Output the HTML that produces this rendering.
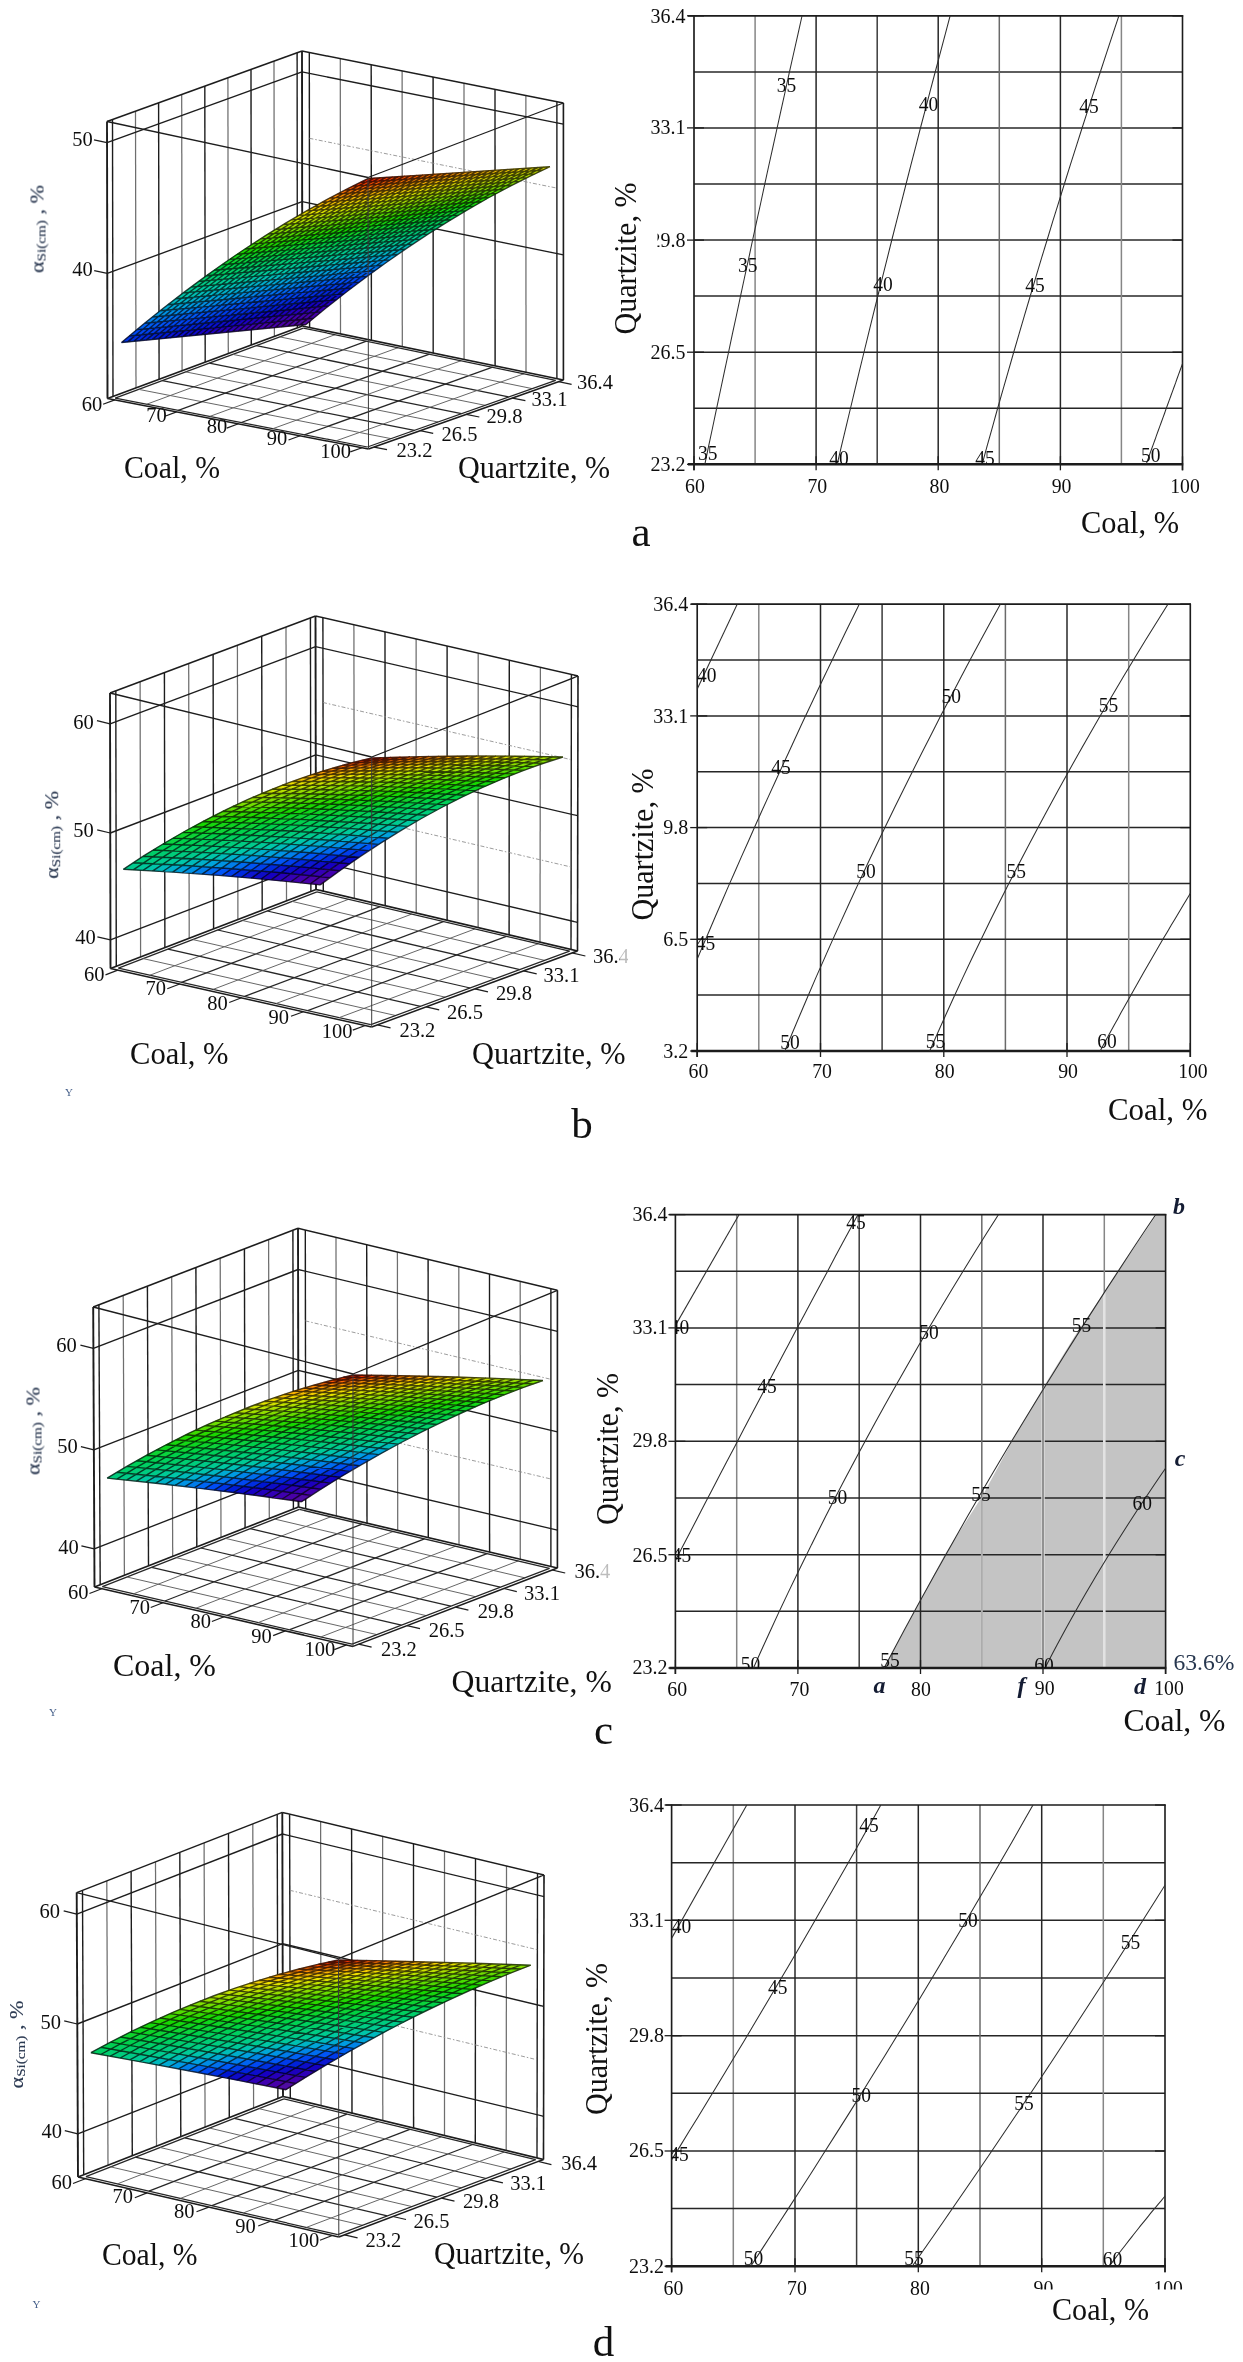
<!DOCTYPE html>
<html lang="en"><head><meta charset="utf-8"><title>Figure</title>
<style>html,body{margin:0;padding:0;background:#fff}svg{display:block}text{font-family:"Liberation Serif", "DejaVu Serif", serif}</style></head><body>
<svg width="1243" height="2362" viewBox="0 0 1243 2362">
<rect width="1243" height="2362" fill="#fff"/>
<defs><filter id="bl" filterUnits="userSpaceOnUse" x="0" y="0" width="1243" height="2362"><feGaussianBlur stdDeviation="0.6"/></filter></defs>
<g filter="url(#bl)">
<g stroke-linecap="butt">
<line x1="113" y1="396.5" x2="112.5" y2="119.5" stroke="#1c1c1c" stroke-width="1.4"/>
<line x1="309.6" y1="327.5" x2="309.3" y2="52.5" stroke="#1c1c1c" stroke-width="1.4"/>
<line x1="136" y1="387.9" x2="135.5" y2="111.2" stroke="#6e6e6e" stroke-width="1.25"/>
<line x1="340.5" y1="333.9" x2="340.3" y2="58.6" stroke="#6e6e6e" stroke-width="1.25"/>
<line x1="159.1" y1="379.3" x2="158.6" y2="102.8" stroke="#1c1c1c" stroke-width="1.4"/>
<line x1="371.4" y1="340.3" x2="371.2" y2="64.8" stroke="#1c1c1c" stroke-width="1.4"/>
<line x1="182.1" y1="370.7" x2="181.7" y2="94.5" stroke="#6e6e6e" stroke-width="1.25"/>
<line x1="402.3" y1="346.7" x2="402.1" y2="70.9" stroke="#6e6e6e" stroke-width="1.25"/>
<line x1="205.2" y1="362.1" x2="204.8" y2="86.1" stroke="#1c1c1c" stroke-width="1.4"/>
<line x1="433.2" y1="353.1" x2="433.1" y2="77.1" stroke="#1c1c1c" stroke-width="1.4"/>
<line x1="228.3" y1="353.6" x2="227.9" y2="77.8" stroke="#6e6e6e" stroke-width="1.25"/>
<line x1="464.1" y1="359.5" x2="464" y2="83.2" stroke="#6e6e6e" stroke-width="1.25"/>
<line x1="251.3" y1="345" x2="251" y2="69.5" stroke="#1c1c1c" stroke-width="1.4"/>
<line x1="495.1" y1="365.9" x2="495" y2="89.4" stroke="#1c1c1c" stroke-width="1.4"/>
<line x1="274.4" y1="336.4" x2="274" y2="61.1" stroke="#6e6e6e" stroke-width="1.25"/>
<line x1="526" y1="372.3" x2="525.9" y2="95.5" stroke="#6e6e6e" stroke-width="1.25"/>
<line x1="297.4" y1="327.8" x2="297.1" y2="52.8" stroke="#1c1c1c" stroke-width="1.4"/>
<line x1="556.9" y1="378.6" x2="556.9" y2="101.7" stroke="#1c1c1c" stroke-width="1.4"/>
<line x1="107" y1="142.6" x2="302" y2="71.9" stroke="#1c1c1c" stroke-width="1.35"/>
<line x1="302" y1="71.9" x2="563.4" y2="124.1" stroke="#1c1c1c" stroke-width="1.35"/>
<line x1="107.3" y1="273.3" x2="302.2" y2="201.7" stroke="#1c1c1c" stroke-width="1.35"/>
<line x1="302.2" y1="201.7" x2="563.4" y2="254.8" stroke="#1c1c1c" stroke-width="1.35"/>
<line x1="309.4" y1="138.3" x2="556.9" y2="188.1" stroke="#8a8a8a" stroke-width="0.85" stroke-dasharray="4 2 1.5 2"/>
<line x1="115.2" y1="398.1" x2="303.4" y2="328.1" stroke="#262626" stroke-width="1.25"/>
<line x1="115.2" y1="398.1" x2="367.4" y2="447" stroke="#262626" stroke-width="1.25"/>
<line x1="146.8" y1="404.2" x2="335" y2="334.7" stroke="#5e5e5e" stroke-width="0.95"/>
<line x1="138.8" y1="389.4" x2="390.9" y2="438.6" stroke="#5e5e5e" stroke-width="0.95"/>
<line x1="178.3" y1="410.3" x2="366.5" y2="341.2" stroke="#262626" stroke-width="1.25"/>
<line x1="162.3" y1="380.6" x2="414.4" y2="430.3" stroke="#262626" stroke-width="1.25"/>
<line x1="209.8" y1="416.4" x2="398" y2="347.7" stroke="#5e5e5e" stroke-width="0.95"/>
<line x1="185.8" y1="371.9" x2="438" y2="422" stroke="#5e5e5e" stroke-width="0.95"/>
<line x1="241.3" y1="422.5" x2="429.5" y2="354.2" stroke="#262626" stroke-width="1.25"/>
<line x1="209.3" y1="363.1" x2="461.5" y2="413.6" stroke="#262626" stroke-width="1.25"/>
<line x1="272.8" y1="428.7" x2="461.1" y2="360.7" stroke="#5e5e5e" stroke-width="0.95"/>
<line x1="232.9" y1="354.4" x2="485" y2="405.3" stroke="#5e5e5e" stroke-width="0.95"/>
<line x1="304.3" y1="434.8" x2="492.6" y2="367.2" stroke="#262626" stroke-width="1.25"/>
<line x1="256.4" y1="345.6" x2="508.6" y2="396.9" stroke="#262626" stroke-width="1.25"/>
<line x1="335.9" y1="440.9" x2="524.1" y2="373.7" stroke="#5e5e5e" stroke-width="0.95"/>
<line x1="279.9" y1="336.9" x2="532.1" y2="388.6" stroke="#5e5e5e" stroke-width="0.95"/>
<line x1="367.4" y1="447" x2="555.6" y2="380.3" stroke="#262626" stroke-width="1.25"/>
<line x1="303.4" y1="328.1" x2="555.6" y2="380.3" stroke="#262626" stroke-width="1.25"/>
<line x1="107.5" y1="398.5" x2="107" y2="121.5" stroke="#1c1c1c" stroke-width="1.9"/>
<line x1="302.3" y1="326" x2="302" y2="51" stroke="#1c1c1c" stroke-width="1.9"/>
<line x1="563.4" y1="380" x2="563.4" y2="103" stroke="#1c1c1c" stroke-width="1.6"/>
<line x1="107" y1="121.5" x2="302" y2="51" stroke="#1c1c1c" stroke-width="1.5"/>
<line x1="302" y1="51" x2="563.4" y2="103" stroke="#1c1c1c" stroke-width="1.5"/>
<line x1="107.5" y1="398.5" x2="302.3" y2="326" stroke="#1c1c1c" stroke-width="1.7"/>
<line x1="302.3" y1="326" x2="563.4" y2="380" stroke="#1c1c1c" stroke-width="1.7"/>
<line x1="107.5" y1="398.5" x2="368.5" y2="449" stroke="#1c1c1c" stroke-width="1.5"/>
<line x1="368.5" y1="449" x2="563.4" y2="380" stroke="#1c1c1c" stroke-width="1.5"/>
<line x1="107" y1="142.6" x2="94" y2="139.8" stroke="#1c1c1c" stroke-width="1.2"/>
<line x1="107.3" y1="273.3" x2="94.2" y2="270.6" stroke="#1c1c1c" stroke-width="1.2"/>
<line x1="114.8" y1="399.9" x2="103.1" y2="404.3" stroke="#1c1c1c" stroke-width="1.2"/>
<line x1="374" y1="447.1" x2="387" y2="449.6" stroke="#1c1c1c" stroke-width="1.2"/>
<line x1="176.6" y1="411.9" x2="164.9" y2="416.2" stroke="#1c1c1c" stroke-width="1.2"/>
<line x1="420.1" y1="430.7" x2="433.2" y2="433.3" stroke="#1c1c1c" stroke-width="1.2"/>
<line x1="238.4" y1="423.8" x2="226.7" y2="428.1" stroke="#1c1c1c" stroke-width="1.2"/>
<line x1="466.2" y1="414.4" x2="479.3" y2="417" stroke="#1c1c1c" stroke-width="1.2"/>
<line x1="300.2" y1="435.8" x2="288.5" y2="440" stroke="#1c1c1c" stroke-width="1.2"/>
<line x1="512.4" y1="398.1" x2="525.4" y2="400.7" stroke="#1c1c1c" stroke-width="1.2"/>
<line x1="362" y1="447.7" x2="350.3" y2="451.9" stroke="#1c1c1c" stroke-width="1.2"/>
<line x1="558.5" y1="381.7" x2="571.6" y2="384.4" stroke="#1c1c1c" stroke-width="1.2"/>
</g>
<g stroke-width="0.6" stroke-linejoin="round" fill="currentColor" stroke="currentColor">
<path d="M299.9 325.1l7.6 -6.3l6.1 -0.6l-7.6 6.3z" color="#52099e"/>
<path d="M307.5 318.8l7.6 -6.2l6.1 -0.6l-7.6 6.2z" color="#4704a9"/>
<path d="M315.1 312.5l7.6 -6.2l6.1 -0.6l-7.6 6.1z" color="#3901b3"/>
<path d="M322.7 306.4l7.6 -6.1l6.1 -0.6l-7.6 6.1z" color="#2204bd"/>
<path d="M330.4 300.3l7.6 -6l6.1 -0.6l-7.6 6z" color="#0a08c7"/>
<path d="M338 294.3l7.6 -5.9l6.1 -0.6l-7.6 5.9z" color="#061bd4"/>
<path d="M345.6 288.5l7.6 -5.8l6.1 -0.6l-7.6 5.8z" color="#042fe2"/>
<path d="M353.2 282.7l7.6 -5.7l6.1 -0.5l-7.6 5.7z" color="#0143f0"/>
<path d="M360.9 277l7.6 -5.6l6.1 -0.5l-7.6 5.6z" color="#0059f5"/>
<path d="M368.5 271.4l7.6 -5.5l6.1 -0.5l-7.6 5.5z" color="#0072ee"/>
<path d="M376.1 265.8l7.6 -5.4l6.1 -0.5l-7.6 5.4z" color="#008ae7"/>
<path d="M383.8 260.4l7.6 -5.3l6.1 -0.5l-7.6 5.3z" color="#00a1df"/>
<path d="M391.4 255.1l7.6 -5.3l6.1 -0.5l-7.6 5.2z" color="#00aecc"/>
<path d="M399 249.8l7.6 -5.2l6.1 -0.5l-7.6 5.2z" color="#00bbba"/>
<path d="M406.6 244.7l7.6 -5.1l6.1 -0.5l-7.6 5.1z" color="#00c8a8"/>
<path d="M414.3 239.6l7.6 -5l6.1 -0.5l-7.6 5z" color="#00ca96"/>
<path d="M421.9 234.6l7.6 -4.9l6.1 -0.5l-7.6 4.9z" color="#00cc84"/>
<path d="M429.5 229.7l7.6 -4.8l6.1 -0.5l-7.6 4.8z" color="#00cd72"/>
<path d="M437.2 224.9l7.6 -4.7l6.1 -0.5l-7.6 4.7z" color="#00cf60"/>
<path d="M444.8 220.2l7.6 -4.6l6.1 -0.5l-7.6 4.6z" color="#03d14d"/>
<path d="M452.4 215.6l7.6 -4.5l6.1 -0.5l-7.6 4.5z" color="#09d338"/>
<path d="M460 211l7.6 -4.4l6.1 -0.5l-7.6 4.4z" color="#0ed523"/>
<path d="M467.7 206.6l7.6 -4.4l6.1 -0.5l-7.6 4.3z" color="#14d70f"/>
<path d="M475.3 202.2l7.6 -4.3l6.1 -0.4l-7.6 4.3z" color="#1ed800"/>
<path d="M482.9 198l7.6 -4.2l6.1 -0.4l-7.6 4.2z" color="#39da00"/>
<path d="M490.5 193.8l7.6 -4.1l6.1 -0.4l-7.6 4.1z" color="#53db00"/>
<path d="M498.2 189.7l7.6 -4l6.1 -0.4l-7.6 4z" color="#6cdd00"/>
<path d="M505.8 185.7l7.6 -3.9l6.1 -0.4l-7.6 3.9z" color="#85de00"/>
<path d="M513.4 181.8l7.6 -3.8l6.1 -0.4l-7.6 3.8z" color="#9ee000"/>
<path d="M521.1 178l7.6 -3.7l6.1 -0.4l-7.6 3.7z" color="#b3e100"/>
<path d="M528.7 174.3l7.6 -3.6l6.1 -0.4l-7.6 3.6z" color="#c7e200"/>
<path d="M536.3 170.6l7.6 -3.5l6.1 -0.4l-7.6 3.5z" color="#dbe300"/>
<path d="M293.7 325.7l7.6 -6.3l6.1 -0.6l-7.6 6.3z" color="#5008a0"/>
<path d="M301.3 319.4l7.6 -6.2l6.1 -0.6l-7.6 6.2z" color="#4503ab"/>
<path d="M309 313.1l7.6 -6.2l6.1 -0.6l-7.6 6.2z" color="#3402b5"/>
<path d="M316.6 307l7.6 -6.1l6.1 -0.6l-7.6 6.1z" color="#1d05bf"/>
<path d="M324.2 300.9l7.6 -6l6.1 -0.6l-7.6 6z" color="#080aca"/>
<path d="M331.9 294.9l7.6 -5.9l6.1 -0.6l-7.6 5.9z" color="#051fd7"/>
<path d="M339.5 289l7.6 -5.8l6.1 -0.6l-7.6 5.8z" color="#0334e5"/>
<path d="M347.1 283.2l7.6 -5.7l6.1 -0.5l-7.6 5.7z" color="#0148f3"/>
<path d="M354.7 277.5l7.6 -5.6l6.1 -0.5l-7.6 5.6z" color="#005ff4"/>
<path d="M362.4 271.9l7.6 -5.5l6.1 -0.5l-7.6 5.5z" color="#0077ec"/>
<path d="M370 266.4l7.6 -5.4l6.1 -0.5l-7.6 5.4z" color="#008fe5"/>
<path d="M377.6 260.9l7.6 -5.3l6.1 -0.5l-7.6 5.3z" color="#00a4da"/>
<path d="M385.3 255.6l7.6 -5.3l6.1 -0.5l-7.6 5.3z" color="#00b1c8"/>
<path d="M392.9 250.3l7.6 -5.2l6.1 -0.5l-7.6 5.2z" color="#00beb6"/>
<path d="M400.5 245.2l7.6 -5.1l6.1 -0.5l-7.6 5.1z" color="#00c8a4"/>
<path d="M408.2 240.1l7.6 -5l6.1 -0.5l-7.6 5z" color="#00ca91"/>
<path d="M415.8 235.1l7.6 -4.9l6.1 -0.5l-7.6 4.9z" color="#00cc7f"/>
<path d="M423.4 230.2l7.6 -4.8l6.1 -0.5l-7.6 4.8z" color="#00ce6d"/>
<path d="M431.1 225.4l7.6 -4.7l6.1 -0.5l-7.6 4.7z" color="#00d05b"/>
<path d="M438.7 220.7l7.6 -4.6l6.1 -0.5l-7.6 4.6z" color="#05d247"/>
<path d="M446.3 216l7.6 -4.5l6.1 -0.5l-7.6 4.5z" color="#0ad332"/>
<path d="M453.9 211.5l7.6 -4.5l6.1 -0.5l-7.6 4.4z" color="#10d51d"/>
<path d="M461.6 207l7.6 -4.4l6.1 -0.5l-7.6 4.4z" color="#15d709"/>
<path d="M469.2 202.7l7.6 -4.3l6.1 -0.4l-7.6 4.3z" color="#26d900"/>
<path d="M476.8 198.4l7.6 -4.2l6.1 -0.4l-7.6 4.2z" color="#41da00"/>
<path d="M484.5 194.2l7.6 -4.1l6.1 -0.4l-7.6 4.1z" color="#5adc00"/>
<path d="M492.1 190.1l7.6 -4l6.1 -0.4l-7.6 4z" color="#74dd00"/>
<path d="M499.7 186.1l7.6 -3.9l6.1 -0.4l-7.6 3.9z" color="#8ddf00"/>
<path d="M507.4 182.2l7.6 -3.8l6.1 -0.4l-7.6 3.8z" color="#a5e000"/>
<path d="M515 178.4l7.6 -3.7l6.1 -0.4l-7.6 3.7z" color="#b9e100"/>
<path d="M522.6 174.7l7.6 -3.6l6.1 -0.4l-7.6 3.6z" color="#cde200"/>
<path d="M530.3 171l7.6 -3.6l6.1 -0.4l-7.6 3.5z" color="#e1e300"/>
<path d="M287.6 326.3l7.6 -6.3l6.1 -0.6l-7.6 6.3z" color="#4d07a3"/>
<path d="M295.2 320l7.6 -6.3l6.1 -0.6l-7.6 6.2z" color="#4302ad"/>
<path d="M302.8 313.7l7.6 -6.2l6.1 -0.6l-7.6 6.2z" color="#2f02b7"/>
<path d="M310.5 307.5l7.6 -6.1l6.1 -0.6l-7.6 6.1z" color="#1806c1"/>
<path d="M318.1 301.5l7.6 -6l6.1 -0.6l-7.6 6z" color="#070fcd"/>
<path d="M325.7 295.5l7.6 -5.9l6.1 -0.6l-7.6 5.9z" color="#0524db"/>
<path d="M333.4 289.6l7.6 -5.8l6.1 -0.6l-7.6 5.8z" color="#0338e8"/>
<path d="M341 283.8l7.6 -5.7l6.1 -0.5l-7.6 5.7z" color="#004df6"/>
<path d="M348.6 278.1l7.6 -5.6l6.1 -0.5l-7.6 5.6z" color="#0064f2"/>
<path d="M356.3 272.4l7.6 -5.5l6.1 -0.5l-7.6 5.5z" color="#007deb"/>
<path d="M363.9 266.9l7.6 -5.4l6.1 -0.5l-7.6 5.4z" color="#0095e3"/>
<path d="M371.5 261.5l7.6 -5.4l6.1 -0.5l-7.6 5.3z" color="#00a7d6"/>
<path d="M379.2 256.1l7.6 -5.3l6.1 -0.5l-7.6 5.3z" color="#00b4c3"/>
<path d="M386.8 250.8l7.6 -5.2l6.1 -0.5l-7.6 5.2z" color="#00c1b1"/>
<path d="M394.4 245.7l7.6 -5.1l6.1 -0.5l-7.6 5.1z" color="#00c99f"/>
<path d="M402.1 240.6l7.6 -5l6.1 -0.5l-7.6 5z" color="#00cb8c"/>
<path d="M409.7 235.6l7.6 -4.9l6.1 -0.5l-7.6 4.9z" color="#00cd7a"/>
<path d="M417.3 230.7l7.6 -4.8l6.1 -0.5l-7.6 4.8z" color="#00ce68"/>
<path d="M425 225.9l7.6 -4.7l6.1 -0.5l-7.6 4.7z" color="#00d056"/>
<path d="M432.6 221.1l7.6 -4.6l6.1 -0.5l-7.6 4.6z" color="#06d241"/>
<path d="M440.2 216.5l7.6 -4.5l6.1 -0.5l-7.6 4.5z" color="#0cd42c"/>
<path d="M447.9 212l7.6 -4.5l6.1 -0.5l-7.6 4.5z" color="#12d618"/>
<path d="M455.5 207.5l7.6 -4.4l6.1 -0.5l-7.6 4.4z" color="#17d804"/>
<path d="M463.1 203.1l7.6 -4.3l6.1 -0.4l-7.6 4.3z" color="#2ed900"/>
<path d="M470.8 198.9l7.6 -4.2l6.1 -0.4l-7.6 4.2z" color="#48db00"/>
<path d="M478.4 194.7l7.6 -4.1l6.1 -0.4l-7.6 4.1z" color="#62dc00"/>
<path d="M486 190.6l7.6 -4l6.1 -0.4l-7.6 4z" color="#7cde00"/>
<path d="M493.7 186.6l7.6 -3.9l6.1 -0.4l-7.6 3.9z" color="#95df00"/>
<path d="M501.3 182.7l7.6 -3.8l6.1 -0.4l-7.6 3.8z" color="#abe100"/>
<path d="M508.9 178.8l7.6 -3.7l6.1 -0.4l-7.6 3.7z" color="#c0e200"/>
<path d="M516.6 175.1l7.6 -3.6l6.1 -0.4l-7.6 3.6z" color="#d4e300"/>
<path d="M524.2 171.4l7.6 -3.6l6.1 -0.4l-7.6 3.6z" color="#e8e400"/>
<path d="M281.4 326.9l7.6 -6.3l6.1 -0.6l-7.6 6.3z" color="#4b06a5"/>
<path d="M289 320.6l7.6 -6.3l6.1 -0.6l-7.6 6.3z" color="#4100af"/>
<path d="M296.7 314.3l7.6 -6.2l6.1 -0.6l-7.6 6.2z" color="#2a03b9"/>
<path d="M304.3 308.1l7.6 -6.1l6.1 -0.6l-7.6 6.1z" color="#1306c3"/>
<path d="M311.9 302l7.6 -6l6.1 -0.6l-7.6 6z" color="#0714d0"/>
<path d="M319.6 296.1l7.6 -5.9l6.1 -0.6l-7.6 5.9z" color="#0428de"/>
<path d="M327.2 290.1l7.6 -5.8l6.1 -0.6l-7.6 5.8z" color="#023deb"/>
<path d="M334.9 284.3l7.6 -5.7l6.1 -0.5l-7.6 5.7z" color="#0051f8"/>
<path d="M342.5 278.6l7.6 -5.6l6.1 -0.5l-7.6 5.6z" color="#006af0"/>
<path d="M350.1 273l7.6 -5.5l6.1 -0.5l-7.6 5.5z" color="#0083e9"/>
<path d="M357.8 267.4l7.6 -5.5l6.1 -0.5l-7.6 5.4z" color="#009be2"/>
<path d="M365.4 262l7.6 -5.4l6.1 -0.5l-7.6 5.4z" color="#00aad1"/>
<path d="M373 256.6l7.6 -5.3l6.1 -0.5l-7.6 5.3z" color="#00b8bf"/>
<path d="M380.7 251.4l7.6 -5.2l6.1 -0.5l-7.6 5.2z" color="#00c5ad"/>
<path d="M388.3 246.2l7.6 -5.1l6.1 -0.5l-7.6 5.1z" color="#00c99a"/>
<path d="M396 241.1l7.6 -5l6.1 -0.5l-7.6 5z" color="#00cb88"/>
<path d="M403.6 236.1l7.6 -4.9l6.1 -0.5l-7.6 4.9z" color="#00cd75"/>
<path d="M411.2 231.2l7.6 -4.8l6.1 -0.5l-7.6 4.8z" color="#00cf63"/>
<path d="M418.9 226.4l7.6 -4.7l6.1 -0.5l-7.6 4.7z" color="#02d150"/>
<path d="M426.5 221.6l7.6 -4.6l6.1 -0.5l-7.6 4.6z" color="#08d33b"/>
<path d="M434.1 217l7.6 -4.6l6.1 -0.5l-7.6 4.5z" color="#0dd427"/>
<path d="M441.8 212.4l7.6 -4.5l6.1 -0.5l-7.6 4.5z" color="#13d612"/>
<path d="M449.4 208l7.6 -4.4l6.1 -0.5l-7.6 4.4z" color="#1bd800"/>
<path d="M457 203.6l7.6 -4.3l6.1 -0.4l-7.6 4.3z" color="#36da00"/>
<path d="M464.7 199.3l7.6 -4.2l6.1 -0.4l-7.6 4.2z" color="#50db00"/>
<path d="M472.3 195.1l7.6 -4.1l6.1 -0.4l-7.6 4.1z" color="#6add00"/>
<path d="M480 191l7.6 -4l6.1 -0.4l-7.6 4z" color="#84de00"/>
<path d="M487.6 187l7.6 -3.9l6.1 -0.4l-7.6 3.9z" color="#9de000"/>
<path d="M495.2 183.1l7.6 -3.8l6.1 -0.4l-7.6 3.8z" color="#b2e100"/>
<path d="M502.9 179.2l7.6 -3.7l6.1 -0.4l-7.6 3.7z" color="#c7e200"/>
<path d="M510.5 175.5l7.6 -3.7l6.1 -0.4l-7.6 3.6z" color="#dbe300"/>
<path d="M518.1 171.8l7.6 -3.6l6.1 -0.4l-7.6 3.6z" color="#efe400"/>
<path d="M275.2 327.5l7.6 -6.4l6.1 -0.6l-7.6 6.3z" color="#4905a7"/>
<path d="M282.9 321.1l7.6 -6.3l6.1 -0.6l-7.6 6.3z" color="#3d00b1"/>
<path d="M290.5 314.9l7.6 -6.2l6.1 -0.6l-7.6 6.2z" color="#2504bc"/>
<path d="M298.2 308.7l7.6 -6.1l6.1 -0.6l-7.6 6.1z" color="#0e07c6"/>
<path d="M305.8 302.6l7.6 -6l6.1 -0.6l-7.6 6z" color="#0618d3"/>
<path d="M313.4 296.6l7.6 -5.9l6.1 -0.6l-7.6 5.9z" color="#042de1"/>
<path d="M321.1 290.7l7.6 -5.8l6.1 -0.6l-7.6 5.8z" color="#0241ee"/>
<path d="M328.7 284.9l7.6 -5.7l6.1 -0.5l-7.6 5.7z" color="#0057f6"/>
<path d="M336.4 279.2l7.6 -5.6l6.1 -0.5l-7.6 5.6z" color="#0070ee"/>
<path d="M344 273.5l7.6 -5.5l6.1 -0.5l-7.6 5.5z" color="#0088e7"/>
<path d="M351.6 268l7.6 -5.5l6.1 -0.5l-7.6 5.5z" color="#00a0e0"/>
<path d="M359.3 262.5l7.6 -5.4l6.1 -0.5l-7.6 5.4z" color="#00aecd"/>
<path d="M366.9 257.2l7.6 -5.3l6.1 -0.5l-7.6 5.3z" color="#00bbba"/>
<path d="M374.6 251.9l7.6 -5.2l6.1 -0.5l-7.6 5.2z" color="#00c8a8"/>
<path d="M382.2 246.7l7.6 -5.1l6.1 -0.5l-7.6 5.1z" color="#00ca95"/>
<path d="M389.8 241.6l7.6 -5l6.1 -0.5l-7.6 5z" color="#00cc83"/>
<path d="M397.5 236.6l7.6 -4.9l6.1 -0.5l-7.6 4.9z" color="#00ce71"/>
<path d="M405.1 231.7l7.6 -4.8l6.1 -0.5l-7.6 4.8z" color="#00cf5f"/>
<path d="M412.8 226.8l7.6 -4.7l6.1 -0.5l-7.6 4.7z" color="#04d14b"/>
<path d="M420.4 222.1l7.6 -4.6l6.1 -0.5l-7.6 4.6z" color="#09d336"/>
<path d="M428 217.4l7.6 -4.6l6.1 -0.5l-7.6 4.6z" color="#0fd521"/>
<path d="M435.7 212.9l7.6 -4.5l6.1 -0.5l-7.6 4.5z" color="#15d70c"/>
<path d="M443.3 208.4l7.6 -4.4l6.1 -0.5l-7.6 4.4z" color="#23d900"/>
<path d="M451 204l7.6 -4.3l6.1 -0.4l-7.6 4.3z" color="#3dda00"/>
<path d="M458.6 199.7l7.6 -4.2l6.1 -0.4l-7.6 4.2z" color="#58dc00"/>
<path d="M466.2 195.6l7.6 -4.1l6.1 -0.4l-7.6 4.1z" color="#72dd00"/>
<path d="M473.9 191.4l7.6 -4l6.1 -0.4l-7.6 4z" color="#8bdf00"/>
<path d="M481.5 187.4l7.6 -3.9l6.1 -0.4l-7.6 3.9z" color="#a4e000"/>
<path d="M489.2 183.5l7.6 -3.8l6.1 -0.4l-7.6 3.8z" color="#b9e100"/>
<path d="M496.8 179.6l7.6 -3.8l6.1 -0.4l-7.6 3.7z" color="#cde200"/>
<path d="M504.4 175.9l7.6 -3.7l6.1 -0.4l-7.6 3.7z" color="#e1e300"/>
<path d="M512.1 172.2l7.6 -3.6l6.1 -0.4l-7.6 3.6z" color="#f1df00"/>
<path d="M269.1 328.1l7.6 -6.4l6.1 -0.6l-7.6 6.4z" color="#4703a9"/>
<path d="M276.7 321.7l7.6 -6.3l6.1 -0.6l-7.6 6.3z" color="#3801b3"/>
<path d="M284.4 315.5l7.6 -6.2l6.1 -0.6l-7.6 6.2z" color="#2005be"/>
<path d="M292 309.3l7.6 -6.1l6.1 -0.6l-7.6 6.1z" color="#0808c8"/>
<path d="M299.7 303.2l7.6 -6l6.1 -0.6l-7.6 6z" color="#061dd6"/>
<path d="M307.3 297.2l7.6 -5.9l6.1 -0.6l-7.6 5.9z" color="#0331e4"/>
<path d="M315 291.3l7.6 -5.8l6.1 -0.6l-7.6 5.8z" color="#0146f1"/>
<path d="M322.6 285.4l7.6 -5.7l6.1 -0.5l-7.6 5.7z" color="#005df4"/>
<path d="M330.2 279.7l7.6 -5.6l6.1 -0.5l-7.6 5.6z" color="#0075ed"/>
<path d="M337.9 274.1l7.6 -5.6l6.1 -0.5l-7.6 5.5z" color="#008ee5"/>
<path d="M345.5 268.5l7.6 -5.5l6.1 -0.5l-7.6 5.5z" color="#00a3db"/>
<path d="M353.2 263.1l7.6 -5.4l6.1 -0.5l-7.6 5.4z" color="#00b1c8"/>
<path d="M360.8 257.7l7.6 -5.3l6.1 -0.5l-7.6 5.3z" color="#00beb6"/>
<path d="M368.5 252.4l7.6 -5.2l6.1 -0.5l-7.6 5.2z" color="#00c8a4"/>
<path d="M376.1 247.2l7.6 -5.1l6.1 -0.5l-7.6 5.1z" color="#00ca91"/>
<path d="M383.7 242.1l7.6 -5l6.1 -0.5l-7.6 5z" color="#00cc7e"/>
<path d="M391.4 237.1l7.6 -4.9l6.1 -0.5l-7.6 4.9z" color="#00ce6c"/>
<path d="M399 232.2l7.6 -4.8l6.1 -0.5l-7.6 4.8z" color="#00d05a"/>
<path d="M406.7 227.3l7.6 -4.7l6.1 -0.5l-7.6 4.7z" color="#05d245"/>
<path d="M414.3 222.6l7.6 -4.7l6.1 -0.5l-7.6 4.6z" color="#0bd430"/>
<path d="M422 217.9l7.6 -4.6l6.1 -0.5l-7.6 4.6z" color="#11d61b"/>
<path d="M429.6 213.4l7.6 -4.5l6.1 -0.5l-7.6 4.5z" color="#16d707"/>
<path d="M437.2 208.9l7.6 -4.4l6.1 -0.5l-7.6 4.4z" color="#2ad900"/>
<path d="M444.9 204.5l7.6 -4.3l6.1 -0.4l-7.6 4.3z" color="#45db00"/>
<path d="M452.5 200.2l7.6 -4.2l6.1 -0.4l-7.6 4.2z" color="#60dc00"/>
<path d="M460.2 196l7.6 -4.1l6.1 -0.4l-7.6 4.1z" color="#7ade00"/>
<path d="M467.8 191.9l7.6 -4l6.1 -0.4l-7.6 4z" color="#93df00"/>
<path d="M475.4 187.8l7.6 -3.9l6.1 -0.4l-7.6 3.9z" color="#aae100"/>
<path d="M483.1 183.9l7.6 -3.8l6.1 -0.4l-7.6 3.8z" color="#bfe200"/>
<path d="M490.7 180.1l7.6 -3.8l6.1 -0.4l-7.6 3.8z" color="#d4e300"/>
<path d="M498.4 176.3l7.6 -3.7l6.1 -0.4l-7.6 3.7z" color="#e8e400"/>
<path d="M506 172.6l7.6 -3.6l6.1 -0.4l-7.6 3.6z" color="#f2d800"/>
<path d="M263 328.7l7.6 -6.4l6.1 -0.6l-7.6 6.4z" color="#4502ab"/>
<path d="M270.6 322.3l7.6 -6.3l6.1 -0.6l-7.6 6.3z" color="#3302b6"/>
<path d="M278.2 316.1l7.6 -6.2l6.1 -0.6l-7.6 6.2z" color="#1b05c0"/>
<path d="M285.9 309.9l7.6 -6.1l6.1 -0.6l-7.6 6.1z" color="#080ccb"/>
<path d="M293.5 303.8l7.6 -6l6.1 -0.6l-7.6 6z" color="#0521d9"/>
<path d="M301.2 297.8l7.6 -5.9l6.1 -0.6l-7.6 5.9z" color="#0336e7"/>
<path d="M308.8 291.8l7.6 -5.8l6.1 -0.6l-7.6 5.8z" color="#014bf4"/>
<path d="M316.5 286l7.6 -5.7l6.1 -0.5l-7.6 5.7z" color="#0062f3"/>
<path d="M324.1 280.3l7.6 -5.7l6.1 -0.5l-7.6 5.6z" color="#007beb"/>
<path d="M331.8 274.6l7.6 -5.6l6.1 -0.5l-7.6 5.6z" color="#0094e4"/>
<path d="M339.4 269.1l7.6 -5.5l6.1 -0.5l-7.6 5.5z" color="#00a7d7"/>
<path d="M347 263.6l7.6 -5.4l6.1 -0.5l-7.6 5.4z" color="#00b4c4"/>
<path d="M354.7 258.2l7.6 -5.3l6.1 -0.5l-7.6 5.3z" color="#00c1b1"/>
<path d="M362.3 252.9l7.6 -5.2l6.1 -0.5l-7.6 5.2z" color="#00c99f"/>
<path d="M370 247.7l7.6 -5.1l6.1 -0.5l-7.6 5.1z" color="#00cb8c"/>
<path d="M377.6 242.6l7.6 -5l6.1 -0.5l-7.6 5z" color="#00cd7a"/>
<path d="M385.3 237.6l7.6 -4.9l6.1 -0.5l-7.6 4.9z" color="#00ce67"/>
<path d="M392.9 232.6l7.6 -4.8l6.1 -0.5l-7.6 4.8z" color="#01d055"/>
<path d="M400.6 227.8l7.6 -4.8l6.1 -0.5l-7.6 4.7z" color="#07d23f"/>
<path d="M408.2 223.1l7.6 -4.7l6.1 -0.5l-7.6 4.7z" color="#0cd42a"/>
<path d="M415.9 218.4l7.6 -4.6l6.1 -0.5l-7.6 4.6z" color="#12d615"/>
<path d="M423.5 213.8l7.6 -4.5l6.1 -0.5l-7.6 4.5z" color="#18d801"/>
<path d="M431.1 209.3l7.6 -4.4l6.1 -0.5l-7.6 4.4z" color="#32da00"/>
<path d="M438.8 204.9l7.6 -4.3l6.1 -0.4l-7.6 4.3z" color="#4ddb00"/>
<path d="M446.4 200.6l7.6 -4.2l6.1 -0.4l-7.6 4.2z" color="#67dd00"/>
<path d="M454.1 196.4l7.6 -4.1l6.1 -0.4l-7.6 4.1z" color="#81de00"/>
<path d="M461.7 192.3l7.6 -4l6.1 -0.4l-7.6 4z" color="#9be000"/>
<path d="M469.4 188.3l7.6 -3.9l6.1 -0.4l-7.6 3.9z" color="#b1e100"/>
<path d="M477 184.3l7.6 -3.9l6.1 -0.4l-7.6 3.8z" color="#c6e200"/>
<path d="M484.7 180.5l7.6 -3.8l6.1 -0.4l-7.6 3.8z" color="#dae300"/>
<path d="M492.3 176.7l7.6 -3.7l6.1 -0.4l-7.6 3.7z" color="#efe400"/>
<path d="M500 173l7.6 -3.6l6.1 -0.4l-7.6 3.6z" color="#f3d200"/>
<path d="M256.8 329.3l7.6 -6.4l6.1 -0.6l-7.6 6.4z" color="#4301ad"/>
<path d="M264.4 322.9l7.6 -6.3l6.1 -0.6l-7.6 6.3z" color="#2e03b8"/>
<path d="M272.1 316.6l7.6 -6.2l6.1 -0.6l-7.6 6.2z" color="#1606c2"/>
<path d="M279.7 310.4l7.6 -6.1l6.1 -0.6l-7.6 6.1z" color="#0711ce"/>
<path d="M287.4 304.3l7.6 -6l6.1 -0.6l-7.6 6z" color="#0526dc"/>
<path d="M295 298.3l7.6 -5.9l6.1 -0.6l-7.6 5.9z" color="#023bea"/>
<path d="M302.7 292.4l7.6 -5.8l6.1 -0.6l-7.6 5.8z" color="#004ff7"/>
<path d="M310.3 286.6l7.6 -5.7l6.1 -0.5l-7.6 5.7z" color="#0068f1"/>
<path d="M318 280.8l7.6 -5.7l6.1 -0.5l-7.6 5.7z" color="#0081e9"/>
<path d="M325.6 275.2l7.6 -5.6l6.1 -0.5l-7.6 5.6z" color="#0099e2"/>
<path d="M333.3 269.6l7.6 -5.5l6.1 -0.5l-7.6 5.5z" color="#00aad2"/>
<path d="M340.9 264.1l7.6 -5.4l6.1 -0.5l-7.6 5.4z" color="#00b7c0"/>
<path d="M348.6 258.7l7.6 -5.3l6.1 -0.5l-7.6 5.3z" color="#00c4ad"/>
<path d="M356.2 253.4l7.6 -5.2l6.1 -0.5l-7.6 5.2z" color="#00c99a"/>
<path d="M363.9 248.2l7.6 -5.1l6.1 -0.5l-7.6 5.1z" color="#00cb87"/>
<path d="M371.5 243.1l7.6 -5l6.1 -0.5l-7.6 5z" color="#00cd75"/>
<path d="M379.2 238.1l7.6 -4.9l6.1 -0.5l-7.6 4.9z" color="#00cf63"/>
<path d="M386.8 233.1l7.6 -4.8l6.1 -0.5l-7.6 4.8z" color="#02d14f"/>
<path d="M394.5 228.3l7.6 -4.8l6.1 -0.5l-7.6 4.8z" color="#08d33a"/>
<path d="M402.1 223.5l7.6 -4.7l6.1 -0.5l-7.6 4.7z" color="#0ed524"/>
<path d="M409.8 218.9l7.6 -4.6l6.1 -0.5l-7.6 4.6z" color="#14d710"/>
<path d="M417.4 214.3l7.6 -4.5l6.1 -0.5l-7.6 4.5z" color="#1fd800"/>
<path d="M425.1 209.8l7.6 -4.4l6.1 -0.5l-7.6 4.4z" color="#3ada00"/>
<path d="M432.7 205.4l7.6 -4.3l6.1 -0.4l-7.6 4.3z" color="#55dc00"/>
<path d="M440.4 201.1l7.6 -4.2l6.1 -0.4l-7.6 4.2z" color="#6fdd00"/>
<path d="M448 196.9l7.6 -4.1l6.1 -0.4l-7.6 4.1z" color="#89df00"/>
<path d="M455.7 192.7l7.6 -4l6.1 -0.4l-7.6 4z" color="#a2e000"/>
<path d="M463.3 188.7l7.6 -3.9l6.1 -0.4l-7.6 3.9z" color="#b8e100"/>
<path d="M471 184.7l7.6 -3.9l6.1 -0.4l-7.6 3.9z" color="#cde200"/>
<path d="M478.6 180.9l7.6 -3.8l6.1 -0.4l-7.6 3.8z" color="#e1e300"/>
<path d="M486.2 177.1l7.6 -3.7l6.1 -0.4l-7.6 3.7z" color="#f1df00"/>
<path d="M493.9 173.4l7.6 -3.6l6.1 -0.4l-7.6 3.6z" color="#f4cb00"/>
<path d="M250.7 329.9l7.7 -6.4l6.1 -0.6l-7.6 6.4z" color="#4100af"/>
<path d="M258.3 323.5l7.7 -6.3l6.1 -0.6l-7.6 6.3z" color="#2903ba"/>
<path d="M266 317.2l7.7 -6.2l6.1 -0.6l-7.6 6.2z" color="#1107c4"/>
<path d="M273.6 311l7.7 -6.1l6.1 -0.6l-7.6 6.1z" color="#0715d1"/>
<path d="M281.3 304.9l7.7 -6l6.1 -0.6l-7.6 6z" color="#042adf"/>
<path d="M288.9 298.9l7.7 -5.9l6.1 -0.6l-7.6 5.9z" color="#023fed"/>
<path d="M296.6 293l7.7 -5.8l6.1 -0.6l-7.6 5.8z" color="#0055f7"/>
<path d="M304.2 287.1l7.7 -5.8l6.1 -0.5l-7.6 5.7z" color="#006eef"/>
<path d="M311.9 281.4l7.7 -5.7l6.1 -0.5l-7.6 5.7z" color="#0086e8"/>
<path d="M319.5 275.7l7.7 -5.6l6.1 -0.5l-7.6 5.6z" color="#009fe0"/>
<path d="M327.2 270.1l7.7 -5.5l6.1 -0.5l-7.6 5.5z" color="#00adce"/>
<path d="M334.8 264.6l7.7 -5.4l6.1 -0.5l-7.6 5.4z" color="#00babb"/>
<path d="M342.5 259.2l7.7 -5.3l6.1 -0.5l-7.6 5.3z" color="#00c8a9"/>
<path d="M350.1 253.9l7.7 -5.2l6.1 -0.5l-7.6 5.2z" color="#00ca96"/>
<path d="M357.8 248.7l7.7 -5.1l6.1 -0.5l-7.6 5.1z" color="#00cc83"/>
<path d="M365.4 243.6l7.7 -5l6.1 -0.5l-7.6 5z" color="#00ce70"/>
<path d="M373.1 238.6l7.7 -4.9l6.1 -0.5l-7.6 4.9z" color="#00cf5e"/>
<path d="M380.7 233.6l7.7 -4.9l6.1 -0.5l-7.6 4.8z" color="#04d149"/>
<path d="M388.4 228.8l7.7 -4.8l6.1 -0.5l-7.6 4.8z" color="#0ad334"/>
<path d="M396 224l7.7 -4.7l6.1 -0.5l-7.6 4.7z" color="#10d51f"/>
<path d="M403.7 219.3l7.7 -4.6l6.1 -0.5l-7.6 4.6z" color="#15d70a"/>
<path d="M411.3 214.7l7.7 -4.5l6.1 -0.5l-7.6 4.5z" color="#26d900"/>
<path d="M419 210.3l7.7 -4.4l6.1 -0.5l-7.6 4.4z" color="#42da00"/>
<path d="M426.6 205.8l7.7 -4.3l6.1 -0.4l-7.6 4.3z" color="#5cdc00"/>
<path d="M434.3 201.5l7.7 -4.2l6.1 -0.4l-7.6 4.2z" color="#77de00"/>
<path d="M441.9 197.3l7.7 -4.1l6.1 -0.4l-7.6 4.1z" color="#91df00"/>
<path d="M449.6 193.2l7.7 -4l6.1 -0.4l-7.6 4z" color="#a9e000"/>
<path d="M457.2 189.1l7.7 -4l6.1 -0.4l-7.6 3.9z" color="#bee200"/>
<path d="M464.9 185.2l7.7 -3.9l6.1 -0.4l-7.6 3.9z" color="#d3e300"/>
<path d="M472.5 181.3l7.7 -3.8l6.1 -0.4l-7.6 3.8z" color="#e8e400"/>
<path d="M480.2 177.5l7.7 -3.7l6.1 -0.4l-7.6 3.7z" color="#f2d800"/>
<path d="M487.8 173.8l7.7 -3.6l6.1 -0.4l-7.6 3.6z" color="#f6c400"/>
<path d="M244.5 330.5l7.7 -6.4l6.1 -0.6l-7.7 6.4z" color="#3c01b2"/>
<path d="M252.2 324.1l7.7 -6.3l6.1 -0.6l-7.7 6.3z" color="#2404bc"/>
<path d="M259.8 317.8l7.7 -6.2l6.1 -0.6l-7.7 6.2z" color="#0c07c6"/>
<path d="M267.5 311.6l7.7 -6.1l6.1 -0.6l-7.7 6.1z" color="#061ad4"/>
<path d="M275.1 305.5l7.7 -6l6.1 -0.6l-7.7 6z" color="#042fe2"/>
<path d="M282.8 299.5l7.7 -5.9l6.1 -0.6l-7.7 5.9z" color="#0144f0"/>
<path d="M290.4 293.5l7.7 -5.8l6.1 -0.6l-7.7 5.8z" color="#005af5"/>
<path d="M298.1 287.7l7.7 -5.8l6.1 -0.5l-7.7 5.8z" color="#0073ed"/>
<path d="M305.7 281.9l7.7 -5.7l6.1 -0.5l-7.7 5.7z" color="#008ce6"/>
<path d="M313.4 276.2l7.7 -5.6l6.1 -0.5l-7.7 5.6z" color="#00a3dc"/>
<path d="M321 270.7l7.7 -5.5l6.1 -0.5l-7.7 5.5z" color="#00b0c9"/>
<path d="M328.7 265.2l7.7 -5.4l6.1 -0.5l-7.7 5.4z" color="#00beb7"/>
<path d="M336.4 259.8l7.7 -5.3l6.1 -0.5l-7.7 5.3z" color="#00c8a4"/>
<path d="M344 254.5l7.7 -5.2l6.1 -0.5l-7.7 5.2z" color="#00ca91"/>
<path d="M351.7 249.2l7.7 -5.1l6.1 -0.5l-7.7 5.1z" color="#00cc7e"/>
<path d="M359.3 244.1l7.7 -5l6.1 -0.5l-7.7 5z" color="#00ce6c"/>
<path d="M367 239.1l7.7 -5l6.1 -0.5l-7.7 4.9z" color="#00d059"/>
<path d="M374.6 234.1l7.7 -4.9l6.1 -0.5l-7.7 4.9z" color="#06d244"/>
<path d="M382.3 229.3l7.7 -4.8l6.1 -0.5l-7.7 4.8z" color="#0bd42e"/>
<path d="M389.9 224.5l7.7 -4.7l6.1 -0.5l-7.7 4.7z" color="#11d619"/>
<path d="M397.6 219.8l7.7 -4.6l6.1 -0.5l-7.7 4.6z" color="#17d804"/>
<path d="M405.2 215.2l7.7 -4.5l6.1 -0.5l-7.7 4.5z" color="#2ed900"/>
<path d="M412.9 210.7l7.7 -4.4l6.1 -0.5l-7.7 4.4z" color="#49db00"/>
<path d="M420.5 206.3l7.7 -4.3l6.1 -0.4l-7.7 4.3z" color="#64dc00"/>
<path d="M428.2 202l7.7 -4.2l6.1 -0.4l-7.7 4.2z" color="#7fde00"/>
<path d="M435.9 197.7l7.7 -4.1l6.1 -0.4l-7.7 4.1z" color="#99e000"/>
<path d="M443.5 193.6l7.7 -4.1l6.1 -0.4l-7.7 4z" color="#afe100"/>
<path d="M451.2 189.5l7.7 -4l6.1 -0.4l-7.7 4z" color="#c5e200"/>
<path d="M458.8 185.6l7.7 -3.9l6.1 -0.4l-7.7 3.9z" color="#dae300"/>
<path d="M466.5 181.7l7.7 -3.8l6.1 -0.4l-7.7 3.8z" color="#eee400"/>
<path d="M474.1 177.9l7.7 -3.7l6.1 -0.4l-7.7 3.7z" color="#f3d200"/>
<path d="M481.8 174.2l7.7 -3.6l6.1 -0.4l-7.7 3.6z" color="#f7be00"/>
<path d="M238.3 331.1l7.7 -6.4l6.1 -0.6l-7.7 6.4z" color="#3701b4"/>
<path d="M246 324.7l7.7 -6.3l6.1 -0.6l-7.7 6.3z" color="#1f05be"/>
<path d="M253.7 318.4l7.7 -6.2l6.1 -0.6l-7.7 6.2z" color="#0809c9"/>
<path d="M261.3 312.2l7.7 -6.1l6.1 -0.6l-7.7 6.1z" color="#061ed7"/>
<path d="M269 306.1l7.7 -6l6.1 -0.6l-7.7 6z" color="#0333e5"/>
<path d="M276.6 300l7.7 -5.9l6.1 -0.6l-7.7 5.9z" color="#0148f3"/>
<path d="M284.3 294.1l7.7 -5.9l6.1 -0.6l-7.7 5.8z" color="#0060f3"/>
<path d="M291.9 288.2l7.7 -5.8l6.1 -0.5l-7.7 5.8z" color="#0079ec"/>
<path d="M299.6 282.5l7.7 -5.7l6.1 -0.5l-7.7 5.7z" color="#0092e4"/>
<path d="M307.3 276.8l7.7 -5.6l6.1 -0.5l-7.7 5.6z" color="#00a6d8"/>
<path d="M314.9 271.2l7.7 -5.5l6.1 -0.5l-7.7 5.5z" color="#00b3c5"/>
<path d="M322.6 265.7l7.7 -5.4l6.1 -0.5l-7.7 5.4z" color="#00c1b2"/>
<path d="M330.2 260.3l7.7 -5.3l6.1 -0.5l-7.7 5.3z" color="#00c99f"/>
<path d="M337.9 255l7.7 -5.2l6.1 -0.5l-7.7 5.2z" color="#00cb8c"/>
<path d="M345.5 249.7l7.7 -5.1l6.1 -0.5l-7.7 5.1z" color="#00cd79"/>
<path d="M353.2 244.6l7.7 -5l6.1 -0.5l-7.7 5z" color="#00cf67"/>
<path d="M360.9 239.6l7.7 -5l6.1 -0.5l-7.7 5z" color="#01d054"/>
<path d="M368.5 234.6l7.7 -4.9l6.1 -0.5l-7.7 4.9z" color="#07d23e"/>
<path d="M376.2 229.7l7.7 -4.8l6.1 -0.5l-7.7 4.8z" color="#0dd429"/>
<path d="M383.8 225l7.7 -4.7l6.1 -0.5l-7.7 4.7z" color="#13d613"/>
<path d="M391.5 220.3l7.7 -4.6l6.1 -0.5l-7.7 4.6z" color="#1ad800"/>
<path d="M399.1 215.7l7.7 -4.5l6.1 -0.5l-7.7 4.5z" color="#36da00"/>
<path d="M406.8 211.2l7.7 -4.4l6.1 -0.5l-7.7 4.4z" color="#51db00"/>
<path d="M414.5 206.7l7.7 -4.3l6.1 -0.4l-7.7 4.3z" color="#6cdd00"/>
<path d="M422.1 202.4l7.7 -4.2l6.1 -0.4l-7.7 4.2z" color="#86de00"/>
<path d="M429.8 198.2l7.7 -4.1l6.1 -0.4l-7.7 4.1z" color="#a0e000"/>
<path d="M437.4 194l7.7 -4.1l6.1 -0.4l-7.7 4.1z" color="#b6e100"/>
<path d="M445.1 190l7.7 -4l6.1 -0.4l-7.7 4z" color="#cbe200"/>
<path d="M452.7 186l7.7 -3.9l6.1 -0.4l-7.7 3.9z" color="#e0e300"/>
<path d="M460.4 182.1l7.7 -3.8l6.1 -0.4l-7.7 3.8z" color="#f1df00"/>
<path d="M468.1 178.3l7.7 -3.7l6.1 -0.4l-7.7 3.7z" color="#f4cb00"/>
<path d="M475.7 174.6l7.7 -3.6l6.1 -0.4l-7.7 3.6z" color="#f8b700"/>
<path d="M232.2 331.7l7.7 -6.4l6.1 -0.6l-7.7 6.4z" color="#3202b6"/>
<path d="M239.9 325.3l7.7 -6.3l6.1 -0.6l-7.7 6.3z" color="#1a05c0"/>
<path d="M247.5 319l7.7 -6.2l6.1 -0.6l-7.7 6.2z" color="#070dcc"/>
<path d="M255.2 312.8l7.7 -6.1l6.1 -0.6l-7.7 6.1z" color="#0523da"/>
<path d="M262.8 306.6l7.7 -6l6.1 -0.6l-7.7 6z" color="#0338e8"/>
<path d="M270.5 300.6l7.7 -6l6.1 -0.6l-7.7 5.9z" color="#004df6"/>
<path d="M278.2 294.6l7.7 -5.9l6.1 -0.6l-7.7 5.9z" color="#0065f2"/>
<path d="M285.8 288.8l7.7 -5.8l6.1 -0.5l-7.7 5.8z" color="#007fea"/>
<path d="M293.5 283l7.7 -5.7l6.1 -0.5l-7.7 5.7z" color="#0097e3"/>
<path d="M301.1 277.3l7.7 -5.6l6.1 -0.5l-7.7 5.6z" color="#00a9d4"/>
<path d="M308.8 271.7l7.7 -5.5l6.1 -0.5l-7.7 5.5z" color="#00b7c0"/>
<path d="M316.5 266.2l7.7 -5.4l6.1 -0.5l-7.7 5.4z" color="#00c4ae"/>
<path d="M324.1 260.8l7.7 -5.3l6.1 -0.5l-7.7 5.3z" color="#00c99b"/>
<path d="M331.8 255.5l7.7 -5.2l6.1 -0.5l-7.7 5.2z" color="#00cb87"/>
<path d="M339.4 250.3l7.7 -5.1l6.1 -0.5l-7.7 5.1z" color="#00cd75"/>
<path d="M347.1 245.1l7.7 -5.1l6.1 -0.5l-7.7 5z" color="#00cf62"/>
<path d="M354.8 240.1l7.7 -5l6.1 -0.5l-7.7 5z" color="#03d14e"/>
<path d="M362.4 235.1l7.7 -4.9l6.1 -0.5l-7.7 4.9z" color="#09d338"/>
<path d="M370.1 230.2l7.7 -4.8l6.1 -0.5l-7.7 4.8z" color="#0fd523"/>
<path d="M377.7 225.4l7.7 -4.7l6.1 -0.5l-7.7 4.7z" color="#14d70e"/>
<path d="M385.4 220.7l7.7 -4.6l6.1 -0.5l-7.7 4.6z" color="#22d900"/>
<path d="M393.1 216.1l7.7 -4.5l6.1 -0.5l-7.7 4.5z" color="#3eda00"/>
<path d="M400.7 211.6l7.7 -4.4l6.1 -0.5l-7.7 4.4z" color="#59dc00"/>
<path d="M408.4 207.2l7.7 -4.3l6.1 -0.4l-7.7 4.3z" color="#74dd00"/>
<path d="M416 202.9l7.7 -4.2l6.1 -0.4l-7.7 4.2z" color="#8edf00"/>
<path d="M423.7 198.6l7.7 -4.2l6.1 -0.4l-7.7 4.1z" color="#a7e000"/>
<path d="M431.4 194.5l7.7 -4.1l6.1 -0.4l-7.7 4.1z" color="#bde100"/>
<path d="M439 190.4l7.7 -4l6.1 -0.4l-7.7 4z" color="#d2e200"/>
<path d="M446.7 186.4l7.7 -3.9l6.1 -0.4l-7.7 3.9z" color="#e7e400"/>
<path d="M454.3 182.5l7.7 -3.8l6.1 -0.4l-7.7 3.8z" color="#f2d900"/>
<path d="M462 178.7l7.7 -3.7l6.1 -0.4l-7.7 3.7z" color="#f6c400"/>
<path d="M469.7 175l7.7 -3.6l6.1 -0.4l-7.7 3.6z" color="#f9b100"/>
<path d="M226.1 332.3l7.7 -6.4l6.1 -0.6l-7.7 6.4z" color="#2d03b8"/>
<path d="M233.7 325.9l7.7 -6.3l6.1 -0.6l-7.7 6.3z" color="#1506c2"/>
<path d="M241.4 319.6l7.7 -6.2l6.1 -0.6l-7.7 6.2z" color="#0712cf"/>
<path d="M249 313.3l7.7 -6.1l6.1 -0.6l-7.7 6.1z" color="#0527dd"/>
<path d="M256.7 307.2l7.7 -6l6.1 -0.6l-7.7 6z" color="#023ceb"/>
<path d="M264.4 301.2l7.7 -6l6.1 -0.6l-7.7 6z" color="#0052f8"/>
<path d="M272 295.2l7.7 -5.9l6.1 -0.6l-7.7 5.9z" color="#006bf0"/>
<path d="M279.7 289.3l7.7 -5.8l6.1 -0.5l-7.7 5.8z" color="#0084e8"/>
<path d="M287.4 283.6l7.7 -5.7l6.1 -0.5l-7.7 5.7z" color="#009de1"/>
<path d="M295 277.9l7.7 -5.6l6.1 -0.5l-7.7 5.6z" color="#00accf"/>
<path d="M302.7 272.3l7.7 -5.5l6.1 -0.5l-7.7 5.5z" color="#00babc"/>
<path d="M310.3 266.8l7.7 -5.4l6.1 -0.5l-7.7 5.4z" color="#00c7a9"/>
<path d="M318 261.3l7.7 -5.3l6.1 -0.5l-7.7 5.3z" color="#00ca96"/>
<path d="M325.7 256l7.7 -5.2l6.1 -0.5l-7.7 5.2z" color="#00cc83"/>
<path d="M333.3 250.8l7.7 -5.1l6.1 -0.5l-7.7 5.1z" color="#00ce70"/>
<path d="M341 245.6l7.7 -5.1l6.1 -0.5l-7.7 5.1z" color="#00cf5d"/>
<path d="M348.7 240.6l7.7 -5l6.1 -0.5l-7.7 5z" color="#04d148"/>
<path d="M356.3 235.6l7.7 -4.9l6.1 -0.5l-7.7 4.9z" color="#0ad333"/>
<path d="M364 230.7l7.7 -4.8l6.1 -0.5l-7.7 4.8z" color="#10d51d"/>
<path d="M371.6 225.9l7.7 -4.7l6.1 -0.5l-7.7 4.7z" color="#16d708"/>
<path d="M379.3 221.2l7.7 -4.6l6.1 -0.5l-7.7 4.6z" color="#2ad900"/>
<path d="M387 216.6l7.7 -4.5l6.1 -0.5l-7.7 4.5z" color="#45db00"/>
<path d="M394.6 212.1l7.7 -4.4l6.1 -0.5l-7.7 4.4z" color="#61dc00"/>
<path d="M402.3 207.7l7.7 -4.3l6.1 -0.4l-7.7 4.3z" color="#7bde00"/>
<path d="M410 203.3l7.7 -4.3l6.1 -0.4l-7.7 4.2z" color="#96df00"/>
<path d="M417.6 199.1l7.7 -4.2l6.1 -0.4l-7.7 4.2z" color="#aee100"/>
<path d="M425.3 194.9l7.7 -4.1l6.1 -0.4l-7.7 4.1z" color="#c3e200"/>
<path d="M432.9 190.8l7.7 -4l6.1 -0.4l-7.7 4z" color="#d9e300"/>
<path d="M440.6 186.8l7.7 -3.9l6.1 -0.4l-7.7 3.9z" color="#eee400"/>
<path d="M448.3 183l7.7 -3.8l6.1 -0.4l-7.7 3.8z" color="#f3d200"/>
<path d="M455.9 179.1l7.7 -3.7l6.1 -0.4l-7.7 3.7z" color="#f7be00"/>
<path d="M463.6 175.4l7.7 -3.6l6.1 -0.4l-7.7 3.6z" color="#faaa00"/>
<path d="M219.9 332.9l7.7 -6.4l6.1 -0.6l-7.7 6.4z" color="#2803ba"/>
<path d="M227.6 326.5l7.7 -6.3l6.1 -0.6l-7.7 6.3z" color="#1007c5"/>
<path d="M235.2 320.2l7.7 -6.2l6.1 -0.6l-7.7 6.2z" color="#0616d2"/>
<path d="M242.9 313.9l7.7 -6.1l6.1 -0.6l-7.7 6.1z" color="#042ce0"/>
<path d="M250.6 307.8l7.7 -6.1l6.1 -0.6l-7.7 6z" color="#0241ee"/>
<path d="M258.2 301.7l7.7 -6l6.1 -0.6l-7.7 6z" color="#0057f6"/>
<path d="M265.9 295.8l7.7 -5.9l6.1 -0.6l-7.7 5.9z" color="#0071ee"/>
<path d="M273.6 289.9l7.7 -5.8l6.1 -0.5l-7.7 5.8z" color="#008ae7"/>
<path d="M281.2 284.1l7.7 -5.7l6.1 -0.5l-7.7 5.7z" color="#00a1de"/>
<path d="M288.9 278.4l7.7 -5.6l6.1 -0.5l-7.7 5.6z" color="#00afcb"/>
<path d="M296.6 272.8l7.7 -5.5l6.1 -0.5l-7.7 5.5z" color="#00bdb8"/>
<path d="M304.2 267.3l7.7 -5.4l6.1 -0.5l-7.7 5.4z" color="#00c8a5"/>
<path d="M311.9 261.9l7.7 -5.3l6.1 -0.5l-7.7 5.3z" color="#00ca91"/>
<path d="M319.6 256.5l7.7 -5.2l6.1 -0.5l-7.7 5.2z" color="#00cc7e"/>
<path d="M327.2 251.3l7.7 -5.2l6.1 -0.5l-7.7 5.1z" color="#00ce6b"/>
<path d="M334.9 246.1l7.7 -5.1l6.1 -0.5l-7.7 5.1z" color="#00d059"/>
<path d="M342.6 241.1l7.7 -5l6.1 -0.5l-7.7 5z" color="#06d243"/>
<path d="M350.2 236.1l7.7 -4.9l6.1 -0.5l-7.7 4.9z" color="#0cd42d"/>
<path d="M357.9 231.2l7.7 -4.8l6.1 -0.5l-7.7 4.8z" color="#12d617"/>
<path d="M365.6 226.4l7.7 -4.7l6.1 -0.5l-7.7 4.7z" color="#17d802"/>
<path d="M373.2 221.7l7.7 -4.6l6.1 -0.5l-7.7 4.6z" color="#31d900"/>
<path d="M380.9 217.1l7.7 -4.5l6.1 -0.5l-7.7 4.5z" color="#4ddb00"/>
<path d="M388.5 212.5l7.7 -4.4l6.1 -0.5l-7.7 4.4z" color="#68dd00"/>
<path d="M396.2 208.1l7.7 -4.3l6.1 -0.4l-7.7 4.3z" color="#83de00"/>
<path d="M403.9 203.8l7.7 -4.3l6.1 -0.4l-7.7 4.3z" color="#9ee000"/>
<path d="M411.5 199.5l7.7 -4.2l6.1 -0.4l-7.7 4.2z" color="#b4e100"/>
<path d="M419.2 195.3l7.7 -4.1l6.1 -0.4l-7.7 4.1z" color="#cae200"/>
<path d="M426.9 191.3l7.7 -4l6.1 -0.4l-7.7 4z" color="#dfe300"/>
<path d="M434.5 187.3l7.7 -3.9l6.1 -0.4l-7.7 3.9z" color="#f1e000"/>
<path d="M442.2 183.4l7.7 -3.8l6.1 -0.4l-7.7 3.8z" color="#f4cb00"/>
<path d="M449.9 179.6l7.7 -3.7l6.1 -0.4l-7.7 3.7z" color="#f8b700"/>
<path d="M457.5 175.8l7.7 -3.6l6.1 -0.4l-7.7 3.6z" color="#fca400"/>
<path d="M213.8 333.5l7.7 -6.4l6.1 -0.6l-7.7 6.4z" color="#2304bc"/>
<path d="M221.4 327.1l7.7 -6.3l6.1 -0.6l-7.7 6.3z" color="#0b08c7"/>
<path d="M229.1 320.7l7.7 -6.2l6.1 -0.6l-7.7 6.2z" color="#061bd5"/>
<path d="M236.8 314.5l7.7 -6.2l6.1 -0.6l-7.7 6.1z" color="#0430e3"/>
<path d="M244.4 308.4l7.7 -6.1l6.1 -0.6l-7.7 6.1z" color="#0145f1"/>
<path d="M252.1 302.3l7.7 -6l6.1 -0.6l-7.7 6z" color="#005df4"/>
<path d="M259.8 296.3l7.7 -5.9l6.1 -0.6l-7.7 5.9z" color="#0076ed"/>
<path d="M267.4 290.4l7.7 -5.8l6.1 -0.5l-7.7 5.8z" color="#008fe5"/>
<path d="M275.1 284.6l7.7 -5.7l6.1 -0.5l-7.7 5.7z" color="#00a5d9"/>
<path d="M282.8 278.9l7.7 -5.6l6.1 -0.5l-7.7 5.6z" color="#00b2c6"/>
<path d="M290.4 273.3l7.7 -5.5l6.1 -0.5l-7.7 5.5z" color="#00c0b3"/>
<path d="M298.1 267.8l7.7 -5.4l6.1 -0.5l-7.7 5.4z" color="#00c9a0"/>
<path d="M305.8 262.4l7.7 -5.3l6.1 -0.5l-7.7 5.3z" color="#00cb8d"/>
<path d="M313.4 257l7.7 -5.3l6.1 -0.5l-7.7 5.2z" color="#00cd79"/>
<path d="M321.1 251.8l7.7 -5.2l6.1 -0.5l-7.7 5.2z" color="#00cf67"/>
<path d="M328.8 246.6l7.7 -5.1l6.1 -0.5l-7.7 5.1z" color="#01d053"/>
<path d="M336.4 241.6l7.7 -5l6.1 -0.5l-7.7 5z" color="#07d23d"/>
<path d="M344.1 236.6l7.7 -4.9l6.1 -0.5l-7.7 4.9z" color="#0dd427"/>
<path d="M351.8 231.7l7.7 -4.8l6.1 -0.5l-7.7 4.8z" color="#13d612"/>
<path d="M359.5 226.9l7.7 -4.7l6.1 -0.5l-7.7 4.7z" color="#1dd800"/>
<path d="M367.1 222.2l7.7 -4.6l6.1 -0.5l-7.7 4.6z" color="#39da00"/>
<path d="M374.8 217.5l7.7 -4.5l6.1 -0.5l-7.7 4.5z" color="#55dc00"/>
<path d="M382.5 213l7.7 -4.4l6.1 -0.5l-7.7 4.4z" color="#70dd00"/>
<path d="M390.1 208.6l7.7 -4.4l6.1 -0.4l-7.7 4.3z" color="#8bdf00"/>
<path d="M397.8 204.2l7.7 -4.3l6.1 -0.4l-7.7 4.3z" color="#a5e000"/>
<path d="M405.5 199.9l7.7 -4.2l6.1 -0.4l-7.7 4.2z" color="#bbe100"/>
<path d="M413.1 195.8l7.7 -4.1l6.1 -0.4l-7.7 4.1z" color="#d0e200"/>
<path d="M420.8 191.7l7.7 -4l6.1 -0.4l-7.7 4z" color="#e6e300"/>
<path d="M428.5 187.7l7.7 -3.9l6.1 -0.4l-7.7 3.9z" color="#f2d900"/>
<path d="M436.1 183.8l7.7 -3.8l6.1 -0.4l-7.7 3.8z" color="#f6c500"/>
<path d="M443.8 180l7.7 -3.7l6.1 -0.4l-7.7 3.7z" color="#f9b100"/>
<path d="M451.5 176.2l7.7 -3.6l6.1 -0.4l-7.7 3.6z" color="#fd9d00"/>
<path d="M207.6 334.1l7.7 -6.4l6.1 -0.6l-7.7 6.4z" color="#1e05be"/>
<path d="M215.3 327.7l7.7 -6.3l6.1 -0.6l-7.7 6.3z" color="#080ac9"/>
<path d="M222.9 321.3l7.7 -6.2l6.1 -0.6l-7.7 6.2z" color="#051fd8"/>
<path d="M230.6 315.1l7.7 -6.2l6.1 -0.6l-7.7 6.2z" color="#0335e6"/>
<path d="M238.3 308.9l7.7 -6.1l6.1 -0.6l-7.7 6.1z" color="#014af4"/>
<path d="M246 302.9l7.7 -6l6.1 -0.6l-7.7 6z" color="#0062f2"/>
<path d="M253.6 296.9l7.7 -5.9l6.1 -0.6l-7.7 5.9z" color="#007ceb"/>
<path d="M261.3 291l7.7 -5.8l6.1 -0.5l-7.7 5.8z" color="#0095e3"/>
<path d="M269 285.2l7.7 -5.7l6.1 -0.5l-7.7 5.7z" color="#00a8d5"/>
<path d="M276.6 279.5l7.7 -5.6l6.1 -0.5l-7.7 5.6z" color="#00b6c2"/>
<path d="M284.3 273.9l7.7 -5.5l6.1 -0.5l-7.7 5.5z" color="#00c3af"/>
<path d="M292 268.3l7.7 -5.4l6.1 -0.5l-7.7 5.4z" color="#00c99b"/>
<path d="M299.7 262.9l7.7 -5.3l6.1 -0.5l-7.7 5.3z" color="#00cb88"/>
<path d="M307.3 257.6l7.7 -5.3l6.1 -0.5l-7.7 5.3z" color="#00cd75"/>
<path d="M315 252.3l7.7 -5.2l6.1 -0.5l-7.7 5.2z" color="#00cf62"/>
<path d="M322.7 247.1l7.7 -5.1l6.1 -0.5l-7.7 5.1z" color="#03d14e"/>
<path d="M330.3 242l7.7 -5l6.1 -0.5l-7.7 5z" color="#09d337"/>
<path d="M338 237.1l7.7 -4.9l6.1 -0.5l-7.7 4.9z" color="#0fd522"/>
<path d="M345.7 232.2l7.7 -4.8l6.1 -0.5l-7.7 4.8z" color="#15d70c"/>
<path d="M353.4 227.3l7.7 -4.7l6.1 -0.5l-7.7 4.7z" color="#25d900"/>
<path d="M361 222.6l7.7 -4.6l6.1 -0.5l-7.7 4.6z" color="#41da00"/>
<path d="M368.7 218l7.7 -4.5l6.1 -0.5l-7.7 4.5z" color="#5cdc00"/>
<path d="M376.4 213.5l7.7 -4.5l6.1 -0.5l-7.7 4.4z" color="#78de00"/>
<path d="M384 209l7.7 -4.4l6.1 -0.4l-7.7 4.4z" color="#93df00"/>
<path d="M391.7 204.6l7.7 -4.3l6.1 -0.4l-7.7 4.3z" color="#abe100"/>
<path d="M399.4 200.4l7.7 -4.2l6.1 -0.4l-7.7 4.2z" color="#c1e200"/>
<path d="M407.1 196.2l7.7 -4.1l6.1 -0.4l-7.7 4.1z" color="#d7e300"/>
<path d="M414.7 192.1l7.7 -4l6.1 -0.4l-7.7 4z" color="#ece400"/>
<path d="M422.4 188.1l7.7 -3.9l6.1 -0.4l-7.7 3.9z" color="#f3d300"/>
<path d="M430.1 184.2l7.7 -3.8l6.1 -0.4l-7.7 3.8z" color="#f7be00"/>
<path d="M437.8 180.4l7.7 -3.7l6.1 -0.4l-7.7 3.7z" color="#faaa00"/>
<path d="M445.4 176.6l7.7 -3.6l6.1 -0.4l-7.7 3.6z" color="#fe9600"/>
<path d="M201.4 334.7l7.7 -6.4l6.1 -0.6l-7.7 6.4z" color="#1906c1"/>
<path d="M209.1 328.3l7.7 -6.3l6.1 -0.6l-7.7 6.3z" color="#070ecc"/>
<path d="M216.8 321.9l7.7 -6.3l6.1 -0.6l-7.7 6.2z" color="#0524db"/>
<path d="M224.5 315.7l7.7 -6.2l6.1 -0.6l-7.7 6.2z" color="#0339e9"/>
<path d="M232.1 309.5l7.7 -6.1l6.1 -0.6l-7.7 6.1z" color="#004ff7"/>
<path d="M239.8 303.4l7.7 -6l6.1 -0.6l-7.7 6z" color="#0068f1"/>
<path d="M247.5 297.4l7.7 -5.9l6.1 -0.6l-7.7 5.9z" color="#0082e9"/>
<path d="M255.2 291.6l7.7 -5.8l6.1 -0.5l-7.7 5.8z" color="#009be2"/>
<path d="M262.8 285.7l7.7 -5.7l6.1 -0.5l-7.7 5.7z" color="#00abd1"/>
<path d="M270.5 280l7.7 -5.6l6.1 -0.5l-7.7 5.6z" color="#00b9bd"/>
<path d="M278.2 274.4l7.7 -5.5l6.1 -0.5l-7.7 5.5z" color="#00c6aa"/>
<path d="M285.9 268.9l7.7 -5.4l6.1 -0.5l-7.7 5.4z" color="#00ca97"/>
<path d="M293.5 263.4l7.7 -5.4l6.1 -0.5l-7.7 5.3z" color="#00cc83"/>
<path d="M301.2 258.1l7.7 -5.3l6.1 -0.5l-7.7 5.3z" color="#00ce70"/>
<path d="M308.9 252.8l7.7 -5.2l6.1 -0.5l-7.7 5.2z" color="#00cf5d"/>
<path d="M316.6 247.6l7.7 -5.1l6.1 -0.5l-7.7 5.1z" color="#04d148"/>
<path d="M324.2 242.5l7.7 -5l6.1 -0.5l-7.7 5z" color="#0ad332"/>
<path d="M331.9 237.5l7.7 -4.9l6.1 -0.5l-7.7 4.9z" color="#10d51c"/>
<path d="M339.6 232.6l7.7 -4.8l6.1 -0.5l-7.7 4.8z" color="#16d706"/>
<path d="M347.3 227.8l7.7 -4.7l6.1 -0.5l-7.7 4.7z" color="#2cd900"/>
<path d="M354.9 223.1l7.7 -4.6l6.1 -0.5l-7.7 4.6z" color="#48db00"/>
<path d="M362.6 218.5l7.7 -4.5l6.1 -0.5l-7.7 4.5z" color="#64dc00"/>
<path d="M370.3 213.9l7.7 -4.5l6.1 -0.5l-7.7 4.5z" color="#80de00"/>
<path d="M378 209.5l7.7 -4.4l6.1 -0.4l-7.7 4.4z" color="#9ae000"/>
<path d="M385.6 205.1l7.7 -4.3l6.1 -0.4l-7.7 4.3z" color="#b2e100"/>
<path d="M393.3 200.8l7.7 -4.2l6.1 -0.4l-7.7 4.2z" color="#c8e200"/>
<path d="M401 196.6l7.7 -4.1l6.1 -0.4l-7.7 4.1z" color="#dee300"/>
<path d="M408.7 192.5l7.7 -4l6.1 -0.4l-7.7 4z" color="#f1e100"/>
<path d="M416.3 188.5l7.7 -3.9l6.1 -0.4l-7.7 3.9z" color="#f4cc00"/>
<path d="M424 184.6l7.7 -3.8l6.1 -0.4l-7.7 3.8z" color="#f8b800"/>
<path d="M431.7 180.8l7.7 -3.7l6.1 -0.4l-7.7 3.7z" color="#fba400"/>
<path d="M439.4 177l7.7 -3.6l6.1 -0.4l-7.7 3.6z" color="#ff9000"/>
<path d="M195.3 335.3l7.7 -6.4l6.1 -0.6l-7.7 6.4z" color="#1406c3"/>
<path d="M203 328.9l7.7 -6.4l6.1 -0.6l-7.7 6.3z" color="#0713cf"/>
<path d="M210.7 322.5l7.7 -6.3l6.1 -0.6l-7.7 6.3z" color="#0429de"/>
<path d="M218.3 316.2l7.7 -6.2l6.1 -0.6l-7.7 6.2z" color="#023eec"/>
<path d="M226 310.1l7.7 -6.1l6.1 -0.6l-7.7 6.1z" color="#0054f7"/>
<path d="M233.7 304l7.7 -6l6.1 -0.6l-7.7 6z" color="#006eef"/>
<path d="M241.4 298l7.7 -5.9l6.1 -0.6l-7.7 5.9z" color="#0087e7"/>
<path d="M249 292.1l7.7 -5.8l6.1 -0.5l-7.7 5.8z" color="#00a0e0"/>
<path d="M256.7 286.3l7.7 -5.7l6.1 -0.5l-7.7 5.7z" color="#00aecc"/>
<path d="M264.4 280.6l7.7 -5.6l6.1 -0.5l-7.7 5.6z" color="#00bcb9"/>
<path d="M272.1 274.9l7.7 -5.5l6.1 -0.5l-7.7 5.5z" color="#00c8a6"/>
<path d="M279.8 269.4l7.7 -5.5l6.1 -0.5l-7.7 5.4z" color="#00ca92"/>
<path d="M287.4 263.9l7.7 -5.4l6.1 -0.5l-7.7 5.4z" color="#00cc7f"/>
<path d="M295.1 258.6l7.7 -5.3l6.1 -0.5l-7.7 5.3z" color="#00ce6b"/>
<path d="M302.8 253.3l7.7 -5.2l6.1 -0.5l-7.7 5.2z" color="#00d059"/>
<path d="M310.5 248.1l7.7 -5.1l6.1 -0.5l-7.7 5.1z" color="#06d242"/>
<path d="M318.1 243l7.7 -5l6.1 -0.5l-7.7 5z" color="#0cd42c"/>
<path d="M325.8 238l7.7 -4.9l6.1 -0.5l-7.7 4.9z" color="#12d616"/>
<path d="M333.5 233.1l7.7 -4.8l6.1 -0.5l-7.7 4.8z" color="#18d801"/>
<path d="M341.2 228.3l7.7 -4.7l6.1 -0.5l-7.7 4.7z" color="#34da00"/>
<path d="M348.9 223.6l7.7 -4.6l6.1 -0.5l-7.7 4.6z" color="#50db00"/>
<path d="M356.5 218.9l7.7 -4.6l6.1 -0.5l-7.7 4.5z" color="#6cdd00"/>
<path d="M364.2 214.4l7.7 -4.5l6.1 -0.5l-7.7 4.5z" color="#87df00"/>
<path d="M371.9 209.9l7.7 -4.4l6.1 -0.4l-7.7 4.4z" color="#a2e000"/>
<path d="M379.6 205.5l7.7 -4.3l6.1 -0.4l-7.7 4.3z" color="#b8e100"/>
<path d="M387.2 201.3l7.7 -4.2l6.1 -0.4l-7.7 4.2z" color="#cee200"/>
<path d="M394.9 197.1l7.7 -4.1l6.1 -0.4l-7.7 4.1z" color="#e4e300"/>
<path d="M402.6 193l7.7 -4l6.1 -0.4l-7.7 4z" color="#f2da00"/>
<path d="M410.3 188.9l7.7 -3.9l6.1 -0.4l-7.7 3.9z" color="#f5c600"/>
<path d="M417.9 185l7.7 -3.8l6.1 -0.4l-7.7 3.8z" color="#f9b100"/>
<path d="M425.6 181.2l7.7 -3.7l6.1 -0.4l-7.7 3.7z" color="#fd9d00"/>
<path d="M433.3 177.4l7.7 -3.7l6.1 -0.4l-7.7 3.6z" color="#ff8700"/>
<path d="M189.1 335.9l7.7 -6.4l6.1 -0.6l-7.7 6.4z" color="#0f07c5"/>
<path d="M196.8 329.5l7.7 -6.4l6.1 -0.6l-7.7 6.4z" color="#0617d2"/>
<path d="M204.5 323.1l7.7 -6.3l6.1 -0.6l-7.7 6.3z" color="#042de1"/>
<path d="M212.2 316.8l7.7 -6.2l6.1 -0.6l-7.7 6.2z" color="#0242ef"/>
<path d="M219.9 310.7l7.7 -6.1l6.1 -0.6l-7.7 6.1z" color="#0059f5"/>
<path d="M227.6 304.6l7.7 -6l6.1 -0.6l-7.7 6z" color="#0073ed"/>
<path d="M235.2 298.6l7.7 -5.9l6.1 -0.6l-7.7 5.9z" color="#008de6"/>
<path d="M242.9 292.7l7.7 -5.8l6.1 -0.5l-7.7 5.8z" color="#00a3db"/>
<path d="M250.6 286.8l7.7 -5.7l6.1 -0.5l-7.7 5.7z" color="#00b1c8"/>
<path d="M258.3 281.1l7.7 -5.6l6.1 -0.5l-7.7 5.6z" color="#00bfb4"/>
<path d="M266 275.5l7.7 -5.5l6.1 -0.5l-7.7 5.5z" color="#00c9a1"/>
<path d="M273.6 269.9l7.7 -5.5l6.1 -0.5l-7.7 5.5z" color="#00cb8d"/>
<path d="M281.3 264.5l7.7 -5.4l6.1 -0.5l-7.7 5.4z" color="#00cd7a"/>
<path d="M289 259.1l7.7 -5.3l6.1 -0.5l-7.7 5.3z" color="#00cf67"/>
<path d="M296.7 253.8l7.7 -5.2l6.1 -0.5l-7.7 5.2z" color="#01d053"/>
<path d="M304.4 248.6l7.7 -5.1l6.1 -0.5l-7.7 5.1z" color="#07d23d"/>
<path d="M312 243.5l7.7 -5l6.1 -0.5l-7.7 5z" color="#0ed526"/>
<path d="M319.7 238.5l7.7 -4.9l6.1 -0.5l-7.7 4.9z" color="#14d710"/>
<path d="M327.4 233.6l7.7 -4.8l6.1 -0.5l-7.7 4.8z" color="#1fd800"/>
<path d="M335.1 228.8l7.7 -4.7l6.1 -0.5l-7.7 4.7z" color="#3cda00"/>
<path d="M342.8 224l7.7 -4.6l6.1 -0.5l-7.7 4.6z" color="#58dc00"/>
<path d="M350.4 219.4l7.7 -4.6l6.1 -0.5l-7.7 4.6z" color="#74dd00"/>
<path d="M358.1 214.8l7.7 -4.5l6.1 -0.5l-7.7 4.5z" color="#8fdf00"/>
<path d="M365.8 210.4l7.7 -4.4l6.1 -0.4l-7.7 4.4z" color="#a8e000"/>
<path d="M373.5 206l7.7 -4.3l6.1 -0.4l-7.7 4.3z" color="#bfe200"/>
<path d="M381.2 201.7l7.7 -4.2l6.1 -0.4l-7.7 4.2z" color="#d5e300"/>
<path d="M388.8 197.5l7.7 -4.1l6.1 -0.4l-7.7 4.1z" color="#ebe400"/>
<path d="M396.5 193.4l7.7 -4l6.1 -0.4l-7.7 4z" color="#f3d400"/>
<path d="M404.2 189.4l7.7 -3.9l6.1 -0.4l-7.7 3.9z" color="#f7bf00"/>
<path d="M411.9 185.4l7.7 -3.8l6.1 -0.4l-7.7 3.8z" color="#faab00"/>
<path d="M419.6 181.6l7.7 -3.8l6.1 -0.4l-7.7 3.7z" color="#fe9600"/>
<path d="M427.2 177.8l7.7 -3.7l6.1 -0.4l-7.7 3.7z" color="#ff7f00"/>
<path d="M183 336.5l7.7 -6.5l6.1 -0.6l-7.7 6.4z" color="#0a08c7"/>
<path d="M190.7 330l7.7 -6.4l6.1 -0.6l-7.7 6.4z" color="#061cd5"/>
<path d="M198.4 323.7l7.7 -6.3l6.1 -0.6l-7.7 6.3z" color="#0332e4"/>
<path d="M206 317.4l7.7 -6.2l6.1 -0.6l-7.7 6.2z" color="#0147f2"/>
<path d="M213.7 311.2l7.7 -6.1l6.1 -0.6l-7.7 6.1z" color="#005ff3"/>
<path d="M221.4 305.1l7.7 -6l6.1 -0.6l-7.7 6z" color="#0079ec"/>
<path d="M229.1 299.1l7.7 -5.9l6.1 -0.6l-7.7 5.9z" color="#0092e4"/>
<path d="M236.8 293.2l7.7 -5.8l6.1 -0.5l-7.7 5.8z" color="#00a7d7"/>
<path d="M244.5 287.4l7.7 -5.7l6.1 -0.5l-7.7 5.7z" color="#00b5c3"/>
<path d="M252.2 281.7l7.7 -5.6l6.1 -0.5l-7.7 5.6z" color="#00c2b0"/>
<path d="M259.8 276l7.7 -5.6l6.1 -0.5l-7.7 5.5z" color="#00c99c"/>
<path d="M267.5 270.5l7.7 -5.5l6.1 -0.5l-7.7 5.5z" color="#00cb89"/>
<path d="M275.2 265l7.7 -5.4l6.1 -0.5l-7.7 5.4z" color="#00cd75"/>
<path d="M282.9 259.6l7.7 -5.3l6.1 -0.5l-7.7 5.3z" color="#00cf62"/>
<path d="M290.6 254.3l7.7 -5.2l6.1 -0.5l-7.7 5.2z" color="#03d14d"/>
<path d="M298.2 249.1l7.7 -5.1l6.1 -0.5l-7.7 5.1z" color="#09d337"/>
<path d="M305.9 244l7.7 -5l6.1 -0.5l-7.7 5z" color="#0fd521"/>
<path d="M313.6 239l7.7 -4.9l6.1 -0.5l-7.7 4.9z" color="#15d70b"/>
<path d="M321.3 234.1l7.7 -4.8l6.1 -0.5l-7.7 4.8z" color="#27d900"/>
<path d="M329 229.3l7.7 -4.7l6.1 -0.5l-7.7 4.7z" color="#43db00"/>
<path d="M336.7 224.5l7.7 -4.7l6.1 -0.5l-7.7 4.6z" color="#5fdc00"/>
<path d="M344.3 219.9l7.7 -4.6l6.1 -0.5l-7.7 4.6z" color="#7bde00"/>
<path d="M352 215.3l7.7 -4.5l6.1 -0.5l-7.7 4.5z" color="#97df00"/>
<path d="M359.7 210.8l7.7 -4.4l6.1 -0.4l-7.7 4.4z" color="#afe100"/>
<path d="M367.4 206.4l7.7 -4.3l6.1 -0.4l-7.7 4.3z" color="#c5e200"/>
<path d="M375.1 202.1l7.7 -4.2l6.1 -0.4l-7.7 4.2z" color="#dce300"/>
<path d="M382.8 197.9l7.7 -4.1l6.1 -0.4l-7.7 4.1z" color="#f0e300"/>
<path d="M390.4 193.8l7.7 -4l6.1 -0.4l-7.7 4z" color="#f4cd00"/>
<path d="M398.1 189.8l7.7 -3.9l6.1 -0.4l-7.7 3.9z" color="#f8b900"/>
<path d="M405.8 185.8l7.7 -3.8l6.1 -0.4l-7.7 3.8z" color="#fba400"/>
<path d="M413.5 182l7.7 -3.8l6.1 -0.4l-7.7 3.8z" color="#ff9000"/>
<path d="M421.2 178.2l7.7 -3.7l6.1 -0.4l-7.7 3.7z" color="#ff7600"/>
<path d="M176.8 337.1l7.7 -6.5l6.1 -0.6l-7.7 6.5z" color="#080aca"/>
<path d="M184.5 330.6l7.7 -6.4l6.1 -0.6l-7.7 6.4z" color="#0520d8"/>
<path d="M192.2 324.3l7.7 -6.3l6.1 -0.6l-7.7 6.3z" color="#0336e7"/>
<path d="M199.9 318l7.7 -6.2l6.1 -0.6l-7.7 6.2z" color="#004cf5"/>
<path d="M207.6 311.8l7.7 -6.1l6.1 -0.6l-7.7 6.1z" color="#0065f2"/>
<path d="M215.3 305.7l7.7 -6l6.1 -0.6l-7.7 6z" color="#007fea"/>
<path d="M223 299.7l7.7 -5.9l6.1 -0.6l-7.7 5.9z" color="#0098e2"/>
<path d="M230.7 293.8l7.7 -5.8l6.1 -0.5l-7.7 5.8z" color="#00aad2"/>
<path d="M238.3 287.9l7.7 -5.7l6.1 -0.5l-7.7 5.7z" color="#00b8bf"/>
<path d="M246 282.2l7.7 -5.7l6.1 -0.5l-7.7 5.6z" color="#00c6ab"/>
<path d="M253.7 276.5l7.7 -5.6l6.1 -0.5l-7.7 5.6z" color="#00ca98"/>
<path d="M261.4 271l7.7 -5.5l6.1 -0.5l-7.7 5.5z" color="#00cc84"/>
<path d="M269.1 265.5l7.7 -5.4l6.1 -0.5l-7.7 5.4z" color="#00ce71"/>
<path d="M276.8 260.1l7.7 -5.3l6.1 -0.5l-7.7 5.3z" color="#00cf5d"/>
<path d="M284.5 254.8l7.7 -5.2l6.1 -0.5l-7.7 5.2z" color="#04d148"/>
<path d="M292.1 249.6l7.7 -5.1l6.1 -0.5l-7.7 5.1z" color="#0bd431"/>
<path d="M299.8 244.5l7.7 -5l6.1 -0.5l-7.7 5z" color="#11d61b"/>
<path d="M307.5 239.5l7.7 -4.9l6.1 -0.5l-7.7 4.9z" color="#17d805"/>
<path d="M315.2 234.6l7.7 -4.8l6.1 -0.5l-7.7 4.8z" color="#2ed900"/>
<path d="M322.9 229.7l7.7 -4.8l6.1 -0.5l-7.7 4.7z" color="#4bdb00"/>
<path d="M330.6 225l7.7 -4.7l6.1 -0.5l-7.7 4.7z" color="#67dd00"/>
<path d="M338.3 220.3l7.7 -4.6l6.1 -0.5l-7.7 4.6z" color="#83de00"/>
<path d="M345.9 215.7l7.7 -4.5l6.1 -0.5l-7.7 4.5z" color="#9ee000"/>
<path d="M353.6 211.3l7.7 -4.4l6.1 -0.4l-7.7 4.4z" color="#b6e100"/>
<path d="M361.3 206.9l7.7 -4.3l6.1 -0.4l-7.7 4.3z" color="#cce200"/>
<path d="M369 202.6l7.7 -4.2l6.1 -0.4l-7.7 4.2z" color="#e2e300"/>
<path d="M376.7 198.4l7.7 -4.1l6.1 -0.4l-7.7 4.1z" color="#f1dc00"/>
<path d="M384.4 194.2l7.7 -4l6.1 -0.4l-7.7 4z" color="#f5c700"/>
<path d="M392.1 190.2l7.7 -3.9l6.1 -0.4l-7.7 3.9z" color="#f9b200"/>
<path d="M399.8 186.3l7.7 -3.9l6.1 -0.4l-7.7 3.8z" color="#fd9e00"/>
<path d="M407.4 182.4l7.7 -3.8l6.1 -0.4l-7.7 3.8z" color="#ff8700"/>
<path d="M415.1 178.6l7.7 -3.7l6.1 -0.4l-7.7 3.7z" color="#ff6e00"/>
<path d="M170.7 337.7l7.7 -6.5l6.1 -0.6l-7.7 6.5z" color="#070fcd"/>
<path d="M178.4 331.2l7.7 -6.4l6.1 -0.6l-7.7 6.4z" color="#0525db"/>
<path d="M186.1 324.9l7.7 -6.3l6.1 -0.6l-7.7 6.3z" color="#023bea"/>
<path d="M193.8 318.6l7.7 -6.2l6.1 -0.6l-7.7 6.2z" color="#0050f8"/>
<path d="M201.5 312.4l7.7 -6.1l6.1 -0.6l-7.7 6.1z" color="#006af0"/>
<path d="M209.1 306.3l7.7 -6l6.1 -0.6l-7.7 6z" color="#0084e8"/>
<path d="M216.8 300.3l7.7 -5.9l6.1 -0.6l-7.7 5.9z" color="#009ee1"/>
<path d="M224.5 294.3l7.7 -5.8l6.1 -0.5l-7.7 5.8z" color="#00adce"/>
<path d="M232.2 288.5l7.7 -5.7l6.1 -0.5l-7.7 5.7z" color="#00bbba"/>
<path d="M239.9 282.7l7.7 -5.7l6.1 -0.5l-7.7 5.7z" color="#00c8a7"/>
<path d="M247.6 277.1l7.7 -5.6l6.1 -0.5l-7.7 5.6z" color="#00ca93"/>
<path d="M255.3 271.5l7.7 -5.5l6.1 -0.5l-7.7 5.5z" color="#00cc7f"/>
<path d="M263 266l7.7 -5.4l6.1 -0.5l-7.7 5.4z" color="#00ce6c"/>
<path d="M270.7 260.7l7.7 -5.3l6.1 -0.5l-7.7 5.3z" color="#00d059"/>
<path d="M278.3 255.4l7.7 -5.2l6.1 -0.5l-7.7 5.2z" color="#06d242"/>
<path d="M286 250.1l7.7 -5.1l6.1 -0.5l-7.7 5.1z" color="#0cd42c"/>
<path d="M293.7 245l7.7 -5l6.1 -0.5l-7.7 5z" color="#12d615"/>
<path d="M301.4 240l7.7 -4.9l6.1 -0.5l-7.7 4.9z" color="#19d800"/>
<path d="M309.1 235.1l7.7 -4.8l6.1 -0.5l-7.7 4.8z" color="#36da00"/>
<path d="M316.8 230.2l7.7 -4.8l6.1 -0.5l-7.7 4.8z" color="#53db00"/>
<path d="M324.5 225.5l7.7 -4.7l6.1 -0.5l-7.7 4.7z" color="#6fdd00"/>
<path d="M332.2 220.8l7.7 -4.6l6.1 -0.5l-7.7 4.6z" color="#8bdf00"/>
<path d="M339.9 216.2l7.7 -4.5l6.1 -0.5l-7.7 4.5z" color="#a5e000"/>
<path d="M347.6 211.7l7.7 -4.4l6.1 -0.4l-7.7 4.4z" color="#bce100"/>
<path d="M355.2 207.3l7.7 -4.3l6.1 -0.4l-7.7 4.3z" color="#d3e300"/>
<path d="M362.9 203l7.7 -4.2l6.1 -0.4l-7.7 4.2z" color="#e9e400"/>
<path d="M370.6 198.8l7.7 -4.1l6.1 -0.4l-7.7 4.1z" color="#f3d600"/>
<path d="M378.3 194.7l7.7 -4l6.1 -0.4l-7.7 4z" color="#f6c000"/>
<path d="M386 190.6l7.7 -4l6.1 -0.4l-7.7 3.9z" color="#faac00"/>
<path d="M393.7 186.7l7.7 -3.9l6.1 -0.4l-7.7 3.9z" color="#fe9700"/>
<path d="M401.4 182.8l7.7 -3.8l6.1 -0.4l-7.7 3.8z" color="#ff7f00"/>
<path d="M409.1 179l7.7 -3.7l6.1 -0.4l-7.7 3.7z" color="#ff6500"/>
<path d="M164.6 338.3l7.7 -6.5l6.1 -0.6l-7.7 6.5z" color="#0713d0"/>
<path d="M172.2 331.8l7.7 -6.4l6.1 -0.6l-7.7 6.4z" color="#0429de"/>
<path d="M179.9 325.4l7.7 -6.3l6.1 -0.6l-7.7 6.3z" color="#023fed"/>
<path d="M187.6 319.2l7.7 -6.2l6.1 -0.6l-7.7 6.2z" color="#0056f6"/>
<path d="M195.3 312.9l7.7 -6.1l6.1 -0.6l-7.7 6.1z" color="#0070ee"/>
<path d="M203 306.8l7.7 -6l6.1 -0.6l-7.7 6z" color="#008ae7"/>
<path d="M210.7 300.8l7.7 -5.9l6.1 -0.6l-7.7 5.9z" color="#00a2dd"/>
<path d="M218.4 294.9l7.7 -5.8l6.1 -0.5l-7.7 5.8z" color="#00b0ca"/>
<path d="M226.1 289l7.7 -5.8l6.1 -0.5l-7.7 5.7z" color="#00beb6"/>
<path d="M233.8 283.3l7.7 -5.7l6.1 -0.5l-7.7 5.7z" color="#00c9a2"/>
<path d="M241.5 277.6l7.7 -5.6l6.1 -0.5l-7.7 5.6z" color="#00cb8e"/>
<path d="M249.2 272l7.7 -5.5l6.1 -0.5l-7.7 5.5z" color="#00cd7b"/>
<path d="M256.9 266.6l7.7 -5.4l6.1 -0.5l-7.7 5.4z" color="#00ce67"/>
<path d="M264.5 261.2l7.7 -5.3l6.1 -0.5l-7.7 5.3z" color="#01d053"/>
<path d="M272.2 255.9l7.7 -5.2l6.1 -0.5l-7.7 5.2z" color="#08d33c"/>
<path d="M279.9 250.6l7.7 -5.1l6.1 -0.5l-7.7 5.1z" color="#0ed526"/>
<path d="M287.6 245.5l7.7 -5l6.1 -0.5l-7.7 5z" color="#14d710"/>
<path d="M295.3 240.5l7.7 -4.9l6.1 -0.5l-7.7 4.9z" color="#21d900"/>
<path d="M303 235.5l7.7 -4.9l6.1 -0.5l-7.7 4.8z" color="#3eda00"/>
<path d="M310.7 230.7l7.7 -4.8l6.1 -0.5l-7.7 4.8z" color="#5adc00"/>
<path d="M318.4 225.9l7.7 -4.7l6.1 -0.5l-7.7 4.7z" color="#77de00"/>
<path d="M326.1 221.2l7.7 -4.6l6.1 -0.5l-7.7 4.6z" color="#92df00"/>
<path d="M333.8 216.7l7.7 -4.5l6.1 -0.5l-7.7 4.5z" color="#ace100"/>
<path d="M341.5 212.2l7.7 -4.4l6.1 -0.4l-7.7 4.4z" color="#c3e200"/>
<path d="M349.2 207.8l7.7 -4.3l6.1 -0.4l-7.7 4.3z" color="#d9e300"/>
<path d="M356.9 203.4l7.7 -4.2l6.1 -0.4l-7.7 4.2z" color="#efe400"/>
<path d="M364.5 199.2l7.7 -4.1l6.1 -0.4l-7.7 4.1z" color="#f4cf00"/>
<path d="M372.2 195.1l7.7 -4l6.1 -0.4l-7.7 4z" color="#f8ba00"/>
<path d="M379.9 191l7.7 -4l6.1 -0.4l-7.7 4z" color="#fba500"/>
<path d="M387.6 187.1l7.7 -3.9l6.1 -0.4l-7.7 3.9z" color="#ff9000"/>
<path d="M395.3 183.2l7.7 -3.8l6.1 -0.4l-7.7 3.8z" color="#ff7600"/>
<path d="M403 179.4l7.7 -3.7l6.1 -0.4l-7.7 3.7z" color="#ff5d00"/>
<path d="M158.4 338.9l7.7 -6.5l6.1 -0.6l-7.7 6.5z" color="#0618d3"/>
<path d="M166.1 332.4l7.7 -6.4l6.1 -0.6l-7.7 6.4z" color="#042ee1"/>
<path d="M173.8 326l7.7 -6.3l6.1 -0.6l-7.7 6.3z" color="#0144f0"/>
<path d="M181.5 319.7l7.7 -6.2l6.1 -0.6l-7.7 6.2z" color="#005bf5"/>
<path d="M189.2 313.5l7.7 -6.1l6.1 -0.6l-7.7 6.1z" color="#0075ed"/>
<path d="M196.9 307.4l7.7 -6l6.1 -0.6l-7.7 6z" color="#008fe5"/>
<path d="M204.6 301.4l7.7 -5.9l6.1 -0.6l-7.7 5.9z" color="#00a5d9"/>
<path d="M212.3 295.4l7.7 -5.8l6.1 -0.5l-7.7 5.8z" color="#00b3c5"/>
<path d="M220 289.6l7.7 -5.8l6.1 -0.5l-7.7 5.8z" color="#00c1b1"/>
<path d="M227.7 283.8l7.7 -5.7l6.1 -0.5l-7.7 5.7z" color="#00c99e"/>
<path d="M235.3 278.2l7.7 -5.6l6.1 -0.5l-7.7 5.6z" color="#00cb8a"/>
<path d="M243 272.6l7.7 -5.5l6.1 -0.5l-7.7 5.5z" color="#00cd76"/>
<path d="M250.7 267.1l7.7 -5.4l6.1 -0.5l-7.7 5.4z" color="#00cf63"/>
<path d="M258.4 261.7l7.7 -5.3l6.1 -0.5l-7.7 5.3z" color="#03d14e"/>
<path d="M266.1 256.4l7.7 -5.2l6.1 -0.5l-7.7 5.2z" color="#09d337"/>
<path d="M273.8 251.2l7.7 -5.1l6.1 -0.5l-7.7 5.1z" color="#0fd520"/>
<path d="M281.5 246l7.7 -5l6.1 -0.5l-7.7 5z" color="#15d70a"/>
<path d="M289.2 241l7.7 -5l6.1 -0.5l-7.7 4.9z" color="#28d900"/>
<path d="M296.9 236l7.7 -4.9l6.1 -0.5l-7.7 4.9z" color="#45db00"/>
<path d="M304.6 231.2l7.7 -4.8l6.1 -0.5l-7.7 4.8z" color="#62dc00"/>
<path d="M312.3 226.4l7.7 -4.7l6.1 -0.5l-7.7 4.7z" color="#7ede00"/>
<path d="M320 221.7l7.7 -4.6l6.1 -0.5l-7.7 4.6z" color="#9ae000"/>
<path d="M327.7 217.1l7.7 -4.5l6.1 -0.5l-7.7 4.5z" color="#b2e100"/>
<path d="M335.4 212.6l7.7 -4.4l6.1 -0.4l-7.7 4.4z" color="#c9e200"/>
<path d="M343.1 208.2l7.7 -4.3l6.1 -0.4l-7.7 4.3z" color="#e0e300"/>
<path d="M350.8 203.9l7.7 -4.2l6.1 -0.4l-7.7 4.2z" color="#f1de00"/>
<path d="M358.5 199.6l7.7 -4.1l6.1 -0.4l-7.7 4.1z" color="#f5c900"/>
<path d="M366.2 195.5l7.7 -4.1l6.1 -0.4l-7.7 4z" color="#f9b300"/>
<path d="M373.9 191.5l7.7 -4l6.1 -0.4l-7.7 4z" color="#fc9e00"/>
<path d="M381.6 187.5l7.7 -3.9l6.1 -0.4l-7.7 3.9z" color="#ff8800"/>
<path d="M389.2 183.6l7.7 -3.8l6.1 -0.4l-7.7 3.8z" color="#ff6e00"/>
<path d="M396.9 179.8l7.7 -3.7l6.1 -0.4l-7.7 3.7z" color="#ff5400"/>
<path d="M152.2 339.5l7.7 -6.5l6.1 -0.6l-7.7 6.5z" color="#061cd6"/>
<path d="M159.9 333l7.7 -6.4l6.1 -0.6l-7.7 6.4z" color="#0332e4"/>
<path d="M167.6 326.6l7.7 -6.3l6.1 -0.6l-7.7 6.3z" color="#0148f3"/>
<path d="M175.3 320.3l7.7 -6.2l6.1 -0.6l-7.7 6.2z" color="#0061f3"/>
<path d="M183 314.1l7.7 -6.1l6.1 -0.6l-7.7 6.1z" color="#007beb"/>
<path d="M190.7 308l7.7 -6l6.1 -0.6l-7.7 6z" color="#0095e3"/>
<path d="M198.4 301.9l7.7 -5.9l6.1 -0.6l-7.7 5.9z" color="#00a8d5"/>
<path d="M206.1 296l7.7 -5.9l6.1 -0.5l-7.7 5.8z" color="#00b6c1"/>
<path d="M213.8 290.1l7.7 -5.8l6.1 -0.5l-7.7 5.8z" color="#00c4ad"/>
<path d="M221.5 284.4l7.7 -5.7l6.1 -0.5l-7.7 5.7z" color="#00ca99"/>
<path d="M229.2 278.7l7.7 -5.6l6.1 -0.5l-7.7 5.6z" color="#00cb85"/>
<path d="M236.9 273.1l7.7 -5.5l6.1 -0.5l-7.7 5.5z" color="#00cd71"/>
<path d="M244.6 267.6l7.7 -5.4l6.1 -0.5l-7.7 5.4z" color="#00cf5e"/>
<path d="M252.3 262.2l7.7 -5.3l6.1 -0.5l-7.7 5.3z" color="#04d148"/>
<path d="M260 256.9l7.7 -5.2l6.1 -0.5l-7.7 5.2z" color="#0bd431"/>
<path d="M267.7 251.7l7.7 -5.1l6.1 -0.5l-7.7 5.1z" color="#11d61b"/>
<path d="M275.4 246.5l7.7 -5l6.1 -0.5l-7.7 5z" color="#17d804"/>
<path d="M283.1 241.5l7.7 -5l6.1 -0.5l-7.7 5z" color="#30d900"/>
<path d="M290.8 236.5l7.7 -4.9l6.1 -0.5l-7.7 4.9z" color="#4ddb00"/>
<path d="M298.5 231.6l7.7 -4.8l6.1 -0.5l-7.7 4.8z" color="#6add00"/>
<path d="M306.2 226.9l7.7 -4.7l6.1 -0.5l-7.7 4.7z" color="#86de00"/>
<path d="M313.9 222.2l7.7 -4.6l6.1 -0.5l-7.7 4.6z" color="#a2e000"/>
<path d="M321.6 217.6l7.7 -4.5l6.1 -0.5l-7.7 4.5z" color="#b9e100"/>
<path d="M329.3 213.1l7.7 -4.4l6.1 -0.4l-7.7 4.4z" color="#d0e200"/>
<path d="M337 208.7l7.7 -4.3l6.1 -0.4l-7.7 4.3z" color="#e6e400"/>
<path d="M344.7 204.3l7.7 -4.2l6.1 -0.4l-7.7 4.2z" color="#f2d800"/>
<path d="M352.4 200.1l7.7 -4.1l6.1 -0.4l-7.7 4.1z" color="#f6c200"/>
<path d="M360.1 195.9l7.7 -4.1l6.1 -0.4l-7.7 4.1z" color="#faad00"/>
<path d="M367.8 191.9l7.7 -4l6.1 -0.4l-7.7 4z" color="#fe9800"/>
<path d="M375.5 187.9l7.7 -3.9l6.1 -0.4l-7.7 3.9z" color="#ff8000"/>
<path d="M383.2 184l7.7 -3.8l6.1 -0.4l-7.7 3.8z" color="#ff6500"/>
<path d="M390.9 180.2l7.7 -3.7l6.1 -0.4l-7.7 3.7z" color="#ff4c00"/>
<path d="M146.1 340.1l7.7 -6.5l6.1 -0.6l-7.7 6.5z" color="#0521d9"/>
<path d="M153.8 333.6l7.7 -6.4l6.1 -0.6l-7.7 6.4z" color="#0337e7"/>
<path d="M161.5 327.2l7.7 -6.3l6.1 -0.6l-7.7 6.3z" color="#004df6"/>
<path d="M169.2 320.9l7.7 -6.2l6.1 -0.6l-7.7 6.2z" color="#0066f1"/>
<path d="M176.9 314.7l7.7 -6.1l6.1 -0.6l-7.7 6.1z" color="#0081e9"/>
<path d="M184.6 308.5l7.7 -6l6.1 -0.6l-7.7 6z" color="#009be2"/>
<path d="M192.3 302.5l7.7 -6l6.1 -0.6l-7.7 5.9z" color="#00abd0"/>
<path d="M200 296.5l7.7 -5.9l6.1 -0.5l-7.7 5.9z" color="#00babc"/>
<path d="M207.7 290.7l7.7 -5.8l6.1 -0.5l-7.7 5.8z" color="#00c8a9"/>
<path d="M215.4 284.9l7.7 -5.7l6.1 -0.5l-7.7 5.7z" color="#00ca94"/>
<path d="M223.1 279.2l7.7 -5.6l6.1 -0.5l-7.7 5.6z" color="#00cc80"/>
<path d="M230.8 273.6l7.7 -5.5l6.1 -0.5l-7.7 5.5z" color="#00ce6d"/>
<path d="M238.5 268.1l7.7 -5.4l6.1 -0.5l-7.7 5.4z" color="#00d059"/>
<path d="M246.2 262.7l7.7 -5.3l6.1 -0.5l-7.7 5.3z" color="#06d242"/>
<path d="M253.9 257.4l7.7 -5.2l6.1 -0.5l-7.7 5.2z" color="#0cd42b"/>
<path d="M261.6 252.2l7.7 -5.1l6.1 -0.5l-7.7 5.1z" color="#12d615"/>
<path d="M269.3 247l7.7 -5.1l6.1 -0.5l-7.7 5z" color="#1ad800"/>
<path d="M277 242l7.7 -5l6.1 -0.5l-7.7 5z" color="#38da00"/>
<path d="M284.7 237l7.7 -4.9l6.1 -0.5l-7.7 4.9z" color="#55dc00"/>
<path d="M292.4 232.1l7.7 -4.8l6.1 -0.5l-7.7 4.8z" color="#71dd00"/>
<path d="M300.1 227.3l7.7 -4.7l6.1 -0.5l-7.7 4.7z" color="#8edf00"/>
<path d="M307.8 222.6l7.7 -4.6l6.1 -0.5l-7.7 4.6z" color="#a8e000"/>
<path d="M315.5 218l7.7 -4.5l6.1 -0.5l-7.7 4.5z" color="#bfe200"/>
<path d="M323.2 213.5l7.7 -4.4l6.1 -0.4l-7.7 4.4z" color="#d6e300"/>
<path d="M330.9 209.1l7.7 -4.3l6.1 -0.4l-7.7 4.3z" color="#ede400"/>
<path d="M338.6 204.8l7.7 -4.2l6.1 -0.4l-7.7 4.2z" color="#f3d100"/>
<path d="M346.3 200.5l7.7 -4.2l6.1 -0.4l-7.7 4.1z" color="#f7bc00"/>
<path d="M354 196.4l7.7 -4.1l6.1 -0.4l-7.7 4.1z" color="#fba600"/>
<path d="M361.7 192.3l7.7 -4l6.1 -0.4l-7.7 4z" color="#ff9100"/>
<path d="M369.4 188.3l7.7 -3.9l6.1 -0.4l-7.7 3.9z" color="#ff7700"/>
<path d="M377.1 184.4l7.7 -3.8l6.1 -0.4l-7.7 3.8z" color="#ff5d00"/>
<path d="M384.8 180.6l7.7 -3.7l6.1 -0.4l-7.7 3.7z" color="#ff4300"/>
<path d="M139.9 340.7l7.7 -6.5l6.1 -0.6l-7.7 6.5z" color="#0525dc"/>
<path d="M147.7 334.2l7.7 -6.4l6.1 -0.6l-7.7 6.4z" color="#023bea"/>
<path d="M155.4 327.8l7.7 -6.3l6.1 -0.6l-7.7 6.3z" color="#0052f8"/>
<path d="M163.1 321.5l7.7 -6.2l6.1 -0.6l-7.7 6.2z" color="#006cf0"/>
<path d="M170.8 315.2l7.7 -6.1l6.1 -0.6l-7.7 6.1z" color="#0086e8"/>
<path d="M178.5 309.1l7.7 -6l6.1 -0.6l-7.7 6z" color="#00a0e0"/>
<path d="M186.2 303.1l7.7 -6l6.1 -0.6l-7.7 6z" color="#00afcc"/>
<path d="M193.9 297.1l7.7 -5.9l6.1 -0.5l-7.7 5.9z" color="#00bdb8"/>
<path d="M201.6 291.2l7.7 -5.8l6.1 -0.5l-7.7 5.8z" color="#00c8a4"/>
<path d="M209.3 285.5l7.7 -5.7l6.1 -0.5l-7.7 5.7z" color="#00ca90"/>
<path d="M217 279.8l7.7 -5.6l6.1 -0.5l-7.7 5.6z" color="#00cc7c"/>
<path d="M224.7 274.2l7.7 -5.5l6.1 -0.5l-7.7 5.5z" color="#00ce68"/>
<path d="M232.4 268.7l7.7 -5.4l6.1 -0.5l-7.7 5.4z" color="#01d054"/>
<path d="M240.1 263.2l7.7 -5.3l6.1 -0.5l-7.7 5.3z" color="#07d23d"/>
<path d="M247.8 257.9l7.7 -5.2l6.1 -0.5l-7.7 5.2z" color="#0ed526"/>
<path d="M255.5 252.7l7.7 -5.2l6.1 -0.5l-7.7 5.1z" color="#14d70f"/>
<path d="M263.2 247.5l7.7 -5.1l6.1 -0.5l-7.7 5.1z" color="#22d900"/>
<path d="M270.9 242.4l7.7 -5l6.1 -0.5l-7.7 5z" color="#3fda00"/>
<path d="M278.6 237.5l7.7 -4.9l6.1 -0.5l-7.7 4.9z" color="#5cdc00"/>
<path d="M286.3 232.6l7.7 -4.8l6.1 -0.5l-7.7 4.8z" color="#79de00"/>
<path d="M294 227.8l7.7 -4.7l6.1 -0.5l-7.7 4.7z" color="#95df00"/>
<path d="M301.7 223.1l7.7 -4.6l6.1 -0.5l-7.7 4.6z" color="#afe100"/>
<path d="M309.4 218.5l7.7 -4.5l6.1 -0.5l-7.7 4.5z" color="#c6e200"/>
<path d="M317.1 214l7.7 -4.4l6.1 -0.4l-7.7 4.4z" color="#dde300"/>
<path d="M324.8 209.5l7.7 -4.3l6.1 -0.4l-7.7 4.3z" color="#f1e100"/>
<path d="M332.5 205.2l7.7 -4.3l6.1 -0.4l-7.7 4.2z" color="#f5cb00"/>
<path d="M340.2 200.9l7.7 -4.2l6.1 -0.4l-7.7 4.2z" color="#f8b500"/>
<path d="M348 196.8l7.7 -4.1l6.1 -0.4l-7.7 4.1z" color="#fca000"/>
<path d="M355.7 192.7l7.7 -4l6.1 -0.4l-7.7 4z" color="#ff8900"/>
<path d="M363.4 188.7l7.7 -3.9l6.1 -0.4l-7.7 3.9z" color="#ff6f00"/>
<path d="M371.1 184.8l7.7 -3.8l6.1 -0.4l-7.7 3.8z" color="#ff5400"/>
<path d="M378.8 181l7.7 -3.7l6.1 -0.4l-7.7 3.7z" color="#ff3b00"/>
<path d="M133.8 341.3l7.7 -6.5l6.1 -0.6l-7.7 6.5z" color="#042adf"/>
<path d="M141.5 334.8l7.7 -6.4l6.1 -0.6l-7.7 6.4z" color="#0240ed"/>
<path d="M149.2 328.4l7.7 -6.3l6.1 -0.6l-7.7 6.3z" color="#0057f6"/>
<path d="M156.9 322.1l7.7 -6.2l6.1 -0.6l-7.7 6.2z" color="#0072ee"/>
<path d="M164.6 315.8l7.7 -6.1l6.1 -0.6l-7.7 6.1z" color="#008ce6"/>
<path d="M172.3 309.7l7.7 -6.1l6.1 -0.6l-7.7 6z" color="#00a3db"/>
<path d="M180 303.6l7.7 -6l6.1 -0.6l-7.7 6z" color="#00b2c7"/>
<path d="M187.7 297.7l7.7 -5.9l6.1 -0.5l-7.7 5.9z" color="#00c0b3"/>
<path d="M195.5 291.8l7.7 -5.8l6.1 -0.5l-7.7 5.8z" color="#00c99f"/>
<path d="M203.2 286l7.7 -5.7l6.1 -0.5l-7.7 5.7z" color="#00cb8b"/>
<path d="M210.9 280.3l7.7 -5.6l6.1 -0.5l-7.7 5.6z" color="#00cd77"/>
<path d="M218.6 274.7l7.7 -5.5l6.1 -0.5l-7.7 5.5z" color="#00cf63"/>
<path d="M226.3 269.2l7.7 -5.4l6.1 -0.5l-7.7 5.4z" color="#03d14e"/>
<path d="M234 263.7l7.7 -5.3l6.1 -0.5l-7.7 5.3z" color="#09d337"/>
<path d="M241.7 258.4l7.7 -5.2l6.1 -0.5l-7.7 5.2z" color="#0fd520"/>
<path d="M249.4 253.2l7.7 -5.2l6.1 -0.5l-7.7 5.2z" color="#15d709"/>
<path d="M257.1 248l7.7 -5.1l6.1 -0.5l-7.7 5.1z" color="#29d900"/>
<path d="M264.8 242.9l7.7 -5l6.1 -0.5l-7.7 5z" color="#47db00"/>
<path d="M272.5 238l7.7 -4.9l6.1 -0.5l-7.7 4.9z" color="#64dc00"/>
<path d="M280.2 233.1l7.7 -4.8l6.1 -0.5l-7.7 4.8z" color="#81de00"/>
<path d="M287.9 228.3l7.7 -4.7l6.1 -0.5l-7.7 4.7z" color="#9de000"/>
<path d="M295.6 223.6l7.7 -4.6l6.1 -0.5l-7.7 4.6z" color="#b5e100"/>
<path d="M303.3 219l7.7 -4.5l6.1 -0.5l-7.7 4.5z" color="#cce200"/>
<path d="M311.1 214.4l7.7 -4.4l6.1 -0.4l-7.7 4.4z" color="#e3e300"/>
<path d="M318.8 210l7.7 -4.3l6.1 -0.4l-7.7 4.3z" color="#f2da00"/>
<path d="M326.5 205.6l7.7 -4.3l6.1 -0.4l-7.7 4.3z" color="#f6c400"/>
<path d="M334.2 201.4l7.7 -4.2l6.1 -0.4l-7.7 4.2z" color="#faaf00"/>
<path d="M341.9 197.2l7.7 -4.1l6.1 -0.4l-7.7 4.1z" color="#fd9900"/>
<path d="M349.6 193.1l7.7 -4l6.1 -0.4l-7.7 4z" color="#ff8100"/>
<path d="M357.3 189.1l7.7 -3.9l6.1 -0.4l-7.7 3.9z" color="#ff6600"/>
<path d="M365 185.2l7.7 -3.8l6.1 -0.4l-7.7 3.8z" color="#ff4c00"/>
<path d="M372.7 181.4l7.7 -3.7l6.1 -0.4l-7.7 3.7z" color="#ff3200"/>
<path d="M127.7 341.9l7.7 -6.5l6.1 -0.6l-7.7 6.5z" color="#042ee2"/>
<path d="M135.4 335.4l7.7 -6.4l6.1 -0.6l-7.7 6.4z" color="#0145f0"/>
<path d="M143.1 329l7.7 -6.3l6.1 -0.6l-7.7 6.3z" color="#005df4"/>
<path d="M150.8 322.6l7.7 -6.2l6.1 -0.6l-7.7 6.2z" color="#0077ec"/>
<path d="M158.5 316.4l7.7 -6.2l6.1 -0.6l-7.7 6.1z" color="#0091e4"/>
<path d="M166.2 310.2l7.7 -6.1l6.1 -0.6l-7.7 6.1z" color="#00a6d7"/>
<path d="M173.9 304.2l7.7 -6l6.1 -0.6l-7.7 6z" color="#00b5c3"/>
<path d="M181.6 298.2l7.7 -5.9l6.1 -0.5l-7.7 5.9z" color="#00c3af"/>
<path d="M189.3 292.3l7.7 -5.8l6.1 -0.5l-7.7 5.8z" color="#00c99b"/>
<path d="M197 286.5l7.7 -5.7l6.1 -0.5l-7.7 5.7z" color="#00cb86"/>
<path d="M204.7 280.8l7.7 -5.6l6.1 -0.5l-7.7 5.6z" color="#00cd72"/>
<path d="M212.5 275.2l7.7 -5.5l6.1 -0.5l-7.7 5.5z" color="#00cf5f"/>
<path d="M220.2 269.7l7.7 -5.4l6.1 -0.5l-7.7 5.4z" color="#04d149"/>
<path d="M227.9 264.3l7.7 -5.3l6.1 -0.5l-7.7 5.3z" color="#0bd431"/>
<path d="M235.6 258.9l7.7 -5.3l6.1 -0.5l-7.7 5.2z" color="#11d61a"/>
<path d="M243.3 253.7l7.7 -5.2l6.1 -0.5l-7.7 5.2z" color="#17d804"/>
<path d="M251 248.5l7.7 -5.1l6.1 -0.5l-7.7 5.1z" color="#31d900"/>
<path d="M258.7 243.4l7.7 -5l6.1 -0.5l-7.7 5z" color="#4edb00"/>
<path d="M266.4 238.4l7.7 -4.9l6.1 -0.5l-7.7 4.9z" color="#6cdd00"/>
<path d="M274.1 233.6l7.7 -4.8l6.1 -0.5l-7.7 4.8z" color="#88df00"/>
<path d="M281.8 228.7l7.7 -4.7l6.1 -0.5l-7.7 4.7z" color="#a4e000"/>
<path d="M289.6 224l7.7 -4.6l6.1 -0.5l-7.7 4.6z" color="#bce100"/>
<path d="M297.3 219.4l7.7 -4.5l6.1 -0.5l-7.7 4.5z" color="#d3e300"/>
<path d="M305 214.9l7.7 -4.4l6.1 -0.4l-7.7 4.4z" color="#eae400"/>
<path d="M312.7 210.4l7.7 -4.4l6.1 -0.4l-7.7 4.3z" color="#f3d400"/>
<path d="M320.4 206.1l7.7 -4.3l6.1 -0.4l-7.7 4.3z" color="#f7be00"/>
<path d="M328.1 201.8l7.7 -4.2l6.1 -0.4l-7.7 4.2z" color="#fba800"/>
<path d="M335.8 197.6l7.7 -4.1l6.1 -0.4l-7.7 4.1z" color="#ff9300"/>
<path d="M343.5 193.5l7.7 -4l6.1 -0.4l-7.7 4z" color="#ff7800"/>
<path d="M351.2 189.6l7.7 -3.9l6.1 -0.4l-7.7 3.9z" color="#ff5e00"/>
<path d="M358.9 185.6l7.7 -3.8l6.1 -0.4l-7.7 3.8z" color="#ff4300"/>
<path d="M366.6 181.8l7.7 -3.7l6.1 -0.4l-7.7 3.7z" color="#ff2a00"/>
<path d="M121.5 342.5l7.7 -6.5l6.1 -0.6l-7.7 6.5z" color="#0333e5"/>
<path d="M129.2 336l7.7 -6.4l6.1 -0.6l-7.7 6.4z" color="#0149f3"/>
<path d="M136.9 329.6l7.7 -6.3l6.1 -0.6l-7.7 6.3z" color="#0062f3"/>
<path d="M144.6 323.2l7.7 -6.2l6.1 -0.6l-7.7 6.2z" color="#007deb"/>
<path d="M152.3 317l7.7 -6.2l6.1 -0.6l-7.7 6.2z" color="#0097e3"/>
<path d="M160.1 310.8l7.7 -6.1l6.1 -0.6l-7.7 6.1z" color="#00aad3"/>
<path d="M167.8 304.7l7.7 -6l6.1 -0.6l-7.7 6z" color="#00b8be"/>
<path d="M175.5 298.8l7.7 -5.9l6.1 -0.5l-7.7 5.9z" color="#00c6aa"/>
<path d="M183.2 292.9l7.7 -5.8l6.1 -0.5l-7.7 5.8z" color="#00ca96"/>
<path d="M190.9 287.1l7.7 -5.7l6.1 -0.5l-7.7 5.7z" color="#00cc82"/>
<path d="M198.6 281.4l7.7 -5.6l6.1 -0.5l-7.7 5.6z" color="#00ce6e"/>
<path d="M206.3 275.7l7.7 -5.5l6.1 -0.5l-7.7 5.5z" color="#00d05a"/>
<path d="M214.1 270.2l7.7 -5.4l6.1 -0.5l-7.7 5.4z" color="#06d243"/>
<path d="M221.8 264.8l7.7 -5.3l6.1 -0.5l-7.7 5.3z" color="#0cd42c"/>
<path d="M229.5 259.4l7.7 -5.3l6.1 -0.5l-7.7 5.3z" color="#12d615"/>
<path d="M237.2 254.2l7.7 -5.2l6.1 -0.5l-7.7 5.2z" color="#1bd800"/>
<path d="M244.9 249l7.7 -5.1l6.1 -0.5l-7.7 5.1z" color="#39da00"/>
<path d="M252.6 243.9l7.7 -5l6.1 -0.5l-7.7 5z" color="#56dc00"/>
<path d="M260.3 238.9l7.7 -4.9l6.1 -0.5l-7.7 4.9z" color="#73dd00"/>
<path d="M268 234l7.7 -4.8l6.1 -0.5l-7.7 4.8z" color="#90df00"/>
<path d="M275.8 229.2l7.7 -4.7l6.1 -0.5l-7.7 4.7z" color="#abe100"/>
<path d="M283.5 224.5l7.7 -4.6l6.1 -0.5l-7.7 4.6z" color="#c2e200"/>
<path d="M291.2 219.9l7.7 -4.5l6.1 -0.5l-7.7 4.5z" color="#dae300"/>
<path d="M298.9 215.3l7.7 -4.5l6.1 -0.4l-7.7 4.4z" color="#f0e400"/>
<path d="M306.6 210.9l7.7 -4.4l6.1 -0.4l-7.7 4.4z" color="#f4cd00"/>
<path d="M314.3 206.5l7.7 -4.3l6.1 -0.4l-7.7 4.3z" color="#f8b700"/>
<path d="M322 202.2l7.7 -4.2l6.1 -0.4l-7.7 4.2z" color="#fca100"/>
<path d="M329.7 198.1l7.7 -4.1l6.1 -0.4l-7.7 4.1z" color="#ff8b00"/>
<path d="M337.5 194l7.7 -4l6.1 -0.4l-7.7 4z" color="#ff7000"/>
<path d="M345.2 190l7.7 -3.9l6.1 -0.4l-7.7 3.9z" color="#ff5500"/>
<path d="M352.9 186.1l7.7 -3.8l6.1 -0.4l-7.7 3.8z" color="#ff3b00"/>
<path d="M360.6 182.2l7.7 -3.7l6.1 -0.4l-7.7 3.7z" color="#ff2100"/>
</g>
<path d="M121.5 342.5L167.6 338L213.8 333.5L259.9 329L306 324.5M129.2 336L175.3 331.5L221.4 327.1L267.5 322.6L313.6 318.2M136.9 329.6L183 325.2L229.1 320.7L275.2 316.3L321.2 311.9M144.6 323.2L190.7 318.9L236.8 314.5L282.8 310.2L328.9 305.8M152.3 317L198.4 312.7L244.4 308.4L290.5 304L336.5 299.7M160.1 310.8L206.1 306.6L252.1 302.3L298.1 298L344.1 293.8M167.8 304.7L213.8 300.5L259.8 296.3L305.8 292.1L351.8 287.9M175.5 298.8L221.5 294.6L267.4 290.4L313.4 286.3L359.4 282.1M183.2 292.9L229.1 288.8L275.1 284.6L321.1 280.5L367 276.4M190.9 287.1L236.8 283L282.8 278.9L328.7 274.9L374.6 270.8M198.6 281.4L244.5 277.4L290.4 273.3L336.3 269.3L382.2 265.3M206.3 275.7L252.2 271.8L298.1 267.8L344 263.8L389.9 259.9M214.1 270.2L259.9 266.3L305.8 262.4L351.6 258.5L397.5 254.5M221.8 264.8L267.6 260.9L313.4 257L359.3 253.2L405.1 249.3M229.5 259.4L275.3 255.6L321.1 251.8L366.9 248L412.8 244.1M237.2 254.2L283 250.4L328.8 246.6L374.6 242.8L420.4 239.1M244.9 249L290.7 245.3L336.4 241.6L382.2 237.8L428 234.1M252.6 243.9L298.4 240.2L344.1 236.6L389.9 232.9L435.6 229.2M260.3 238.9L306.1 235.3L351.8 231.7L397.5 228L443.2 224.4M268 234L313.7 230.4L359.5 226.9L405.2 223.3L450.9 219.7M275.8 229.2L321.4 225.7L367.1 222.2L412.8 218.6L458.5 215.1M283.5 224.5L329.1 221L374.8 217.5L420.5 214L466.1 210.6M291.2 219.9L336.8 216.4L382.5 213L428.1 209.6L473.8 206.1M298.9 215.3L344.5 211.9L390.1 208.6L435.8 205.2L481.4 201.8M306.6 210.9L352.2 207.5L397.8 204.2L443.4 200.9L489 197.5M314.3 206.5L359.9 203.2L405.5 199.9L451 196.6L496.6 193.4M322 202.2L367.6 199L413.1 195.8L458.7 192.5L504.2 189.3M329.7 198.1L375.3 194.9L420.8 191.7L466.3 188.5L511.9 185.3M337.5 194L383 190.8L428.5 187.7L474 184.5L519.5 181.4M345.2 190L390.7 186.9L436.1 183.8L481.6 180.7L527.1 177.6M352.9 186.1L398.3 183L443.8 180L489.3 176.9L534.8 173.9M360.6 182.2L406 179.2L451.5 176.2L496.9 173.2L542.4 170.2M368.3 178.5L413.7 175.6L459.1 172.6L504.6 169.6L550 166.7M121.5 342.5L142.1 325.3L162.6 308.8L183.2 292.9L203.8 277.6L224.3 263L244.9 249L265.5 235.7L286 222.9L306.6 210.9L327.2 199.4L347.7 188.7L368.3 178.5M127.7 341.9L148.2 324.7L168.8 308.2L189.3 292.3L209.9 277.1L230.4 262.5L251 248.5L271.6 235.2L292.1 222.5L312.7 210.4L333.2 199L353.8 188.2L374.4 178.1M133.8 341.3L154.4 324.2L174.9 307.6L195.5 291.8L216 276.5L236.6 262L257.1 248L277.7 234.7L298.2 222L318.8 210L339.3 198.6L359.9 187.8L380.4 177.7M139.9 340.7L160.5 323.6L181 307.1L201.6 291.2L222.1 276L242.7 261.4L263.2 247.5L283.8 234.2L304.3 221.6L324.8 209.5L345.4 198.2L365.9 187.4L386.5 177.3M146.1 340.1L166.6 323L187.2 306.5L207.7 290.7L228.2 275.5L248.8 260.9L269.3 247L289.8 233.7L310.4 221.1L330.9 209.1L351.5 197.7L372 187L392.5 176.9M152.2 339.5L172.8 322.4L193.3 305.9L213.8 290.1L234.4 275L254.9 260.4L275.4 246.5L295.9 233.3L316.5 220.6L337 208.7L357.5 197.3L378.1 186.6L398.6 176.5M158.4 338.9L178.9 321.8L199.4 305.4L220 289.6L240.5 274.4L261 259.9L281.5 246L302 232.8L322.6 220.2L343.1 208.2L363.6 196.9L384.1 186.2L404.6 176.1M164.6 338.3L185.1 321.2L205.6 304.8L226.1 289L246.6 273.9L267.1 259.4L287.6 245.5L308.1 232.3L328.6 219.7L349.2 207.8L369.7 196.4L390.2 185.8L410.7 175.7M170.7 337.7L191.2 320.7L211.7 304.3L232.2 288.5L252.7 273.4L273.2 258.9L293.7 245L314.2 231.8L334.7 219.2L355.2 207.3L375.7 196L396.2 185.4L416.8 175.4M176.8 337.1L197.3 320.1L217.8 303.7L238.3 287.9L258.8 272.8L279.3 258.4L299.8 244.5L320.3 231.3L340.8 218.8L361.3 206.9L381.8 195.6L402.3 185L422.8 175M183 336.5L203.5 319.5L224 303.1L244.5 287.4L265 272.3L285.4 257.8L305.9 244L326.4 230.9L346.9 218.3L367.4 206.4L387.9 195.2L408.4 184.5L428.9 174.6M189.1 335.9L209.6 318.9L230.1 302.6L250.6 286.8L271.1 271.8L291.6 257.3L312 243.5L332.5 230.4L353 217.9L373.5 206L394 194.7L414.4 184.1L434.9 174.2M195.3 335.3L215.8 318.3L236.2 302L256.7 286.3L277.2 271.2L297.7 256.8L318.1 243L338.6 229.9L359.1 217.4L379.6 205.5L400 194.3L420.5 183.7L441 173.8M201.4 334.7L221.9 317.7L242.4 301.4L262.8 285.7L283.3 270.7L303.8 256.3L324.2 242.5L344.7 229.4L365.2 216.9L385.6 205.1L406.1 193.9L426.6 183.3L447 173.4M207.6 334.1L228.1 317.2L248.5 300.9L269 285.2L289.4 270.2L309.9 255.8L330.3 242L350.8 228.9L371.3 216.5L391.7 204.6L412.2 193.5L432.6 182.9L453.1 173M213.8 333.5L234.2 316.6L254.7 300.3L275.1 284.6L295.5 269.6L316 255.3L336.4 241.6L356.9 228.5L377.3 216L397.8 204.2L418.2 193L438.7 182.5L459.1 172.6M219.9 332.9L240.3 316L260.8 299.7L281.2 284.1L301.7 269.1L322.1 254.8L342.6 241.1L363 228L383.4 215.5L403.9 203.8L424.3 192.6L444.8 182.1L465.2 172.2M226.1 332.3L246.5 315.4L266.9 299.2L287.4 283.6L307.8 268.6L328.2 254.2L348.7 240.6L369.1 227.5L389.5 215.1L410 203.3L430.4 192.2L450.8 181.7L471.3 171.8M232.2 331.7L252.6 314.8L273.1 298.6L293.5 283L313.9 268.1L334.3 253.7L354.8 240.1L375.2 227L395.6 214.6L416 202.9L436.5 191.7L456.9 181.3L477.3 171.4M238.3 331.1L258.8 314.2L279.2 298L299.6 282.5L320 267.5L340.4 253.2L360.9 239.6L381.3 226.5L401.7 214.2L422.1 202.4L442.5 191.3L463 180.9L483.4 171M244.5 330.5L264.9 313.7L285.3 297.5L305.7 281.9L326.1 267L346.6 252.7L367 239.1L387.4 226.1L407.8 213.7L428.2 202L448.6 190.9L469 180.4L489.4 170.6M250.7 329.9L271.1 313.1L291.5 296.9L311.9 281.4L332.3 266.5L352.7 252.2L373.1 238.6L393.5 225.6L413.9 213.2L434.3 201.5L454.7 190.5L475.1 180L495.5 170.2M256.8 329.3L277.2 312.5L297.6 296.3L318 280.8L338.4 265.9L358.8 251.7L379.2 238.1L399.6 225.1L420 212.8L440.4 201.1L460.8 190L481.2 179.6L501.5 169.8M263 328.7L283.3 311.9L303.7 295.8L324.1 280.3L344.5 265.4L364.9 251.2L385.3 237.6L405.7 224.6L426.1 212.3L446.4 200.6L466.8 189.6L487.2 179.2L507.6 169.5M269.1 328.1L289.5 311.3L309.9 295.2L330.2 279.7L350.6 264.9L371 250.7L391.4 237.1L411.8 224.1L432.1 211.9L452.5 200.2L472.9 189.2L493.3 178.8L513.7 169.1M275.2 327.5L295.6 310.8L316 294.6L336.4 279.2L356.7 264.3L377.1 250.1L397.5 236.6L417.9 223.7L438.2 211.4L458.6 199.7L479 188.7L499.3 178.4L519.7 168.7M281.4 326.9L301.8 310.2L322.1 294.1L342.5 278.6L362.9 263.8L383.2 249.6L403.6 236.1L424 223.2L444.3 210.9L464.7 199.3L485 188.3L505.4 178L525.8 168.3M287.6 326.3L307.9 309.6L328.3 293.5L348.6 278.1L369 263.3L389.3 249.1L409.7 235.6L430 222.7L450.4 210.5L470.8 198.9L491.1 187.9L511.5 177.6L531.8 167.9M293.7 325.7L314 309L334.4 292.9L354.7 277.5L375.1 262.7L395.4 248.6L415.8 235.1L436.1 222.2L456.5 210L476.8 198.4L497.2 187.5L517.5 177.2L537.9 167.5M299.9 325.1L320.2 308.4L340.5 292.4L360.9 277L381.2 262.2L401.6 248.1L421.9 234.6L442.2 221.7L462.6 209.5L482.9 198L503.3 187L523.6 176.7L543.9 167.1M306 324.5L326.3 307.8L346.7 291.8L367 276.4L387.3 261.7L407.7 247.6L428 234.1L448.3 221.3L468.7 209.1L489 197.5L509.3 186.6L529.7 176.3L550 166.7" fill="none" stroke="#000" stroke-opacity="0.7" stroke-width="1.4"/>
<line x1="368.5" y1="449" x2="368" y2="177.5" stroke="#3a3a3a" stroke-width="1.0"/>
<line x1="107" y1="121.5" x2="368" y2="177.5" stroke="#1c1c1c" stroke-width="1.3"/>
<line x1="368" y1="177.5" x2="563.4" y2="103" stroke="#1c1c1c" stroke-width="1.3"/>
<text x="82.5" y="145.6" font-size="20.5" text-anchor="middle" fill="#111">50</text>
<text x="82.5" y="275.6" font-size="20.5" text-anchor="middle" fill="#111">40</text>
<text x="92" y="410.9" font-size="20.5" text-anchor="middle" fill="#111">60</text>
<text x="156.5" y="421.9" font-size="20.5" text-anchor="middle" fill="#111">70</text>
<text x="217" y="432.9" font-size="20.5" text-anchor="middle" fill="#111">80</text>
<text x="277" y="444.9" font-size="20.5" text-anchor="middle" fill="#111">90</text>
<text x="335.5" y="457.9" font-size="20.5" text-anchor="middle" fill="#111">100</text>
<text x="414.5" y="456.9" font-size="20.5" text-anchor="middle" fill="#111">23.2</text>
<text x="459.5" y="440.9" font-size="20.5" text-anchor="middle" fill="#111">26.5</text>
<text x="504.5" y="422.9" font-size="20.5" text-anchor="middle" fill="#111">29.8</text>
<text x="549.5" y="405.9" font-size="20.5" text-anchor="middle" fill="#111">33.1</text>
<text x="595" y="388.9" font-size="20.5" text-anchor="middle" fill="#111">36.4</text>
<text x="43.5" y="229" font-size="19" fill="#2c3a52" stroke="#2c3a52" stroke-width="0.15" text-anchor="middle" transform="rotate(-90 43.5 229)" textLength="88" lengthAdjust="spacingAndGlyphs">&#945;<tspan font-size="13" dy="2">Si(cm)</tspan><tspan dy="-2"> , %</tspan></text>
<line x1="755.1" y1="15.8" x2="755.1" y2="464.3" stroke="#868686" stroke-width="1.5"/>
<line x1="694" y1="71.9" x2="1182.5" y2="71.9" stroke="#262626" stroke-width="1.5"/>
<line x1="816.1" y1="15.8" x2="816.1" y2="464.3" stroke="#262626" stroke-width="1.5"/>
<line x1="694" y1="127.9" x2="1182.5" y2="127.9" stroke="#262626" stroke-width="1.5"/>
<line x1="877.2" y1="15.8" x2="877.2" y2="464.3" stroke="#3c3c3c" stroke-width="1.5"/>
<line x1="694" y1="184" x2="1182.5" y2="184" stroke="#262626" stroke-width="1.5"/>
<line x1="938.2" y1="15.8" x2="938.2" y2="464.3" stroke="#262626" stroke-width="1.5"/>
<line x1="694" y1="240.1" x2="1182.5" y2="240.1" stroke="#262626" stroke-width="1.5"/>
<line x1="999.3" y1="15.8" x2="999.3" y2="464.3" stroke="#6a6a6a" stroke-width="1.5"/>
<line x1="694" y1="296.1" x2="1182.5" y2="296.1" stroke="#262626" stroke-width="1.5"/>
<line x1="1060.4" y1="15.8" x2="1060.4" y2="464.3" stroke="#262626" stroke-width="1.5"/>
<line x1="694" y1="352.2" x2="1182.5" y2="352.2" stroke="#262626" stroke-width="1.5"/>
<line x1="1121.4" y1="15.8" x2="1121.4" y2="464.3" stroke="#868686" stroke-width="1.5"/>
<line x1="694" y1="408.2" x2="1182.5" y2="408.2" stroke="#262626" stroke-width="1.5"/>
<line x1="694" y1="15.3" x2="694" y2="470.3" stroke="#1c1c1c" stroke-width="1.65"/>
<line x1="1182.5" y1="15.3" x2="1182.5" y2="470.3" stroke="#1c1c1c" stroke-width="1.6"/>
<line x1="688" y1="15.8" x2="1183.2" y2="15.8" stroke="#1c1c1c" stroke-width="1.7"/>
<line x1="688" y1="464.3" x2="1183.2" y2="464.3" stroke="#1c1c1c" stroke-width="2.4"/>
<line x1="694" y1="456.3" x2="694" y2="470.3" stroke="#1c1c1c" stroke-width="1.3"/>
<line x1="687" y1="15.8" x2="704" y2="15.8" stroke="#1c1c1c" stroke-width="1.3"/>
<line x1="1172.5" y1="15.8" x2="1182.5" y2="15.8" stroke="#1c1c1c" stroke-width="1.3"/>
<line x1="816.1" y1="456.3" x2="816.1" y2="470.3" stroke="#1c1c1c" stroke-width="1.3"/>
<line x1="687" y1="127.9" x2="704" y2="127.9" stroke="#1c1c1c" stroke-width="1.3"/>
<line x1="1172.5" y1="127.9" x2="1182.5" y2="127.9" stroke="#1c1c1c" stroke-width="1.3"/>
<line x1="938.2" y1="456.3" x2="938.2" y2="470.3" stroke="#1c1c1c" stroke-width="1.3"/>
<line x1="687" y1="240.1" x2="704" y2="240.1" stroke="#1c1c1c" stroke-width="1.3"/>
<line x1="1172.5" y1="240.1" x2="1182.5" y2="240.1" stroke="#1c1c1c" stroke-width="1.3"/>
<line x1="1060.4" y1="456.3" x2="1060.4" y2="470.3" stroke="#1c1c1c" stroke-width="1.3"/>
<line x1="687" y1="352.2" x2="704" y2="352.2" stroke="#1c1c1c" stroke-width="1.3"/>
<line x1="1172.5" y1="352.2" x2="1182.5" y2="352.2" stroke="#1c1c1c" stroke-width="1.3"/>
<line x1="1182.5" y1="456.3" x2="1182.5" y2="470.3" stroke="#1c1c1c" stroke-width="1.3"/>
<line x1="687" y1="464.3" x2="704" y2="464.3" stroke="#1c1c1c" stroke-width="1.3"/>
<line x1="1172.5" y1="464.3" x2="1182.5" y2="464.3" stroke="#1c1c1c" stroke-width="1.3"/>
<clipPath id="cl15"><rect x="694" y="15.8" width="488.5" height="448.5"/></clipPath>
<g clip-path="url(#cl15)">
<path d="M802 16L797.8 34.8L793.6 53.5L789.4 72.2L785.3 91L781.1 109.8L777 128.5L772.9 147.2L768.7 166L764.6 184.8L760.6 203.5L756.5 222.2L752.4 241L748.4 259.8L744.3 278.5L740.3 297.2L736.3 316L732.2 334.8L728.3 353.5L724.3 372.2L720.3 391L716.3 409.8L712.4 428.5L708.4 447.2L704.5 466" fill="none" stroke="#2e2e2e" stroke-width="1.05" stroke-linejoin="round"/>
<path d="M950.6 14L945.6 32.8L940.6 51.7L935.6 70.5L930.6 89.3L925.7 108.2L920.7 127L915.9 145.8L911 164.7L906.2 183.5L901.4 202.3L896.6 221.2L891.8 240L887.1 258.8L882.4 277.7L877.7 296.5L873 315.3L868.4 334.2L863.8 353L859.2 371.8L854.7 390.7L850.2 409.5L845.7 428.3L841.2 447.2L836.8 466" fill="none" stroke="#2e2e2e" stroke-width="1.05" stroke-linejoin="round"/>
<path d="M1119.5 14L1113.2 32.8L1107 51.7L1100.8 70.5L1094.6 89.3L1088.5 108.2L1082.4 127L1076.4 145.8L1070.4 164.7L1064.5 183.5L1058.7 202.3L1052.8 221.2L1047.1 240L1041.3 258.8L1035.7 277.7L1030.1 296.5L1024.5 315.3L1019 334.2L1013.5 353L1008.1 371.8L1002.7 390.7L997.3 409.5L992.1 428.3L986.8 447.2L981.7 466" fill="none" stroke="#2e2e2e" stroke-width="1.05" stroke-linejoin="round"/>
<path d="M1183.5 361L1181.9 365.4L1180.3 369.8L1178.7 374.1L1177.1 378.5L1175.6 382.9L1174 387.2L1172.4 391.6L1170.8 396L1169.2 400.4L1167.6 404.8L1166 409.1L1164.5 413.5L1162.9 417.9L1161.3 422.2L1159.7 426.6L1158.1 431L1156.5 435.4L1155 439.8L1153.4 444.1L1151.8 448.5L1150.2 452.9L1148.7 457.2L1147.1 461.6L1145.5 466" fill="none" stroke="#2e2e2e" stroke-width="1.05" stroke-linejoin="round"/>
<text x="786.4" y="92.1" font-size="20" text-anchor="middle" textLength="19.5" lengthAdjust="spacingAndGlyphs" fill="#111">35</text>
<text x="747.7" y="271.8" font-size="20" text-anchor="middle" textLength="19.5" lengthAdjust="spacingAndGlyphs" fill="#111">35</text>
<text x="707.8" y="459.6" font-size="20" text-anchor="middle" textLength="19.5" lengthAdjust="spacingAndGlyphs" fill="#111">35</text>
<text x="928.5" y="110.6" font-size="20" text-anchor="middle" textLength="19.5" lengthAdjust="spacingAndGlyphs" fill="#111">40</text>
<text x="882.9" y="290.6" font-size="20" text-anchor="middle" textLength="19.5" lengthAdjust="spacingAndGlyphs" fill="#111">40</text>
<text x="839.1" y="465.1" font-size="20" text-anchor="middle" textLength="19.5" lengthAdjust="spacingAndGlyphs" fill="#111">40</text>
<text x="1088.9" y="113.1" font-size="20" text-anchor="middle" textLength="19.5" lengthAdjust="spacingAndGlyphs" fill="#111">45</text>
<text x="1035" y="292.1" font-size="20" text-anchor="middle" textLength="19.5" lengthAdjust="spacingAndGlyphs" fill="#111">45</text>
<text x="985" y="465.4" font-size="20" text-anchor="middle" textLength="19.5" lengthAdjust="spacingAndGlyphs" fill="#111">45</text>
<text x="1150.8" y="462.1" font-size="20" text-anchor="middle" textLength="19.5" lengthAdjust="spacingAndGlyphs" fill="#111">50</text>
</g>
<text x="695" y="492.7" font-size="20" text-anchor="middle" textLength="19.8" lengthAdjust="spacingAndGlyphs" fill="#111">60</text>
<text x="817.3" y="492.7" font-size="20" text-anchor="middle" textLength="19.8" lengthAdjust="spacingAndGlyphs" fill="#111">70</text>
<text x="939.5" y="492.7" font-size="20" text-anchor="middle" textLength="19.8" lengthAdjust="spacingAndGlyphs" fill="#111">80</text>
<text x="1061.6" y="492.7" font-size="20" text-anchor="middle" textLength="19.8" lengthAdjust="spacingAndGlyphs" fill="#111">90</text>
<text x="1185" y="492.7" font-size="20" text-anchor="middle" textLength="29.5" lengthAdjust="spacingAndGlyphs" fill="#111">100</text>
<text x="685.5" y="22.7" font-size="20" text-anchor="end" textLength="35" lengthAdjust="spacingAndGlyphs" fill="#111">36.4</text>
<text x="685.5" y="134.1" font-size="20" text-anchor="end" textLength="35" lengthAdjust="spacingAndGlyphs" fill="#111">33.1</text>
<text x="685.5" y="246.7" font-size="20" text-anchor="end" textLength="35" lengthAdjust="spacingAndGlyphs" fill="#111">29.8</text>
<text x="685.5" y="358.7" font-size="20" text-anchor="end" textLength="35" lengthAdjust="spacingAndGlyphs" fill="#111">26.5</text>
<text x="685.5" y="471" font-size="20" text-anchor="end" textLength="35" lengthAdjust="spacingAndGlyphs" fill="#111">23.2</text>
<g stroke-linecap="butt">
<line x1="116.3" y1="966.3" x2="115.8" y2="690.8" stroke="#1c1c1c" stroke-width="1.4"/>
<line x1="323.3" y1="891.2" x2="322.9" y2="617.7" stroke="#1c1c1c" stroke-width="1.4"/>
<line x1="140.6" y1="956.9" x2="140.1" y2="681.7" stroke="#6e6e6e" stroke-width="1.25"/>
<line x1="354.3" y1="898.5" x2="353.9" y2="624.8" stroke="#6e6e6e" stroke-width="1.25"/>
<line x1="164.9" y1="947.6" x2="164.4" y2="672.6" stroke="#1c1c1c" stroke-width="1.4"/>
<line x1="385.2" y1="905.8" x2="385" y2="631.9" stroke="#1c1c1c" stroke-width="1.4"/>
<line x1="189.2" y1="938.2" x2="188.7" y2="663.5" stroke="#6e6e6e" stroke-width="1.25"/>
<line x1="416.2" y1="913.1" x2="416.1" y2="639" stroke="#6e6e6e" stroke-width="1.25"/>
<line x1="213.6" y1="928.9" x2="213.1" y2="654.4" stroke="#1c1c1c" stroke-width="1.4"/>
<line x1="447.1" y1="920.3" x2="447.1" y2="646.1" stroke="#1c1c1c" stroke-width="1.4"/>
<line x1="237.9" y1="919.5" x2="237.4" y2="645.3" stroke="#6e6e6e" stroke-width="1.25"/>
<line x1="478.1" y1="927.6" x2="478.2" y2="653.2" stroke="#6e6e6e" stroke-width="1.25"/>
<line x1="262.2" y1="910.2" x2="261.7" y2="636.2" stroke="#1c1c1c" stroke-width="1.4"/>
<line x1="509.1" y1="934.9" x2="509.3" y2="660.3" stroke="#1c1c1c" stroke-width="1.4"/>
<line x1="286.5" y1="900.8" x2="286" y2="627" stroke="#6e6e6e" stroke-width="1.25"/>
<line x1="540" y1="942.2" x2="540.4" y2="667.4" stroke="#6e6e6e" stroke-width="1.25"/>
<line x1="310.9" y1="891.5" x2="310.4" y2="617.9" stroke="#1c1c1c" stroke-width="1.4"/>
<line x1="571" y1="949.5" x2="571.4" y2="674.5" stroke="#1c1c1c" stroke-width="1.4"/>
<line x1="110.1" y1="723.9" x2="315.6" y2="646.6" stroke="#1c1c1c" stroke-width="1.35"/>
<line x1="315.6" y1="646.6" x2="577.9" y2="706.8" stroke="#1c1c1c" stroke-width="1.35"/>
<line x1="110.3" y1="833" x2="315.8" y2="754.9" stroke="#1c1c1c" stroke-width="1.35"/>
<line x1="315.8" y1="754.9" x2="577.7" y2="815.7" stroke="#1c1c1c" stroke-width="1.35"/>
<line x1="110.4" y1="939.8" x2="315.9" y2="861.1" stroke="#1c1c1c" stroke-width="1.35"/>
<line x1="315.9" y1="861.1" x2="577.6" y2="922.4" stroke="#1c1c1c" stroke-width="1.35"/>
<line x1="323" y1="702.5" x2="571.3" y2="759.7" stroke="#8a8a8a" stroke-width="0.85" stroke-dasharray="4 2 1.5 2"/>
<line x1="323.2" y1="809.2" x2="571.1" y2="867" stroke="#8a8a8a" stroke-width="0.85" stroke-dasharray="4 2 1.5 2"/>
<line x1="118.4" y1="968.2" x2="317" y2="891.9" stroke="#262626" stroke-width="1.25"/>
<line x1="118.4" y1="968.2" x2="370.8" y2="1024.7" stroke="#262626" stroke-width="1.25"/>
<line x1="150" y1="975.2" x2="348.5" y2="899.3" stroke="#5e5e5e" stroke-width="0.95"/>
<line x1="143.2" y1="958.6" x2="395.6" y2="1015.5" stroke="#5e5e5e" stroke-width="0.95"/>
<line x1="181.5" y1="982.3" x2="380.1" y2="906.7" stroke="#262626" stroke-width="1.25"/>
<line x1="168.1" y1="949.1" x2="420.5" y2="1006.3" stroke="#262626" stroke-width="1.25"/>
<line x1="213.1" y1="989.4" x2="411.7" y2="914.1" stroke="#5e5e5e" stroke-width="0.95"/>
<line x1="192.9" y1="939.6" x2="445.3" y2="997.2" stroke="#5e5e5e" stroke-width="0.95"/>
<line x1="244.6" y1="996.4" x2="443.3" y2="921.6" stroke="#262626" stroke-width="1.25"/>
<line x1="217.7" y1="930" x2="470.2" y2="988" stroke="#262626" stroke-width="1.25"/>
<line x1="276.1" y1="1003.5" x2="474.8" y2="929" stroke="#5e5e5e" stroke-width="0.95"/>
<line x1="242.5" y1="920.5" x2="495" y2="978.8" stroke="#5e5e5e" stroke-width="0.95"/>
<line x1="307.7" y1="1010.6" x2="506.4" y2="936.4" stroke="#262626" stroke-width="1.25"/>
<line x1="267.3" y1="911" x2="519.9" y2="969.6" stroke="#262626" stroke-width="1.25"/>
<line x1="339.2" y1="1017.6" x2="538" y2="943.8" stroke="#5e5e5e" stroke-width="0.95"/>
<line x1="292.1" y1="901.4" x2="544.7" y2="960.4" stroke="#5e5e5e" stroke-width="0.95"/>
<line x1="370.8" y1="1024.7" x2="569.6" y2="951.2" stroke="#262626" stroke-width="1.25"/>
<line x1="317" y1="891.9" x2="569.6" y2="951.2" stroke="#262626" stroke-width="1.25"/>
<line x1="110.5" y1="968.5" x2="110" y2="693" stroke="#1c1c1c" stroke-width="1.9"/>
<line x1="316" y1="889.5" x2="315.5" y2="616" stroke="#1c1c1c" stroke-width="1.9"/>
<line x1="577.5" y1="951" x2="578" y2="676" stroke="#1c1c1c" stroke-width="1.6"/>
<line x1="110" y1="693" x2="315.5" y2="616" stroke="#1c1c1c" stroke-width="1.5"/>
<line x1="315.5" y1="616" x2="578" y2="676" stroke="#1c1c1c" stroke-width="1.5"/>
<line x1="110.5" y1="968.5" x2="316" y2="889.5" stroke="#1c1c1c" stroke-width="1.7"/>
<line x1="316" y1="889.5" x2="577.5" y2="951" stroke="#1c1c1c" stroke-width="1.7"/>
<line x1="110.5" y1="968.5" x2="371.7" y2="1027" stroke="#1c1c1c" stroke-width="1.5"/>
<line x1="371.7" y1="1027" x2="577.5" y2="951" stroke="#1c1c1c" stroke-width="1.5"/>
<line x1="110.1" y1="723.9" x2="97" y2="720.7" stroke="#1c1c1c" stroke-width="1.2"/>
<line x1="110.3" y1="833" x2="97.2" y2="829.9" stroke="#1c1c1c" stroke-width="1.2"/>
<line x1="110.4" y1="939.8" x2="97.4" y2="936.9" stroke="#1c1c1c" stroke-width="1.2"/>
<line x1="117.8" y1="970.1" x2="105.5" y2="974.9" stroke="#1c1c1c" stroke-width="1.2"/>
<line x1="377.5" y1="1024.9" x2="390.5" y2="1027.8" stroke="#1c1c1c" stroke-width="1.2"/>
<line x1="179.7" y1="984" x2="167.3" y2="988.7" stroke="#1c1c1c" stroke-width="1.2"/>
<line x1="426.2" y1="1006.9" x2="439.2" y2="1009.8" stroke="#1c1c1c" stroke-width="1.2"/>
<line x1="241.5" y1="997.8" x2="229.2" y2="1002.5" stroke="#1c1c1c" stroke-width="1.2"/>
<line x1="474.9" y1="988.9" x2="488" y2="991.9" stroke="#1c1c1c" stroke-width="1.2"/>
<line x1="303.3" y1="1011.7" x2="291" y2="1016.3" stroke="#1c1c1c" stroke-width="1.2"/>
<line x1="523.6" y1="970.9" x2="536.7" y2="973.9" stroke="#1c1c1c" stroke-width="1.2"/>
<line x1="365.2" y1="1025.5" x2="352.8" y2="1030.1" stroke="#1c1c1c" stroke-width="1.2"/>
<line x1="572.4" y1="952.9" x2="585.4" y2="956" stroke="#1c1c1c" stroke-width="1.2"/>
</g>
<g stroke-width="0.6" stroke-linejoin="round" fill="currentColor" stroke="currentColor">
<path d="M310.4 883.8l9.7 -7.2l9.8 1l-9.7 7.2z" color="#4e07a2"/>
<path d="M320.2 876.7l9.7 -7l9.8 1l-9.7 7z" color="#4201ae"/>
<path d="M329.9 869.7l9.7 -6.8l9.8 1l-9.7 6.8z" color="#2704bb"/>
<path d="M339.6 862.9l9.7 -6.6l9.8 0.9l-9.7 6.7z" color="#0b08c7"/>
<path d="M349.3 856.2l9.7 -6.5l9.8 0.9l-9.7 6.5z" color="#0429de"/>
<path d="M359 849.8l9.7 -6.3l9.8 0.9l-9.7 6.3z" color="#0052f7"/>
<path d="M368.8 843.5l9.7 -6.1l9.8 0.9l-9.7 6.2z" color="#007beb"/>
<path d="M378.5 837.3l9.7 -5.9l9.8 0.8l-9.7 6z" color="#00a1de"/>
<path d="M388.2 831.4l9.7 -5.8l9.7 0.8l-9.7 5.8z" color="#00b7bf"/>
<path d="M397.9 825.6l9.7 -5.6l9.7 0.8l-9.7 5.6z" color="#00c9a1"/>
<path d="M407.6 820l9.7 -5.4l9.7 0.7l-9.7 5.5z" color="#00cb89"/>
<path d="M417.4 814.6l9.7 -5.3l9.7 0.7l-9.7 5.3z" color="#00cd79"/>
<path d="M427.1 809.3l9.7 -5.1l9.7 0.7l-9.7 5.1z" color="#00ce68"/>
<path d="M436.8 804.3l9.7 -4.9l9.7 0.6l-9.7 4.9z" color="#00d058"/>
<path d="M446.5 799.3l9.7 -4.7l9.7 0.6l-9.7 4.8z" color="#05d245"/>
<path d="M456.2 794.6l9.7 -4.6l9.7 0.6l-9.7 4.6z" color="#0ad333"/>
<path d="M466 790l9.7 -4.4l9.7 0.5l-9.7 4.4z" color="#0fd521"/>
<path d="M475.7 785.7l9.7 -4.2l9.6 0.5l-9.7 4.3z" color="#14d70f"/>
<path d="M485.4 781.4l9.7 -4l9.6 0.5l-9.7 4.1z" color="#1ad800"/>
<path d="M495.1 777.4l9.7 -3.9l9.6 0.4l-9.7 3.9z" color="#30d900"/>
<path d="M504.8 773.5l9.7 -3.7l9.6 0.4l-9.7 3.7z" color="#46db00"/>
<path d="M514.6 769.8l9.7 -3.5l9.6 0.3l-9.7 3.6z" color="#5bdc00"/>
<path d="M524.3 766.3l9.7 -3.4l9.6 0.3l-9.7 3.4z" color="#70dd00"/>
<path d="M534 762.9l9.7 -3.2l9.6 0.3l-9.7 3.2z" color="#83de00"/>
<path d="M543.7 759.8l9.7 -3l9.6 0.2l-9.7 3z" color="#97df00"/>
<path d="M300.6 882.8l9.7 -7.1l9.8 1l-9.7 7.2z" color="#4804a8"/>
<path d="M310.3 875.7l9.7 -7l9.8 1l-9.7 7z" color="#3601b4"/>
<path d="M320.1 868.7l9.7 -6.8l9.8 0.9l-9.7 6.8z" color="#1906c1"/>
<path d="M329.8 861.9l9.7 -6.6l9.8 0.9l-9.7 6.6z" color="#0715d0"/>
<path d="M339.5 855.3l9.7 -6.4l9.8 0.9l-9.7 6.5z" color="#023eec"/>
<path d="M349.3 848.9l9.7 -6.3l9.8 0.9l-9.7 6.3z" color="#0069f1"/>
<path d="M359 842.6l9.7 -6.1l9.8 0.8l-9.7 6.1z" color="#0090e5"/>
<path d="M368.7 836.5l9.7 -5.9l9.8 0.8l-9.7 5.9z" color="#00adce"/>
<path d="M378.4 830.6l9.7 -5.7l9.7 0.8l-9.7 5.8z" color="#00c3af"/>
<path d="M388.2 824.9l9.7 -5.6l9.7 0.7l-9.7 5.6z" color="#00ca91"/>
<path d="M397.9 819.3l9.7 -5.4l9.7 0.7l-9.7 5.4z" color="#00cc80"/>
<path d="M407.6 813.9l9.7 -5.2l9.7 0.7l-9.7 5.3z" color="#00ce6f"/>
<path d="M417.4 808.7l9.7 -5l9.7 0.6l-9.7 5.1z" color="#00cf5f"/>
<path d="M427.1 803.6l9.7 -4.9l9.7 0.6l-9.7 4.9z" color="#03d14d"/>
<path d="M436.8 798.8l9.7 -4.7l9.7 0.6l-9.7 4.7z" color="#08d33a"/>
<path d="M446.6 794l9.7 -4.5l9.7 0.5l-9.7 4.6z" color="#0dd428"/>
<path d="M456.3 789.5l9.7 -4.4l9.7 0.5l-9.7 4.4z" color="#12d616"/>
<path d="M466 785.2l9.7 -4.2l9.6 0.5l-9.7 4.2z" color="#17d805"/>
<path d="M475.8 781l9.7 -4l9.6 0.4l-9.7 4z" color="#28d900"/>
<path d="M485.5 777l9.7 -3.8l9.6 0.4l-9.7 3.9z" color="#3fda00"/>
<path d="M495.2 773.1l9.7 -3.7l9.6 0.4l-9.7 3.7z" color="#54dc00"/>
<path d="M504.9 769.5l9.7 -3.5l9.6 0.3l-9.7 3.5z" color="#69dd00"/>
<path d="M514.7 766l9.7 -3.3l9.6 0.3l-9.7 3.4z" color="#7dde00"/>
<path d="M524.4 762.7l9.7 -3.1l9.6 0.2l-9.7 3.2z" color="#91df00"/>
<path d="M534.1 759.5l9.7 -3l9.6 0.2l-9.7 3z" color="#a4e000"/>
<path d="M290.8 881.8l9.7 -7.1l9.8 1l-9.7 7.1z" color="#4201ae"/>
<path d="M300.5 874.7l9.7 -6.9l9.8 0.9l-9.7 7z" color="#2704bb"/>
<path d="M310.2 867.8l9.7 -6.8l9.8 0.9l-9.7 6.8z" color="#0a08c7"/>
<path d="M320 861l9.7 -6.6l9.8 0.9l-9.7 6.6z" color="#042adf"/>
<path d="M329.7 854.4l9.7 -6.4l9.8 0.9l-9.7 6.4z" color="#0054f7"/>
<path d="M339.5 848l9.7 -6.2l9.8 0.8l-9.7 6.3z" color="#007dea"/>
<path d="M349.2 841.8l9.7 -6.1l9.8 0.8l-9.7 6.1z" color="#00a3dc"/>
<path d="M358.9 835.7l9.7 -5.9l9.8 0.8l-9.7 5.9z" color="#00b9bd"/>
<path d="M368.7 829.8l9.7 -5.7l9.7 0.7l-9.7 5.7z" color="#00c99e"/>
<path d="M378.4 824.1l9.7 -5.5l9.7 0.7l-9.7 5.6z" color="#00cb87"/>
<path d="M388.2 818.6l9.7 -5.4l9.7 0.7l-9.7 5.4z" color="#00cd76"/>
<path d="M397.9 813.2l9.7 -5.2l9.7 0.6l-9.7 5.2z" color="#00cf66"/>
<path d="M407.7 808l9.7 -5l9.7 0.6l-9.7 5z" color="#01d055"/>
<path d="M417.4 803l9.7 -4.8l9.7 0.6l-9.7 4.9z" color="#06d242"/>
<path d="M427.1 798.2l9.7 -4.7l9.7 0.5l-9.7 4.7z" color="#0bd42f"/>
<path d="M436.9 793.5l9.7 -4.5l9.7 0.5l-9.7 4.5z" color="#10d51d"/>
<path d="M446.6 789l9.7 -4.3l9.7 0.5l-9.7 4.4z" color="#15d70b"/>
<path d="M456.4 784.7l9.7 -4.1l9.6 0.4l-9.7 4.2z" color="#20d800"/>
<path d="M466.1 780.6l9.7 -4l9.6 0.4l-9.7 4z" color="#37da00"/>
<path d="M475.9 776.6l9.7 -3.8l9.6 0.4l-9.7 3.8z" color="#4ddb00"/>
<path d="M485.6 772.8l9.7 -3.6l9.6 0.3l-9.7 3.7z" color="#62dc00"/>
<path d="M495.3 769.2l9.7 -3.5l9.6 0.3l-9.7 3.5z" color="#77de00"/>
<path d="M505.1 765.7l9.7 -3.3l9.6 0.2l-9.7 3.3z" color="#8bdf00"/>
<path d="M514.8 762.4l9.7 -3.1l9.6 0.2l-9.7 3.1z" color="#9ee000"/>
<path d="M524.6 759.3l9.7 -2.9l9.6 0.2l-9.7 3z" color="#b3e100"/>
<path d="M280.9 880.8l9.8 -7.1l9.8 0.9l-9.7 7.1z" color="#3601b4"/>
<path d="M290.7 873.7l9.8 -6.9l9.8 0.9l-9.7 6.9z" color="#1906c1"/>
<path d="M300.4 866.8l9.8 -6.7l9.8 0.9l-9.7 6.8z" color="#0715d1"/>
<path d="M310.2 860.1l9.8 -6.5l9.8 0.9l-9.7 6.6z" color="#023fed"/>
<path d="M319.9 853.6l9.8 -6.4l9.8 0.8l-9.7 6.4z" color="#006af0"/>
<path d="M329.7 847.2l9.8 -6.2l9.8 0.8l-9.7 6.2z" color="#0092e4"/>
<path d="M339.4 841l9.8 -6l9.8 0.8l-9.7 6.1z" color="#00afcb"/>
<path d="M349.2 835l9.8 -5.9l9.8 0.7l-9.7 5.9z" color="#00c5ac"/>
<path d="M358.9 829.1l9.8 -5.7l9.7 0.7l-9.7 5.7z" color="#00ca8f"/>
<path d="M368.7 823.4l9.8 -5.5l9.7 0.7l-9.7 5.5z" color="#00cc7e"/>
<path d="M378.4 817.9l9.8 -5.3l9.7 0.6l-9.7 5.4z" color="#00ce6d"/>
<path d="M388.2 812.6l9.8 -5.2l9.7 0.6l-9.7 5.2z" color="#00d05d"/>
<path d="M397.9 807.4l9.8 -5l9.7 0.6l-9.7 5z" color="#04d14a"/>
<path d="M407.7 802.5l9.8 -4.8l9.7 0.5l-9.7 4.8z" color="#09d337"/>
<path d="M417.5 797.7l9.8 -4.6l9.7 0.5l-9.7 4.7z" color="#0ed524"/>
<path d="M427.2 793l9.8 -4.5l9.7 0.5l-9.7 4.5z" color="#13d612"/>
<path d="M437 788.6l9.8 -4.3l9.7 0.4l-9.7 4.3z" color="#18d801"/>
<path d="M446.7 784.3l9.8 -4.1l9.6 0.4l-9.7 4.1z" color="#2ed900"/>
<path d="M456.5 780.2l9.8 -3.9l9.6 0.4l-9.7 4z" color="#45db00"/>
<path d="M466.2 776.2l9.8 -3.8l9.6 0.3l-9.7 3.8z" color="#5bdc00"/>
<path d="M476 772.5l9.8 -3.6l9.6 0.3l-9.7 3.6z" color="#70dd00"/>
<path d="M485.7 768.9l9.8 -3.4l9.6 0.3l-9.7 3.5z" color="#84de00"/>
<path d="M495.5 765.4l9.8 -3.2l9.6 0.2l-9.7 3.3z" color="#98e000"/>
<path d="M505.2 762.2l9.8 -3.1l9.6 0.2l-9.7 3.1z" color="#ade100"/>
<path d="M515 759.1l9.8 -2.9l9.6 0.1l-9.7 2.9z" color="#c2e200"/>
<path d="M271.1 879.9l9.8 -7l9.8 0.9l-9.8 7.1z" color="#2704bb"/>
<path d="M280.8 872.8l9.8 -6.9l9.8 0.9l-9.8 6.9z" color="#0a08c7"/>
<path d="M290.6 866l9.8 -6.7l9.8 0.9l-9.8 6.7z" color="#042bdf"/>
<path d="M300.3 859.3l9.8 -6.5l9.8 0.8l-9.8 6.5z" color="#0056f6"/>
<path d="M310.1 852.8l9.8 -6.3l9.8 0.8l-9.8 6.4z" color="#007fea"/>
<path d="M319.9 846.4l9.8 -6.2l9.8 0.8l-9.8 6.2z" color="#00a4db"/>
<path d="M329.6 840.2l9.8 -6l9.8 0.7l-9.8 6z" color="#00babb"/>
<path d="M339.4 834.2l9.8 -5.8l9.8 0.7l-9.8 5.9z" color="#00c99b"/>
<path d="M349.2 828.4l9.8 -5.6l9.7 0.7l-9.8 5.7z" color="#00cb86"/>
<path d="M358.9 822.8l9.8 -5.5l9.7 0.6l-9.8 5.5z" color="#00cd75"/>
<path d="M368.7 817.3l9.8 -5.3l9.7 0.6l-9.8 5.3z" color="#00cf64"/>
<path d="M378.5 812l9.8 -5.1l9.7 0.6l-9.8 5.2z" color="#02d152"/>
<path d="M388.2 806.9l9.8 -5l9.7 0.5l-9.8 5z" color="#07d23f"/>
<path d="M398 801.9l9.8 -4.8l9.7 0.5l-9.8 4.8z" color="#0cd42c"/>
<path d="M407.8 797.1l9.8 -4.6l9.7 0.5l-9.8 4.6z" color="#11d61a"/>
<path d="M417.5 792.5l9.8 -4.4l9.7 0.4l-9.8 4.5z" color="#16d708"/>
<path d="M427.3 788.1l9.8 -4.3l9.7 0.4l-9.8 4.3z" color="#25d900"/>
<path d="M437.1 783.9l9.8 -4.1l9.6 0.4l-9.8 4.1z" color="#3cda00"/>
<path d="M446.8 779.8l9.8 -3.9l9.6 0.3l-9.8 3.9z" color="#53db00"/>
<path d="M456.6 775.9l9.8 -3.7l9.6 0.3l-9.8 3.8z" color="#68dd00"/>
<path d="M466.4 772.2l9.8 -3.6l9.6 0.3l-9.8 3.6z" color="#7dde00"/>
<path d="M476.1 768.6l9.8 -3.4l9.6 0.2l-9.8 3.4z" color="#92df00"/>
<path d="M485.9 765.2l9.8 -3.2l9.6 0.2l-9.8 3.2z" color="#a6e000"/>
<path d="M495.6 762l9.8 -3l9.6 0.2l-9.8 3.1z" color="#bbe100"/>
<path d="M505.4 759l9.8 -2.9l9.6 0.1l-9.8 2.9z" color="#d0e200"/>
<path d="M261.2 879l9.8 -7l9.8 0.9l-9.8 7z" color="#1906c1"/>
<path d="M271 871.9l9.8 -6.8l9.8 0.9l-9.8 6.9z" color="#0715d1"/>
<path d="M280.8 865.1l9.8 -6.7l9.8 0.8l-9.8 6.7z" color="#0240ed"/>
<path d="M290.5 858.4l9.8 -6.5l9.8 0.8l-9.8 6.5z" color="#006bf0"/>
<path d="M300.3 852l9.8 -6.3l9.8 0.8l-9.8 6.3z" color="#0093e4"/>
<path d="M310.1 845.6l9.8 -6.1l9.8 0.7l-9.8 6.2z" color="#00b0ca"/>
<path d="M319.9 839.5l9.8 -6l9.8 0.7l-9.8 6z" color="#00c6aa"/>
<path d="M329.6 833.5l9.8 -5.8l9.8 0.7l-9.8 5.8z" color="#00cb8e"/>
<path d="M339.4 827.7l9.8 -5.6l9.7 0.6l-9.8 5.6z" color="#00cc7c"/>
<path d="M349.2 822.1l9.8 -5.4l9.7 0.6l-9.8 5.5z" color="#00ce6b"/>
<path d="M359 816.7l9.8 -5.3l9.7 0.6l-9.8 5.3z" color="#00d05b"/>
<path d="M368.7 811.4l9.8 -5.1l9.7 0.5l-9.8 5.1z" color="#05d247"/>
<path d="M378.5 806.3l9.8 -4.9l9.7 0.5l-9.8 5z" color="#0ad334"/>
<path d="M388.3 801.4l9.8 -4.7l9.7 0.5l-9.8 4.8z" color="#0fd521"/>
<path d="M398.1 796.7l9.8 -4.6l9.7 0.4l-9.8 4.6z" color="#14d70f"/>
<path d="M407.8 792.1l9.8 -4.4l9.7 0.4l-9.8 4.4z" color="#1cd800"/>
<path d="M417.6 787.7l9.8 -4.2l9.7 0.4l-9.8 4.3z" color="#33da00"/>
<path d="M427.4 783.5l9.8 -4l9.6 0.3l-9.8 4.1z" color="#4adb00"/>
<path d="M437.2 779.5l9.8 -3.9l9.6 0.3l-9.8 3.9z" color="#60dc00"/>
<path d="M447 775.6l9.8 -3.7l9.6 0.3l-9.8 3.7z" color="#76de00"/>
<path d="M456.7 771.9l9.8 -3.5l9.6 0.2l-9.8 3.6z" color="#8bdf00"/>
<path d="M466.5 768.4l9.8 -3.3l9.6 0.2l-9.8 3.4z" color="#9fe000"/>
<path d="M476.3 765l9.8 -3.2l9.6 0.2l-9.8 3.2z" color="#b5e100"/>
<path d="M486.1 761.9l9.8 -3l9.6 0.1l-9.8 3z" color="#cae200"/>
<path d="M495.8 758.9l9.8 -2.8l9.6 0.1l-9.8 2.9z" color="#dee300"/>
<path d="M251.4 878.1l9.8 -7l9.8 0.9l-9.8 7z" color="#0b08c7"/>
<path d="M261.1 871.1l9.8 -6.8l9.8 0.8l-9.8 6.8z" color="#042adf"/>
<path d="M270.9 864.3l9.8 -6.6l9.8 0.8l-9.8 6.7z" color="#0056f6"/>
<path d="M280.7 857.6l9.8 -6.5l9.8 0.8l-9.8 6.5z" color="#0080ea"/>
<path d="M290.5 851.2l9.8 -6.3l9.8 0.7l-9.8 6.3z" color="#00a5da"/>
<path d="M300.3 844.9l9.8 -6.1l9.8 0.7l-9.8 6.1z" color="#00bbba"/>
<path d="M310.1 838.8l9.8 -5.9l9.8 0.7l-9.8 6z" color="#00c99a"/>
<path d="M319.9 832.9l9.8 -5.8l9.8 0.6l-9.8 5.8z" color="#00cc85"/>
<path d="M329.7 827.1l9.8 -5.6l9.7 0.6l-9.8 5.6z" color="#00cd73"/>
<path d="M339.4 821.5l9.8 -5.4l9.7 0.6l-9.8 5.4z" color="#00cf62"/>
<path d="M349.2 816.1l9.8 -5.2l9.7 0.5l-9.8 5.3z" color="#02d150"/>
<path d="M359 810.9l9.8 -5.1l9.7 0.5l-9.8 5.1z" color="#08d33c"/>
<path d="M368.8 805.8l9.8 -4.9l9.7 0.5l-9.8 4.9z" color="#0dd429"/>
<path d="M378.6 800.9l9.8 -4.7l9.7 0.4l-9.8 4.7z" color="#12d617"/>
<path d="M388.4 796.2l9.8 -4.5l9.7 0.4l-9.8 4.6z" color="#17d804"/>
<path d="M398.2 791.7l9.8 -4.4l9.7 0.4l-9.8 4.4z" color="#2ad900"/>
<path d="M408 787.3l9.8 -4.2l9.7 0.3l-9.8 4.2z" color="#41da00"/>
<path d="M417.7 783.2l9.8 -4l9.6 0.3l-9.8 4z" color="#58dc00"/>
<path d="M427.5 779.1l9.8 -3.8l9.6 0.3l-9.8 3.9z" color="#6edd00"/>
<path d="M437.3 775.3l9.8 -3.7l9.6 0.2l-9.8 3.7z" color="#84de00"/>
<path d="M447.1 771.7l9.8 -3.5l9.6 0.2l-9.8 3.5z" color="#98e000"/>
<path d="M456.9 768.2l9.8 -3.3l9.6 0.2l-9.8 3.3z" color="#aee100"/>
<path d="M466.7 764.9l9.8 -3.1l9.6 0.1l-9.8 3.2z" color="#c3e200"/>
<path d="M476.5 761.7l9.8 -3l9.6 0.1l-9.8 3z" color="#d8e300"/>
<path d="M486.3 758.8l9.8 -2.8l9.6 0.1l-9.8 2.8z" color="#ece400"/>
<path d="M241.5 877.2l9.8 -7l9.8 0.8l-9.8 7z" color="#0714d0"/>
<path d="M251.3 870.3l9.8 -6.8l9.8 0.8l-9.8 6.8z" color="#023fed"/>
<path d="M261.1 863.5l9.8 -6.6l9.8 0.8l-9.8 6.6z" color="#006bf0"/>
<path d="M270.9 856.9l9.8 -6.4l9.8 0.7l-9.8 6.5z" color="#0094e4"/>
<path d="M280.7 850.5l9.8 -6.3l9.8 0.7l-9.8 6.3z" color="#00b0c9"/>
<path d="M290.5 844.2l9.8 -6.1l9.8 0.7l-9.8 6.1z" color="#00c7a9"/>
<path d="M300.3 838.1l9.8 -5.9l9.8 0.6l-9.8 5.9z" color="#00cb8d"/>
<path d="M310.1 832.2l9.8 -5.7l9.8 0.6l-9.8 5.8z" color="#00cc7b"/>
<path d="M319.9 826.5l9.8 -5.6l9.7 0.6l-9.8 5.6z" color="#00ce6a"/>
<path d="M329.7 820.9l9.8 -5.4l9.7 0.5l-9.8 5.4z" color="#00d059"/>
<path d="M339.5 815.6l9.8 -5.2l9.7 0.5l-9.8 5.2z" color="#05d245"/>
<path d="M349.3 810.4l9.8 -5l9.7 0.5l-9.8 5.1z" color="#0ad332"/>
<path d="M359.1 805.3l9.8 -4.9l9.7 0.4l-9.8 4.9z" color="#10d51f"/>
<path d="M368.9 800.5l9.8 -4.7l9.7 0.4l-9.8 4.7z" color="#15d70c"/>
<path d="M378.7 795.8l9.8 -4.5l9.7 0.4l-9.8 4.5z" color="#20d800"/>
<path d="M388.5 791.3l9.8 -4.3l9.7 0.3l-9.8 4.4z" color="#38da00"/>
<path d="M398.3 787l9.8 -4.1l9.7 0.3l-9.8 4.2z" color="#4fdb00"/>
<path d="M408.1 782.8l9.8 -4l9.6 0.3l-9.8 4z" color="#66dd00"/>
<path d="M417.9 778.9l9.8 -3.8l9.6 0.2l-9.8 3.8z" color="#7cde00"/>
<path d="M427.7 775.1l9.8 -3.6l9.6 0.2l-9.8 3.7z" color="#91df00"/>
<path d="M437.5 771.4l9.8 -3.4l9.6 0.2l-9.8 3.5z" color="#a6e000"/>
<path d="M447.3 768l9.8 -3.3l9.6 0.1l-9.8 3.3z" color="#bce100"/>
<path d="M457.1 764.7l9.8 -3.1l9.6 0.1l-9.8 3.1z" color="#d2e200"/>
<path d="M466.9 761.6l9.8 -2.9l9.6 0.1l-9.8 3z" color="#e6e400"/>
<path d="M476.7 758.7l9.8 -2.7l9.6 0l-9.8 2.8z" color="#f2da00"/>
<path d="M231.7 876.4l9.8 -6.9l9.8 0.8l-9.8 7z" color="#0429de"/>
<path d="M241.5 869.5l9.8 -6.7l9.8 0.8l-9.8 6.8z" color="#0055f6"/>
<path d="M251.3 862.7l9.8 -6.6l9.8 0.7l-9.8 6.6z" color="#0080ea"/>
<path d="M261.1 856.1l9.8 -6.4l9.8 0.7l-9.8 6.4z" color="#00a5d9"/>
<path d="M270.9 849.7l9.8 -6.2l9.8 0.7l-9.8 6.3z" color="#00bcb9"/>
<path d="M280.7 843.5l9.8 -6l9.8 0.6l-9.8 6.1z" color="#00ca98"/>
<path d="M290.5 837.5l9.8 -5.9l9.8 0.6l-9.8 5.9z" color="#00cc84"/>
<path d="M300.3 831.6l9.8 -5.7l9.8 0.6l-9.8 5.7z" color="#00cd72"/>
<path d="M310.1 825.9l9.8 -5.5l9.7 0.5l-9.8 5.6z" color="#00cf61"/>
<path d="M319.9 820.4l9.8 -5.3l9.7 0.5l-9.8 5.4z" color="#03d14e"/>
<path d="M329.8 815l9.8 -5.2l9.7 0.5l-9.8 5.2z" color="#08d33a"/>
<path d="M339.6 809.9l9.8 -5l9.7 0.5l-9.8 5z" color="#0dd427"/>
<path d="M349.4 804.9l9.8 -4.8l9.7 0.4l-9.8 4.9z" color="#13d614"/>
<path d="M359.2 800.1l9.8 -4.6l9.7 0.4l-9.8 4.7z" color="#18d801"/>
<path d="M369 795.4l9.8 -4.5l9.7 0.4l-9.8 4.5z" color="#2fd900"/>
<path d="M378.8 791l9.8 -4.3l9.7 0.3l-9.8 4.3z" color="#46db00"/>
<path d="M388.6 786.7l9.8 -4.1l9.7 0.3l-9.8 4.1z" color="#5ddc00"/>
<path d="M398.4 782.6l9.8 -3.9l9.6 0.2l-9.8 4z" color="#74dd00"/>
<path d="M408.2 778.6l9.8 -3.8l9.6 0.2l-9.8 3.8z" color="#89df00"/>
<path d="M418.1 774.9l9.8 -3.6l9.6 0.2l-9.8 3.6z" color="#9ee000"/>
<path d="M427.9 771.3l9.8 -3.4l9.6 0.1l-9.8 3.4z" color="#b5e100"/>
<path d="M437.7 767.9l9.8 -3.2l9.6 0.1l-9.8 3.3z" color="#cbe200"/>
<path d="M447.5 764.6l9.8 -3.1l9.6 0.1l-9.8 3.1z" color="#e0e300"/>
<path d="M457.3 761.6l9.8 -2.9l9.6 0l-9.8 2.9z" color="#f1df00"/>
<path d="M467.1 758.7l9.8 -2.7l9.6 0l-9.8 2.7z" color="#f4cc00"/>
<path d="M221.8 875.6l9.8 -6.9l9.8 0.8l-9.8 6.9z" color="#023eec"/>
<path d="M231.6 868.7l9.8 -6.7l9.8 0.7l-9.8 6.7z" color="#006bf0"/>
<path d="M241.4 862l9.8 -6.5l9.8 0.7l-9.8 6.6z" color="#0094e4"/>
<path d="M251.3 855.4l9.8 -6.4l9.8 0.7l-9.8 6.4z" color="#00b1c9"/>
<path d="M261.1 849.1l9.8 -6.2l9.8 0.6l-9.8 6.2z" color="#00c8a8"/>
<path d="M270.9 842.9l9.8 -6l9.8 0.6l-9.8 6z" color="#00cb8c"/>
<path d="M280.7 836.9l9.8 -5.8l9.8 0.6l-9.8 5.9z" color="#00cd7a"/>
<path d="M290.6 831l9.8 -5.7l9.8 0.6l-9.8 5.7z" color="#00ce69"/>
<path d="M300.4 825.4l9.8 -5.5l9.7 0.5l-9.8 5.5z" color="#00d058"/>
<path d="M310.2 819.9l9.8 -5.3l9.7 0.5l-9.8 5.3z" color="#06d243"/>
<path d="M320 814.6l9.8 -5.1l9.7 0.5l-9.8 5.2z" color="#0bd42f"/>
<path d="M329.8 809.4l9.8 -5l9.7 0.4l-9.8 5z" color="#10d51c"/>
<path d="M339.7 804.5l9.8 -4.8l9.7 0.4l-9.8 4.8z" color="#15d709"/>
<path d="M349.5 799.7l9.8 -4.6l9.7 0.4l-9.8 4.6z" color="#24d900"/>
<path d="M359.3 795.1l9.8 -4.4l9.7 0.3l-9.8 4.5z" color="#3cda00"/>
<path d="M369.1 790.6l9.8 -4.3l9.7 0.3l-9.8 4.3z" color="#54dc00"/>
<path d="M379 786.4l9.8 -4.1l9.7 0.3l-9.8 4.1z" color="#6bdd00"/>
<path d="M388.8 782.3l9.8 -3.9l9.6 0.2l-9.8 3.9z" color="#81de00"/>
<path d="M398.6 778.4l9.8 -3.7l9.6 0.2l-9.8 3.8z" color="#97df00"/>
<path d="M408.4 774.7l9.8 -3.6l9.6 0.1l-9.8 3.6z" color="#ade100"/>
<path d="M418.2 771.1l9.8 -3.4l9.6 0.1l-9.8 3.4z" color="#c3e200"/>
<path d="M428.1 767.7l9.8 -3.2l9.6 0.1l-9.8 3.2z" color="#d9e300"/>
<path d="M437.9 764.5l9.8 -3l9.6 0l-9.8 3.1z" color="#eee400"/>
<path d="M447.7 761.5l9.8 -2.8l9.6 0l-9.8 2.9z" color="#f3d200"/>
<path d="M457.5 758.7l9.8 -2.7l9.6 0l-9.8 2.7z" color="#f7be00"/>
<path d="M211.9 874.8l9.8 -6.9l9.8 0.7l-9.8 6.9z" color="#0054f7"/>
<path d="M221.8 868l9.8 -6.7l9.8 0.7l-9.8 6.7z" color="#007fea"/>
<path d="M231.6 861.3l9.8 -6.5l9.8 0.7l-9.8 6.5z" color="#00a5d9"/>
<path d="M241.5 854.8l9.8 -6.3l9.8 0.6l-9.8 6.4z" color="#00bcb8"/>
<path d="M251.3 848.4l9.8 -6.2l9.8 0.6l-9.8 6.2z" color="#00ca98"/>
<path d="M261.1 842.3l9.8 -6l9.8 0.6l-9.8 6z" color="#00cc83"/>
<path d="M271 836.3l9.8 -5.8l9.8 0.6l-9.8 5.8z" color="#00cd71"/>
<path d="M280.8 830.5l9.8 -5.6l9.8 0.5l-9.8 5.7z" color="#00cf60"/>
<path d="M290.6 824.8l9.8 -5.5l9.7 0.5l-9.8 5.5z" color="#03d14d"/>
<path d="M300.5 819.4l9.8 -5.3l9.7 0.5l-9.8 5.3z" color="#09d338"/>
<path d="M310.3 814.1l9.8 -5.1l9.7 0.4l-9.8 5.1z" color="#0ed525"/>
<path d="M320.1 809l9.8 -4.9l9.7 0.4l-9.8 5z" color="#13d611"/>
<path d="M330 804.1l9.8 -4.8l9.7 0.4l-9.8 4.8z" color="#1ad800"/>
<path d="M339.8 799.3l9.8 -4.6l9.7 0.3l-9.8 4.6z" color="#32da00"/>
<path d="M349.6 794.7l9.8 -4.4l9.7 0.3l-9.8 4.4z" color="#4adb00"/>
<path d="M359.5 790.3l9.8 -4.2l9.7 0.3l-9.8 4.3z" color="#62dc00"/>
<path d="M369.3 786.1l9.8 -4l9.7 0.2l-9.8 4.1z" color="#78de00"/>
<path d="M379.1 782.1l9.8 -3.9l9.6 0.2l-9.8 3.9z" color="#8fdf00"/>
<path d="M389 778.2l9.8 -3.7l9.6 0.2l-9.8 3.7z" color="#a4e000"/>
<path d="M398.8 774.5l9.8 -3.5l9.6 0.1l-9.8 3.6z" color="#bbe100"/>
<path d="M408.6 771l9.8 -3.3l9.6 0.1l-9.8 3.4z" color="#d2e200"/>
<path d="M418.5 767.7l9.8 -3.2l9.6 0l-9.8 3.2z" color="#e7e400"/>
<path d="M428.3 764.5l9.8 -3l9.6 0l-9.8 3z" color="#f2d800"/>
<path d="M438.1 761.5l9.8 -2.8l9.6 0l-9.8 2.8z" color="#f6c400"/>
<path d="M448 758.7l9.8 -2.6l9.6 -0.1l-9.8 2.7z" color="#f9b100"/>
<path d="M202.1 874.1l9.8 -6.8l9.8 0.7l-9.8 6.9z" color="#0069f0"/>
<path d="M211.9 867.3l9.8 -6.7l9.8 0.7l-9.8 6.7z" color="#0093e4"/>
<path d="M221.8 860.6l9.8 -6.5l9.8 0.6l-9.8 6.5z" color="#00b0c9"/>
<path d="M231.6 854.1l9.8 -6.3l9.8 0.6l-9.8 6.3z" color="#00c8a8"/>
<path d="M241.5 847.8l9.8 -6.1l9.8 0.6l-9.8 6.2z" color="#00cb8c"/>
<path d="M251.3 841.7l9.8 -6l9.8 0.6l-9.8 6z" color="#00cd7a"/>
<path d="M261.2 835.7l9.8 -5.8l9.8 0.5l-9.8 5.8z" color="#00ce68"/>
<path d="M271 829.9l9.8 -5.6l9.8 0.5l-9.8 5.6z" color="#00d056"/>
<path d="M280.9 824.3l9.8 -5.4l9.7 0.5l-9.8 5.5z" color="#06d242"/>
<path d="M290.7 818.9l9.8 -5.2l9.7 0.4l-9.8 5.3z" color="#0cd42e"/>
<path d="M300.5 813.7l9.8 -5.1l9.7 0.4l-9.8 5.1z" color="#11d61a"/>
<path d="M310.4 808.6l9.8 -4.9l9.7 0.4l-9.8 4.9z" color="#16d707"/>
<path d="M320.2 803.7l9.8 -4.7l9.7 0.3l-9.8 4.8z" color="#28d900"/>
<path d="M330.1 799l9.8 -4.5l9.7 0.3l-9.8 4.6z" color="#40da00"/>
<path d="M339.9 794.5l9.8 -4.4l9.7 0.3l-9.8 4.4z" color="#58dc00"/>
<path d="M349.8 790.1l9.8 -4.2l9.7 0.2l-9.8 4.2z" color="#6fdd00"/>
<path d="M359.6 785.9l9.8 -4l9.7 0.2l-9.8 4z" color="#86de00"/>
<path d="M369.5 781.9l9.8 -3.8l9.6 0.2l-9.8 3.9z" color="#9ce000"/>
<path d="M379.3 778.1l9.8 -3.7l9.6 0.1l-9.8 3.7z" color="#b3e100"/>
<path d="M389.2 774.4l9.8 -3.5l9.6 0.1l-9.8 3.5z" color="#cae200"/>
<path d="M399 770.9l9.8 -3.3l9.6 0.1l-9.8 3.3z" color="#e0e300"/>
<path d="M408.8 767.6l9.8 -3.1l9.6 0l-9.8 3.2z" color="#f1df00"/>
<path d="M418.7 764.5l9.8 -3l9.6 0l-9.8 3z" color="#f5ca00"/>
<path d="M428.5 761.5l9.8 -2.8l9.6 -0.1l-9.8 2.8z" color="#f8b600"/>
<path d="M438.4 758.8l9.8 -2.6l9.6 -0.1l-9.8 2.6z" color="#fca300"/>
<path d="M192.2 873.4l9.9 -6.8l9.8 0.7l-9.8 6.8z" color="#007eea"/>
<path d="M202.1 866.6l9.9 -6.6l9.8 0.6l-9.8 6.7z" color="#00a4da"/>
<path d="M212 860l9.9 -6.5l9.8 0.6l-9.8 6.5z" color="#00bcb9"/>
<path d="M221.8 853.5l9.9 -6.3l9.8 0.6l-9.8 6.3z" color="#00ca98"/>
<path d="M231.7 847.2l9.9 -6.1l9.8 0.6l-9.8 6.1z" color="#00cc83"/>
<path d="M241.5 841.1l9.9 -5.9l9.8 0.5l-9.8 6z" color="#00ce71"/>
<path d="M251.4 835.2l9.9 -5.7l9.8 0.5l-9.8 5.8z" color="#00cf5f"/>
<path d="M261.2 829.5l9.9 -5.6l9.8 0.5l-9.8 5.6z" color="#03d14c"/>
<path d="M271.1 823.9l9.9 -5.4l9.7 0.4l-9.8 5.4z" color="#09d337"/>
<path d="M281 818.5l9.9 -5.2l9.7 0.4l-9.8 5.2z" color="#0ed523"/>
<path d="M290.8 813.3l9.9 -5l9.7 0.4l-9.8 5.1z" color="#14d710"/>
<path d="M300.7 808.2l9.9 -4.9l9.7 0.3l-9.8 4.9z" color="#1dd800"/>
<path d="M310.5 803.4l9.9 -4.7l9.7 0.3l-9.8 4.7z" color="#36da00"/>
<path d="M320.4 798.7l9.9 -4.5l9.7 0.3l-9.8 4.5z" color="#4edb00"/>
<path d="M330.2 794.2l9.9 -4.3l9.7 0.2l-9.8 4.4z" color="#66dd00"/>
<path d="M340.1 789.9l9.9 -4.2l9.7 0.2l-9.8 4.2z" color="#7dde00"/>
<path d="M349.9 785.7l9.9 -4l9.7 0.2l-9.8 4z" color="#93df00"/>
<path d="M359.8 781.7l9.9 -3.8l9.6 0.1l-9.8 3.8z" color="#aae100"/>
<path d="M369.7 777.9l9.9 -3.6l9.6 0.1l-9.8 3.7z" color="#c1e200"/>
<path d="M379.5 774.3l9.9 -3.4l9.6 0.1l-9.8 3.5z" color="#d8e300"/>
<path d="M389.4 770.9l9.9 -3.3l9.6 0l-9.8 3.3z" color="#eee400"/>
<path d="M399.2 767.6l9.9 -3.1l9.6 0l-9.8 3.1z" color="#f3d100"/>
<path d="M409.1 764.5l9.9 -2.9l9.6 -0.1l-9.8 3z" color="#f7bd00"/>
<path d="M418.9 761.6l9.9 -2.7l9.6 -0.1l-9.8 2.8z" color="#fba900"/>
<path d="M428.8 758.8l9.9 -2.6l9.6 -0.1l-9.8 2.6z" color="#fe9600"/>
<path d="M182.4 872.7l9.9 -6.8l9.8 0.6l-9.9 6.8z" color="#0092e4"/>
<path d="M192.3 865.9l9.9 -6.6l9.8 0.6l-9.9 6.6z" color="#00b0ca"/>
<path d="M202.1 859.3l9.9 -6.4l9.8 0.6l-9.9 6.5z" color="#00c7a9"/>
<path d="M212 852.9l9.9 -6.2l9.8 0.6l-9.9 6.3z" color="#00cb8c"/>
<path d="M221.9 846.7l9.9 -6.1l9.8 0.5l-9.9 6.1z" color="#00cd7a"/>
<path d="M231.7 840.6l9.9 -5.9l9.8 0.5l-9.9 5.9z" color="#00ce68"/>
<path d="M241.6 834.7l9.9 -5.7l9.8 0.5l-9.9 5.7z" color="#01d056"/>
<path d="M251.5 829l9.9 -5.5l9.8 0.4l-9.9 5.6z" color="#06d241"/>
<path d="M261.3 823.5l9.9 -5.4l9.7 0.4l-9.9 5.4z" color="#0cd42c"/>
<path d="M271.2 818.1l9.9 -5.2l9.7 0.4l-9.9 5.2z" color="#11d618"/>
<path d="M281.1 812.9l9.9 -5l9.7 0.3l-9.9 5z" color="#17d805"/>
<path d="M290.9 807.9l9.9 -4.8l9.7 0.3l-9.9 4.9z" color="#2bd900"/>
<path d="M300.8 803.1l9.9 -4.7l9.7 0.3l-9.9 4.7z" color="#44db00"/>
<path d="M310.7 798.4l9.9 -4.5l9.7 0.2l-9.9 4.5z" color="#5cdc00"/>
<path d="M320.5 794l9.9 -4.3l9.7 0.2l-9.9 4.3z" color="#73dd00"/>
<path d="M330.4 789.7l9.9 -4.1l9.7 0.2l-9.9 4.2z" color="#8adf00"/>
<path d="M340.3 785.5l9.9 -3.9l9.7 0.1l-9.9 4z" color="#a1e000"/>
<path d="M350.1 781.6l9.9 -3.8l9.6 0.1l-9.9 3.8z" color="#b9e100"/>
<path d="M360 777.8l9.9 -3.6l9.6 0.1l-9.9 3.6z" color="#d0e200"/>
<path d="M369.9 774.2l9.9 -3.4l9.6 0l-9.9 3.4z" color="#e6e400"/>
<path d="M379.8 770.8l9.9 -3.2l9.6 0l-9.9 3.3z" color="#f2d800"/>
<path d="M389.6 767.6l9.9 -3.1l9.6 0l-9.9 3.1z" color="#f6c300"/>
<path d="M399.5 764.5l9.9 -2.9l9.6 -0.1l-9.9 2.9z" color="#f9af00"/>
<path d="M409.4 761.7l9.9 -2.7l9.6 -0.1l-9.9 2.7z" color="#fd9c00"/>
<path d="M419.2 759l9.9 -2.5l9.6 -0.2l-9.9 2.6z" color="#ff8700"/>
<path d="M172.6 872.1l9.9 -6.7l9.8 0.6l-9.9 6.8z" color="#00a3db"/>
<path d="M182.4 865.3l9.9 -6.6l9.8 0.6l-9.9 6.6z" color="#00bbba"/>
<path d="M192.3 858.8l9.9 -6.4l9.8 0.6l-9.9 6.4z" color="#00ca98"/>
<path d="M202.2 852.4l9.9 -6.2l9.8 0.5l-9.9 6.2z" color="#00cc83"/>
<path d="M212.1 846.1l9.9 -6l9.8 0.5l-9.9 6.1z" color="#00ce71"/>
<path d="M221.9 840.1l9.9 -5.9l9.8 0.5l-9.9 5.9z" color="#00cf5f"/>
<path d="M231.8 834.2l9.9 -5.7l9.8 0.4l-9.9 5.7z" color="#04d14b"/>
<path d="M241.7 828.6l9.9 -5.5l9.8 0.4l-9.9 5.5z" color="#09d336"/>
<path d="M251.6 823.1l9.9 -5.3l9.7 0.4l-9.9 5.4z" color="#0fd522"/>
<path d="M261.5 817.7l9.9 -5.2l9.7 0.3l-9.9 5.2z" color="#14d70e"/>
<path d="M271.3 812.6l9.9 -5l9.7 0.3l-9.9 5z" color="#1fd800"/>
<path d="M281.2 807.6l9.9 -4.8l9.7 0.3l-9.9 4.8z" color="#39da00"/>
<path d="M291.1 802.8l9.9 -4.6l9.7 0.2l-9.9 4.7z" color="#51db00"/>
<path d="M301 798.2l9.9 -4.4l9.7 0.2l-9.9 4.5z" color="#69dd00"/>
<path d="M310.9 793.7l9.9 -4.3l9.7 0.2l-9.9 4.3z" color="#81de00"/>
<path d="M320.7 789.5l9.9 -4.1l9.7 0.1l-9.9 4.1z" color="#98e000"/>
<path d="M330.6 785.4l9.9 -3.9l9.7 0.1l-9.9 3.9z" color="#afe100"/>
<path d="M340.5 781.5l9.9 -3.7l9.6 0.1l-9.9 3.8z" color="#c7e200"/>
<path d="M350.4 777.8l9.9 -3.6l9.6 0l-9.9 3.6z" color="#dee300"/>
<path d="M360.3 774.2l9.9 -3.4l9.6 0l-9.9 3.4z" color="#f1e000"/>
<path d="M370.1 770.8l9.9 -3.2l9.6 0l-9.9 3.2z" color="#f5ca00"/>
<path d="M380 767.6l9.9 -3l9.6 -0.1l-9.9 3.1z" color="#f8b600"/>
<path d="M389.9 764.6l9.9 -2.8l9.6 -0.1l-9.9 2.9z" color="#fca200"/>
<path d="M399.8 761.8l9.9 -2.7l9.6 -0.1l-9.9 2.7z" color="#ff8e00"/>
<path d="M409.6 759.1l9.9 -2.5l9.6 -0.2l-9.9 2.5z" color="#ff7600"/>
<path d="M162.7 871.5l9.9 -6.7l9.8 0.6l-9.9 6.7z" color="#00afcb"/>
<path d="M172.6 864.7l9.9 -6.5l9.8 0.6l-9.9 6.6z" color="#00c7aa"/>
<path d="M182.5 858.2l9.9 -6.4l9.8 0.5l-9.9 6.4z" color="#00cb8c"/>
<path d="M192.4 851.8l9.9 -6.2l9.8 0.5l-9.9 6.2z" color="#00cd7a"/>
<path d="M202.3 845.6l9.9 -6l9.8 0.5l-9.9 6z" color="#00ce68"/>
<path d="M212.2 839.6l9.9 -5.8l9.8 0.4l-9.9 5.9z" color="#01d055"/>
<path d="M222 833.8l9.9 -5.7l9.8 0.4l-9.9 5.7z" color="#07d240"/>
<path d="M231.9 828.2l9.9 -5.5l9.8 0.4l-9.9 5.5z" color="#0cd42b"/>
<path d="M241.8 822.7l9.9 -5.3l9.7 0.3l-9.9 5.3z" color="#12d617"/>
<path d="M251.7 817.4l9.9 -5.1l9.7 0.3l-9.9 5.2z" color="#17d804"/>
<path d="M261.6 812.3l9.9 -4.9l9.7 0.3l-9.9 5z" color="#2dd900"/>
<path d="M271.5 807.3l9.9 -4.8l9.7 0.2l-9.9 4.8z" color="#46db00"/>
<path d="M281.4 802.6l9.9 -4.6l9.7 0.2l-9.9 4.6z" color="#5fdc00"/>
<path d="M291.3 798l9.9 -4.4l9.7 0.2l-9.9 4.4z" color="#77de00"/>
<path d="M301.2 793.6l9.9 -4.2l9.7 0.1l-9.9 4.3z" color="#8edf00"/>
<path d="M311.1 789.3l9.9 -4.1l9.7 0.1l-9.9 4.1z" color="#a5e000"/>
<path d="M320.9 785.3l9.9 -3.9l9.7 0.1l-9.9 3.9z" color="#bee100"/>
<path d="M330.8 781.4l9.9 -3.7l9.6 0l-9.9 3.7z" color="#d5e300"/>
<path d="M340.7 777.7l9.9 -3.5l9.6 0l-9.9 3.6z" color="#ece400"/>
<path d="M350.6 774.2l9.9 -3.3l9.6 0l-9.9 3.4z" color="#f3d200"/>
<path d="M360.5 770.9l9.9 -3.2l9.6 -0.1l-9.9 3.2z" color="#f7bd00"/>
<path d="M370.4 767.7l9.9 -3l9.6 -0.1l-9.9 3z" color="#fba800"/>
<path d="M380.3 764.7l9.9 -2.8l9.6 -0.1l-9.9 2.8z" color="#fe9400"/>
<path d="M390.2 761.9l9.9 -2.6l9.6 -0.2l-9.9 2.7z" color="#ff7d00"/>
<path d="M400.1 759.3l9.9 -2.4l9.6 -0.2l-9.9 2.5z" color="#ff6500"/>
<path d="M152.8 870.9l9.9 -6.7l9.8 0.6l-9.9 6.7z" color="#00babb"/>
<path d="M162.8 864.2l9.9 -6.5l9.8 0.5l-9.9 6.5z" color="#00c999"/>
<path d="M172.7 857.7l9.9 -6.3l9.8 0.5l-9.9 6.4z" color="#00cc83"/>
<path d="M182.6 851.3l9.9 -6.2l9.8 0.5l-9.9 6.2z" color="#00ce71"/>
<path d="M192.5 845.2l9.9 -6l9.8 0.4l-9.9 6z" color="#00cf5f"/>
<path d="M202.4 839.2l9.9 -5.8l9.8 0.4l-9.9 5.8z" color="#04d14a"/>
<path d="M212.3 833.4l9.9 -5.6l9.8 0.4l-9.9 5.7z" color="#09d335"/>
<path d="M222.2 827.8l9.9 -5.4l9.8 0.3l-9.9 5.5z" color="#0fd521"/>
<path d="M232.1 822.3l9.9 -5.3l9.7 0.3l-9.9 5.3z" color="#15d70d"/>
<path d="M242 817.1l9.9 -5.1l9.7 0.3l-9.9 5.1z" color="#21d900"/>
<path d="M251.9 812l9.9 -4.9l9.7 0.2l-9.9 4.9z" color="#3bda00"/>
<path d="M261.8 807.1l9.9 -4.7l9.7 0.2l-9.9 4.8z" color="#54dc00"/>
<path d="M271.7 802.4l9.9 -4.6l9.7 0.2l-9.9 4.6z" color="#6cdd00"/>
<path d="M281.6 797.8l9.9 -4.4l9.7 0.1l-9.9 4.4z" color="#84de00"/>
<path d="M291.5 793.4l9.9 -4.2l9.7 0.1l-9.9 4.2z" color="#9be000"/>
<path d="M301.4 789.2l9.9 -4l9.7 0.1l-9.9 4.1z" color="#b4e100"/>
<path d="M311.3 785.2l9.9 -3.8l9.7 0l-9.9 3.9z" color="#cce200"/>
<path d="M321.2 781.4l9.9 -3.7l9.6 0l-9.9 3.7z" color="#e3e300"/>
<path d="M331.1 777.7l9.9 -3.5l9.6 0l-9.9 3.5z" color="#f2da00"/>
<path d="M341 774.2l9.9 -3.3l9.6 -0.1l-9.9 3.3z" color="#f6c400"/>
<path d="M350.9 770.9l9.9 -3.1l9.6 -0.1l-9.9 3.2z" color="#f9af00"/>
<path d="M360.8 767.8l9.9 -2.9l9.6 -0.1l-9.9 3z" color="#fd9b00"/>
<path d="M370.7 764.9l9.9 -2.8l9.6 -0.2l-9.9 2.8z" color="#ff8500"/>
<path d="M380.6 762.1l9.9 -2.6l9.6 -0.2l-9.9 2.6z" color="#ff6c00"/>
<path d="M390.5 759.5l9.9 -2.4l9.6 -0.2l-9.9 2.4z" color="#ff5400"/>
<path d="M143 870.3l9.9 -6.7l9.8 0.5l-9.9 6.7z" color="#00c6ab"/>
<path d="M152.9 863.7l9.9 -6.5l9.8 0.5l-9.9 6.5z" color="#00cb8d"/>
<path d="M162.8 857.2l9.9 -6.3l9.8 0.5l-9.9 6.3z" color="#00cd7a"/>
<path d="M172.7 850.9l9.9 -6.1l9.8 0.4l-9.9 6.2z" color="#00ce68"/>
<path d="M182.7 844.7l9.9 -5.9l9.8 0.4l-9.9 6z" color="#01d055"/>
<path d="M192.6 838.8l9.9 -5.8l9.8 0.4l-9.9 5.8z" color="#07d240"/>
<path d="M202.5 833l9.9 -5.6l9.8 0.3l-9.9 5.6z" color="#0cd42b"/>
<path d="M212.4 827.4l9.9 -5.4l9.8 0.3l-9.9 5.4z" color="#12d616"/>
<path d="M222.3 822l9.9 -5.2l9.7 0.3l-9.9 5.3z" color="#17d802"/>
<path d="M232.2 816.8l9.9 -5.1l9.7 0.2l-9.9 5.1z" color="#2fd900"/>
<path d="M242.1 811.7l9.9 -4.9l9.7 0.2l-9.9 4.9z" color="#49db00"/>
<path d="M252 806.9l9.9 -4.7l9.7 0.2l-9.9 4.7z" color="#61dc00"/>
<path d="M262 802.2l9.9 -4.5l9.7 0.1l-9.9 4.6z" color="#7ade00"/>
<path d="M271.9 797.7l9.9 -4.3l9.7 0.1l-9.9 4.4z" color="#91df00"/>
<path d="M281.8 793.3l9.9 -4.2l9.7 0.1l-9.9 4.2z" color="#a9e000"/>
<path d="M291.7 789.2l9.9 -4l9.7 0l-9.9 4z" color="#c2e200"/>
<path d="M301.6 785.2l9.9 -3.8l9.7 0l-9.9 3.8z" color="#dae300"/>
<path d="M311.5 781.4l9.9 -3.6l9.6 0l-9.9 3.7z" color="#f0e300"/>
<path d="M321.4 777.7l9.9 -3.4l9.6 -0.1l-9.9 3.5z" color="#f4cc00"/>
<path d="M331.4 774.3l9.9 -3.3l9.6 -0.1l-9.9 3.3z" color="#f8b700"/>
<path d="M341.3 771l9.9 -3.1l9.6 -0.1l-9.9 3.1z" color="#fca200"/>
<path d="M351.2 767.9l9.9 -2.9l9.6 -0.2l-9.9 2.9z" color="#ff8d00"/>
<path d="M361.1 765l9.9 -2.7l9.6 -0.2l-9.9 2.8z" color="#ff7400"/>
<path d="M371 762.3l9.9 -2.6l9.6 -0.2l-9.9 2.6z" color="#ff5b00"/>
<path d="M380.9 759.7l9.9 -2.4l9.6 -0.3l-9.9 2.4z" color="#ff4400"/>
<path d="M133.2 869.8l9.9 -6.6l9.8 0.5l-9.9 6.7z" color="#00c99b"/>
<path d="M143.1 863.2l9.9 -6.5l9.8 0.5l-9.9 6.5z" color="#00cc84"/>
<path d="M153 856.7l9.9 -6.3l9.8 0.4l-9.9 6.3z" color="#00cd71"/>
<path d="M162.9 850.4l9.9 -6.1l9.8 0.4l-9.9 6.1z" color="#00cf5f"/>
<path d="M172.8 844.3l9.9 -5.9l9.8 0.4l-9.9 5.9z" color="#04d14b"/>
<path d="M182.8 838.4l9.9 -5.7l9.8 0.3l-9.9 5.8z" color="#09d335"/>
<path d="M192.7 832.7l9.9 -5.6l9.8 0.3l-9.9 5.6z" color="#0fd520"/>
<path d="M202.6 827.1l9.9 -5.4l9.8 0.3l-9.9 5.4z" color="#15d70c"/>
<path d="M212.5 821.7l9.9 -5.2l9.7 0.2l-9.9 5.2z" color="#23d900"/>
<path d="M222.5 816.5l9.9 -5l9.7 0.2l-9.9 5.1z" color="#3dda00"/>
<path d="M232.4 811.5l9.9 -4.8l9.7 0.2l-9.9 4.9z" color="#56dc00"/>
<path d="M242.3 806.7l9.9 -4.7l9.7 0.2l-9.9 4.7z" color="#6fdd00"/>
<path d="M252.2 802l9.9 -4.5l9.7 0.1l-9.9 4.5z" color="#87df00"/>
<path d="M262.2 797.5l9.9 -4.3l9.7 0.1l-9.9 4.3z" color="#9fe000"/>
<path d="M272.1 793.2l9.9 -4.1l9.7 0.1l-9.9 4.2z" color="#b8e100"/>
<path d="M282 789.1l9.9 -3.9l9.7 0l-9.9 4z" color="#d0e200"/>
<path d="M291.9 785.2l9.9 -3.8l9.7 0l-9.9 3.8z" color="#e8e400"/>
<path d="M301.9 781.4l9.9 -3.6l9.6 -0.1l-9.9 3.6z" color="#f3d500"/>
<path d="M311.8 777.8l9.9 -3.4l9.6 -0.1l-9.9 3.4z" color="#f7bf00"/>
<path d="M321.7 774.4l9.9 -3.2l9.6 -0.1l-9.9 3.3z" color="#faa900"/>
<path d="M331.6 771.1l9.9 -3.1l9.6 -0.2l-9.9 3.1z" color="#fe9500"/>
<path d="M341.6 768.1l9.9 -2.9l9.6 -0.2l-9.9 2.9z" color="#ff7c00"/>
<path d="M351.5 765.2l9.9 -2.7l9.6 -0.2l-9.9 2.7z" color="#ff6300"/>
<path d="M361.4 762.5l9.9 -2.5l9.6 -0.3l-9.9 2.6z" color="#ff4b00"/>
<path d="M371.3 760l9.9 -2.3l9.6 -0.3l-9.9 2.4z" color="#ff3300"/>
<path d="M123.3 869.3l9.9 -6.6l9.8 0.5l-9.9 6.6z" color="#00cb8e"/>
<path d="M133.2 862.7l9.9 -6.4l9.8 0.4l-9.9 6.5z" color="#00cc7b"/>
<path d="M143.2 856.3l9.9 -6.2l9.8 0.4l-9.9 6.3z" color="#00ce68"/>
<path d="M153.1 850l9.9 -6.1l9.8 0.4l-9.9 6.1z" color="#01d056"/>
<path d="M163 844l9.9 -5.9l9.8 0.3l-9.9 5.9z" color="#07d240"/>
<path d="M173 838.1l9.9 -5.7l9.8 0.3l-9.9 5.7z" color="#0cd42b"/>
<path d="M182.9 832.4l9.9 -5.5l9.8 0.3l-9.9 5.6z" color="#12d616"/>
<path d="M192.9 826.8l9.9 -5.3l9.8 0.3l-9.9 5.4z" color="#18d802"/>
<path d="M202.8 821.5l9.9 -5.2l9.7 0.2l-9.9 5.2z" color="#30d900"/>
<path d="M212.7 816.3l9.9 -5l9.7 0.2l-9.9 5z" color="#4adb00"/>
<path d="M222.7 811.3l9.9 -4.8l9.7 0.2l-9.9 4.8z" color="#64dc00"/>
<path d="M232.6 806.5l9.9 -4.6l9.7 0.1l-9.9 4.7z" color="#7cde00"/>
<path d="M242.5 801.9l9.9 -4.5l9.7 0.1l-9.9 4.5z" color="#94df00"/>
<path d="M252.5 797.4l9.9 -4.3l9.7 0.1l-9.9 4.3z" color="#ade100"/>
<path d="M262.4 793.2l9.9 -4.1l9.7 0l-9.9 4.1z" color="#c6e200"/>
<path d="M272.3 789.1l9.9 -3.9l9.7 0l-9.9 3.9z" color="#dee300"/>
<path d="M282.3 785.2l9.9 -3.7l9.7 0l-9.9 3.8z" color="#f1de00"/>
<path d="M292.2 781.4l9.9 -3.6l9.6 -0.1l-9.9 3.6z" color="#f5c700"/>
<path d="M302.1 777.9l9.9 -3.4l9.6 -0.1l-9.9 3.4z" color="#f9b100"/>
<path d="M312.1 774.5l9.9 -3.2l9.6 -0.2l-9.9 3.2z" color="#fd9c00"/>
<path d="M322 771.3l9.9 -3l9.6 -0.2l-9.9 3.1z" color="#ff8500"/>
<path d="M332 768.3l9.9 -2.8l9.6 -0.2l-9.9 2.9z" color="#ff6b00"/>
<path d="M341.9 765.4l9.9 -2.7l9.6 -0.3l-9.9 2.7z" color="#ff5200"/>
<path d="M351.8 762.8l9.9 -2.5l9.6 -0.3l-9.9 2.5z" color="#ff3a00"/>
<path d="M361.8 760.3l9.9 -2.3l9.6 -0.3l-9.9 2.3z" color="#ff2300"/>
</g>
<path d="M123.3 869.3L172.6 872.1L221.8 875.6L271.1 879.9L320.3 884.9M133.2 862.7L182.4 865.3L231.6 868.7L280.8 872.8L330 877.7M143.2 856.3L192.3 858.8L241.4 862L290.6 866L339.7 870.7M153.1 850L202.2 852.4L251.3 855.4L300.3 859.3L349.4 863.8M163 844L212.1 846.1L261.1 849.1L310.1 852.8L359.1 857.2M173 838.1L221.9 840.1L270.9 842.9L319.9 846.4L368.8 850.7M182.9 832.4L231.8 834.2L280.7 836.9L329.6 840.2L378.5 844.4M192.9 826.8L241.7 828.6L290.6 831L339.4 834.2L388.3 838.2M202.8 821.5L251.6 823.1L300.4 825.4L349.2 828.4L398 832.2M212.7 816.3L261.5 817.7L310.2 819.9L358.9 822.8L407.7 826.4M222.7 811.3L271.3 812.6L320 814.6L368.7 817.3L417.4 820.8M232.6 806.5L281.2 807.6L329.8 809.4L378.5 812L427.1 815.3M242.5 801.9L291.1 802.8L339.7 804.5L388.2 806.9L436.8 810M252.5 797.4L301 798.2L349.5 799.7L398 801.9L446.5 804.9M262.4 793.2L310.9 793.7L359.3 795.1L407.8 797.1L456.2 800M272.3 789.1L320.7 789.5L369.1 790.6L417.5 792.5L465.9 795.2M282.3 785.2L330.6 785.4L379 786.4L427.3 788.1L475.6 790.6M292.2 781.4L340.5 781.5L388.8 782.3L437.1 783.9L485.3 786.2M302.1 777.9L350.4 777.8L398.6 778.4L446.8 779.8L495 781.9M312.1 774.5L360.3 774.2L408.4 774.7L456.6 775.9L504.8 777.8M322 771.3L370.1 770.8L418.2 771.1L466.4 772.2L514.5 773.9M332 768.3L380 767.6L428.1 767.7L476.1 768.6L524.2 770.2M341.9 765.4L389.9 764.6L437.9 764.5L485.9 765.2L533.9 766.6M351.8 762.8L399.8 761.8L447.7 761.5L495.6 762L543.6 763.3M361.8 760.3L409.6 759.1L457.5 758.7L505.4 759L553.3 760M371.7 758L419.5 756.6L467.4 756L515.2 756.1L563 757M123.3 869.3L144 855.7L164.7 843L185.4 831L206.1 819.8L226.8 809.3L247.5 799.6L268.2 790.8L288.9 782.7L309.6 775.3L330.3 768.8L351 763L371.7 758M133.2 869.8L153.8 856.2L174.5 843.3L195.2 831.3L215.9 820L236.5 809.5L257.2 799.8L277.9 790.8L298.6 782.6L319.2 775.2L339.9 768.6L360.6 762.7L381.3 757.7M143 870.3L163.7 856.6L184.3 843.7L205 831.6L225.6 820.3L246.3 809.7L266.9 799.9L287.6 790.9L308.2 782.6L328.9 775.1L349.5 768.4L370.2 762.5L390.8 757.4M152.8 870.9L173.5 857.1L194.1 844.2L214.7 832L235.4 820.6L256 809.9L276.6 800.1L297.3 791L317.9 782.6L338.5 775.1L359.1 768.3L379.8 762.3L400.4 757.1M162.7 871.5L183.3 857.7L203.9 844.6L224.5 832.4L245.1 820.9L265.7 810.2L286.3 800.2L306.9 791.1L327.5 782.7L348.1 775.1L368.8 768.2L389.4 762.1L410 756.8M172.6 872.1L193.1 858.2L213.7 845.1L234.3 832.8L254.9 821.3L275.5 810.5L296 800.5L316.6 791.2L337.2 782.8L357.8 775.1L378.4 768.2L398.9 762L419.5 756.6M182.4 872.7L203 858.8L223.5 845.6L244.1 833.3L264.6 821.6L285.2 810.8L305.7 800.7L326.3 791.4L346.9 782.9L367.4 775.1L388 768.1L408.5 761.9L429.1 756.4M192.2 873.4L212.8 859.4L233.3 846.2L253.9 833.7L274.4 822.1L294.9 811.2L315.5 801L336 791.6L356.5 783L377.1 775.2L397.6 768.1L418.1 761.8L438.7 756.3M202.1 874.1L222.6 860.1L243.1 846.8L263.6 834.3L284.1 822.5L304.7 811.5L325.2 801.3L345.7 791.9L366.2 783.2L386.7 775.3L407.2 768.1L427.7 761.8L448.2 756.2M211.9 874.8L232.4 860.7L252.9 847.4L273.4 834.8L293.9 823L314.4 812L334.9 801.7L355.4 792.2L375.8 783.4L396.3 775.4L416.8 768.2L437.3 761.8L457.8 756.1M221.8 875.6L242.3 861.4L262.7 848L283.2 835.4L303.6 823.5L324.1 812.4L344.6 802L365 792.5L385.5 783.6L406 775.6L426.4 768.3L446.9 761.8L467.4 756M231.7 876.4L252.1 862.2L272.5 848.7L293 836L313.4 824.1L333.8 812.9L354.3 802.5L374.7 792.8L395.2 783.9L415.6 775.8L436 768.4L456.5 761.8L476.9 756M241.5 877.2L261.9 862.9L282.3 849.4L302.7 836.6L323.2 824.6L343.6 813.4L364 802.9L384.4 793.2L404.8 784.2L425.2 776L445.6 768.6L466.1 761.9L486.5 756M251.4 878.1L271.7 863.7L292.1 850.1L312.5 837.3L332.9 825.2L353.3 813.9L373.7 803.4L394.1 793.6L414.5 784.5L434.9 776.3L455.3 768.7L475.7 762L496 756M261.2 879L281.6 864.5L301.9 850.9L322.3 838L342.7 825.9L363 814.5L383.4 803.9L403.8 794L424.1 784.9L444.5 776.5L464.9 768.9L485.2 762.1L505.6 756M271.1 879.9L291.4 865.4L311.7 851.7L332.1 838.7L352.4 826.5L372.8 815.1L393.1 804.4L413.5 794.4L433.8 785.3L454.1 776.8L474.5 769.2L494.8 762.3L515.2 756.1M280.9 880.8L301.2 866.3L321.5 852.5L341.9 839.5L362.2 827.2L382.5 815.7L402.8 804.9L423.1 794.9L443.5 785.7L463.8 777.2L484.1 769.4L504.4 762.5L524.7 756.2M290.8 881.8L311 867.2L331.3 853.4L351.6 840.3L371.9 827.9L392.2 816.3L412.5 805.5L432.8 795.4L453.1 786.1L473.4 777.6L493.7 769.7L514 762.7L534.3 756.4M300.6 882.8L320.9 868.1L341.1 854.2L361.4 841.1L381.7 828.7L402 817L422.2 806.1L442.5 796L462.8 786.6L483.1 778L503.3 770.1L523.6 762.9L543.9 756.6M310.4 883.8L330.7 869.1L350.9 855.1L371.2 841.9L391.4 829.5L411.7 817.7L431.9 806.8L452.2 796.6L472.4 787.1L492.7 778.4L512.9 770.4L533.2 763.2L553.4 756.8M320.3 884.9L340.5 870.1L360.8 856.1L381 842.8L401.2 830.3L421.4 818.5L441.6 807.5L461.9 797.2L482.1 787.6L502.3 778.9L522.5 770.8L542.8 763.5L563 757" fill="none" stroke="#000" stroke-opacity="0.7" stroke-width="1.4"/>
<line x1="371.7" y1="1027" x2="371.7" y2="757" stroke="#3a3a3a" stroke-width="1.0"/>
<line x1="110" y1="693" x2="371.7" y2="757" stroke="#1c1c1c" stroke-width="1.3"/>
<line x1="371.7" y1="757" x2="578" y2="676" stroke="#1c1c1c" stroke-width="1.3"/>
<text x="83.5" y="728.9" font-size="20.5" text-anchor="middle" fill="#111">60</text>
<text x="83.5" y="836.8" font-size="20.5" text-anchor="middle" fill="#111">50</text>
<text x="85.5" y="944.4" font-size="20.5" text-anchor="middle" fill="#111">40</text>
<text x="94.3" y="981.2" font-size="20.5" text-anchor="middle" fill="#111">60</text>
<text x="155.8" y="995.2" font-size="20.5" text-anchor="middle" fill="#111">70</text>
<text x="217.5" y="1009.7" font-size="20.5" text-anchor="middle" fill="#111">80</text>
<text x="278.8" y="1023.9" font-size="20.5" text-anchor="middle" fill="#111">90</text>
<text x="337.2" y="1037.9" font-size="20.5" text-anchor="middle" fill="#111">100</text>
<text x="417.4" y="1037.4" font-size="20.5" text-anchor="middle" fill="#111">23.2</text>
<text x="465" y="1018.9" font-size="20.5" text-anchor="middle" fill="#111">26.5</text>
<text x="514" y="999.9" font-size="20.5" text-anchor="middle" fill="#111">29.8</text>
<text x="561.5" y="981.7" font-size="20.5" text-anchor="middle" fill="#111">33.1</text>
<text x="611" y="962.9" font-size="20.5" text-anchor="middle" fill="#111">36.4</text>
<text x="58" y="834.8" font-size="19" fill="#2c3a52" stroke="#2c3a52" stroke-width="0.15" text-anchor="middle" transform="rotate(-90 58 834.8)" textLength="88" lengthAdjust="spacingAndGlyphs">&#945;<tspan font-size="13" dy="2">Si(cm)</tspan><tspan dy="-2"> , %</tspan></text>
<text x="69" y="1096" font-size="11" text-anchor="middle" fill="#46608a">Y</text>
<line x1="758.8" y1="604.2" x2="758.8" y2="1051" stroke="#868686" stroke-width="1.5"/>
<line x1="697.2" y1="660.1" x2="1190.3" y2="660.1" stroke="#262626" stroke-width="1.5"/>
<line x1="820.5" y1="604.2" x2="820.5" y2="1051" stroke="#262626" stroke-width="1.5"/>
<line x1="697.2" y1="715.9" x2="1190.3" y2="715.9" stroke="#262626" stroke-width="1.5"/>
<line x1="882.1" y1="604.2" x2="882.1" y2="1051" stroke="#3c3c3c" stroke-width="1.5"/>
<line x1="697.2" y1="771.8" x2="1190.3" y2="771.8" stroke="#262626" stroke-width="1.5"/>
<line x1="943.8" y1="604.2" x2="943.8" y2="1051" stroke="#262626" stroke-width="1.5"/>
<line x1="697.2" y1="827.6" x2="1190.3" y2="827.6" stroke="#262626" stroke-width="1.5"/>
<line x1="1005.4" y1="604.2" x2="1005.4" y2="1051" stroke="#6a6a6a" stroke-width="1.5"/>
<line x1="697.2" y1="883.5" x2="1190.3" y2="883.5" stroke="#262626" stroke-width="1.5"/>
<line x1="1067" y1="604.2" x2="1067" y2="1051" stroke="#262626" stroke-width="1.5"/>
<line x1="697.2" y1="939.3" x2="1190.3" y2="939.3" stroke="#262626" stroke-width="1.5"/>
<line x1="1128.7" y1="604.2" x2="1128.7" y2="1051" stroke="#868686" stroke-width="1.5"/>
<line x1="697.2" y1="995.1" x2="1190.3" y2="995.1" stroke="#262626" stroke-width="1.5"/>
<line x1="697.2" y1="603.7" x2="697.2" y2="1057" stroke="#1c1c1c" stroke-width="1.65"/>
<line x1="1190.3" y1="603.7" x2="1190.3" y2="1057" stroke="#1c1c1c" stroke-width="1.6"/>
<line x1="691.2" y1="604.2" x2="1191" y2="604.2" stroke="#1c1c1c" stroke-width="1.7"/>
<line x1="691.2" y1="1051" x2="1191" y2="1051" stroke="#1c1c1c" stroke-width="2.4"/>
<line x1="697.2" y1="1043" x2="697.2" y2="1057" stroke="#1c1c1c" stroke-width="1.3"/>
<line x1="690.2" y1="604.2" x2="707.2" y2="604.2" stroke="#1c1c1c" stroke-width="1.3"/>
<line x1="1180.3" y1="604.2" x2="1190.3" y2="604.2" stroke="#1c1c1c" stroke-width="1.3"/>
<line x1="820.5" y1="1043" x2="820.5" y2="1057" stroke="#1c1c1c" stroke-width="1.3"/>
<line x1="690.2" y1="715.9" x2="707.2" y2="715.9" stroke="#1c1c1c" stroke-width="1.3"/>
<line x1="1180.3" y1="715.9" x2="1190.3" y2="715.9" stroke="#1c1c1c" stroke-width="1.3"/>
<line x1="943.8" y1="1043" x2="943.8" y2="1057" stroke="#1c1c1c" stroke-width="1.3"/>
<line x1="690.2" y1="827.6" x2="707.2" y2="827.6" stroke="#1c1c1c" stroke-width="1.3"/>
<line x1="1180.3" y1="827.6" x2="1190.3" y2="827.6" stroke="#1c1c1c" stroke-width="1.3"/>
<line x1="1067" y1="1043" x2="1067" y2="1057" stroke="#1c1c1c" stroke-width="1.3"/>
<line x1="690.2" y1="939.3" x2="707.2" y2="939.3" stroke="#1c1c1c" stroke-width="1.3"/>
<line x1="1180.3" y1="939.3" x2="1190.3" y2="939.3" stroke="#1c1c1c" stroke-width="1.3"/>
<line x1="1190.3" y1="1043" x2="1190.3" y2="1057" stroke="#1c1c1c" stroke-width="1.3"/>
<line x1="690.2" y1="1051" x2="707.2" y2="1051" stroke="#1c1c1c" stroke-width="1.3"/>
<line x1="1180.3" y1="1051" x2="1190.3" y2="1051" stroke="#1c1c1c" stroke-width="1.3"/>
<clipPath id="cl604"><rect x="697.2" y="604.2" width="493.1" height="446.8"/></clipPath>
<g clip-path="url(#cl604)">
<path d="M696.5 690.5L737.8 603" fill="none" stroke="#2e2e2e" stroke-width="1.05" stroke-linejoin="round"/>
<path d="M860.1 602.5L852.8 617.4L845.5 632.3L838.3 647.2L831.1 662.2L824 677.1L816.9 692L809.8 706.9L802.8 721.8L795.9 736.8L789 751.7L782.1 766.6L775.3 781.5L768.5 796.4L761.7 811.3L755 826.2L748.4 841.2L741.7 856.1L735.2 871L728.6 885.9L722.2 900.8L715.7 915.8L709.3 930.7L702.9 945.6L696.6 960.5" fill="none" stroke="#2e2e2e" stroke-width="1.05" stroke-linejoin="round"/>
<path d="M1001.3 602.5L991 621.3L980.8 640L970.7 658.8L960.8 677.6L950.9 696.4L941.1 715.1L931.5 733.9L921.9 752.7L912.5 771.4L903.2 790.2L893.9 809L884.8 827.8L875.8 846.5L866.9 865.3L858.1 884.1L849.5 902.8L840.9 921.6L832.4 940.4L824.1 959.1L815.8 977.9L807.7 996.7L799.7 1015.5L791.8 1034.2L784 1053" fill="none" stroke="#2e2e2e" stroke-width="1.05" stroke-linejoin="round"/>
<path d="M1169 602.5L1157.3 621.3L1145.6 640L1134.2 658.8L1122.9 677.6L1111.7 696.4L1100.7 715.1L1089.8 733.9L1079.1 752.7L1068.6 771.4L1058.2 790.2L1048 809L1037.9 827.8L1028 846.5L1018.2 865.3L1008.6 884.1L999.1 902.8L989.8 921.6L980.6 940.4L971.6 959.1L962.7 977.9L954 996.7L945.5 1015.5L937.1 1034.2L928.8 1053" fill="none" stroke="#2e2e2e" stroke-width="1.05" stroke-linejoin="round"/>
<path d="M1191.4 891.5L1187.4 898.2L1183.3 905L1179.3 911.7L1175.3 918.4L1171.3 925.1L1167.3 931.9L1163.3 938.6L1159.4 945.3L1155.5 952.1L1151.6 958.8L1147.7 965.5L1143.8 972.2L1140 979L1136.2 985.7L1132.4 992.4L1128.6 999.2L1124.8 1005.9L1121.1 1012.6L1117.4 1019.4L1113.7 1026.1L1110 1032.8L1106.3 1039.5L1102.7 1046.3L1099.1 1053" fill="none" stroke="#2e2e2e" stroke-width="1.05" stroke-linejoin="round"/>
<text x="706.8" y="681.6" font-size="20" text-anchor="middle" textLength="19.5" lengthAdjust="spacingAndGlyphs" fill="#111">40</text>
<text x="780.9" y="774.3" font-size="20" text-anchor="middle" textLength="19.5" lengthAdjust="spacingAndGlyphs" fill="#111">45</text>
<text x="705.5" y="950" font-size="20" text-anchor="middle" textLength="19.5" lengthAdjust="spacingAndGlyphs" fill="#111">45</text>
<text x="951.2" y="703.1" font-size="20" text-anchor="middle" textLength="19.5" lengthAdjust="spacingAndGlyphs" fill="#111">50</text>
<text x="865.9" y="877.6" font-size="20" text-anchor="middle" textLength="19.5" lengthAdjust="spacingAndGlyphs" fill="#111">50</text>
<text x="789.9" y="1049.1" font-size="20" text-anchor="middle" textLength="19.5" lengthAdjust="spacingAndGlyphs" fill="#111">50</text>
<text x="1108.4" y="712.2" font-size="20" text-anchor="middle" textLength="19.5" lengthAdjust="spacingAndGlyphs" fill="#111">55</text>
<text x="1016.2" y="878.1" font-size="20" text-anchor="middle" textLength="19.5" lengthAdjust="spacingAndGlyphs" fill="#111">55</text>
<text x="935.6" y="1047.6" font-size="20" text-anchor="middle" textLength="19.5" lengthAdjust="spacingAndGlyphs" fill="#111">55</text>
<text x="1107.1" y="1048.1" font-size="20" text-anchor="middle" textLength="19.5" lengthAdjust="spacingAndGlyphs" fill="#111">60</text>
</g>
<text x="698.5" y="1077.7" font-size="20" text-anchor="middle" textLength="19.8" lengthAdjust="spacingAndGlyphs" fill="#111">60</text>
<text x="822.1" y="1077.7" font-size="20" text-anchor="middle" textLength="19.8" lengthAdjust="spacingAndGlyphs" fill="#111">70</text>
<text x="944.7" y="1077.7" font-size="20" text-anchor="middle" textLength="19.8" lengthAdjust="spacingAndGlyphs" fill="#111">80</text>
<text x="1068.1" y="1077.7" font-size="20" text-anchor="middle" textLength="19.8" lengthAdjust="spacingAndGlyphs" fill="#111">90</text>
<text x="1192.9" y="1077.7" font-size="20" text-anchor="middle" textLength="29.5" lengthAdjust="spacingAndGlyphs" fill="#111">100</text>
<text x="688.2" y="610.7" font-size="20" text-anchor="end" textLength="35" lengthAdjust="spacingAndGlyphs" fill="#111">36.4</text>
<text x="688.2" y="722.7" font-size="20" text-anchor="end" textLength="35" lengthAdjust="spacingAndGlyphs" fill="#111">33.1</text>
<text x="688.2" y="834.2" font-size="20" text-anchor="end" textLength="35" lengthAdjust="spacingAndGlyphs" fill="#111">29.8</text>
<text x="688.2" y="946.2" font-size="20" text-anchor="end" textLength="35" lengthAdjust="spacingAndGlyphs" fill="#111">26.5</text>
<text x="688.2" y="1057.7" font-size="20" text-anchor="end" textLength="35" lengthAdjust="spacingAndGlyphs" fill="#111">23.2</text>
<g stroke-linecap="butt">
<line x1="100.2" y1="1584.8" x2="98.9" y2="1304.8" stroke="#1c1c1c" stroke-width="1.4"/>
<line x1="305.7" y1="1508.7" x2="305.3" y2="1230" stroke="#1c1c1c" stroke-width="1.4"/>
<line x1="124.4" y1="1575.3" x2="123.2" y2="1295.5" stroke="#6e6e6e" stroke-width="1.25"/>
<line x1="336.4" y1="1515.9" x2="336" y2="1237.4" stroke="#6e6e6e" stroke-width="1.25"/>
<line x1="148.5" y1="1565.8" x2="147.4" y2="1286.2" stroke="#1c1c1c" stroke-width="1.4"/>
<line x1="367" y1="1523.1" x2="366.7" y2="1244.7" stroke="#1c1c1c" stroke-width="1.4"/>
<line x1="172.7" y1="1556.3" x2="171.7" y2="1276.8" stroke="#6e6e6e" stroke-width="1.25"/>
<line x1="397.7" y1="1530.4" x2="397.4" y2="1252.1" stroke="#6e6e6e" stroke-width="1.25"/>
<line x1="196.8" y1="1546.9" x2="195.9" y2="1267.5" stroke="#1c1c1c" stroke-width="1.4"/>
<line x1="428.3" y1="1537.6" x2="428.1" y2="1259.4" stroke="#1c1c1c" stroke-width="1.4"/>
<line x1="221" y1="1537.4" x2="220.2" y2="1258.2" stroke="#6e6e6e" stroke-width="1.25"/>
<line x1="459" y1="1544.8" x2="458.8" y2="1266.7" stroke="#6e6e6e" stroke-width="1.25"/>
<line x1="245.1" y1="1527.9" x2="244.4" y2="1248.9" stroke="#1c1c1c" stroke-width="1.4"/>
<line x1="489.6" y1="1552" x2="489.5" y2="1274.1" stroke="#1c1c1c" stroke-width="1.4"/>
<line x1="269.3" y1="1518.5" x2="268.6" y2="1239.6" stroke="#6e6e6e" stroke-width="1.25"/>
<line x1="520.3" y1="1559.3" x2="520.2" y2="1281.4" stroke="#6e6e6e" stroke-width="1.25"/>
<line x1="293.4" y1="1509" x2="292.9" y2="1230.3" stroke="#1c1c1c" stroke-width="1.4"/>
<line x1="550.9" y1="1566.5" x2="550.9" y2="1288.8" stroke="#1c1c1c" stroke-width="1.4"/>
<line x1="93.4" y1="1348.4" x2="298.1" y2="1269.5" stroke="#1c1c1c" stroke-width="1.35"/>
<line x1="298.1" y1="1269.5" x2="557.4" y2="1331.4" stroke="#1c1c1c" stroke-width="1.35"/>
<line x1="93.9" y1="1449.8" x2="298.3" y2="1370.4" stroke="#1c1c1c" stroke-width="1.35"/>
<line x1="298.3" y1="1370.4" x2="557.4" y2="1431.9" stroke="#1c1c1c" stroke-width="1.35"/>
<line x1="94.3" y1="1548.9" x2="298.4" y2="1469.1" stroke="#1c1c1c" stroke-width="1.35"/>
<line x1="298.4" y1="1469.1" x2="557.4" y2="1530.2" stroke="#1c1c1c" stroke-width="1.35"/>
<line x1="305.4" y1="1320.9" x2="550.9" y2="1379.3" stroke="#8a8a8a" stroke-width="0.85" stroke-dasharray="4 2 1.5 2"/>
<line x1="305.6" y1="1420.9" x2="550.9" y2="1479" stroke="#8a8a8a" stroke-width="0.85" stroke-dasharray="4 2 1.5 2"/>
<line x1="102.4" y1="1586.7" x2="299.4" y2="1509.4" stroke="#262626" stroke-width="1.25"/>
<line x1="102.4" y1="1586.7" x2="352.1" y2="1644.1" stroke="#262626" stroke-width="1.25"/>
<line x1="133.6" y1="1593.8" x2="330.7" y2="1516.8" stroke="#5e5e5e" stroke-width="0.95"/>
<line x1="127" y1="1577" x2="376.8" y2="1634.6" stroke="#5e5e5e" stroke-width="0.95"/>
<line x1="164.8" y1="1601" x2="362" y2="1524.1" stroke="#262626" stroke-width="1.25"/>
<line x1="151.6" y1="1567.3" x2="401.4" y2="1625.1" stroke="#262626" stroke-width="1.25"/>
<line x1="196" y1="1608.2" x2="393.2" y2="1531.5" stroke="#5e5e5e" stroke-width="0.95"/>
<line x1="176.3" y1="1557.7" x2="426.1" y2="1615.6" stroke="#5e5e5e" stroke-width="0.95"/>
<line x1="227.2" y1="1615.4" x2="424.5" y2="1538.8" stroke="#262626" stroke-width="1.25"/>
<line x1="200.9" y1="1548" x2="450.8" y2="1606.2" stroke="#262626" stroke-width="1.25"/>
<line x1="258.4" y1="1622.5" x2="455.7" y2="1546.2" stroke="#5e5e5e" stroke-width="0.95"/>
<line x1="225.5" y1="1538.4" x2="475.5" y2="1596.7" stroke="#5e5e5e" stroke-width="0.95"/>
<line x1="289.7" y1="1629.7" x2="487" y2="1553.6" stroke="#262626" stroke-width="1.25"/>
<line x1="250.2" y1="1528.7" x2="500.2" y2="1587.2" stroke="#262626" stroke-width="1.25"/>
<line x1="320.9" y1="1636.9" x2="518.3" y2="1560.9" stroke="#5e5e5e" stroke-width="0.95"/>
<line x1="274.8" y1="1519.1" x2="524.8" y2="1577.8" stroke="#5e5e5e" stroke-width="0.95"/>
<line x1="352.1" y1="1644.1" x2="549.5" y2="1568.3" stroke="#262626" stroke-width="1.25"/>
<line x1="299.4" y1="1509.4" x2="549.5" y2="1568.3" stroke="#262626" stroke-width="1.25"/>
<line x1="94.5" y1="1587" x2="93.2" y2="1307" stroke="#1c1c1c" stroke-width="1.9"/>
<line x1="298.5" y1="1507" x2="298" y2="1228.3" stroke="#1c1c1c" stroke-width="1.9"/>
<line x1="557.4" y1="1568" x2="557.4" y2="1290.3" stroke="#1c1c1c" stroke-width="1.6"/>
<line x1="93.2" y1="1307" x2="298" y2="1228.3" stroke="#1c1c1c" stroke-width="1.5"/>
<line x1="298" y1="1228.3" x2="557.4" y2="1290.3" stroke="#1c1c1c" stroke-width="1.5"/>
<line x1="94.5" y1="1587" x2="298.5" y2="1507" stroke="#1c1c1c" stroke-width="1.7"/>
<line x1="298.5" y1="1507" x2="557.4" y2="1568" stroke="#1c1c1c" stroke-width="1.7"/>
<line x1="94.5" y1="1587" x2="353" y2="1646.4" stroke="#1c1c1c" stroke-width="1.5"/>
<line x1="353" y1="1646.4" x2="557.4" y2="1568" stroke="#1c1c1c" stroke-width="1.5"/>
<line x1="93.4" y1="1348.4" x2="80.4" y2="1345.1" stroke="#1c1c1c" stroke-width="1.2"/>
<line x1="93.9" y1="1449.8" x2="80.9" y2="1446.6" stroke="#1c1c1c" stroke-width="1.2"/>
<line x1="94.3" y1="1548.9" x2="81.4" y2="1545.9" stroke="#1c1c1c" stroke-width="1.2"/>
<line x1="101.7" y1="1588.7" x2="89.5" y2="1593.5" stroke="#1c1c1c" stroke-width="1.2"/>
<line x1="358.7" y1="1644.2" x2="371.6" y2="1647.2" stroke="#1c1c1c" stroke-width="1.2"/>
<line x1="162.9" y1="1602.7" x2="150.7" y2="1607.5" stroke="#1c1c1c" stroke-width="1.2"/>
<line x1="407.1" y1="1625.6" x2="420" y2="1628.6" stroke="#1c1c1c" stroke-width="1.2"/>
<line x1="224.1" y1="1616.8" x2="211.9" y2="1621.5" stroke="#1c1c1c" stroke-width="1.2"/>
<line x1="455.5" y1="1607.1" x2="468.4" y2="1610.1" stroke="#1c1c1c" stroke-width="1.2"/>
<line x1="285.3" y1="1630.9" x2="273.1" y2="1635.6" stroke="#1c1c1c" stroke-width="1.2"/>
<line x1="503.9" y1="1588.5" x2="516.8" y2="1591.6" stroke="#1c1c1c" stroke-width="1.2"/>
<line x1="346.5" y1="1644.9" x2="334.3" y2="1649.6" stroke="#1c1c1c" stroke-width="1.2"/>
<line x1="552.3" y1="1570" x2="565.2" y2="1573" stroke="#1c1c1c" stroke-width="1.2"/>
</g>
<g stroke-width="0.6" stroke-linejoin="round" fill="currentColor" stroke="currentColor">
<path d="M291.9 1500.3l9.7 -6.3l9.7 1.4l-9.7 6.3z" color="#4f07a1"/>
<path d="M301.5 1494l9.7 -6.2l9.7 1.3l-9.7 6.2z" color="#4302ad"/>
<path d="M311.2 1487.9l9.7 -6l9.7 1.3l-9.7 6.1z" color="#2e03b8"/>
<path d="M320.9 1481.8l9.7 -5.9l9.7 1.3l-9.7 5.9z" color="#1406c3"/>
<path d="M330.5 1475.9l9.7 -5.8l9.7 1.3l-9.7 5.8z" color="#0617d2"/>
<path d="M340.2 1470.1l9.7 -5.7l9.7 1.2l-9.7 5.7z" color="#023deb"/>
<path d="M349.9 1464.4l9.7 -5.6l9.7 1.2l-9.7 5.6z" color="#0064f2"/>
<path d="M359.5 1458.9l9.7 -5.4l9.7 1.2l-9.7 5.5z" color="#0088e7"/>
<path d="M369.2 1453.5l9.7 -5.3l9.6 1.2l-9.7 5.3z" color="#00a6d7"/>
<path d="M378.9 1448.2l9.7 -5.2l9.6 1.1l-9.7 5.2z" color="#00bbbb"/>
<path d="M388.5 1443l9.7 -5.1l9.6 1.1l-9.7 5.1z" color="#00c99f"/>
<path d="M398.2 1437.9l9.7 -4.9l9.6 1.1l-9.7 5z" color="#00cb89"/>
<path d="M407.9 1433l9.7 -4.8l9.6 1l-9.7 4.8z" color="#00cd7a"/>
<path d="M417.5 1428.2l9.7 -4.7l9.6 1l-9.7 4.7z" color="#00ce6a"/>
<path d="M427.2 1423.5l9.7 -4.6l9.6 0.9l-9.7 4.6z" color="#00d05b"/>
<path d="M436.9 1418.9l9.7 -4.4l9.6 0.9l-9.7 4.5z" color="#04d14a"/>
<path d="M446.5 1414.5l9.7 -4.3l9.6 0.9l-9.7 4.4z" color="#09d338"/>
<path d="M456.2 1410.2l9.7 -4.2l9.6 0.8l-9.7 4.2z" color="#0dd427"/>
<path d="M465.8 1406l9.7 -4.1l9.6 0.8l-9.7 4.1z" color="#12d616"/>
<path d="M475.5 1401.9l9.7 -4l9.5 0.7l-9.7 4z" color="#16d706"/>
<path d="M485.2 1397.9l9.7 -3.8l9.5 0.7l-9.7 3.9z" color="#26d900"/>
<path d="M494.8 1394.1l9.7 -3.7l9.5 0.6l-9.7 3.8z" color="#3cda00"/>
<path d="M504.5 1390.4l9.7 -3.6l9.5 0.6l-9.7 3.6z" color="#51db00"/>
<path d="M514.2 1386.8l9.7 -3.5l9.5 0.5l-9.7 3.5z" color="#65dd00"/>
<path d="M523.8 1383.4l9.7 -3.3l9.5 0.5l-9.7 3.4z" color="#79de00"/>
<path d="M282.2 1499l9.7 -6.3l9.7 1.3l-9.7 6.3z" color="#4804a8"/>
<path d="M291.8 1492.7l9.7 -6.1l9.7 1.3l-9.7 6.2z" color="#3801b3"/>
<path d="M301.5 1486.6l9.7 -6l9.7 1.3l-9.7 6z" color="#1e05be"/>
<path d="M311.2 1480.5l9.7 -5.9l9.7 1.3l-9.7 5.9z" color="#080bca"/>
<path d="M320.8 1474.6l9.7 -5.8l9.7 1.2l-9.7 5.8z" color="#042fe2"/>
<path d="M330.5 1468.9l9.7 -5.6l9.7 1.2l-9.7 5.7z" color="#0055f6"/>
<path d="M340.2 1463.2l9.7 -5.5l9.7 1.2l-9.7 5.6z" color="#007aeb"/>
<path d="M349.9 1457.7l9.7 -5.4l9.7 1.2l-9.7 5.4z" color="#009ee1"/>
<path d="M359.5 1452.3l9.7 -5.3l9.6 1.1l-9.7 5.3z" color="#00b3c5"/>
<path d="M369.2 1447l9.7 -5.1l9.6 1.1l-9.7 5.2z" color="#00c7a9"/>
<path d="M378.9 1441.9l9.7 -5l9.6 1.1l-9.7 5.1z" color="#00cb8f"/>
<path d="M388.6 1436.9l9.7 -4.9l9.6 1l-9.7 4.9z" color="#00cc7f"/>
<path d="M398.2 1432l9.7 -4.8l9.6 1l-9.7 4.8z" color="#00ce6f"/>
<path d="M407.9 1427.2l9.7 -4.7l9.6 1l-9.7 4.7z" color="#00cf60"/>
<path d="M417.6 1422.5l9.7 -4.5l9.6 0.9l-9.7 4.6z" color="#02d150"/>
<path d="M427.3 1418l9.7 -4.4l9.6 0.9l-9.7 4.4z" color="#07d23e"/>
<path d="M436.9 1413.6l9.7 -4.3l9.6 0.8l-9.7 4.3z" color="#0cd42d"/>
<path d="M446.6 1409.3l9.7 -4.2l9.6 0.8l-9.7 4.2z" color="#11d61b"/>
<path d="M456.3 1405.2l9.7 -4l9.6 0.7l-9.7 4.1z" color="#15d70b"/>
<path d="M466 1401.1l9.7 -3.9l9.5 0.7l-9.7 4z" color="#20d800"/>
<path d="M475.6 1397.2l9.7 -3.8l9.5 0.7l-9.7 3.8z" color="#36da00"/>
<path d="M485.3 1393.5l9.7 -3.7l9.5 0.6l-9.7 3.7z" color="#4bdb00"/>
<path d="M495 1389.8l9.7 -3.5l9.5 0.6l-9.7 3.6z" color="#60dc00"/>
<path d="M504.7 1386.3l9.7 -3.4l9.5 0.5l-9.7 3.5z" color="#74dd00"/>
<path d="M514.3 1382.9l9.7 -3.3l9.5 0.4l-9.7 3.3z" color="#88df00"/>
<path d="M272.4 1497.7l9.7 -6.3l9.7 1.3l-9.7 6.3z" color="#4101af"/>
<path d="M282.1 1491.4l9.7 -6.1l9.7 1.3l-9.7 6.1z" color="#2903ba"/>
<path d="M291.8 1485.3l9.7 -6l9.7 1.3l-9.7 6z" color="#0f07c5"/>
<path d="M301.5 1479.3l9.7 -5.9l9.7 1.2l-9.7 5.9z" color="#0520d8"/>
<path d="M311.2 1473.4l9.7 -5.7l9.7 1.2l-9.7 5.8z" color="#0146f1"/>
<path d="M320.8 1467.7l9.7 -5.6l9.7 1.2l-9.7 5.6z" color="#006def"/>
<path d="M330.5 1462l9.7 -5.5l9.7 1.2l-9.7 5.5z" color="#0091e5"/>
<path d="M340.2 1456.5l9.7 -5.4l9.7 1.1l-9.7 5.4z" color="#00accf"/>
<path d="M349.9 1451.2l9.7 -5.2l9.6 1.1l-9.7 5.3z" color="#00c0b3"/>
<path d="M359.6 1445.9l9.7 -5.1l9.6 1.1l-9.7 5.1z" color="#00ca96"/>
<path d="M369.3 1440.8l9.7 -5l9.6 1l-9.7 5z" color="#00cc84"/>
<path d="M378.9 1435.8l9.7 -4.9l9.6 1l-9.7 4.9z" color="#00cd75"/>
<path d="M388.6 1430.9l9.7 -4.7l9.6 1l-9.7 4.8z" color="#00cf65"/>
<path d="M398.3 1426.2l9.7 -4.6l9.6 0.9l-9.7 4.7z" color="#01d056"/>
<path d="M408 1421.6l9.7 -4.5l9.6 0.9l-9.7 4.5z" color="#06d244"/>
<path d="M417.7 1417.1l9.7 -4.4l9.6 0.9l-9.7 4.4z" color="#0ad332"/>
<path d="M427.4 1412.7l9.7 -4.2l9.6 0.8l-9.7 4.3z" color="#0fd521"/>
<path d="M437 1408.5l9.7 -4.1l9.6 0.8l-9.7 4.2z" color="#14d710"/>
<path d="M446.7 1404.4l9.7 -4l9.6 0.7l-9.7 4z" color="#19d800"/>
<path d="M456.4 1400.4l9.7 -3.9l9.5 0.7l-9.7 3.9z" color="#2fd900"/>
<path d="M466.1 1396.6l9.7 -3.7l9.5 0.6l-9.7 3.8z" color="#45db00"/>
<path d="M475.8 1392.8l9.7 -3.6l9.5 0.6l-9.7 3.7z" color="#5adc00"/>
<path d="M485.5 1389.2l9.7 -3.5l9.5 0.5l-9.7 3.5z" color="#6edd00"/>
<path d="M495.1 1385.7l9.7 -3.4l9.5 0.5l-9.7 3.4z" color="#83de00"/>
<path d="M504.8 1382.4l9.7 -3.2l9.5 0.4l-9.7 3.3z" color="#96df00"/>
<path d="M262.7 1496.3l9.7 -6.2l9.7 1.3l-9.7 6.3z" color="#3302b5"/>
<path d="M272.4 1490.1l9.7 -6.1l9.7 1.3l-9.7 6.1z" color="#1906c1"/>
<path d="M282.1 1484l9.7 -6l9.7 1.2l-9.7 6z" color="#0711ce"/>
<path d="M291.8 1478l9.7 -5.9l9.7 1.2l-9.7 5.9z" color="#0337e7"/>
<path d="M301.5 1472.2l9.7 -5.7l9.7 1.2l-9.7 5.7z" color="#005ef4"/>
<path d="M311.2 1466.4l9.7 -5.6l9.7 1.2l-9.7 5.6z" color="#0083e9"/>
<path d="M320.9 1460.9l9.7 -5.5l9.7 1.1l-9.7 5.5z" color="#00a4da"/>
<path d="M330.5 1455.4l9.7 -5.3l9.7 1.1l-9.7 5.4z" color="#00b9bd"/>
<path d="M340.2 1450l9.7 -5.2l9.6 1.1l-9.7 5.2z" color="#00c9a1"/>
<path d="M349.9 1444.8l9.7 -5.1l9.6 1.1l-9.7 5.1z" color="#00cb8a"/>
<path d="M359.6 1439.7l9.7 -5l9.6 1l-9.7 5z" color="#00cd7a"/>
<path d="M369.3 1434.8l9.7 -4.8l9.6 1l-9.7 4.9z" color="#00ce6a"/>
<path d="M379 1430l9.7 -4.7l9.6 1l-9.7 4.7z" color="#00d05b"/>
<path d="M388.7 1425.3l9.7 -4.6l9.6 0.9l-9.7 4.6z" color="#04d14a"/>
<path d="M398.4 1420.7l9.7 -4.4l9.6 0.9l-9.7 4.5z" color="#09d338"/>
<path d="M408.1 1416.2l9.7 -4.3l9.6 0.8l-9.7 4.4z" color="#0ed526"/>
<path d="M417.8 1411.9l9.7 -4.2l9.6 0.8l-9.7 4.2z" color="#12d615"/>
<path d="M427.5 1407.7l9.7 -4.1l9.6 0.8l-9.7 4.1z" color="#17d804"/>
<path d="M437.2 1403.7l9.7 -3.9l9.6 0.7l-9.7 4z" color="#29d900"/>
<path d="M446.8 1399.7l9.7 -3.8l9.5 0.7l-9.7 3.9z" color="#3fda00"/>
<path d="M456.5 1395.9l9.7 -3.7l9.5 0.6l-9.7 3.7z" color="#54dc00"/>
<path d="M466.2 1392.2l9.7 -3.6l9.5 0.6l-9.7 3.6z" color="#69dd00"/>
<path d="M475.9 1388.7l9.7 -3.4l9.5 0.5l-9.7 3.5z" color="#7dde00"/>
<path d="M485.6 1385.2l9.7 -3.3l9.5 0.5l-9.7 3.4z" color="#91df00"/>
<path d="M495.3 1381.9l9.7 -3.2l9.5 0.4l-9.7 3.2z" color="#a5e000"/>
<path d="M253 1495l9.7 -6.2l9.7 1.3l-9.7 6.2z" color="#2404bc"/>
<path d="M262.7 1488.8l9.7 -6.1l9.7 1.3l-9.7 6.1z" color="#0a08c7"/>
<path d="M272.4 1482.7l9.7 -6l9.7 1.2l-9.7 6z" color="#0428dd"/>
<path d="M282.1 1476.8l9.7 -5.8l9.7 1.2l-9.7 5.9z" color="#004ef7"/>
<path d="M291.8 1471l9.7 -5.7l9.7 1.2l-9.7 5.7z" color="#0075ed"/>
<path d="M301.5 1465.3l9.7 -5.6l9.7 1.2l-9.7 5.6z" color="#009ae2"/>
<path d="M311.2 1459.7l9.7 -5.4l9.7 1.1l-9.7 5.5z" color="#00b1c8"/>
<path d="M320.9 1454.3l9.7 -5.3l9.7 1.1l-9.7 5.3z" color="#00c6ab"/>
<path d="M330.6 1448.9l9.7 -5.2l9.6 1.1l-9.7 5.2z" color="#00ca90"/>
<path d="M340.3 1443.8l9.7 -5.1l9.6 1l-9.7 5.1z" color="#00cc80"/>
<path d="M350 1438.7l9.7 -4.9l9.6 1l-9.7 5z" color="#00ce70"/>
<path d="M359.7 1433.8l9.7 -4.8l9.6 1l-9.7 4.8z" color="#00cf60"/>
<path d="M369.4 1429l9.7 -4.7l9.6 0.9l-9.7 4.7z" color="#02d150"/>
<path d="M379.1 1424.3l9.7 -4.5l9.6 0.9l-9.7 4.6z" color="#07d23e"/>
<path d="M388.8 1419.8l9.7 -4.4l9.6 0.9l-9.7 4.4z" color="#0cd42c"/>
<path d="M398.5 1415.4l9.7 -4.3l9.6 0.8l-9.7 4.3z" color="#11d61a"/>
<path d="M408.2 1411.1l9.7 -4.2l9.6 0.8l-9.7 4.2z" color="#15d709"/>
<path d="M417.9 1406.9l9.7 -4l9.6 0.7l-9.7 4.1z" color="#22d900"/>
<path d="M427.6 1402.9l9.7 -3.9l9.6 0.7l-9.7 3.9z" color="#38da00"/>
<path d="M437.3 1399l9.7 -3.8l9.5 0.6l-9.7 3.8z" color="#4edb00"/>
<path d="M447 1395.3l9.7 -3.6l9.5 0.6l-9.7 3.7z" color="#63dc00"/>
<path d="M456.7 1391.6l9.7 -3.5l9.5 0.5l-9.7 3.6z" color="#78de00"/>
<path d="M466.4 1388.1l9.7 -3.4l9.5 0.5l-9.7 3.4z" color="#8cdf00"/>
<path d="M476.1 1384.7l9.7 -3.2l9.5 0.4l-9.7 3.3z" color="#a0e000"/>
<path d="M485.8 1381.5l9.7 -3.1l9.5 0.4l-9.7 3.2z" color="#b5e100"/>
<path d="M243.2 1493.8l9.7 -6.2l9.7 1.3l-9.7 6.2z" color="#1406c3"/>
<path d="M253 1487.6l9.7 -6.1l9.7 1.2l-9.7 6.1z" color="#0618d3"/>
<path d="M262.7 1481.5l9.7 -5.9l9.7 1.2l-9.7 6z" color="#023fed"/>
<path d="M272.4 1475.6l9.7 -5.8l9.7 1.2l-9.7 5.8z" color="#0066f1"/>
<path d="M282.1 1469.8l9.7 -5.7l9.7 1.2l-9.7 5.7z" color="#008ce6"/>
<path d="M291.8 1464.1l9.7 -5.5l9.7 1.1l-9.7 5.6z" color="#00a9d3"/>
<path d="M301.5 1458.6l9.7 -5.4l9.7 1.1l-9.7 5.4z" color="#00beb6"/>
<path d="M311.2 1453.1l9.7 -5.3l9.7 1.1l-9.7 5.3z" color="#00ca99"/>
<path d="M320.9 1447.9l9.7 -5.2l9.6 1.1l-9.7 5.2z" color="#00cb85"/>
<path d="M330.6 1442.7l9.7 -5l9.6 1l-9.7 5.1z" color="#00cd75"/>
<path d="M340.4 1437.7l9.7 -4.9l9.6 1l-9.7 4.9z" color="#00cf66"/>
<path d="M350.1 1432.8l9.7 -4.8l9.6 1l-9.7 4.8z" color="#01d056"/>
<path d="M359.8 1428l9.7 -4.6l9.6 0.9l-9.7 4.7z" color="#06d244"/>
<path d="M369.5 1423.4l9.7 -4.5l9.6 0.9l-9.7 4.5z" color="#0bd431"/>
<path d="M379.2 1418.9l9.7 -4.4l9.6 0.8l-9.7 4.4z" color="#0fd520"/>
<path d="M388.9 1414.5l9.7 -4.2l9.6 0.8l-9.7 4.3z" color="#14d70e"/>
<path d="M398.6 1410.3l9.7 -4.1l9.6 0.8l-9.7 4.2z" color="#1bd800"/>
<path d="M408.3 1406.2l9.7 -4l9.6 0.7l-9.7 4z" color="#32da00"/>
<path d="M418 1402.2l9.7 -3.8l9.6 0.7l-9.7 3.9z" color="#48db00"/>
<path d="M427.7 1398.4l9.7 -3.7l9.5 0.6l-9.7 3.8z" color="#5ddc00"/>
<path d="M437.5 1394.6l9.7 -3.6l9.5 0.6l-9.7 3.6z" color="#72dd00"/>
<path d="M447.2 1391.1l9.7 -3.5l9.5 0.5l-9.7 3.5z" color="#87df00"/>
<path d="M456.9 1387.6l9.7 -3.3l9.5 0.5l-9.7 3.4z" color="#9be000"/>
<path d="M466.6 1384.3l9.7 -3.2l9.5 0.4l-9.7 3.2z" color="#b0e100"/>
<path d="M476.3 1381.1l9.7 -3.1l9.5 0.4l-9.7 3.1z" color="#c5e200"/>
<path d="M233.5 1492.5l9.7 -6.2l9.7 1.2l-9.7 6.2z" color="#080bca"/>
<path d="M243.2 1486.4l9.7 -6l9.7 1.2l-9.7 6.1z" color="#042fe2"/>
<path d="M253 1480.3l9.7 -5.9l9.7 1.2l-9.7 5.9z" color="#0057f6"/>
<path d="M262.7 1474.4l9.7 -5.8l9.7 1.2l-9.7 5.8z" color="#007dea"/>
<path d="M272.4 1468.6l9.7 -5.6l9.7 1.1l-9.7 5.7z" color="#00a1de"/>
<path d="M282.1 1463l9.7 -5.5l9.7 1.1l-9.7 5.5z" color="#00b6c1"/>
<path d="M291.8 1457.4l9.7 -5.4l9.7 1.1l-9.7 5.4z" color="#00c8a4"/>
<path d="M301.6 1452.1l9.7 -5.3l9.7 1.1l-9.7 5.3z" color="#00cb8b"/>
<path d="M311.3 1446.8l9.7 -5.1l9.6 1l-9.7 5.2z" color="#00cc7b"/>
<path d="M321 1441.7l9.7 -5l9.6 1l-9.7 5z" color="#00ce6b"/>
<path d="M330.7 1436.7l9.7 -4.9l9.6 1l-9.7 4.9z" color="#00d05c"/>
<path d="M340.4 1431.8l9.7 -4.7l9.6 0.9l-9.7 4.8z" color="#04d14a"/>
<path d="M350.2 1427.1l9.7 -4.6l9.6 0.9l-9.7 4.6z" color="#09d337"/>
<path d="M359.9 1422.5l9.7 -4.5l9.6 0.9l-9.7 4.5z" color="#0ed526"/>
<path d="M369.6 1418l9.7 -4.3l9.6 0.8l-9.7 4.4z" color="#13d614"/>
<path d="M379.3 1413.7l9.7 -4.2l9.6 0.8l-9.7 4.2z" color="#17d803"/>
<path d="M389 1409.5l9.7 -4.1l9.6 0.7l-9.7 4.1z" color="#2bd900"/>
<path d="M398.7 1405.5l9.7 -3.9l9.6 0.7l-9.7 4z" color="#41da00"/>
<path d="M408.5 1401.5l9.7 -3.8l9.6 0.6l-9.7 3.8z" color="#57dc00"/>
<path d="M418.2 1397.7l9.7 -3.7l9.5 0.6l-9.7 3.7z" color="#6cdd00"/>
<path d="M427.9 1394l9.7 -3.5l9.5 0.6l-9.7 3.6z" color="#81de00"/>
<path d="M437.6 1390.5l9.7 -3.4l9.5 0.5l-9.7 3.5z" color="#95df00"/>
<path d="M447.3 1387.1l9.7 -3.3l9.5 0.5l-9.7 3.3z" color="#aae100"/>
<path d="M457.1 1383.8l9.7 -3.1l9.5 0.4l-9.7 3.2z" color="#c0e200"/>
<path d="M466.8 1380.7l9.7 -3l9.5 0.3l-9.7 3.1z" color="#d4e300"/>
<path d="M223.8 1491.3l9.7 -6.2l9.7 1.2l-9.7 6.2z" color="#051fd7"/>
<path d="M233.5 1485.1l9.7 -6l9.7 1.2l-9.7 6z" color="#0146f1"/>
<path d="M243.3 1479.1l9.7 -5.9l9.7 1.2l-9.7 5.9z" color="#006eef"/>
<path d="M253 1473.2l9.7 -5.8l9.7 1.1l-9.7 5.8z" color="#0094e4"/>
<path d="M262.7 1467.5l9.7 -5.6l9.7 1.1l-9.7 5.6z" color="#00aecc"/>
<path d="M272.4 1461.8l9.7 -5.5l9.7 1.1l-9.7 5.5z" color="#00c3af"/>
<path d="M282.2 1456.3l9.7 -5.4l9.7 1.1l-9.7 5.4z" color="#00ca92"/>
<path d="M291.9 1451l9.7 -5.2l9.7 1l-9.7 5.3z" color="#00cc81"/>
<path d="M301.6 1445.8l9.7 -5.1l9.6 1l-9.7 5.1z" color="#00ce71"/>
<path d="M311.4 1440.7l9.7 -5l9.6 1l-9.7 5z" color="#00cf61"/>
<path d="M321.1 1435.7l9.7 -4.8l9.6 0.9l-9.7 4.9z" color="#02d150"/>
<path d="M330.8 1430.9l9.7 -4.7l9.6 0.9l-9.7 4.7z" color="#07d23e"/>
<path d="M340.5 1426.2l9.7 -4.6l9.6 0.9l-9.7 4.6z" color="#0cd42b"/>
<path d="M350.3 1421.6l9.7 -4.4l9.6 0.8l-9.7 4.5z" color="#11d61a"/>
<path d="M360 1417.2l9.7 -4.3l9.6 0.8l-9.7 4.3z" color="#16d708"/>
<path d="M369.7 1412.9l9.7 -4.2l9.6 0.8l-9.7 4.2z" color="#24d900"/>
<path d="M379.4 1408.8l9.7 -4l9.6 0.7l-9.7 4.1z" color="#3bda00"/>
<path d="M389.2 1404.7l9.7 -3.9l9.6 0.7l-9.7 3.9z" color="#51db00"/>
<path d="M398.9 1400.8l9.7 -3.8l9.6 0.6l-9.7 3.8z" color="#66dd00"/>
<path d="M408.6 1397.1l9.7 -3.6l9.5 0.6l-9.7 3.7z" color="#7bde00"/>
<path d="M418.4 1393.5l9.7 -3.5l9.5 0.5l-9.7 3.5z" color="#90df00"/>
<path d="M428.1 1390l9.7 -3.4l9.5 0.5l-9.7 3.4z" color="#a4e000"/>
<path d="M437.8 1386.6l9.7 -3.2l9.5 0.4l-9.7 3.3z" color="#bae100"/>
<path d="M447.5 1383.4l9.7 -3.1l9.5 0.4l-9.7 3.1z" color="#cfe200"/>
<path d="M457.3 1380.3l9.7 -3l9.5 0.3l-9.7 3z" color="#e4e300"/>
<path d="M214.1 1490.1l9.7 -6.1l9.7 1.2l-9.7 6.2z" color="#0336e7"/>
<path d="M223.8 1483.9l9.7 -6l9.7 1.2l-9.7 6z" color="#005ff4"/>
<path d="M233.5 1477.9l9.7 -5.9l9.7 1.1l-9.7 5.9z" color="#0085e8"/>
<path d="M243.3 1472.1l9.7 -5.7l9.7 1.1l-9.7 5.8z" color="#00a6d8"/>
<path d="M253 1466.3l9.7 -5.6l9.7 1.1l-9.7 5.6z" color="#00bbba"/>
<path d="M262.8 1460.7l9.7 -5.5l9.7 1.1l-9.7 5.5z" color="#00c99c"/>
<path d="M272.5 1455.3l9.7 -5.3l9.7 1l-9.7 5.4z" color="#00cb87"/>
<path d="M282.2 1449.9l9.7 -5.2l9.7 1l-9.7 5.2z" color="#00cd77"/>
<path d="M292 1444.7l9.7 -5.1l9.6 1l-9.7 5.1z" color="#00cf67"/>
<path d="M301.7 1439.7l9.7 -4.9l9.6 1l-9.7 5z" color="#00d057"/>
<path d="M311.4 1434.8l9.7 -4.8l9.6 0.9l-9.7 4.8z" color="#05d244"/>
<path d="M321.2 1430l9.7 -4.7l9.6 0.9l-9.7 4.7z" color="#0bd431"/>
<path d="M330.9 1425.3l9.7 -4.5l9.6 0.9l-9.7 4.6z" color="#0fd51f"/>
<path d="M340.7 1420.8l9.7 -4.4l9.6 0.8l-9.7 4.4z" color="#14d70e"/>
<path d="M350.4 1416.4l9.7 -4.3l9.6 0.8l-9.7 4.3z" color="#1dd800"/>
<path d="M360.1 1412.1l9.7 -4.1l9.6 0.7l-9.7 4.2z" color="#34da00"/>
<path d="M369.9 1408l9.7 -4l9.6 0.7l-9.7 4z" color="#4adb00"/>
<path d="M379.6 1404l9.7 -3.8l9.6 0.7l-9.7 3.9z" color="#60dc00"/>
<path d="M389.3 1400.2l9.7 -3.7l9.6 0.6l-9.7 3.8z" color="#75dd00"/>
<path d="M399.1 1396.5l9.7 -3.6l9.5 0.6l-9.7 3.6z" color="#8adf00"/>
<path d="M408.8 1392.9l9.7 -3.4l9.5 0.5l-9.7 3.5z" color="#9fe000"/>
<path d="M418.6 1389.5l9.7 -3.3l9.5 0.5l-9.7 3.4z" color="#b5e100"/>
<path d="M428.3 1386.2l9.7 -3.2l9.5 0.4l-9.7 3.2z" color="#cae200"/>
<path d="M438 1383l9.7 -3l9.5 0.4l-9.7 3.1z" color="#dfe300"/>
<path d="M447.8 1379.9l9.7 -2.9l9.5 0.3l-9.7 3z" color="#f1e000"/>
<path d="M204.4 1488.9l9.7 -6.1l9.7 1.2l-9.7 6.1z" color="#004df6"/>
<path d="M214.1 1482.8l9.7 -6l9.7 1.2l-9.7 6z" color="#0075ed"/>
<path d="M223.8 1476.8l9.7 -5.8l9.7 1.1l-9.7 5.9z" color="#009be2"/>
<path d="M233.6 1470.9l9.7 -5.7l9.7 1.1l-9.7 5.7z" color="#00b3c6"/>
<path d="M243.3 1465.2l9.7 -5.6l9.7 1.1l-9.7 5.6z" color="#00c8a8"/>
<path d="M253.1 1459.7l9.7 -5.4l9.7 1.1l-9.7 5.5z" color="#00cb8d"/>
<path d="M262.8 1454.2l9.7 -5.3l9.7 1l-9.7 5.3z" color="#00cc7d"/>
<path d="M272.6 1448.9l9.7 -5.2l9.7 1l-9.7 5.2z" color="#00ce6d"/>
<path d="M282.3 1443.7l9.7 -5l9.6 1l-9.7 5.1z" color="#00d05d"/>
<path d="M292.1 1438.7l9.7 -4.9l9.6 0.9l-9.7 4.9z" color="#04d14a"/>
<path d="M301.8 1433.8l9.7 -4.8l9.6 0.9l-9.7 4.8z" color="#09d338"/>
<path d="M311.6 1429.1l9.7 -4.6l9.6 0.9l-9.7 4.7z" color="#0ed525"/>
<path d="M321.3 1424.4l9.7 -4.5l9.6 0.8l-9.7 4.5z" color="#13d614"/>
<path d="M331 1419.9l9.7 -4.3l9.6 0.8l-9.7 4.4z" color="#17d802"/>
<path d="M340.8 1415.6l9.7 -4.2l9.6 0.8l-9.7 4.3z" color="#2dd900"/>
<path d="M350.5 1411.4l9.7 -4.1l9.6 0.7l-9.7 4.1z" color="#43db00"/>
<path d="M360.3 1407.3l9.7 -3.9l9.6 0.7l-9.7 4z" color="#59dc00"/>
<path d="M370 1403.4l9.7 -3.8l9.6 0.6l-9.7 3.8z" color="#6fdd00"/>
<path d="M379.8 1399.6l9.7 -3.7l9.6 0.6l-9.7 3.7z" color="#84de00"/>
<path d="M389.5 1395.9l9.7 -3.5l9.5 0.5l-9.7 3.6z" color="#99e000"/>
<path d="M399.3 1392.4l9.7 -3.4l9.5 0.5l-9.7 3.4z" color="#afe100"/>
<path d="M409 1389l9.7 -3.3l9.5 0.4l-9.7 3.3z" color="#c5e200"/>
<path d="M418.8 1385.7l9.7 -3.1l9.5 0.4l-9.7 3.2z" color="#dae300"/>
<path d="M428.5 1382.6l9.7 -3l9.5 0.3l-9.7 3z" color="#efe400"/>
<path d="M438.3 1379.6l9.7 -2.9l9.5 0.3l-9.7 2.9z" color="#f3d100"/>
<path d="M194.6 1487.7l9.8 -6.1l9.7 1.2l-9.7 6.1z" color="#0065f2"/>
<path d="M204.4 1481.6l9.8 -6l9.7 1.1l-9.7 6z" color="#008ce6"/>
<path d="M214.1 1475.7l9.8 -5.8l9.7 1.1l-9.7 5.8z" color="#00aad2"/>
<path d="M223.9 1469.8l9.8 -5.7l9.7 1.1l-9.7 5.7z" color="#00c0b4"/>
<path d="M233.6 1464.1l9.8 -5.6l9.7 1.1l-9.7 5.6z" color="#00ca95"/>
<path d="M243.4 1458.6l9.8 -5.4l9.7 1l-9.7 5.4z" color="#00cc83"/>
<path d="M253.2 1453.2l9.8 -5.3l9.7 1l-9.7 5.3z" color="#00cd73"/>
<path d="M262.9 1447.9l9.8 -5.1l9.7 1l-9.7 5.2z" color="#00cf62"/>
<path d="M272.7 1442.8l9.8 -5l9.6 1l-9.7 5z" color="#02d151"/>
<path d="M282.4 1437.8l9.8 -4.9l9.6 0.9l-9.7 4.9z" color="#07d23e"/>
<path d="M292.2 1432.9l9.8 -4.7l9.6 0.9l-9.7 4.8z" color="#0cd42c"/>
<path d="M301.9 1428.2l9.8 -4.6l9.6 0.9l-9.7 4.6z" color="#11d61a"/>
<path d="M311.7 1423.6l9.8 -4.4l9.6 0.8l-9.7 4.5z" color="#16d708"/>
<path d="M321.4 1419.1l9.8 -4.3l9.6 0.8l-9.7 4.3z" color="#25d900"/>
<path d="M331.2 1414.8l9.8 -4.2l9.6 0.7l-9.7 4.2z" color="#3cda00"/>
<path d="M340.9 1410.6l9.8 -4l9.6 0.7l-9.7 4.1z" color="#53db00"/>
<path d="M350.7 1406.6l9.8 -3.9l9.6 0.7l-9.7 3.9z" color="#69dd00"/>
<path d="M360.5 1402.7l9.8 -3.8l9.6 0.6l-9.7 3.8z" color="#7ede00"/>
<path d="M370.2 1399l9.8 -3.6l9.6 0.6l-9.7 3.7z" color="#93df00"/>
<path d="M380 1395.3l9.8 -3.5l9.5 0.5l-9.7 3.5z" color="#a9e000"/>
<path d="M389.7 1391.8l9.8 -3.3l9.5 0.5l-9.7 3.4z" color="#bfe200"/>
<path d="M399.5 1388.5l9.8 -3.2l9.5 0.4l-9.7 3.3z" color="#d5e300"/>
<path d="M409.2 1385.3l9.8 -3.1l9.5 0.4l-9.7 3.1z" color="#eae400"/>
<path d="M419 1382.2l9.8 -2.9l9.5 0.3l-9.7 3z" color="#f3d600"/>
<path d="M428.7 1379.3l9.8 -2.8l9.5 0.3l-9.7 2.9z" color="#f6c200"/>
<path d="M184.9 1486.6l9.8 -6.1l9.7 1.1l-9.8 6.1z" color="#007ceb"/>
<path d="M194.7 1480.5l9.8 -5.9l9.7 1.1l-9.8 6z" color="#00a1de"/>
<path d="M204.4 1474.5l9.8 -5.8l9.7 1.1l-9.8 5.8z" color="#00b7c0"/>
<path d="M214.2 1468.7l9.8 -5.7l9.7 1.1l-9.8 5.7z" color="#00c9a2"/>
<path d="M224 1463.1l9.8 -5.5l9.7 1l-9.8 5.6z" color="#00cb8a"/>
<path d="M233.7 1457.5l9.8 -5.4l9.7 1l-9.8 5.4z" color="#00cd79"/>
<path d="M243.5 1452.2l9.8 -5.2l9.7 1l-9.8 5.3z" color="#00ce68"/>
<path d="M253.2 1446.9l9.8 -5.1l9.7 1l-9.8 5.1z" color="#00d058"/>
<path d="M263 1441.8l9.8 -5l9.6 0.9l-9.8 5z" color="#05d245"/>
<path d="M272.8 1436.8l9.8 -4.8l9.6 0.9l-9.8 4.9z" color="#0ad332"/>
<path d="M282.5 1432l9.8 -4.7l9.6 0.9l-9.8 4.7z" color="#0fd520"/>
<path d="M292.3 1427.3l9.8 -4.6l9.6 0.8l-9.8 4.6z" color="#14d70e"/>
<path d="M302.1 1422.8l9.8 -4.4l9.6 0.8l-9.8 4.4z" color="#1ed800"/>
<path d="M311.8 1418.3l9.8 -4.3l9.6 0.8l-9.8 4.3z" color="#35da00"/>
<path d="M321.6 1414.1l9.8 -4.1l9.6 0.7l-9.8 4.2z" color="#4cdb00"/>
<path d="M331.4 1409.9l9.8 -4l9.6 0.7l-9.8 4z" color="#62dc00"/>
<path d="M341.1 1405.9l9.8 -3.9l9.6 0.6l-9.8 3.9z" color="#78de00"/>
<path d="M350.9 1402.1l9.8 -3.7l9.6 0.6l-9.8 3.8z" color="#8ddf00"/>
<path d="M360.7 1398.4l9.8 -3.6l9.6 0.5l-9.8 3.6z" color="#a3e000"/>
<path d="M370.4 1394.8l9.8 -3.4l9.5 0.5l-9.8 3.5z" color="#b9e100"/>
<path d="M380.2 1391.3l9.8 -3.3l9.5 0.5l-9.8 3.3z" color="#cfe200"/>
<path d="M389.9 1388l9.8 -3.2l9.5 0.4l-9.8 3.2z" color="#e5e300"/>
<path d="M399.7 1384.9l9.8 -3l9.5 0.4l-9.8 3.1z" color="#f2db00"/>
<path d="M409.5 1381.9l9.8 -2.9l9.5 0.3l-9.8 2.9z" color="#f5c700"/>
<path d="M419.2 1379l9.8 -2.7l9.5 0.2l-9.8 2.8z" color="#f9b300"/>
<path d="M175.2 1485.4l9.8 -6.1l9.7 1.1l-9.8 6.1z" color="#0092e4"/>
<path d="M184.9 1479.4l9.8 -5.9l9.7 1.1l-9.8 5.9z" color="#00aecc"/>
<path d="M194.7 1473.5l9.8 -5.8l9.7 1.1l-9.8 5.8z" color="#00c4ae"/>
<path d="M204.5 1467.7l9.8 -5.6l9.7 1l-9.8 5.7z" color="#00ca90"/>
<path d="M214.3 1462l9.8 -5.5l9.7 1l-9.8 5.5z" color="#00cc7f"/>
<path d="M224 1456.5l9.8 -5.4l9.7 1l-9.8 5.4z" color="#00ce6f"/>
<path d="M233.8 1451.2l9.8 -5.2l9.7 1l-9.8 5.2z" color="#00cf5e"/>
<path d="M243.6 1445.9l9.8 -5.1l9.7 0.9l-9.8 5.1z" color="#03d14c"/>
<path d="M253.4 1440.9l9.8 -4.9l9.6 0.9l-9.8 5z" color="#08d339"/>
<path d="M263.1 1435.9l9.8 -4.8l9.6 0.9l-9.8 4.8z" color="#0ed526"/>
<path d="M272.9 1431.1l9.8 -4.7l9.6 0.8l-9.8 4.7z" color="#13d614"/>
<path d="M282.7 1426.5l9.8 -4.5l9.6 0.8l-9.8 4.6z" color="#18d802"/>
<path d="M292.5 1421.9l9.8 -4.4l9.6 0.8l-9.8 4.4z" color="#2dd900"/>
<path d="M302.2 1417.6l9.8 -4.2l9.6 0.7l-9.8 4.3z" color="#45db00"/>
<path d="M312 1413.3l9.8 -4.1l9.6 0.7l-9.8 4.1z" color="#5bdc00"/>
<path d="M321.8 1409.2l9.8 -4l9.6 0.7l-9.8 4z" color="#72dd00"/>
<path d="M331.5 1405.3l9.8 -3.8l9.6 0.6l-9.8 3.9z" color="#87df00"/>
<path d="M341.3 1401.5l9.8 -3.7l9.6 0.6l-9.8 3.7z" color="#9de000"/>
<path d="M351.1 1397.8l9.8 -3.5l9.6 0.5l-9.8 3.6z" color="#b3e100"/>
<path d="M360.9 1394.3l9.8 -3.4l9.5 0.5l-9.8 3.4z" color="#c9e200"/>
<path d="M370.6 1390.9l9.8 -3.3l9.5 0.4l-9.8 3.3z" color="#dfe300"/>
<path d="M380.4 1387.6l9.8 -3.1l9.5 0.4l-9.8 3.2z" color="#f1e000"/>
<path d="M390.2 1384.5l9.8 -3l9.5 0.3l-9.8 3z" color="#f4cb00"/>
<path d="M400 1381.5l9.8 -2.8l9.5 0.3l-9.8 2.9z" color="#f8b700"/>
<path d="M409.7 1378.7l9.8 -2.7l9.5 0.2l-9.8 2.7z" color="#fba400"/>
<path d="M165.4 1484.3l9.8 -6l9.7 1.1l-9.8 6.1z" color="#00a5d9"/>
<path d="M175.2 1478.3l9.8 -5.9l9.7 1.1l-9.8 5.9z" color="#00bbba"/>
<path d="M185 1472.4l9.8 -5.8l9.7 1l-9.8 5.8z" color="#00c99c"/>
<path d="M194.8 1466.6l9.8 -5.6l9.7 1l-9.8 5.6z" color="#00cb86"/>
<path d="M204.6 1461l9.8 -5.5l9.7 1l-9.8 5.5z" color="#00cd75"/>
<path d="M214.4 1455.5l9.8 -5.3l9.7 1l-9.8 5.4z" color="#00cf64"/>
<path d="M224.1 1450.2l9.8 -5.2l9.7 0.9l-9.8 5.2z" color="#01d053"/>
<path d="M233.9 1445l9.8 -5.1l9.7 0.9l-9.8 5.1z" color="#07d240"/>
<path d="M243.7 1439.9l9.8 -4.9l9.6 0.9l-9.8 4.9z" color="#0cd42d"/>
<path d="M253.5 1435l9.8 -4.8l9.6 0.9l-9.8 4.8z" color="#11d61a"/>
<path d="M263.3 1430.3l9.8 -4.6l9.6 0.8l-9.8 4.7z" color="#16d708"/>
<path d="M273.1 1425.6l9.8 -4.5l9.6 0.8l-9.8 4.5z" color="#26d900"/>
<path d="M282.8 1421.2l9.8 -4.3l9.6 0.8l-9.8 4.4z" color="#3dda00"/>
<path d="M292.6 1416.8l9.8 -4.2l9.6 0.7l-9.8 4.2z" color="#54dc00"/>
<path d="M302.4 1412.6l9.8 -4.1l9.6 0.7l-9.8 4.1z" color="#6bdd00"/>
<path d="M312.2 1408.6l9.8 -3.9l9.6 0.6l-9.8 4z" color="#81de00"/>
<path d="M322 1404.6l9.8 -3.8l9.6 0.6l-9.8 3.8z" color="#96df00"/>
<path d="M331.7 1400.9l9.8 -3.6l9.6 0.6l-9.8 3.7z" color="#ade100"/>
<path d="M341.5 1397.2l9.8 -3.5l9.6 0.5l-9.8 3.5z" color="#c3e200"/>
<path d="M351.3 1393.8l9.8 -3.3l9.5 0.5l-9.8 3.4z" color="#dae300"/>
<path d="M361.1 1390.4l9.8 -3.2l9.5 0.4l-9.8 3.3z" color="#efe400"/>
<path d="M370.9 1387.2l9.8 -3.1l9.5 0.4l-9.8 3.1z" color="#f4d000"/>
<path d="M380.7 1384.1l9.8 -2.9l9.5 0.3l-9.8 3z" color="#f7bc00"/>
<path d="M390.4 1381.2l9.8 -2.8l9.5 0.3l-9.8 2.8z" color="#fba800"/>
<path d="M400.2 1378.4l9.8 -2.6l9.5 0.2l-9.8 2.7z" color="#fe9500"/>
<path d="M155.7 1483.2l9.8 -6l9.7 1.1l-9.8 6z" color="#00b2c7"/>
<path d="M165.5 1477.2l9.8 -5.9l9.7 1.1l-9.8 5.9z" color="#00c8a9"/>
<path d="M175.3 1471.3l9.8 -5.7l9.7 1l-9.8 5.8z" color="#00cb8d"/>
<path d="M185.1 1465.6l9.8 -5.6l9.7 1l-9.8 5.6z" color="#00cc7c"/>
<path d="M194.9 1460l9.8 -5.5l9.7 1l-9.8 5.5z" color="#00ce6b"/>
<path d="M204.7 1454.5l9.8 -5.3l9.7 1l-9.8 5.3z" color="#00d05a"/>
<path d="M214.5 1449.2l9.8 -5.2l9.7 0.9l-9.8 5.2z" color="#05d247"/>
<path d="M224.3 1444.1l9.8 -5l9.7 0.9l-9.8 5.1z" color="#0ad334"/>
<path d="M234.1 1439l9.8 -4.9l9.6 0.9l-9.8 4.9z" color="#0fd521"/>
<path d="M243.8 1434.2l9.8 -4.7l9.6 0.8l-9.8 4.8z" color="#14d70e"/>
<path d="M253.6 1429.4l9.8 -4.6l9.6 0.8l-9.8 4.6z" color="#1dd800"/>
<path d="M263.4 1424.8l9.8 -4.4l9.6 0.8l-9.8 4.5z" color="#35da00"/>
<path d="M273.2 1420.4l9.8 -4.3l9.6 0.7l-9.8 4.3z" color="#4ddb00"/>
<path d="M283 1416.1l9.8 -4.2l9.6 0.7l-9.8 4.2z" color="#64dc00"/>
<path d="M292.8 1411.9l9.8 -4l9.6 0.7l-9.8 4.1z" color="#7ade00"/>
<path d="M302.6 1407.9l9.8 -3.9l9.6 0.6l-9.8 3.9z" color="#90df00"/>
<path d="M312.4 1404l9.8 -3.7l9.6 0.6l-9.8 3.8z" color="#a6e000"/>
<path d="M322.2 1400.3l9.8 -3.6l9.6 0.5l-9.8 3.6z" color="#bde100"/>
<path d="M332 1396.7l9.8 -3.4l9.6 0.5l-9.8 3.5z" color="#d4e300"/>
<path d="M341.8 1393.3l9.8 -3.3l9.5 0.4l-9.8 3.3z" color="#eae400"/>
<path d="M351.5 1390l9.8 -3.2l9.5 0.4l-9.8 3.2z" color="#f3d500"/>
<path d="M361.3 1386.8l9.8 -3l9.5 0.3l-9.8 3.1z" color="#f6c100"/>
<path d="M371.1 1383.8l9.8 -2.9l9.5 0.3l-9.8 2.9z" color="#faad00"/>
<path d="M380.9 1380.9l9.8 -2.7l9.5 0.2l-9.8 2.8z" color="#fd9900"/>
<path d="M390.7 1378.2l9.8 -2.6l9.5 0.2l-9.8 2.6z" color="#ff8300"/>
<path d="M146 1482.2l9.8 -6l9.7 1.1l-9.8 6z" color="#00beb5"/>
<path d="M155.8 1476.2l9.8 -5.9l9.7 1l-9.8 5.9z" color="#00ca96"/>
<path d="M165.6 1470.3l9.8 -5.7l9.7 1l-9.8 5.7z" color="#00cc83"/>
<path d="M175.4 1464.6l9.8 -5.6l9.7 1l-9.8 5.6z" color="#00cd72"/>
<path d="M185.2 1459l9.8 -5.4l9.7 1l-9.8 5.5z" color="#00cf61"/>
<path d="M195 1453.6l9.8 -5.3l9.7 0.9l-9.8 5.3z" color="#03d14f"/>
<path d="M204.8 1448.3l9.8 -5.1l9.7 0.9l-9.8 5.2z" color="#08d33b"/>
<path d="M214.6 1443.2l9.8 -5l9.7 0.9l-9.8 5z" color="#0dd428"/>
<path d="M224.4 1438.2l9.8 -4.8l9.6 0.9l-9.8 4.9z" color="#12d615"/>
<path d="M234.2 1433.3l9.8 -4.7l9.6 0.8l-9.8 4.7z" color="#17d802"/>
<path d="M244 1428.6l9.8 -4.6l9.6 0.8l-9.8 4.6z" color="#2dd900"/>
<path d="M253.8 1424l9.8 -4.4l9.6 0.8l-9.8 4.4z" color="#45db00"/>
<path d="M263.6 1419.6l9.8 -4.3l9.6 0.7l-9.8 4.3z" color="#5cdc00"/>
<path d="M273.4 1415.4l9.8 -4.1l9.6 0.7l-9.8 4.2z" color="#73dd00"/>
<path d="M283.2 1411.2l9.8 -4l9.6 0.6l-9.8 4z" color="#89df00"/>
<path d="M293 1407.3l9.8 -3.8l9.6 0.6l-9.8 3.9z" color="#9fe000"/>
<path d="M302.8 1403.4l9.8 -3.7l9.6 0.6l-9.8 3.7z" color="#b7e100"/>
<path d="M312.6 1399.7l9.8 -3.5l9.6 0.5l-9.8 3.6z" color="#cde200"/>
<path d="M322.4 1396.2l9.8 -3.4l9.6 0.5l-9.8 3.4z" color="#e4e300"/>
<path d="M332.2 1392.8l9.8 -3.3l9.5 0.4l-9.8 3.3z" color="#f2db00"/>
<path d="M342 1389.5l9.8 -3.1l9.5 0.4l-9.8 3.2z" color="#f5c600"/>
<path d="M351.8 1386.4l9.8 -3l9.5 0.3l-9.8 3z" color="#f9b100"/>
<path d="M361.6 1383.5l9.8 -2.8l9.5 0.3l-9.8 2.9z" color="#fd9d00"/>
<path d="M371.4 1380.7l9.8 -2.7l9.5 0.2l-9.8 2.7z" color="#ff8800"/>
<path d="M381.2 1378l9.8 -2.5l9.5 0.2l-9.8 2.6z" color="#ff7000"/>
<path d="M136.3 1481.1l9.8 -6l9.7 1l-9.8 6z" color="#00c8a3"/>
<path d="M146.1 1475.1l9.8 -5.8l9.7 1l-9.8 5.9z" color="#00cb8a"/>
<path d="M155.9 1469.3l9.8 -5.7l9.7 1l-9.8 5.7z" color="#00cd79"/>
<path d="M165.7 1463.6l9.8 -5.6l9.7 1l-9.8 5.6z" color="#00ce67"/>
<path d="M175.5 1458l9.8 -5.4l9.7 0.9l-9.8 5.4z" color="#00d056"/>
<path d="M185.3 1452.6l9.8 -5.3l9.7 0.9l-9.8 5.3z" color="#06d242"/>
<path d="M195.1 1447.4l9.8 -5.1l9.7 0.9l-9.8 5.1z" color="#0bd42f"/>
<path d="M204.9 1442.3l9.8 -5l9.7 0.9l-9.8 5z" color="#10d51c"/>
<path d="M214.7 1437.3l9.8 -4.8l9.6 0.8l-9.8 4.8z" color="#16d709"/>
<path d="M224.6 1432.5l9.8 -4.7l9.6 0.8l-9.8 4.7z" color="#25d900"/>
<path d="M234.4 1427.8l9.8 -4.5l9.6 0.8l-9.8 4.6z" color="#3dda00"/>
<path d="M244.2 1423.3l9.8 -4.4l9.6 0.7l-9.8 4.4z" color="#55dc00"/>
<path d="M254 1418.9l9.8 -4.2l9.6 0.7l-9.8 4.3z" color="#6cdd00"/>
<path d="M263.8 1414.7l9.8 -4.1l9.6 0.7l-9.8 4.1z" color="#83de00"/>
<path d="M273.6 1410.6l9.8 -3.9l9.6 0.6l-9.8 4z" color="#99e000"/>
<path d="M283.4 1406.6l9.8 -3.8l9.6 0.6l-9.8 3.8z" color="#b0e100"/>
<path d="M293.2 1402.9l9.8 -3.6l9.6 0.5l-9.8 3.7z" color="#c7e200"/>
<path d="M303 1399.2l9.8 -3.5l9.6 0.5l-9.8 3.5z" color="#dee300"/>
<path d="M312.8 1395.7l9.8 -3.4l9.6 0.4l-9.8 3.4z" color="#f1e000"/>
<path d="M322.6 1392.4l9.8 -3.2l9.5 0.4l-9.8 3.3z" color="#f4cb00"/>
<path d="M332.5 1389.1l9.8 -3.1l9.5 0.4l-9.8 3.1z" color="#f8b600"/>
<path d="M342.3 1386.1l9.8 -2.9l9.5 0.3l-9.8 3z" color="#fca200"/>
<path d="M352.1 1383.2l9.8 -2.8l9.5 0.3l-9.8 2.8z" color="#ff8e00"/>
<path d="M361.9 1380.4l9.8 -2.6l9.5 0.2l-9.8 2.7z" color="#ff7500"/>
<path d="M371.7 1377.8l9.8 -2.5l9.5 0.1l-9.8 2.5z" color="#ff5d00"/>
<path d="M126.5 1480.1l9.8 -6l9.7 1l-9.8 6z" color="#00ca92"/>
<path d="M136.4 1474.1l9.8 -5.8l9.7 1l-9.8 5.8z" color="#00cc80"/>
<path d="M146.2 1468.3l9.8 -5.7l9.7 1l-9.8 5.7z" color="#00ce6e"/>
<path d="M156 1462.6l9.8 -5.5l9.7 0.9l-9.8 5.6z" color="#00cf5d"/>
<path d="M165.8 1457.1l9.8 -5.4l9.7 0.9l-9.8 5.4z" color="#04d14a"/>
<path d="M175.6 1451.7l9.8 -5.2l9.7 0.9l-9.8 5.3z" color="#09d336"/>
<path d="M185.5 1446.5l9.8 -5.1l9.7 0.9l-9.8 5.1z" color="#0fd523"/>
<path d="M195.3 1441.4l9.8 -4.9l9.7 0.8l-9.8 5z" color="#14d710"/>
<path d="M205.1 1436.5l9.8 -4.8l9.6 0.8l-9.8 4.8z" color="#1cd800"/>
<path d="M214.9 1431.7l9.8 -4.6l9.6 0.8l-9.8 4.7z" color="#35da00"/>
<path d="M224.7 1427l9.8 -4.5l9.6 0.7l-9.8 4.5z" color="#4ddb00"/>
<path d="M234.5 1422.5l9.8 -4.3l9.6 0.7l-9.8 4.4z" color="#64dc00"/>
<path d="M244.4 1418.2l9.8 -4.2l9.6 0.7l-9.8 4.2z" color="#7bde00"/>
<path d="M254.2 1414l9.8 -4l9.6 0.6l-9.8 4.1z" color="#92df00"/>
<path d="M264 1409.9l9.8 -3.9l9.6 0.6l-9.8 3.9z" color="#a9e000"/>
<path d="M273.8 1406l9.8 -3.8l9.6 0.6l-9.8 3.8z" color="#c0e200"/>
<path d="M283.6 1402.3l9.8 -3.6l9.6 0.5l-9.8 3.6z" color="#d7e300"/>
<path d="M293.5 1398.7l9.8 -3.5l9.6 0.5l-9.8 3.5z" color="#eee400"/>
<path d="M303.3 1395.2l9.8 -3.3l9.6 0.4l-9.8 3.4z" color="#f4d000"/>
<path d="M313.1 1391.9l9.8 -3.2l9.5 0.4l-9.8 3.2z" color="#f7bb00"/>
<path d="M322.9 1388.8l9.8 -3l9.5 0.3l-9.8 3.1z" color="#fba700"/>
<path d="M332.7 1385.8l9.8 -2.9l9.5 0.3l-9.8 2.9z" color="#ff9300"/>
<path d="M342.5 1382.9l9.8 -2.7l9.5 0.2l-9.8 2.8z" color="#ff7a00"/>
<path d="M352.4 1380.2l9.8 -2.6l9.5 0.2l-9.8 2.6z" color="#ff6200"/>
<path d="M362.2 1377.6l9.8 -2.4l9.5 0.1l-9.8 2.5z" color="#ff4a00"/>
<path d="M116.8 1479.1l9.8 -6l9.7 1l-9.8 6z" color="#00cb87"/>
<path d="M126.7 1473.1l9.8 -5.8l9.7 1l-9.8 5.8z" color="#00cd76"/>
<path d="M136.5 1467.3l9.8 -5.7l9.7 0.9l-9.8 5.7z" color="#00cf64"/>
<path d="M146.3 1461.7l9.8 -5.5l9.7 0.9l-9.8 5.5z" color="#02d152"/>
<path d="M156.1 1456.2l9.8 -5.4l9.7 0.9l-9.8 5.4z" color="#07d23e"/>
<path d="M166 1450.8l9.8 -5.2l9.7 0.9l-9.8 5.2z" color="#0cd42a"/>
<path d="M175.8 1445.6l9.8 -5.1l9.7 0.8l-9.8 5.1z" color="#12d617"/>
<path d="M185.6 1440.5l9.8 -4.9l9.7 0.8l-9.8 4.9z" color="#17d804"/>
<path d="M195.4 1435.6l9.8 -4.8l9.6 0.8l-9.8 4.8z" color="#2cd900"/>
<path d="M205.3 1430.9l9.8 -4.6l9.6 0.8l-9.8 4.6z" color="#44db00"/>
<path d="M215.1 1426.3l9.8 -4.5l9.6 0.7l-9.8 4.5z" color="#5cdc00"/>
<path d="M224.9 1421.8l9.8 -4.3l9.6 0.7l-9.8 4.3z" color="#74dd00"/>
<path d="M234.7 1417.5l9.8 -4.2l9.6 0.7l-9.8 4.2z" color="#8bdf00"/>
<path d="M244.6 1413.3l9.8 -4l9.6 0.6l-9.8 4z" color="#a1e000"/>
<path d="M254.4 1409.3l9.8 -3.9l9.6 0.6l-9.8 3.9z" color="#b9e100"/>
<path d="M264.2 1405.5l9.8 -3.7l9.6 0.5l-9.8 3.8z" color="#d1e200"/>
<path d="M274.1 1401.8l9.8 -3.6l9.6 0.5l-9.8 3.6z" color="#e8e400"/>
<path d="M283.9 1398.2l9.8 -3.4l9.6 0.5l-9.8 3.5z" color="#f2d600"/>
<path d="M293.7 1394.8l9.8 -3.3l9.6 0.4l-9.8 3.3z" color="#f6c100"/>
<path d="M303.5 1391.5l9.8 -3.1l9.5 0.4l-9.8 3.2z" color="#faac00"/>
<path d="M313.4 1388.4l9.8 -3l9.5 0.3l-9.8 3z" color="#fe9700"/>
<path d="M323.2 1385.4l9.8 -2.8l9.5 0.3l-9.8 2.9z" color="#ff8000"/>
<path d="M333 1382.6l9.8 -2.7l9.5 0.2l-9.8 2.7z" color="#ff6700"/>
<path d="M342.8 1380l9.8 -2.5l9.5 0.2l-9.8 2.6z" color="#ff4f00"/>
<path d="M352.7 1377.5l9.8 -2.4l9.5 0.1l-9.8 2.4z" color="#ff3700"/>
<path d="M107.1 1478.1l9.8 -5.9l9.7 1l-9.8 6z" color="#00cc7d"/>
<path d="M116.9 1472.2l9.8 -5.8l9.7 1l-9.8 5.8z" color="#00ce6b"/>
<path d="M126.8 1466.4l9.8 -5.6l9.7 0.9l-9.8 5.7z" color="#00d05a"/>
<path d="M136.6 1460.7l9.8 -5.5l9.7 0.9l-9.8 5.5z" color="#05d246"/>
<path d="M146.4 1455.3l9.8 -5.3l9.7 0.9l-9.8 5.4z" color="#0ad332"/>
<path d="M156.3 1449.9l9.8 -5.2l9.7 0.9l-9.8 5.2z" color="#10d51e"/>
<path d="M166.1 1444.7l9.8 -5l9.7 0.8l-9.8 5.1z" color="#15d70b"/>
<path d="M176 1439.7l9.8 -4.9l9.7 0.8l-9.8 4.9z" color="#23d900"/>
<path d="M185.8 1434.8l9.8 -4.7l9.6 0.8l-9.8 4.8z" color="#3cda00"/>
<path d="M195.6 1430.1l9.8 -4.6l9.6 0.7l-9.8 4.6z" color="#54dc00"/>
<path d="M205.5 1425.5l9.8 -4.4l9.6 0.7l-9.8 4.5z" color="#6cdd00"/>
<path d="M215.3 1421.1l9.8 -4.3l9.6 0.7l-9.8 4.3z" color="#83de00"/>
<path d="M225.1 1416.8l9.8 -4.1l9.6 0.6l-9.8 4.2z" color="#9ae000"/>
<path d="M235 1412.7l9.8 -4l9.6 0.6l-9.8 4z" color="#b2e100"/>
<path d="M244.8 1408.7l9.8 -3.8l9.6 0.6l-9.8 3.9z" color="#cae200"/>
<path d="M254.6 1404.9l9.8 -3.7l9.6 0.5l-9.8 3.7z" color="#e1e300"/>
<path d="M264.5 1401.2l9.8 -3.5l9.6 0.5l-9.8 3.6z" color="#f1dc00"/>
<path d="M274.3 1397.7l9.8 -3.4l9.6 0.4l-9.8 3.4z" color="#f5c600"/>
<path d="M284.1 1394.4l9.8 -3.2l9.6 0.4l-9.8 3.3z" color="#f9b100"/>
<path d="M294 1391.1l9.8 -3.1l9.5 0.3l-9.8 3.1z" color="#fd9c00"/>
<path d="M303.8 1388.1l9.8 -2.9l9.5 0.3l-9.8 3z" color="#ff8600"/>
<path d="M313.7 1385.2l9.8 -2.8l9.5 0.2l-9.8 2.8z" color="#ff6c00"/>
<path d="M323.5 1382.4l9.8 -2.6l9.5 0.2l-9.8 2.7z" color="#ff5400"/>
<path d="M333.3 1379.8l9.8 -2.5l9.5 0.1l-9.8 2.5z" color="#ff3c00"/>
<path d="M343.2 1377.3l9.8 -2.3l9.5 0.1l-9.8 2.4z" color="#ff2500"/>
</g>
<path d="M107.1 1478.1L155.7 1483.2L204.4 1488.9L253 1495L301.6 1501.7M116.9 1472.2L165.5 1477.2L214.1 1482.8L262.7 1488.8L311.3 1495.4M126.8 1466.4L175.3 1471.3L223.8 1476.8L272.4 1482.7L320.9 1489.2M136.6 1460.7L185.1 1465.6L233.6 1470.9L282.1 1476.8L330.6 1483.1M146.4 1455.3L194.9 1460L243.3 1465.2L291.8 1471L340.2 1477.2M156.3 1449.9L204.7 1454.5L253.1 1459.7L301.5 1465.3L349.9 1471.4M166.1 1444.7L214.5 1449.2L262.8 1454.2L311.2 1459.7L359.5 1465.7M176 1439.7L224.3 1444.1L272.6 1448.9L320.9 1454.3L369.2 1460.1M185.8 1434.8L234.1 1439L282.3 1443.7L330.6 1448.9L378.8 1454.6M195.6 1430.1L243.8 1434.2L292.1 1438.7L340.3 1443.8L388.5 1449.3M205.5 1425.5L253.6 1429.4L301.8 1433.8L350 1438.7L398.2 1444.1M215.3 1421.1L263.4 1424.8L311.6 1429.1L359.7 1433.8L407.8 1439M225.1 1416.8L273.2 1420.4L321.3 1424.4L369.4 1429L417.5 1434M235 1412.7L283 1416.1L331 1419.9L379.1 1424.3L427.1 1429.2M244.8 1408.7L292.8 1411.9L340.8 1415.6L388.8 1419.8L436.8 1424.5M254.6 1404.9L302.6 1407.9L350.5 1411.4L398.5 1415.4L446.4 1419.9M264.5 1401.2L312.4 1404L360.3 1407.3L408.2 1411.1L456.1 1415.4M274.3 1397.7L322.2 1400.3L370 1403.4L417.9 1406.9L465.8 1411M284.1 1394.4L332 1396.7L379.8 1399.6L427.6 1402.9L475.4 1406.8M294 1391.1L341.8 1393.3L389.5 1395.9L437.3 1399L485.1 1402.7M303.8 1388.1L351.5 1390L399.3 1392.4L447 1395.3L494.7 1398.7M313.7 1385.2L361.3 1386.8L409 1389L456.7 1391.6L504.4 1394.8M323.5 1382.4L371.1 1383.8L418.8 1385.7L466.4 1388.1L514 1391M333.3 1379.8L380.9 1380.9L428.5 1382.6L476.1 1384.7L523.7 1387.4M343.2 1377.3L390.7 1378.2L438.3 1379.6L485.8 1381.5L533.3 1383.9M353 1375L400.5 1375.6L448 1376.8L495.5 1378.4L543 1380.5M107.1 1478.1L127.6 1465.9L148.1 1454.4L168.6 1443.5L189.1 1433.2L209.6 1423.7L230.1 1414.8L250.5 1406.5L271 1398.9L291.5 1391.9L312 1385.6L332.5 1380L353 1375M116.8 1479.1L137.3 1466.9L157.8 1455.3L178.2 1444.3L198.7 1434L219.2 1424.4L239.7 1415.4L260.1 1407.1L280.6 1399.4L301.1 1392.3L321.6 1385.9L342 1380.2L362.5 1375.1M126.5 1480.1L147 1467.8L167.5 1456.2L187.9 1445.2L208.4 1434.8L228.8 1425.1L249.3 1416.1L269.7 1407.7L290.2 1399.9L310.6 1392.7L331.1 1386.2L351.5 1380.4L372 1375.2M136.3 1481.1L156.7 1468.8L177.1 1457.1L197.6 1446.1L218 1435.7L238.5 1425.9L258.9 1416.8L279.3 1408.3L299.8 1400.4L320.2 1393.2L340.6 1386.6L361.1 1380.6L381.5 1375.3M146 1482.2L166.4 1469.8L186.8 1458.1L207.2 1447L227.7 1436.5L248.1 1426.7L268.5 1417.5L288.9 1408.9L309.3 1401L329.8 1393.6L350.2 1386.9L370.6 1380.9L391 1375.5M155.7 1483.2L176.1 1470.9L196.5 1459.1L216.9 1447.9L237.3 1437.4L257.7 1427.5L278.1 1418.2L298.5 1409.6L318.9 1401.5L339.3 1394.1L359.7 1387.3L380.1 1381.2L400.5 1375.6M165.4 1484.3L185.8 1471.9L206.2 1460.1L226.6 1448.9L247 1438.3L267.3 1428.3L287.7 1419L308.1 1410.2L328.5 1402.1L348.9 1394.6L369.2 1387.7L389.6 1381.5L410 1375.8M175.2 1485.4L195.5 1473L215.9 1461.1L236.3 1449.8L256.6 1439.2L277 1429.2L297.3 1419.7L317.7 1410.9L338.1 1402.7L358.4 1395.1L378.8 1388.1L399.1 1381.8L419.5 1376M184.9 1486.6L205.2 1474.1L225.6 1462.1L245.9 1450.8L266.3 1440.1L286.6 1430L307 1420.5L327.3 1411.6L347.6 1403.3L368 1395.7L388.3 1388.6L408.7 1382.1L429 1376.2M194.6 1487.7L214.9 1475.2L235.3 1463.2L255.6 1451.8L275.9 1441.1L296.2 1430.9L316.6 1421.3L336.9 1412.4L357.2 1404L377.5 1396.2L397.9 1389L418.2 1382.5L438.5 1376.5M204.4 1488.9L224.7 1476.3L245 1464.3L265.3 1452.9L285.6 1442L305.9 1431.8L326.2 1422.2L346.5 1413.1L366.8 1404.7L387.1 1396.8L407.4 1389.5L427.7 1382.8L448 1376.8M214.1 1490.1L234.4 1477.4L254.6 1465.4L274.9 1453.9L295.2 1443L315.5 1432.7L335.8 1423L356.1 1413.9L376.4 1405.4L396.6 1397.4L416.9 1390L437.2 1383.2L457.5 1377M223.8 1491.3L244.1 1478.6L264.3 1466.5L284.6 1455L304.9 1444.1L325.1 1433.7L345.4 1423.9L365.7 1414.7L385.9 1406.1L406.2 1398L426.5 1390.5L446.7 1383.7L467 1377.3M233.5 1492.5L253.8 1479.8L274 1467.7L294.3 1456.1L314.5 1445.1L334.8 1434.7L355 1424.8L375.3 1415.5L395.5 1406.8L415.8 1398.7L436 1391.1L456.3 1384.1L476.5 1377.7M243.2 1493.8L263.5 1481L283.7 1468.8L303.9 1457.2L324.2 1446.1L344.4 1435.6L364.6 1425.7L384.9 1416.3L405.1 1407.5L425.3 1399.3L445.5 1391.6L465.8 1384.5L486 1378M253 1495L273.2 1482.2L293.4 1470L313.6 1458.3L333.8 1447.2L354 1436.6L374.2 1426.6L394.4 1417.2L414.7 1408.3L434.9 1400L455.1 1392.2L475.3 1385L495.5 1378.4M262.7 1496.3L282.9 1483.5L303.1 1471.2L323.3 1459.5L343.5 1448.3L363.7 1437.7L383.9 1427.6L404 1418.1L424.2 1409.1L444.4 1400.7L464.6 1392.8L484.8 1385.5L505 1378.8M272.4 1497.7L292.6 1484.8L312.8 1472.4L332.9 1460.6L353.1 1449.4L373.3 1438.7L393.5 1428.6L413.6 1419L433.8 1409.9L454 1401.4L474.2 1393.4L494.3 1386L514.5 1379.2M282.2 1499L302.3 1486.1L322.5 1473.7L342.6 1461.8L362.8 1450.5L382.9 1439.8L403.1 1429.6L423.2 1419.9L443.4 1410.7L463.5 1402.1L483.7 1394.1L503.8 1386.6L524 1379.6M291.9 1500.3L312 1487.4L332.1 1474.9L352.3 1463L372.4 1451.7L392.6 1440.9L412.7 1430.6L432.8 1420.8L453 1411.6L473.1 1402.9L493.2 1394.7L513.4 1387.1L533.5 1380M301.6 1501.7L321.7 1488.7L341.8 1476.2L362 1464.3L382.1 1452.9L402.2 1442L422.3 1431.6L442.4 1421.8L462.5 1412.5L482.6 1403.7L502.8 1395.4L522.9 1387.7L543 1380.5" fill="none" stroke="#000" stroke-opacity="0.7" stroke-width="1.4"/>
<line x1="353" y1="1646.4" x2="353" y2="1374" stroke="#3a3a3a" stroke-width="1.0"/>
<line x1="93.2" y1="1307" x2="353" y2="1374" stroke="#1c1c1c" stroke-width="1.3"/>
<line x1="353" y1="1374" x2="557.4" y2="1290.3" stroke="#1c1c1c" stroke-width="1.3"/>
<text x="66.5" y="1352.3" font-size="20.5" text-anchor="middle" fill="#111">60</text>
<text x="67.5" y="1453.2" font-size="20.5" text-anchor="middle" fill="#111">50</text>
<text x="68.5" y="1553.6" font-size="20.5" text-anchor="middle" fill="#111">40</text>
<text x="78.3" y="1599.3" font-size="20.5" text-anchor="middle" fill="#111">60</text>
<text x="139.8" y="1613.9" font-size="20.5" text-anchor="middle" fill="#111">70</text>
<text x="200.8" y="1628.3" font-size="20.5" text-anchor="middle" fill="#111">80</text>
<text x="261.5" y="1642.8" font-size="20.5" text-anchor="middle" fill="#111">90</text>
<text x="319.8" y="1655.9" font-size="20.5" text-anchor="middle" fill="#111">100</text>
<text x="398.9" y="1655.5" font-size="20.5" text-anchor="middle" fill="#111">23.2</text>
<text x="446.6" y="1637.4" font-size="20.5" text-anchor="middle" fill="#111">26.5</text>
<text x="495.7" y="1617.9" font-size="20.5" text-anchor="middle" fill="#111">29.8</text>
<text x="542" y="1599.5" font-size="20.5" text-anchor="middle" fill="#111">33.1</text>
<text x="592.4" y="1577.7" font-size="20.5" text-anchor="middle" fill="#111">36.4</text>
<text x="39.5" y="1431" font-size="19" fill="#2c3a52" stroke="#2c3a52" stroke-width="0.15" text-anchor="middle" transform="rotate(-90 39.5 1431)" textLength="88" lengthAdjust="spacingAndGlyphs">&#945;<tspan font-size="13" dy="2">Si(cm)</tspan><tspan dy="-2"> , %</tspan></text>
<text x="53" y="1716" font-size="11" text-anchor="middle" fill="#46608a">Y</text>
<path d="M884 1667.7L893.5 1650.2L920 1601L944.7 1554.5L982.4 1496L1012.3 1440.8L1044.7 1384.9L1075.9 1334.2L1118.8 1270.6L1156.5 1214.7L1165.6 1214.7L1165.6 1667.7z" fill="#c4c4c4"/>
<clipPath id="sh1214"><path d="M884 1667.7L893.5 1650.2L920 1601L944.7 1554.5L982.4 1496L1012.3 1440.8L1044.7 1384.9L1075.9 1334.2L1118.8 1270.6L1156.5 1214.7L1165.6 1214.7L1165.6 1667.7z"/></clipPath>
<line x1="736.7" y1="1214.6" x2="736.7" y2="1668" stroke="#868686" stroke-width="1.5"/>
<line x1="675.4" y1="1271.3" x2="1165.6" y2="1271.3" stroke="#262626" stroke-width="1.5"/>
<line x1="797.9" y1="1214.6" x2="797.9" y2="1668" stroke="#262626" stroke-width="1.5"/>
<line x1="675.4" y1="1327.9" x2="1165.6" y2="1327.9" stroke="#262626" stroke-width="1.5"/>
<line x1="859.2" y1="1214.6" x2="859.2" y2="1668" stroke="#3c3c3c" stroke-width="1.5"/>
<line x1="675.4" y1="1384.6" x2="1165.6" y2="1384.6" stroke="#262626" stroke-width="1.5"/>
<line x1="920.5" y1="1214.6" x2="920.5" y2="1668" stroke="#262626" stroke-width="1.5"/>
<line x1="675.4" y1="1441.3" x2="1165.6" y2="1441.3" stroke="#262626" stroke-width="1.5"/>
<line x1="981.8" y1="1214.6" x2="981.8" y2="1668" stroke="#6a6a6a" stroke-width="1.5"/>
<line x1="675.4" y1="1498" x2="1165.6" y2="1498" stroke="#262626" stroke-width="1.5"/>
<line x1="1043" y1="1214.6" x2="1043" y2="1668" stroke="#262626" stroke-width="1.5"/>
<line x1="675.4" y1="1554.7" x2="1165.6" y2="1554.7" stroke="#262626" stroke-width="1.5"/>
<line x1="1104.3" y1="1214.6" x2="1104.3" y2="1668" stroke="#868686" stroke-width="1.5"/>
<line x1="675.4" y1="1611.3" x2="1165.6" y2="1611.3" stroke="#262626" stroke-width="1.5"/>
<g clip-path="url(#sh1214)">
<line x1="981.8" y1="1214.6" x2="981.8" y2="1668" stroke="#d6d6d6" stroke-width="1.8"/>
<line x1="1043" y1="1214.6" x2="1043" y2="1668" stroke="#dadada" stroke-width="3.6"/>
<line x1="1104.3" y1="1214.6" x2="1104.3" y2="1668" stroke="#e2e2e2" stroke-width="2.6"/>
<line x1="1043" y1="1214.6" x2="1043" y2="1668" stroke="#4a4a4a" stroke-width="1.0"/>
<line x1="981.8" y1="1214.6" x2="981.8" y2="1668" stroke="#8a8a8a" stroke-width="0.8"/>
</g>
<line x1="675.4" y1="1214.1" x2="675.4" y2="1674" stroke="#1c1c1c" stroke-width="1.65"/>
<line x1="1165.6" y1="1214.1" x2="1165.6" y2="1674" stroke="#1c1c1c" stroke-width="1.6"/>
<line x1="669.4" y1="1214.6" x2="1166.3" y2="1214.6" stroke="#1c1c1c" stroke-width="1.7"/>
<line x1="669.4" y1="1668" x2="1166.3" y2="1668" stroke="#1c1c1c" stroke-width="2.4"/>
<line x1="675.4" y1="1660" x2="675.4" y2="1674" stroke="#1c1c1c" stroke-width="1.3"/>
<line x1="668.4" y1="1214.6" x2="685.4" y2="1214.6" stroke="#1c1c1c" stroke-width="1.3"/>
<line x1="1155.6" y1="1214.6" x2="1165.6" y2="1214.6" stroke="#1c1c1c" stroke-width="1.3"/>
<line x1="797.9" y1="1660" x2="797.9" y2="1674" stroke="#1c1c1c" stroke-width="1.3"/>
<line x1="668.4" y1="1327.9" x2="685.4" y2="1327.9" stroke="#1c1c1c" stroke-width="1.3"/>
<line x1="1155.6" y1="1327.9" x2="1165.6" y2="1327.9" stroke="#1c1c1c" stroke-width="1.3"/>
<line x1="920.5" y1="1660" x2="920.5" y2="1674" stroke="#1c1c1c" stroke-width="1.3"/>
<line x1="668.4" y1="1441.3" x2="685.4" y2="1441.3" stroke="#1c1c1c" stroke-width="1.3"/>
<line x1="1155.6" y1="1441.3" x2="1165.6" y2="1441.3" stroke="#1c1c1c" stroke-width="1.3"/>
<line x1="1043" y1="1660" x2="1043" y2="1674" stroke="#1c1c1c" stroke-width="1.3"/>
<line x1="668.4" y1="1554.7" x2="685.4" y2="1554.7" stroke="#1c1c1c" stroke-width="1.3"/>
<line x1="1155.6" y1="1554.7" x2="1165.6" y2="1554.7" stroke="#1c1c1c" stroke-width="1.3"/>
<line x1="1165.6" y1="1660" x2="1165.6" y2="1674" stroke="#1c1c1c" stroke-width="1.3"/>
<line x1="668.4" y1="1668" x2="685.4" y2="1668" stroke="#1c1c1c" stroke-width="1.3"/>
<line x1="1155.6" y1="1668" x2="1165.6" y2="1668" stroke="#1c1c1c" stroke-width="1.3"/>
<clipPath id="cl1214"><rect x="675.4" y="1214.6" width="490.2" height="453.4"/></clipPath>
<g clip-path="url(#cl1214)">
<path d="M674.5 1327L740 1213" fill="none" stroke="#2e2e2e" stroke-width="1.05" stroke-linejoin="round"/>
<path d="M674.6 1562L682.1 1547.5L689.7 1532.9L697.2 1518.4L704.8 1503.8L712.4 1489.3L719.9 1474.8L727.5 1460.2L735.2 1445.7L742.8 1431.1L750.4 1416.6L758.1 1402L765.7 1387.5L773.4 1373L781.1 1358.4L788.8 1343.9L796.5 1329.3L804.3 1314.8L812 1300.2L819.8 1285.7L827.6 1271.2L835.3 1256.6L843.1 1242.1L851 1227.5L858.8 1213" fill="none" stroke="#2e2e2e" stroke-width="1.05" stroke-linejoin="round"/>
<path d="M752.8 1669.5L761.3 1650.5L770 1631.5L778.8 1612.4L787.8 1593.4L796.9 1574.4L806.2 1555.4L815.6 1536.4L825.2 1517.3L834.9 1498.3L844.8 1479.3L854.9 1460.3L865.1 1441.2L875.4 1422.2L885.9 1403.2L896.6 1384.2L907.4 1365.2L918.4 1346.1L929.5 1327.1L940.8 1308.1L952.2 1289.1L963.8 1270.1L975.5 1251L987.4 1232L999.5 1213" fill="none" stroke="#2e2e2e" stroke-width="1.05" stroke-linejoin="round"/>
<path d="M883.3 1669.5L893.4 1650.5L903.5 1631.5L913.8 1612.4L924.2 1593.4L934.7 1574.4L945.4 1555.4L956.1 1536.4L967 1517.3L978 1498.3L989.1 1479.3L1000.3 1460.3L1011.6 1441.2L1023.1 1422.2L1034.7 1403.2L1046.4 1384.2L1058.2 1365.2L1070.1 1346.1L1082.1 1327.1L1094.3 1308.1L1106.5 1289.1L1118.9 1270.1L1131.4 1251L1144 1232L1156.8 1213" fill="none" stroke="#2e2e2e" stroke-width="1.05" stroke-linejoin="round"/>
<path d="M1043.7 1670.5L1048.1 1662L1052.5 1653.5L1057 1645L1061.6 1636.5L1066.2 1628L1070.9 1619.5L1075.7 1611L1080.5 1602.5L1085.4 1594L1090.4 1585.5L1095.4 1577L1100.5 1568.5L1105.7 1560L1110.9 1551.5L1116.2 1543L1121.6 1534.5L1127 1526L1132.5 1517.5L1138 1509L1143.7 1500.5L1149.4 1492L1155.1 1483.5L1160.9 1475L1166.8 1466.5" fill="none" stroke="#2e2e2e" stroke-width="1.05" stroke-linejoin="round"/>
<text x="679.5" y="1334.1" font-size="20" text-anchor="middle" textLength="19.5" lengthAdjust="spacingAndGlyphs" fill="#111">40</text>
<text x="856" y="1229.1" font-size="20" text-anchor="middle" textLength="19.5" lengthAdjust="spacingAndGlyphs" fill="#111">45</text>
<text x="767" y="1393.1" font-size="20" text-anchor="middle" textLength="19.5" lengthAdjust="spacingAndGlyphs" fill="#111">45</text>
<text x="681.5" y="1561.6" font-size="20" text-anchor="middle" textLength="19.5" lengthAdjust="spacingAndGlyphs" fill="#111">45</text>
<text x="929" y="1338.6" font-size="20" text-anchor="middle" textLength="19.5" lengthAdjust="spacingAndGlyphs" fill="#111">50</text>
<text x="837.5" y="1503.6" font-size="20" text-anchor="middle" textLength="19.5" lengthAdjust="spacingAndGlyphs" fill="#111">50</text>
<text x="750.5" y="1670.6" font-size="20" text-anchor="middle" textLength="19.5" lengthAdjust="spacingAndGlyphs" fill="#111">50</text>
<text x="1081.5" y="1332.1" font-size="20" text-anchor="middle" textLength="19.5" lengthAdjust="spacingAndGlyphs" fill="#111">55</text>
<text x="981" y="1500.6" font-size="20" text-anchor="middle" textLength="19.5" lengthAdjust="spacingAndGlyphs" fill="#111">55</text>
<text x="890" y="1666.6" font-size="20" text-anchor="middle" textLength="19.5" lengthAdjust="spacingAndGlyphs" fill="#111">55</text>
<text x="1142.2" y="1510.4" font-size="20" text-anchor="middle" textLength="19.5" lengthAdjust="spacingAndGlyphs" fill="#111">60</text>
<text x="1044" y="1671.6" font-size="20" text-anchor="middle" textLength="19.5" lengthAdjust="spacingAndGlyphs" fill="#111">60</text>
</g>
<text x="677.2" y="1695.7" font-size="20" text-anchor="middle" textLength="19.8" lengthAdjust="spacingAndGlyphs" fill="#111">60</text>
<text x="799.5" y="1695.7" font-size="20" text-anchor="middle" textLength="19.8" lengthAdjust="spacingAndGlyphs" fill="#111">70</text>
<text x="921" y="1695.7" font-size="20" text-anchor="middle" textLength="19.8" lengthAdjust="spacingAndGlyphs" fill="#111">80</text>
<text x="1044.7" y="1695.2" font-size="20" text-anchor="middle" textLength="19.8" lengthAdjust="spacingAndGlyphs" fill="#111">90</text>
<text x="1169" y="1694.7" font-size="20" text-anchor="middle" textLength="29.5" lengthAdjust="spacingAndGlyphs" fill="#111">100</text>
<text x="667.5" y="1221.2" font-size="20" text-anchor="end" textLength="35" lengthAdjust="spacingAndGlyphs" fill="#111">36.4</text>
<text x="667.5" y="1334.4" font-size="20" text-anchor="end" textLength="35" lengthAdjust="spacingAndGlyphs" fill="#111">33.1</text>
<text x="667.5" y="1447" font-size="20" text-anchor="end" textLength="35" lengthAdjust="spacingAndGlyphs" fill="#111">29.8</text>
<text x="667.5" y="1561.7" font-size="20" text-anchor="end" textLength="35" lengthAdjust="spacingAndGlyphs" fill="#111">26.5</text>
<text x="667.5" y="1674.4" font-size="20" text-anchor="end" textLength="35" lengthAdjust="spacingAndGlyphs" fill="#111">23.2</text>
<g stroke-linecap="butt">
<line x1="83.7" y1="2174.7" x2="82.5" y2="1890.4" stroke="#1c1c1c" stroke-width="1.4"/>
<line x1="290.3" y1="2098.3" x2="289.6" y2="1814.2" stroke="#1c1c1c" stroke-width="1.4"/>
<line x1="108" y1="2165.2" x2="106.8" y2="1880.9" stroke="#6e6e6e" stroke-width="1.25"/>
<line x1="321.1" y1="2105.7" x2="320.6" y2="1821.6" stroke="#6e6e6e" stroke-width="1.25"/>
<line x1="132.3" y1="2155.7" x2="131.1" y2="1871.4" stroke="#1c1c1c" stroke-width="1.4"/>
<line x1="352" y1="2113.2" x2="351.6" y2="1829" stroke="#1c1c1c" stroke-width="1.4"/>
<line x1="156.5" y1="2146.2" x2="155.5" y2="1861.9" stroke="#6e6e6e" stroke-width="1.25"/>
<line x1="382.8" y1="2120.6" x2="382.6" y2="1836.4" stroke="#6e6e6e" stroke-width="1.25"/>
<line x1="180.8" y1="2136.6" x2="179.8" y2="1852.4" stroke="#1c1c1c" stroke-width="1.4"/>
<line x1="413.6" y1="2128.1" x2="413.5" y2="1843.8" stroke="#1c1c1c" stroke-width="1.4"/>
<line x1="205.1" y1="2127.1" x2="204.1" y2="1842.9" stroke="#6e6e6e" stroke-width="1.25"/>
<line x1="444.5" y1="2135.6" x2="444.5" y2="1851.2" stroke="#6e6e6e" stroke-width="1.25"/>
<line x1="229.3" y1="2117.6" x2="228.5" y2="1833.4" stroke="#1c1c1c" stroke-width="1.4"/>
<line x1="475.3" y1="2143" x2="475.5" y2="1858.6" stroke="#1c1c1c" stroke-width="1.4"/>
<line x1="253.6" y1="2108" x2="252.8" y2="1823.9" stroke="#6e6e6e" stroke-width="1.25"/>
<line x1="506.2" y1="2150.5" x2="506.5" y2="1866" stroke="#6e6e6e" stroke-width="1.25"/>
<line x1="277.9" y1="2098.5" x2="277.2" y2="1814.4" stroke="#1c1c1c" stroke-width="1.4"/>
<line x1="537" y1="2157.9" x2="537.5" y2="1873.4" stroke="#1c1c1c" stroke-width="1.4"/>
<line x1="76.8" y1="1914.2" x2="282.4" y2="1834" stroke="#1c1c1c" stroke-width="1.35"/>
<line x1="282.4" y1="1834" x2="544" y2="1896.6" stroke="#1c1c1c" stroke-width="1.35"/>
<line x1="77.3" y1="2024" x2="282.6" y2="1943.7" stroke="#1c1c1c" stroke-width="1.35"/>
<line x1="282.6" y1="1943.7" x2="543.8" y2="2006.4" stroke="#1c1c1c" stroke-width="1.35"/>
<line x1="77.8" y1="2133.8" x2="282.9" y2="2053.3" stroke="#1c1c1c" stroke-width="1.35"/>
<line x1="282.9" y1="2053.3" x2="543.6" y2="2116.3" stroke="#1c1c1c" stroke-width="1.35"/>
<line x1="289.8" y1="1890.3" x2="537.3" y2="1949.7" stroke="#8a8a8a" stroke-width="0.85" stroke-dasharray="4 2 1.5 2"/>
<line x1="290.1" y1="2000.2" x2="537.1" y2="2059.8" stroke="#8a8a8a" stroke-width="0.85" stroke-dasharray="4 2 1.5 2"/>
<line x1="85.9" y1="2176.7" x2="283.9" y2="2098.9" stroke="#262626" stroke-width="1.25"/>
<line x1="85.9" y1="2176.7" x2="337.8" y2="2234.7" stroke="#262626" stroke-width="1.25"/>
<line x1="117.4" y1="2183.9" x2="315.4" y2="2106.5" stroke="#5e5e5e" stroke-width="0.95"/>
<line x1="110.7" y1="2166.9" x2="362.6" y2="2225.3" stroke="#5e5e5e" stroke-width="0.95"/>
<line x1="148.9" y1="2191.2" x2="346.9" y2="2114.1" stroke="#262626" stroke-width="1.25"/>
<line x1="135.4" y1="2157.2" x2="387.3" y2="2215.9" stroke="#262626" stroke-width="1.25"/>
<line x1="180.4" y1="2198.4" x2="378.3" y2="2121.7" stroke="#5e5e5e" stroke-width="0.95"/>
<line x1="160.2" y1="2147.5" x2="412" y2="2206.6" stroke="#5e5e5e" stroke-width="0.95"/>
<line x1="211.9" y1="2205.7" x2="409.8" y2="2129.3" stroke="#262626" stroke-width="1.25"/>
<line x1="184.9" y1="2137.8" x2="436.7" y2="2197.2" stroke="#262626" stroke-width="1.25"/>
<line x1="243.4" y1="2212.9" x2="441.2" y2="2136.9" stroke="#5e5e5e" stroke-width="0.95"/>
<line x1="209.7" y1="2128.1" x2="461.4" y2="2187.8" stroke="#5e5e5e" stroke-width="0.95"/>
<line x1="274.9" y1="2220.2" x2="472.7" y2="2144.5" stroke="#262626" stroke-width="1.25"/>
<line x1="234.4" y1="2118.4" x2="486.2" y2="2178.5" stroke="#262626" stroke-width="1.25"/>
<line x1="306.4" y1="2227.4" x2="504.1" y2="2152.1" stroke="#5e5e5e" stroke-width="0.95"/>
<line x1="259.2" y1="2108.7" x2="510.9" y2="2169.1" stroke="#5e5e5e" stroke-width="0.95"/>
<line x1="337.8" y1="2234.7" x2="535.6" y2="2159.7" stroke="#262626" stroke-width="1.25"/>
<line x1="283.9" y1="2098.9" x2="535.6" y2="2159.7" stroke="#262626" stroke-width="1.25"/>
<line x1="78" y1="2177" x2="76.7" y2="1892.6" stroke="#1c1c1c" stroke-width="1.9"/>
<line x1="283" y1="2096.5" x2="282.3" y2="1812.4" stroke="#1c1c1c" stroke-width="1.9"/>
<line x1="543.5" y1="2159.5" x2="544" y2="1875" stroke="#1c1c1c" stroke-width="1.6"/>
<line x1="76.7" y1="1892.6" x2="282.3" y2="1812.4" stroke="#1c1c1c" stroke-width="1.5"/>
<line x1="282.3" y1="1812.4" x2="544" y2="1875" stroke="#1c1c1c" stroke-width="1.5"/>
<line x1="78" y1="2177" x2="283" y2="2096.5" stroke="#1c1c1c" stroke-width="1.7"/>
<line x1="283" y1="2096.5" x2="543.5" y2="2159.5" stroke="#1c1c1c" stroke-width="1.7"/>
<line x1="78" y1="2177" x2="338.8" y2="2237" stroke="#1c1c1c" stroke-width="1.5"/>
<line x1="338.8" y1="2237" x2="543.5" y2="2159.5" stroke="#1c1c1c" stroke-width="1.5"/>
<line x1="76.8" y1="1914.2" x2="63.7" y2="1910.9" stroke="#1c1c1c" stroke-width="1.2"/>
<line x1="77.3" y1="2024" x2="64.2" y2="2020.8" stroke="#1c1c1c" stroke-width="1.2"/>
<line x1="77.8" y1="2133.8" x2="64.8" y2="2130.7" stroke="#1c1c1c" stroke-width="1.2"/>
<line x1="85.3" y1="2178.7" x2="73" y2="2183.5" stroke="#1c1c1c" stroke-width="1.2"/>
<line x1="344.5" y1="2234.8" x2="357.6" y2="2237.8" stroke="#1c1c1c" stroke-width="1.2"/>
<line x1="147" y1="2192.9" x2="134.8" y2="2197.7" stroke="#1c1c1c" stroke-width="1.2"/>
<line x1="393" y1="2216.5" x2="406" y2="2219.5" stroke="#1c1c1c" stroke-width="1.2"/>
<line x1="208.8" y1="2207.1" x2="196.5" y2="2211.8" stroke="#1c1c1c" stroke-width="1.2"/>
<line x1="441.5" y1="2198.1" x2="454.5" y2="2201.2" stroke="#1c1c1c" stroke-width="1.2"/>
<line x1="270.5" y1="2221.3" x2="258.2" y2="2226" stroke="#1c1c1c" stroke-width="1.2"/>
<line x1="489.9" y1="2179.8" x2="502.9" y2="2182.9" stroke="#1c1c1c" stroke-width="1.2"/>
<line x1="332.3" y1="2235.5" x2="320" y2="2240.2" stroke="#1c1c1c" stroke-width="1.2"/>
<line x1="538.4" y1="2161.4" x2="551.4" y2="2164.6" stroke="#1c1c1c" stroke-width="1.2"/>
</g>
<g stroke-width="0.6" stroke-linejoin="round" fill="currentColor" stroke="currentColor">
<path d="M276.1 2087.8l9.8 -6.1l9.7 1.9l-9.8 6.2z" color="#4f07a1"/>
<path d="M286 2081.6l9.8 -6l9.7 1.9l-9.8 6.1z" color="#4302ad"/>
<path d="M295.8 2075.6l9.8 -5.9l9.7 1.8l-9.8 6z" color="#2e03b8"/>
<path d="M305.6 2069.6l9.8 -5.8l9.7 1.8l-9.8 5.9z" color="#1506c2"/>
<path d="M315.4 2063.8l9.8 -5.7l9.7 1.7l-9.8 5.8z" color="#0715d1"/>
<path d="M325.2 2058.1l9.8 -5.6l9.7 1.7l-9.8 5.7z" color="#023aea"/>
<path d="M335 2052.5l9.8 -5.5l9.7 1.6l-9.8 5.6z" color="#0061f3"/>
<path d="M344.8 2046.9l9.8 -5.4l9.7 1.6l-9.8 5.5z" color="#0084e8"/>
<path d="M354.6 2041.5l9.8 -5.3l9.7 1.5l-9.8 5.4z" color="#00a4da"/>
<path d="M364.4 2036.2l9.8 -5.2l9.7 1.5l-9.8 5.3z" color="#00b9bd"/>
<path d="M374.2 2031l9.8 -5.1l9.7 1.4l-9.8 5.2z" color="#00c9a1"/>
<path d="M384 2025.8l9.8 -5l9.7 1.3l-9.8 5.1z" color="#00cb8b"/>
<path d="M393.8 2020.8l9.8 -4.9l9.7 1.3l-9.8 5z" color="#00cd7b"/>
<path d="M403.6 2015.9l9.8 -4.8l9.7 1.2l-9.8 4.9z" color="#00ce6b"/>
<path d="M413.4 2011.1l9.8 -4.7l9.7 1.1l-9.8 4.8z" color="#00d05c"/>
<path d="M423.2 2006.4l9.8 -4.6l9.7 1.1l-9.8 4.7z" color="#04d14b"/>
<path d="M433 2001.8l9.8 -4.5l9.7 1l-9.8 4.6z" color="#09d339"/>
<path d="M442.8 1997.3l9.8 -4.4l9.7 0.9l-9.8 4.5z" color="#0dd427"/>
<path d="M452.6 1992.8l9.8 -4.3l9.7 0.8l-9.8 4.4z" color="#12d616"/>
<path d="M462.4 1988.5l9.8 -4.2l9.6 0.8l-9.8 4.3z" color="#17d804"/>
<path d="M472.2 1984.3l9.8 -4.1l9.6 0.7l-9.8 4.2z" color="#29d900"/>
<path d="M482 1980.2l9.8 -4l9.6 0.6l-9.8 4.1z" color="#3fda00"/>
<path d="M491.8 1976.2l9.8 -3.9l9.6 0.5l-9.8 4z" color="#55dc00"/>
<path d="M501.6 1972.3l9.8 -3.8l9.6 0.4l-9.8 3.9z" color="#6bdd00"/>
<path d="M511.4 1968.5l9.8 -3.7l9.6 0.4l-9.8 3.8z" color="#80de00"/>
<path d="M266.4 2085.8l9.8 -6.1l9.7 1.9l-9.8 6.1z" color="#4704a9"/>
<path d="M276.2 2079.7l9.8 -6l9.7 1.9l-9.8 6z" color="#3701b4"/>
<path d="M286 2073.7l9.8 -5.9l9.7 1.8l-9.8 5.9z" color="#1d05bf"/>
<path d="M295.8 2067.8l9.8 -5.8l9.7 1.8l-9.8 5.8z" color="#080bca"/>
<path d="M305.6 2062.1l9.8 -5.7l9.7 1.7l-9.8 5.7z" color="#042ee2"/>
<path d="M315.4 2056.4l9.8 -5.6l9.7 1.7l-9.8 5.6z" color="#0054f7"/>
<path d="M325.2 2050.8l9.8 -5.5l9.7 1.6l-9.8 5.5z" color="#0079ec"/>
<path d="M335 2045.3l9.8 -5.4l9.7 1.6l-9.8 5.4z" color="#009ce1"/>
<path d="M344.8 2039.9l9.8 -5.3l9.7 1.5l-9.8 5.3z" color="#00b2c6"/>
<path d="M354.7 2034.7l9.8 -5.2l9.7 1.4l-9.8 5.2z" color="#00c6aa"/>
<path d="M364.5 2029.5l9.8 -5.1l9.7 1.4l-9.8 5.1z" color="#00ca90"/>
<path d="M374.3 2024.5l9.8 -5l9.7 1.3l-9.8 5z" color="#00cc80"/>
<path d="M384.1 2019.5l9.8 -4.9l9.7 1.3l-9.8 4.9z" color="#00ce70"/>
<path d="M393.9 2014.6l9.8 -4.7l9.7 1.2l-9.8 4.8z" color="#00cf61"/>
<path d="M403.7 2009.9l9.8 -4.6l9.7 1.1l-9.8 4.7z" color="#02d151"/>
<path d="M413.5 2005.3l9.8 -4.5l9.7 1.1l-9.8 4.6z" color="#07d23e"/>
<path d="M423.3 2000.7l9.8 -4.4l9.7 1l-9.8 4.5z" color="#0cd42d"/>
<path d="M433.1 1996.3l9.8 -4.3l9.7 0.9l-9.8 4.4z" color="#11d61b"/>
<path d="M442.9 1991.9l9.8 -4.2l9.7 0.8l-9.8 4.3z" color="#15d70a"/>
<path d="M452.7 1987.7l9.8 -4.1l9.6 0.8l-9.8 4.2z" color="#22d900"/>
<path d="M462.5 1983.6l9.8 -4l9.6 0.7l-9.8 4.1z" color="#38da00"/>
<path d="M472.3 1979.6l9.8 -3.9l9.6 0.6l-9.8 4z" color="#4edb00"/>
<path d="M482.1 1975.6l9.8 -3.8l9.6 0.5l-9.8 3.9z" color="#64dc00"/>
<path d="M491.9 1971.8l9.8 -3.7l9.6 0.4l-9.8 3.8z" color="#79de00"/>
<path d="M501.7 1968.1l9.8 -3.6l9.6 0.3l-9.8 3.7z" color="#8edf00"/>
<path d="M256.6 2083.9l9.8 -6.1l9.7 1.9l-9.8 6.1z" color="#3f00b0"/>
<path d="M266.5 2077.8l9.8 -6l9.7 1.8l-9.8 6z" color="#2604bb"/>
<path d="M276.3 2071.9l9.8 -5.8l9.7 1.8l-9.8 5.9z" color="#0c07c6"/>
<path d="M286.1 2066l9.8 -5.7l9.7 1.8l-9.8 5.8z" color="#0522d9"/>
<path d="M295.9 2060.3l9.8 -5.6l9.7 1.7l-9.8 5.7z" color="#0147f2"/>
<path d="M305.7 2054.7l9.8 -5.5l9.7 1.7l-9.8 5.6z" color="#006def"/>
<path d="M315.5 2049.1l9.8 -5.4l9.7 1.6l-9.8 5.5z" color="#0091e4"/>
<path d="M325.3 2043.7l9.8 -5.3l9.7 1.5l-9.8 5.4z" color="#00accf"/>
<path d="M335.1 2038.4l9.8 -5.2l9.7 1.5l-9.8 5.3z" color="#00c0b3"/>
<path d="M344.9 2033.2l9.8 -5.1l9.7 1.4l-9.8 5.2z" color="#00ca97"/>
<path d="M354.8 2028.1l9.8 -5l9.7 1.4l-9.8 5.1z" color="#00cc85"/>
<path d="M364.6 2023.1l9.8 -4.9l9.7 1.3l-9.8 5z" color="#00cd75"/>
<path d="M374.4 2018.2l9.8 -4.8l9.7 1.2l-9.8 4.9z" color="#00cf66"/>
<path d="M384.2 2013.4l9.8 -4.7l9.7 1.2l-9.8 4.7z" color="#00d056"/>
<path d="M394 2008.7l9.8 -4.6l9.7 1.1l-9.8 4.6z" color="#05d244"/>
<path d="M403.8 2004.1l9.8 -4.5l9.7 1l-9.8 4.5z" color="#0ad332"/>
<path d="M413.6 1999.7l9.8 -4.4l9.7 1l-9.8 4.4z" color="#0fd521"/>
<path d="M423.4 1995.3l9.8 -4.3l9.7 0.9l-9.8 4.3z" color="#14d70f"/>
<path d="M433.2 1991l9.8 -4.2l9.7 0.8l-9.8 4.2z" color="#1ad800"/>
<path d="M443.1 1986.9l9.8 -4l9.7 0.7l-9.8 4.1z" color="#31d900"/>
<path d="M452.9 1982.8l9.8 -3.9l9.6 0.7l-9.8 4z" color="#47db00"/>
<path d="M462.7 1978.9l9.8 -3.8l9.6 0.6l-9.8 3.9z" color="#5ddc00"/>
<path d="M472.5 1975l9.8 -3.7l9.6 0.5l-9.8 3.8z" color="#72dd00"/>
<path d="M482.3 1971.3l9.8 -3.6l9.6 0.4l-9.8 3.7z" color="#87df00"/>
<path d="M492.1 1967.7l9.8 -3.5l9.6 0.3l-9.8 3.6z" color="#9ce000"/>
<path d="M246.9 2082l9.8 -6l9.7 1.9l-9.8 6.1z" color="#2e03b8"/>
<path d="M256.7 2076l9.8 -5.9l9.7 1.8l-9.8 6z" color="#1506c3"/>
<path d="M266.5 2070.1l9.8 -5.8l9.7 1.8l-9.8 5.8z" color="#0616d1"/>
<path d="M276.3 2064.3l9.8 -5.7l9.7 1.7l-9.8 5.7z" color="#023bea"/>
<path d="M286.2 2058.6l9.8 -5.6l9.7 1.7l-9.8 5.6z" color="#0062f3"/>
<path d="M296 2053l9.8 -5.5l9.7 1.6l-9.8 5.5z" color="#0086e8"/>
<path d="M305.8 2047.5l9.8 -5.4l9.7 1.6l-9.8 5.4z" color="#00a5d8"/>
<path d="M315.6 2042.1l9.8 -5.3l9.7 1.5l-9.8 5.3z" color="#00babc"/>
<path d="M325.4 2036.9l9.8 -5.2l9.7 1.5l-9.8 5.2z" color="#00c9a0"/>
<path d="M335.2 2031.7l9.8 -5l9.7 1.4l-9.8 5.1z" color="#00cb8a"/>
<path d="M345.1 2026.7l9.8 -4.9l9.7 1.4l-9.8 5z" color="#00cd7a"/>
<path d="M354.9 2021.7l9.8 -4.8l9.7 1.3l-9.8 4.9z" color="#00ce6a"/>
<path d="M364.7 2016.9l9.8 -4.7l9.7 1.2l-9.8 4.8z" color="#00d05b"/>
<path d="M374.5 2012.2l9.8 -4.6l9.7 1.2l-9.8 4.7z" color="#04d14a"/>
<path d="M384.3 2007.5l9.8 -4.5l9.7 1.1l-9.8 4.6z" color="#09d338"/>
<path d="M394.1 2003l9.8 -4.4l9.7 1l-9.8 4.5z" color="#0ed526"/>
<path d="M404 1998.6l9.8 -4.3l9.7 1l-9.8 4.4z" color="#12d615"/>
<path d="M413.8 1994.3l9.8 -4.2l9.7 0.9l-9.8 4.3z" color="#17d803"/>
<path d="M423.6 1990.1l9.8 -4.1l9.7 0.8l-9.8 4.2z" color="#2ad900"/>
<path d="M433.4 1986.1l9.8 -4l9.6 0.7l-9.8 4z" color="#40da00"/>
<path d="M443.2 1982.1l9.8 -3.9l9.6 0.7l-9.8 3.9z" color="#56dc00"/>
<path d="M453 1978.2l9.8 -3.8l9.6 0.6l-9.8 3.8z" color="#6cdd00"/>
<path d="M462.9 1974.5l9.8 -3.7l9.6 0.5l-9.8 3.7z" color="#81de00"/>
<path d="M472.7 1970.8l9.8 -3.5l9.6 0.4l-9.8 3.6z" color="#96df00"/>
<path d="M482.5 1967.3l9.8 -3.4l9.6 0.3l-9.8 3.5z" color="#abe100"/>
<path d="M237.1 2080.1l9.8 -6l9.7 1.9l-9.8 6z" color="#1d05bf"/>
<path d="M247 2074.1l9.8 -5.9l9.7 1.8l-9.8 5.9z" color="#080ccb"/>
<path d="M256.8 2068.2l9.8 -5.8l9.7 1.8l-9.8 5.8z" color="#0430e2"/>
<path d="M266.6 2062.5l9.8 -5.6l9.7 1.7l-9.8 5.7z" color="#0056f6"/>
<path d="M276.4 2056.8l9.8 -5.5l9.7 1.7l-9.8 5.6z" color="#007beb"/>
<path d="M286.3 2051.3l9.8 -5.4l9.7 1.6l-9.8 5.5z" color="#009ee1"/>
<path d="M296.1 2045.9l9.8 -5.3l9.7 1.6l-9.8 5.4z" color="#00b3c5"/>
<path d="M305.9 2040.5l9.8 -5.2l9.7 1.5l-9.8 5.3z" color="#00c8a9"/>
<path d="M315.7 2035.3l9.8 -5.1l9.7 1.5l-9.8 5.2z" color="#00cb8f"/>
<path d="M325.5 2030.2l9.8 -5l9.7 1.4l-9.8 5z" color="#00cc7f"/>
<path d="M335.4 2025.2l9.8 -4.9l9.7 1.4l-9.8 4.9z" color="#00ce6f"/>
<path d="M345.2 2020.4l9.8 -4.8l9.7 1.3l-9.8 4.8z" color="#00cf60"/>
<path d="M355 2015.6l9.8 -4.7l9.7 1.2l-9.8 4.7z" color="#02d14f"/>
<path d="M364.8 2010.9l9.8 -4.6l9.7 1.2l-9.8 4.6z" color="#07d23d"/>
<path d="M374.6 2006.4l9.8 -4.4l9.7 1.1l-9.8 4.5z" color="#0cd42b"/>
<path d="M384.5 2001.9l9.8 -4.3l9.7 1l-9.8 4.4z" color="#11d61a"/>
<path d="M394.3 1997.6l9.8 -4.2l9.7 1l-9.8 4.3z" color="#16d709"/>
<path d="M404.1 1993.4l9.8 -4.1l9.7 0.9l-9.8 4.2z" color="#23d900"/>
<path d="M413.9 1989.3l9.8 -4l9.7 0.8l-9.8 4.1z" color="#3ada00"/>
<path d="M423.7 1985.3l9.8 -3.9l9.7 0.7l-9.8 4z" color="#50db00"/>
<path d="M433.6 1981.4l9.8 -3.8l9.6 0.7l-9.8 3.9z" color="#65dd00"/>
<path d="M443.4 1977.6l9.8 -3.7l9.6 0.6l-9.8 3.8z" color="#7ade00"/>
<path d="M453.2 1973.9l9.8 -3.6l9.6 0.5l-9.8 3.7z" color="#8fdf00"/>
<path d="M463 1970.3l9.8 -3.5l9.6 0.4l-9.8 3.5z" color="#a4e000"/>
<path d="M472.9 1966.9l9.8 -3.3l9.6 0.3l-9.8 3.4z" color="#bae100"/>
<path d="M227.4 2078.2l9.8 -5.9l9.7 1.9l-9.8 6z" color="#0c07c6"/>
<path d="M237.2 2072.2l9.8 -5.8l9.7 1.8l-9.8 5.9z" color="#0524da"/>
<path d="M247.1 2066.4l9.8 -5.7l9.7 1.8l-9.8 5.8z" color="#0149f3"/>
<path d="M256.9 2060.7l9.8 -5.6l9.7 1.7l-9.8 5.6z" color="#006fef"/>
<path d="M266.7 2055.1l9.8 -5.5l9.7 1.7l-9.8 5.5z" color="#0093e4"/>
<path d="M276.5 2049.6l9.8 -5.4l9.7 1.6l-9.8 5.4z" color="#00adce"/>
<path d="M286.4 2044.2l9.8 -5.3l9.7 1.6l-9.8 5.3z" color="#00c1b1"/>
<path d="M296.2 2039l9.8 -5.2l9.7 1.5l-9.8 5.2z" color="#00ca95"/>
<path d="M306 2033.8l9.8 -5l9.7 1.5l-9.8 5.1z" color="#00cc84"/>
<path d="M315.8 2028.8l9.8 -4.9l9.7 1.4l-9.8 5z" color="#00cd74"/>
<path d="M325.7 2023.8l9.8 -4.8l9.7 1.3l-9.8 4.9z" color="#00cf64"/>
<path d="M335.5 2019l9.8 -4.7l9.7 1.3l-9.8 4.8z" color="#01d055"/>
<path d="M345.3 2014.3l9.8 -4.6l9.7 1.2l-9.8 4.7z" color="#06d242"/>
<path d="M355.1 2009.7l9.8 -4.5l9.7 1.2l-9.8 4.6z" color="#0bd430"/>
<path d="M365 2005.2l9.8 -4.4l9.7 1.1l-9.8 4.4z" color="#10d51f"/>
<path d="M374.8 2000.9l9.8 -4.3l9.7 1l-9.8 4.3z" color="#14d70e"/>
<path d="M384.6 1996.6l9.8 -4.2l9.7 0.9l-9.8 4.2z" color="#1dd800"/>
<path d="M394.4 1992.4l9.8 -4l9.7 0.9l-9.8 4.1z" color="#33da00"/>
<path d="M404.3 1988.4l9.8 -3.9l9.7 0.8l-9.8 4z" color="#49db00"/>
<path d="M414.1 1984.5l9.8 -3.8l9.6 0.7l-9.8 3.9z" color="#5fdc00"/>
<path d="M423.9 1980.6l9.8 -3.7l9.6 0.6l-9.8 3.8z" color="#74dd00"/>
<path d="M433.7 1976.9l9.8 -3.6l9.6 0.6l-9.8 3.7z" color="#89df00"/>
<path d="M443.6 1973.3l9.8 -3.5l9.6 0.5l-9.8 3.6z" color="#9ee000"/>
<path d="M453.4 1969.9l9.8 -3.4l9.6 0.4l-9.8 3.5z" color="#b4e100"/>
<path d="M463.2 1966.5l9.8 -3.3l9.6 0.3l-9.8 3.3z" color="#c9e200"/>
<path d="M217.6 2076.3l9.8 -5.9l9.7 1.8l-9.8 5.9z" color="#0617d2"/>
<path d="M227.5 2070.4l9.8 -5.8l9.7 1.8l-9.8 5.8z" color="#023deb"/>
<path d="M237.3 2064.6l9.8 -5.7l9.7 1.8l-9.8 5.7z" color="#0064f2"/>
<path d="M247.1 2059l9.8 -5.6l9.7 1.7l-9.8 5.6z" color="#0088e7"/>
<path d="M257 2053.4l9.8 -5.4l9.7 1.7l-9.8 5.5z" color="#00a7d6"/>
<path d="M266.8 2048l9.8 -5.3l9.7 1.6l-9.8 5.4z" color="#00bbba"/>
<path d="M276.6 2042.6l9.8 -5.2l9.7 1.6l-9.8 5.3z" color="#00c99d"/>
<path d="M286.5 2037.4l9.8 -5.1l9.7 1.5l-9.8 5.2z" color="#00cb88"/>
<path d="M296.3 2032.3l9.8 -5l9.7 1.5l-9.8 5z" color="#00cd78"/>
<path d="M306.1 2027.3l9.8 -4.9l9.7 1.4l-9.8 4.9z" color="#00ce69"/>
<path d="M316 2022.5l9.8 -4.8l9.7 1.3l-9.8 4.8z" color="#00d05a"/>
<path d="M325.8 2017.7l9.8 -4.6l9.7 1.3l-9.8 4.7z" color="#04d148"/>
<path d="M335.6 2013l9.8 -4.5l9.7 1.2l-9.8 4.6z" color="#09d336"/>
<path d="M345.5 2008.5l9.8 -4.4l9.7 1.1l-9.8 4.5z" color="#0ed524"/>
<path d="M355.3 2004.1l9.8 -4.3l9.7 1.1l-9.8 4.4z" color="#13d613"/>
<path d="M365.1 1999.8l9.8 -4.2l9.7 1l-9.8 4.3z" color="#18d801"/>
<path d="M374.9 1995.6l9.8 -4.1l9.7 0.9l-9.8 4.2z" color="#2dd900"/>
<path d="M384.8 1991.5l9.8 -4l9.7 0.9l-9.8 4z" color="#43db00"/>
<path d="M394.6 1987.5l9.8 -3.9l9.7 0.8l-9.8 3.9z" color="#59dc00"/>
<path d="M404.4 1983.7l9.8 -3.7l9.6 0.7l-9.8 3.8z" color="#6edd00"/>
<path d="M414.3 1979.9l9.8 -3.6l9.6 0.6l-9.8 3.7z" color="#83de00"/>
<path d="M424.1 1976.3l9.8 -3.5l9.6 0.5l-9.8 3.6z" color="#98e000"/>
<path d="M433.9 1972.8l9.8 -3.4l9.6 0.5l-9.8 3.5z" color="#ade100"/>
<path d="M443.8 1969.4l9.8 -3.3l9.6 0.4l-9.8 3.4z" color="#c3e200"/>
<path d="M453.6 1966.1l9.8 -3.2l9.6 0.3l-9.8 3.3z" color="#d8e300"/>
<path d="M207.9 2074.4l9.8 -5.9l9.7 1.8l-9.8 5.9z" color="#0331e3"/>
<path d="M217.7 2068.6l9.8 -5.7l9.7 1.8l-9.8 5.8z" color="#0058f6"/>
<path d="M227.6 2062.8l9.8 -5.6l9.7 1.7l-9.8 5.7z" color="#007deb"/>
<path d="M237.4 2057.2l9.8 -5.5l9.7 1.7l-9.8 5.6z" color="#00a0df"/>
<path d="M247.2 2051.7l9.8 -5.4l9.7 1.7l-9.8 5.4z" color="#00b5c3"/>
<path d="M257.1 2046.3l9.8 -5.3l9.7 1.6l-9.8 5.3z" color="#00c8a6"/>
<path d="M266.9 2041l9.8 -5.2l9.7 1.6l-9.8 5.2z" color="#00cb8d"/>
<path d="M276.8 2035.9l9.8 -5l9.7 1.5l-9.8 5.1z" color="#00cc7d"/>
<path d="M286.6 2030.8l9.8 -4.9l9.7 1.4l-9.8 5z" color="#00ce6d"/>
<path d="M296.4 2025.9l9.8 -4.8l9.7 1.4l-9.8 4.9z" color="#00cf5e"/>
<path d="M306.3 2021.1l9.8 -4.7l9.7 1.3l-9.8 4.8z" color="#03d14d"/>
<path d="M316.1 2016.4l9.8 -4.6l9.7 1.3l-9.8 4.6z" color="#08d33b"/>
<path d="M325.9 2011.8l9.8 -4.5l9.7 1.2l-9.8 4.5z" color="#0dd429"/>
<path d="M335.8 2007.3l9.8 -4.4l9.7 1.1l-9.8 4.4z" color="#12d617"/>
<path d="M345.6 2003l9.8 -4.2l9.7 1.1l-9.8 4.3z" color="#16d706"/>
<path d="M355.4 1998.7l9.8 -4.1l9.7 1l-9.8 4.2z" color="#26d900"/>
<path d="M365.3 1994.6l9.8 -4l9.7 0.9l-9.8 4.1z" color="#3dda00"/>
<path d="M375.1 1990.6l9.8 -3.9l9.7 0.9l-9.8 4z" color="#53db00"/>
<path d="M384.9 1986.7l9.8 -3.8l9.7 0.8l-9.8 3.9z" color="#68dd00"/>
<path d="M394.8 1982.9l9.8 -3.7l9.6 0.7l-9.8 3.7z" color="#7dde00"/>
<path d="M404.6 1979.2l9.8 -3.5l9.6 0.6l-9.8 3.6z" color="#92df00"/>
<path d="M414.5 1975.7l9.8 -3.4l9.6 0.5l-9.8 3.5z" color="#a7e000"/>
<path d="M424.3 1972.3l9.8 -3.3l9.6 0.5l-9.8 3.4z" color="#bde100"/>
<path d="M434.1 1968.9l9.8 -3.2l9.6 0.4l-9.8 3.3z" color="#d2e300"/>
<path d="M444 1965.7l9.8 -3.1l9.6 0.3l-9.8 3.2z" color="#e7e400"/>
<path d="M198.2 2072.6l9.8 -5.8l9.7 1.8l-9.8 5.9z" color="#014bf5"/>
<path d="M208 2066.7l9.8 -5.7l9.7 1.8l-9.8 5.7z" color="#0071ee"/>
<path d="M217.8 2061l9.8 -5.6l9.7 1.7l-9.8 5.6z" color="#0096e3"/>
<path d="M227.7 2055.5l9.8 -5.5l9.7 1.7l-9.8 5.5z" color="#00afcb"/>
<path d="M237.5 2050l9.8 -5.3l9.7 1.6l-9.8 5.4z" color="#00c3af"/>
<path d="M247.4 2044.7l9.8 -5.2l9.7 1.6l-9.8 5.3z" color="#00ca92"/>
<path d="M257.2 2039.4l9.8 -5.1l9.7 1.5l-9.8 5.2z" color="#00cc82"/>
<path d="M267 2034.3l9.8 -5l9.7 1.5l-9.8 5z" color="#00cd72"/>
<path d="M276.9 2029.3l9.8 -4.9l9.7 1.4l-9.8 4.9z" color="#00cf62"/>
<path d="M286.7 2024.5l9.8 -4.8l9.7 1.4l-9.8 4.8z" color="#02d152"/>
<path d="M296.6 2019.7l9.8 -4.6l9.7 1.3l-9.8 4.7z" color="#07d240"/>
<path d="M306.4 2015.1l9.8 -4.5l9.7 1.3l-9.8 4.6z" color="#0bd42e"/>
<path d="M316.2 2010.5l9.8 -4.4l9.7 1.2l-9.8 4.5z" color="#10d51c"/>
<path d="M326.1 2006.1l9.8 -4.3l9.7 1.1l-9.8 4.4z" color="#15d70b"/>
<path d="M335.9 2001.8l9.8 -4.2l9.7 1.1l-9.8 4.2z" color="#20d800"/>
<path d="M345.8 1997.7l9.8 -4.1l9.7 1l-9.8 4.1z" color="#37da00"/>
<path d="M355.6 1993.6l9.8 -3.9l9.7 0.9l-9.8 4z" color="#4ddb00"/>
<path d="M365.4 1989.7l9.8 -3.8l9.7 0.8l-9.8 3.9z" color="#62dc00"/>
<path d="M375.3 1985.8l9.8 -3.7l9.7 0.8l-9.8 3.8z" color="#78de00"/>
<path d="M385.1 1982.1l9.8 -3.6l9.6 0.7l-9.8 3.7z" color="#8cdf00"/>
<path d="M395 1978.5l9.8 -3.5l9.6 0.6l-9.8 3.5z" color="#a1e000"/>
<path d="M404.8 1975.1l9.8 -3.4l9.6 0.5l-9.8 3.4z" color="#b7e100"/>
<path d="M414.7 1971.7l9.8 -3.2l9.6 0.4l-9.8 3.3z" color="#cde200"/>
<path d="M424.5 1968.5l9.8 -3.1l9.6 0.4l-9.8 3.2z" color="#e2e300"/>
<path d="M434.3 1965.4l9.8 -3l9.6 0.3l-9.8 3.1z" color="#f1de00"/>
<path d="M188.4 2070.7l9.8 -5.8l9.7 1.8l-9.8 5.8z" color="#0066f1"/>
<path d="M198.2 2064.9l9.8 -5.7l9.7 1.8l-9.8 5.7z" color="#008be6"/>
<path d="M208.1 2059.3l9.8 -5.5l9.7 1.7l-9.8 5.6z" color="#00a9d4"/>
<path d="M217.9 2053.7l9.8 -5.4l9.7 1.7l-9.8 5.5z" color="#00bdb7"/>
<path d="M227.8 2048.3l9.8 -5.3l9.7 1.6l-9.8 5.3z" color="#00c99a"/>
<path d="M237.6 2043l9.8 -5.2l9.7 1.6l-9.8 5.2z" color="#00cb87"/>
<path d="M247.5 2037.9l9.8 -5.1l9.7 1.5l-9.8 5.1z" color="#00cd77"/>
<path d="M257.3 2032.8l9.8 -4.9l9.7 1.5l-9.8 5z" color="#00cf67"/>
<path d="M267.2 2027.9l9.8 -4.8l9.7 1.4l-9.8 4.9z" color="#00d057"/>
<path d="M277 2023l9.8 -4.7l9.7 1.4l-9.8 4.8z" color="#05d245"/>
<path d="M286.9 2018.3l9.8 -4.6l9.7 1.3l-9.8 4.6z" color="#0ad333"/>
<path d="M296.7 2013.7l9.8 -4.5l9.7 1.2l-9.8 4.5z" color="#0fd521"/>
<path d="M306.6 2009.3l9.8 -4.3l9.7 1.2l-9.8 4.4z" color="#14d710"/>
<path d="M316.4 2004.9l9.8 -4.2l9.7 1.1l-9.8 4.3z" color="#1ad800"/>
<path d="M326.2 2000.7l9.8 -4.1l9.7 1l-9.8 4.2z" color="#31d900"/>
<path d="M336.1 1996.6l9.8 -4l9.7 1l-9.8 4.1z" color="#47db00"/>
<path d="M345.9 1992.6l9.8 -3.9l9.7 0.9l-9.8 3.9z" color="#5ddc00"/>
<path d="M355.8 1988.8l9.8 -3.7l9.7 0.8l-9.8 3.8z" color="#72dd00"/>
<path d="M365.6 1985l9.8 -3.6l9.7 0.8l-9.8 3.7z" color="#87df00"/>
<path d="M375.5 1981.4l9.8 -3.5l9.7 0.7l-9.8 3.6z" color="#9be000"/>
<path d="M385.3 1977.9l9.8 -3.4l9.6 0.6l-9.8 3.5z" color="#b1e100"/>
<path d="M395.2 1974.5l9.8 -3.3l9.6 0.5l-9.8 3.4z" color="#c7e200"/>
<path d="M405 1971.2l9.8 -3.2l9.6 0.4l-9.8 3.2z" color="#dce300"/>
<path d="M414.9 1968.1l9.8 -3l9.6 0.4l-9.8 3.1z" color="#f0e300"/>
<path d="M424.7 1965l9.8 -2.9l9.6 0.3l-9.8 3z" color="#f4cf00"/>
<path d="M178.6 2068.9l9.9 -5.7l9.7 1.8l-9.8 5.8z" color="#007fea"/>
<path d="M188.5 2063.1l9.9 -5.6l9.7 1.8l-9.8 5.7z" color="#00a2dd"/>
<path d="M198.4 2057.5l9.9 -5.5l9.7 1.7l-9.8 5.5z" color="#00b7c0"/>
<path d="M208.2 2052l9.9 -5.4l9.7 1.7l-9.8 5.4z" color="#00c8a3"/>
<path d="M218.1 2046.7l9.9 -5.2l9.7 1.6l-9.8 5.3z" color="#00cb8b"/>
<path d="M227.9 2041.4l9.9 -5.1l9.7 1.6l-9.8 5.2z" color="#00cc7b"/>
<path d="M237.8 2036.3l9.9 -5l9.7 1.5l-9.8 5.1z" color="#00ce6b"/>
<path d="M247.6 2031.3l9.9 -4.9l9.7 1.5l-9.8 4.9z" color="#00d05c"/>
<path d="M257.5 2026.4l9.9 -4.8l9.7 1.4l-9.8 4.8z" color="#04d14a"/>
<path d="M267.3 2021.6l9.9 -4.6l9.7 1.4l-9.8 4.7z" color="#09d338"/>
<path d="M277.2 2017l9.9 -4.5l9.7 1.3l-9.8 4.6z" color="#0ed526"/>
<path d="M287 2012.5l9.9 -4.4l9.7 1.2l-9.8 4.5z" color="#12d614"/>
<path d="M296.9 2008.1l9.9 -4.3l9.7 1.2l-9.8 4.3z" color="#17d803"/>
<path d="M306.7 2003.8l9.9 -4.2l9.7 1.1l-9.8 4.2z" color="#2bd900"/>
<path d="M316.6 1999.6l9.9 -4l9.7 1l-9.8 4.1z" color="#41da00"/>
<path d="M326.4 1995.6l9.9 -3.9l9.7 1l-9.8 4z" color="#57dc00"/>
<path d="M336.3 1991.7l9.9 -3.8l9.7 0.9l-9.8 3.9z" color="#6cdd00"/>
<path d="M346.1 1987.9l9.9 -3.7l9.7 0.8l-9.8 3.7z" color="#82de00"/>
<path d="M356 1984.2l9.9 -3.6l9.7 0.7l-9.8 3.6z" color="#96df00"/>
<path d="M365.8 1980.6l9.9 -3.4l9.6 0.7l-9.8 3.5z" color="#ace100"/>
<path d="M375.7 1977.2l9.9 -3.3l9.6 0.6l-9.8 3.4z" color="#c2e200"/>
<path d="M385.5 1973.9l9.9 -3.2l9.6 0.5l-9.8 3.3z" color="#d7e300"/>
<path d="M395.4 1970.7l9.9 -3.1l9.6 0.4l-9.8 3.2z" color="#ece400"/>
<path d="M405.2 1967.6l9.9 -2.9l9.6 0.3l-9.8 3z" color="#f3d400"/>
<path d="M415.1 1964.7l9.9 -2.8l9.6 0.3l-9.8 2.9z" color="#f6c000"/>
<path d="M168.9 2067l9.9 -5.7l9.7 1.8l-9.9 5.7z" color="#0099e2"/>
<path d="M178.8 2061.3l9.9 -5.6l9.7 1.8l-9.9 5.6z" color="#00b1c9"/>
<path d="M188.6 2055.8l9.9 -5.4l9.7 1.7l-9.9 5.5z" color="#00c5ac"/>
<path d="M198.5 2050.3l9.9 -5.3l9.7 1.7l-9.9 5.4z" color="#00ca90"/>
<path d="M208.3 2045l9.9 -5.2l9.7 1.6l-9.9 5.2z" color="#00cc80"/>
<path d="M218.2 2039.8l9.9 -5.1l9.7 1.6l-9.9 5.1z" color="#00ce70"/>
<path d="M228 2034.7l9.9 -5l9.7 1.5l-9.9 5z" color="#00cf60"/>
<path d="M237.9 2029.8l9.9 -4.8l9.7 1.5l-9.9 4.9z" color="#02d14f"/>
<path d="M247.7 2024.9l9.9 -4.7l9.7 1.4l-9.9 4.8z" color="#07d23d"/>
<path d="M257.6 2020.2l9.9 -4.6l9.7 1.3l-9.9 4.6z" color="#0cd42b"/>
<path d="M267.5 2015.6l9.9 -4.5l9.7 1.3l-9.9 4.5z" color="#11d619"/>
<path d="M277.3 2011.2l9.9 -4.3l9.7 1.2l-9.9 4.4z" color="#16d708"/>
<path d="M287.2 2006.8l9.9 -4.2l9.7 1.2l-9.9 4.3z" color="#25d900"/>
<path d="M297 2002.6l9.9 -4.1l9.7 1.1l-9.9 4.2z" color="#3bda00"/>
<path d="M306.9 1998.5l9.9 -4l9.7 1l-9.9 4z" color="#51db00"/>
<path d="M316.7 1994.6l9.9 -3.8l9.7 1l-9.9 3.9z" color="#67dd00"/>
<path d="M326.6 1990.7l9.9 -3.7l9.7 0.9l-9.9 3.8z" color="#7cde00"/>
<path d="M336.5 1987l9.9 -3.6l9.7 0.8l-9.9 3.7z" color="#91df00"/>
<path d="M346.3 1983.4l9.9 -3.5l9.7 0.7l-9.9 3.6z" color="#a6e000"/>
<path d="M356.2 1979.9l9.9 -3.4l9.7 0.7l-9.9 3.4z" color="#bce100"/>
<path d="M366 1976.5l9.9 -3.2l9.6 0.6l-9.9 3.3z" color="#d2e200"/>
<path d="M375.9 1973.3l9.9 -3.1l9.6 0.5l-9.9 3.2z" color="#e7e400"/>
<path d="M385.7 1970.2l9.9 -3l9.6 0.4l-9.9 3.1z" color="#f2d900"/>
<path d="M395.6 1967.2l9.9 -2.9l9.6 0.3l-9.9 2.9z" color="#f6c500"/>
<path d="M405.4 1964.3l9.9 -2.7l9.6 0.2l-9.9 2.8z" color="#f9b100"/>
<path d="M159.1 2065.2l9.9 -5.7l9.7 1.8l-9.9 5.7z" color="#00aad2"/>
<path d="M169 2059.5l9.9 -5.5l9.7 1.7l-9.9 5.6z" color="#00bfb4"/>
<path d="M178.9 2054l9.9 -5.4l9.7 1.7l-9.9 5.4z" color="#00ca97"/>
<path d="M188.7 2048.6l9.9 -5.3l9.7 1.7l-9.9 5.3z" color="#00cc84"/>
<path d="M198.6 2043.3l9.9 -5.2l9.7 1.6l-9.9 5.2z" color="#00cd74"/>
<path d="M208.5 2038.2l9.9 -5l9.7 1.6l-9.9 5.1z" color="#00cf65"/>
<path d="M218.3 2033.2l9.9 -4.9l9.7 1.5l-9.9 5z" color="#01d054"/>
<path d="M228.2 2028.3l9.9 -4.8l9.7 1.4l-9.9 4.8z" color="#06d242"/>
<path d="M238 2023.5l9.9 -4.7l9.7 1.4l-9.9 4.7z" color="#0bd430"/>
<path d="M247.9 2018.8l9.9 -4.5l9.7 1.3l-9.9 4.6z" color="#10d51e"/>
<path d="M257.8 2014.3l9.9 -4.4l9.7 1.3l-9.9 4.5z" color="#15d70c"/>
<path d="M267.6 2009.9l9.9 -4.3l9.7 1.2l-9.9 4.3z" color="#1fd800"/>
<path d="M277.5 2005.6l9.9 -4.2l9.7 1.1l-9.9 4.2z" color="#36da00"/>
<path d="M287.3 2001.5l9.9 -4l9.7 1.1l-9.9 4.1z" color="#4cdb00"/>
<path d="M297.2 1997.4l9.9 -3.9l9.7 1l-9.9 4z" color="#62dc00"/>
<path d="M307.1 1993.5l9.9 -3.8l9.7 0.9l-9.9 3.8z" color="#77de00"/>
<path d="M316.9 1989.8l9.9 -3.7l9.7 0.9l-9.9 3.7z" color="#8cdf00"/>
<path d="M326.8 1986.1l9.9 -3.5l9.7 0.8l-9.9 3.6z" color="#a1e000"/>
<path d="M336.6 1982.6l9.9 -3.4l9.7 0.7l-9.9 3.5z" color="#b7e100"/>
<path d="M346.5 1979.2l9.9 -3.3l9.6 0.6l-9.9 3.4z" color="#cde200"/>
<path d="M356.4 1975.9l9.9 -3.2l9.6 0.6l-9.9 3.2z" color="#e2e300"/>
<path d="M366.2 1972.7l9.9 -3l9.6 0.5l-9.9 3.1z" color="#f1dd00"/>
<path d="M376.1 1969.7l9.9 -2.9l9.6 0.4l-9.9 3z" color="#f5c900"/>
<path d="M386 1966.8l9.9 -2.8l9.6 0.3l-9.9 2.9z" color="#f8b600"/>
<path d="M395.8 1964l9.9 -2.7l9.6 0.2l-9.9 2.7z" color="#fca200"/>
<path d="M149.4 2063.4l9.9 -5.6l9.7 1.8l-9.9 5.7z" color="#00b9bd"/>
<path d="M159.3 2057.8l9.9 -5.5l9.7 1.7l-9.9 5.5z" color="#00c9a0"/>
<path d="M169.1 2052.3l9.9 -5.4l9.7 1.7l-9.9 5.4z" color="#00cb89"/>
<path d="M179 2046.9l9.9 -5.2l9.7 1.6l-9.9 5.3z" color="#00cd79"/>
<path d="M188.9 2041.7l9.9 -5.1l9.7 1.6l-9.9 5.2z" color="#00ce69"/>
<path d="M198.7 2036.6l9.9 -5l9.7 1.5l-9.9 5z" color="#00d059"/>
<path d="M208.6 2031.6l9.9 -4.8l9.7 1.5l-9.9 4.9z" color="#05d247"/>
<path d="M218.5 2026.8l9.9 -4.7l9.7 1.4l-9.9 4.8z" color="#0ad334"/>
<path d="M228.3 2022l9.9 -4.6l9.7 1.4l-9.9 4.7z" color="#0fd522"/>
<path d="M238.2 2017.4l9.9 -4.5l9.7 1.3l-9.9 4.5z" color="#13d611"/>
<path d="M248.1 2013l9.9 -4.3l9.7 1.3l-9.9 4.4z" color="#19d800"/>
<path d="M257.9 2008.6l9.9 -4.2l9.7 1.2l-9.9 4.3z" color="#30d900"/>
<path d="M267.8 2004.4l9.9 -4.1l9.7 1.1l-9.9 4.2z" color="#46db00"/>
<path d="M277.7 2000.3l9.9 -4l9.7 1.1l-9.9 4z" color="#5cdc00"/>
<path d="M287.5 1996.4l9.9 -3.8l9.7 1l-9.9 3.9z" color="#72dd00"/>
<path d="M297.4 1992.5l9.9 -3.7l9.7 0.9l-9.9 3.8z" color="#87df00"/>
<path d="M307.3 1988.8l9.9 -3.6l9.7 0.9l-9.9 3.7z" color="#9ce000"/>
<path d="M317.1 1985.2l9.9 -3.5l9.7 0.8l-9.9 3.5z" color="#b2e100"/>
<path d="M327 1981.8l9.9 -3.3l9.7 0.7l-9.9 3.4z" color="#c8e200"/>
<path d="M336.9 1978.5l9.9 -3.2l9.6 0.6l-9.9 3.3z" color="#dde300"/>
<path d="M346.7 1975.3l9.9 -3.1l9.6 0.6l-9.9 3.2z" color="#f0e200"/>
<path d="M356.6 1972.2l9.9 -2.9l9.6 0.5l-9.9 3z" color="#f4ce00"/>
<path d="M366.5 1969.2l9.9 -2.8l9.6 0.4l-9.9 2.9z" color="#f8ba00"/>
<path d="M376.3 1966.4l9.9 -2.7l9.6 0.3l-9.9 2.8z" color="#fba700"/>
<path d="M386.2 1963.7l9.9 -2.6l9.6 0.2l-9.9 2.7z" color="#fe9400"/>
<path d="M139.7 2061.6l9.9 -5.6l9.7 1.8l-9.9 5.6z" color="#00c7a9"/>
<path d="M149.5 2056l9.9 -5.4l9.7 1.7l-9.9 5.5z" color="#00cb8e"/>
<path d="M159.4 2050.6l9.9 -5.3l9.7 1.7l-9.9 5.4z" color="#00cc7e"/>
<path d="M169.3 2045.3l9.9 -5.2l9.7 1.6l-9.9 5.2z" color="#00ce6d"/>
<path d="M179.1 2040.1l9.9 -5.1l9.7 1.6l-9.9 5.1z" color="#00cf5e"/>
<path d="M189 2035l9.9 -4.9l9.7 1.5l-9.9 5z" color="#03d14c"/>
<path d="M198.9 2030.1l9.9 -4.8l9.7 1.5l-9.9 4.8z" color="#08d339"/>
<path d="M208.7 2025.3l9.9 -4.7l9.7 1.4l-9.9 4.7z" color="#0dd427"/>
<path d="M218.6 2020.6l9.9 -4.5l9.7 1.4l-9.9 4.6z" color="#12d615"/>
<path d="M228.5 2016.1l9.9 -4.4l9.7 1.3l-9.9 4.5z" color="#17d804"/>
<path d="M238.4 2011.7l9.9 -4.3l9.7 1.3l-9.9 4.3z" color="#2ad900"/>
<path d="M248.2 2007.4l9.9 -4.2l9.7 1.2l-9.9 4.2z" color="#41da00"/>
<path d="M258.1 2003.2l9.9 -4l9.7 1.1l-9.9 4.1z" color="#57dc00"/>
<path d="M268 1999.2l9.9 -3.9l9.7 1.1l-9.9 4z" color="#6ddd00"/>
<path d="M277.8 1995.3l9.9 -3.8l9.7 1l-9.9 3.8z" color="#82de00"/>
<path d="M287.7 1991.5l9.9 -3.6l9.7 0.9l-9.9 3.7z" color="#97df00"/>
<path d="M297.6 1987.9l9.9 -3.5l9.7 0.9l-9.9 3.6z" color="#ade100"/>
<path d="M307.5 1984.4l9.9 -3.4l9.7 0.8l-9.9 3.5z" color="#c3e200"/>
<path d="M317.3 1981l9.9 -3.3l9.7 0.7l-9.9 3.3z" color="#d9e300"/>
<path d="M327.2 1977.7l9.9 -3.1l9.6 0.6l-9.9 3.2z" color="#eee400"/>
<path d="M337.1 1974.6l9.9 -3l9.6 0.6l-9.9 3.1z" color="#f3d200"/>
<path d="M346.9 1971.6l9.9 -2.9l9.6 0.5l-9.9 2.9z" color="#f7be00"/>
<path d="M356.8 1968.8l9.9 -2.7l9.6 0.4l-9.9 2.8z" color="#faaa00"/>
<path d="M366.7 1966l9.9 -2.6l9.6 0.3l-9.9 2.7z" color="#fe9800"/>
<path d="M376.6 1963.4l9.9 -2.5l9.6 0.2l-9.9 2.6z" color="#ff8200"/>
<path d="M129.9 2059.8l9.9 -5.5l9.7 1.8l-9.9 5.6z" color="#00ca94"/>
<path d="M139.8 2054.3l9.9 -5.4l9.7 1.7l-9.9 5.4z" color="#00cc82"/>
<path d="M149.7 2048.9l9.9 -5.3l9.7 1.7l-9.9 5.3z" color="#00cd72"/>
<path d="M159.5 2043.6l9.9 -5.1l9.7 1.6l-9.9 5.2z" color="#00cf62"/>
<path d="M169.4 2038.4l9.9 -5l9.7 1.6l-9.9 5.1z" color="#02d151"/>
<path d="M179.3 2033.4l9.9 -4.9l9.7 1.5l-9.9 4.9z" color="#07d23e"/>
<path d="M189.2 2028.6l9.9 -4.7l9.7 1.5l-9.9 4.8z" color="#0cd42c"/>
<path d="M199 2023.8l9.9 -4.6l9.7 1.4l-9.9 4.7z" color="#11d61a"/>
<path d="M208.9 2019.2l9.9 -4.5l9.7 1.4l-9.9 4.5z" color="#16d708"/>
<path d="M218.8 2014.7l9.9 -4.4l9.7 1.3l-9.9 4.4z" color="#25d900"/>
<path d="M228.7 2010.4l9.9 -4.2l9.7 1.2l-9.9 4.3z" color="#3bda00"/>
<path d="M238.5 2006.1l9.9 -4.1l9.7 1.2l-9.9 4.2z" color="#52db00"/>
<path d="M248.4 2002l9.9 -4l9.7 1.1l-9.9 4z" color="#68dd00"/>
<path d="M258.3 1998.1l9.9 -3.8l9.7 1.1l-9.9 3.9z" color="#7ede00"/>
<path d="M268.2 1994.3l9.9 -3.7l9.7 1l-9.9 3.8z" color="#93df00"/>
<path d="M278 1990.6l9.9 -3.6l9.7 0.9l-9.9 3.6z" color="#a8e000"/>
<path d="M287.9 1987l9.9 -3.4l9.7 0.8l-9.9 3.5z" color="#bee200"/>
<path d="M297.8 1983.5l9.9 -3.3l9.7 0.8l-9.9 3.4z" color="#d4e300"/>
<path d="M307.7 1980.2l9.9 -3.2l9.7 0.7l-9.9 3.3z" color="#e9e400"/>
<path d="M317.5 1977.1l9.9 -3l9.7 0.6l-9.9 3.1z" color="#f3d600"/>
<path d="M327.4 1974l9.9 -2.9l9.6 0.5l-9.9 3z" color="#f6c200"/>
<path d="M337.3 1971.1l9.9 -2.8l9.6 0.5l-9.9 2.9z" color="#faae00"/>
<path d="M347.2 1968.3l9.9 -2.7l9.6 0.4l-9.9 2.7z" color="#fd9b00"/>
<path d="M357 1965.6l9.9 -2.5l9.6 0.3l-9.9 2.6z" color="#ff8600"/>
<path d="M366.9 1963.1l9.9 -2.4l9.6 0.2l-9.9 2.5z" color="#ff6f00"/>
<path d="M120.2 2058l9.9 -5.5l9.7 1.7l-9.9 5.5z" color="#00cb87"/>
<path d="M130 2052.5l9.9 -5.4l9.7 1.7l-9.9 5.4z" color="#00cd77"/>
<path d="M139.9 2047.2l9.9 -5.2l9.7 1.7l-9.9 5.3z" color="#00cf67"/>
<path d="M149.8 2041.9l9.9 -5.1l9.7 1.6l-9.9 5.1z" color="#00d056"/>
<path d="M159.7 2036.8l9.9 -5l9.7 1.6l-9.9 5z" color="#06d243"/>
<path d="M169.6 2031.9l9.9 -4.8l9.7 1.5l-9.9 4.9z" color="#0bd431"/>
<path d="M179.4 2027.1l9.9 -4.7l9.7 1.5l-9.9 4.7z" color="#10d51e"/>
<path d="M189.3 2022.4l9.9 -4.6l9.7 1.4l-9.9 4.6z" color="#15d70d"/>
<path d="M199.2 2017.8l9.9 -4.4l9.7 1.4l-9.9 4.5z" color="#1fd800"/>
<path d="M209.1 2013.4l9.9 -4.3l9.7 1.3l-9.9 4.4z" color="#36da00"/>
<path d="M219 2009.1l9.9 -4.2l9.7 1.2l-9.9 4.2z" color="#4ddb00"/>
<path d="M228.8 2004.9l9.9 -4l9.7 1.2l-9.9 4.1z" color="#63dc00"/>
<path d="M238.7 2000.9l9.9 -3.9l9.7 1.1l-9.9 4z" color="#79de00"/>
<path d="M248.6 1997l9.9 -3.8l9.7 1l-9.9 3.8z" color="#8edf00"/>
<path d="M258.5 1993.2l9.9 -3.6l9.7 1l-9.9 3.7z" color="#a3e000"/>
<path d="M268.4 1989.6l9.9 -3.5l9.7 0.9l-9.9 3.6z" color="#bae100"/>
<path d="M278.2 1986.1l9.9 -3.4l9.7 0.8l-9.9 3.4z" color="#d0e200"/>
<path d="M288.1 1982.7l9.9 -3.2l9.7 0.8l-9.9 3.3z" color="#e5e300"/>
<path d="M298 1979.5l9.9 -3.1l9.7 0.7l-9.9 3.2z" color="#f2da00"/>
<path d="M307.9 1976.4l9.9 -3l9.6 0.6l-9.9 3z" color="#f5c600"/>
<path d="M317.8 1973.4l9.9 -2.8l9.6 0.5l-9.9 2.9z" color="#f9b200"/>
<path d="M327.7 1970.6l9.9 -2.7l9.6 0.4l-9.9 2.8z" color="#fc9f00"/>
<path d="M337.5 1967.8l9.9 -2.6l9.6 0.4l-9.9 2.7z" color="#ff8b00"/>
<path d="M347.4 1965.3l9.9 -2.4l9.6 0.3l-9.9 2.5z" color="#ff7300"/>
<path d="M357.3 1962.8l9.9 -2.3l9.6 0.2l-9.9 2.4z" color="#ff5c00"/>
<path d="M110.4 2056.2l9.9 -5.4l9.7 1.7l-9.9 5.5z" color="#00cc7c"/>
<path d="M120.3 2050.8l9.9 -5.3l9.7 1.7l-9.9 5.4z" color="#00ce6b"/>
<path d="M130.2 2045.5l9.9 -5.2l9.7 1.6l-9.9 5.2z" color="#00d05b"/>
<path d="M140.1 2040.3l9.9 -5l9.7 1.6l-9.9 5.1z" color="#04d148"/>
<path d="M149.9 2035.2l9.9 -4.9l9.7 1.6l-9.9 5z" color="#09d336"/>
<path d="M159.8 2030.3l9.9 -4.8l9.7 1.5l-9.9 4.8z" color="#0ed523"/>
<path d="M169.7 2025.5l9.9 -4.6l9.7 1.5l-9.9 4.7z" color="#13d611"/>
<path d="M179.6 2020.9l9.9 -4.5l9.7 1.4l-9.9 4.6z" color="#19d800"/>
<path d="M189.5 2016.4l9.9 -4.4l9.7 1.3l-9.9 4.4z" color="#30d900"/>
<path d="M199.4 2012l9.9 -4.2l9.7 1.3l-9.9 4.3z" color="#47db00"/>
<path d="M209.3 2007.8l9.9 -4.1l9.7 1.2l-9.9 4.2z" color="#5edc00"/>
<path d="M219.1 2003.7l9.9 -4l9.7 1.2l-9.9 4z" color="#74dd00"/>
<path d="M229 1999.7l9.9 -3.8l9.7 1.1l-9.9 3.9z" color="#89df00"/>
<path d="M238.9 1995.9l9.9 -3.7l9.7 1l-9.9 3.8z" color="#9ee000"/>
<path d="M248.8 1992.2l9.9 -3.6l9.7 1l-9.9 3.6z" color="#b5e100"/>
<path d="M258.7 1988.6l9.9 -3.4l9.7 0.9l-9.9 3.5z" color="#cbe200"/>
<path d="M268.6 1985.2l9.9 -3.3l9.7 0.8l-9.9 3.4z" color="#e1e300"/>
<path d="M278.5 1981.9l9.9 -3.2l9.7 0.8l-9.9 3.2z" color="#f1de00"/>
<path d="M288.3 1978.7l9.9 -3l9.7 0.7l-9.9 3.1z" color="#f5c900"/>
<path d="M298.2 1975.7l9.9 -2.9l9.6 0.6l-9.9 3z" color="#f8b500"/>
<path d="M308.1 1972.8l9.9 -2.8l9.6 0.5l-9.9 2.8z" color="#fca200"/>
<path d="M318 1970l9.9 -2.6l9.6 0.4l-9.9 2.7z" color="#ff8f00"/>
<path d="M327.9 1967.4l9.9 -2.5l9.6 0.4l-9.9 2.6z" color="#ff7700"/>
<path d="M337.8 1964.9l9.9 -2.4l9.6 0.3l-9.9 2.4z" color="#ff6000"/>
<path d="M347.7 1962.6l9.9 -2.2l9.6 0.2l-9.9 2.3z" color="#ff4900"/>
<path d="M100.7 2054.5l9.9 -5.4l9.7 1.7l-9.9 5.4z" color="#00ce70"/>
<path d="M110.5 2049l9.9 -5.3l9.7 1.7l-9.9 5.3z" color="#00cf5f"/>
<path d="M120.4 2043.8l9.9 -5.1l9.7 1.6l-9.9 5.2z" color="#03d14e"/>
<path d="M130.3 2038.6l9.9 -5l9.7 1.6l-9.9 5z" color="#08d33b"/>
<path d="M140.2 2033.6l9.9 -4.9l9.7 1.5l-9.9 4.9z" color="#0dd428"/>
<path d="M150.1 2028.8l9.9 -4.7l9.7 1.5l-9.9 4.8z" color="#12d616"/>
<path d="M160 2024.1l9.9 -4.6l9.7 1.4l-9.9 4.6z" color="#17d804"/>
<path d="M169.9 2019.5l9.9 -4.5l9.7 1.4l-9.9 4.5z" color="#2bd900"/>
<path d="M179.8 2015l9.9 -4.3l9.7 1.3l-9.9 4.4z" color="#42da00"/>
<path d="M189.7 2010.7l9.9 -4.2l9.7 1.3l-9.9 4.2z" color="#59dc00"/>
<path d="M199.6 2006.5l9.9 -4l9.7 1.2l-9.9 4.1z" color="#6fdd00"/>
<path d="M209.5 2002.5l9.9 -3.9l9.7 1.2l-9.9 4z" color="#85de00"/>
<path d="M219.3 1998.6l9.9 -3.8l9.7 1.1l-9.9 3.8z" color="#9ae000"/>
<path d="M229.2 1994.8l9.9 -3.6l9.7 1l-9.9 3.7z" color="#b0e100"/>
<path d="M239.1 1991.2l9.9 -3.5l9.7 1l-9.9 3.6z" color="#c7e200"/>
<path d="M249 1987.7l9.9 -3.4l9.7 0.9l-9.9 3.4z" color="#dde300"/>
<path d="M258.9 1984.3l9.9 -3.2l9.7 0.8l-9.9 3.3z" color="#f0e200"/>
<path d="M268.8 1981.1l9.9 -3.1l9.7 0.7l-9.9 3.2z" color="#f4cd00"/>
<path d="M278.7 1978l9.9 -3l9.7 0.7l-9.9 3z" color="#f8b900"/>
<path d="M288.6 1975l9.9 -2.8l9.7 0.6l-9.9 2.9z" color="#fba500"/>
<path d="M298.5 1972.2l9.9 -2.7l9.6 0.5l-9.9 2.8z" color="#ff9200"/>
<path d="M308.4 1969.5l9.9 -2.5l9.6 0.4l-9.9 2.6z" color="#ff7b00"/>
<path d="M318.3 1967l9.9 -2.4l9.6 0.3l-9.9 2.5z" color="#ff6300"/>
<path d="M328.1 1964.6l9.9 -2.3l9.6 0.3l-9.9 2.4z" color="#ff4d00"/>
<path d="M338 1962.3l9.9 -2.1l9.6 0.2l-9.9 2.2z" color="#ff3700"/>
<path d="M90.9 2052.7l9.9 -5.4l9.7 1.7l-9.9 5.4z" color="#00cf64"/>
<path d="M100.8 2047.3l9.9 -5.2l9.7 1.7l-9.9 5.3z" color="#01d053"/>
<path d="M110.7 2042.1l9.9 -5.1l9.7 1.6l-9.9 5.1z" color="#07d240"/>
<path d="M120.6 2037l9.9 -5l9.7 1.6l-9.9 5z" color="#0cd42d"/>
<path d="M130.5 2032.1l9.9 -4.8l9.7 1.5l-9.9 4.9z" color="#11d61a"/>
<path d="M140.4 2027.2l9.9 -4.7l9.7 1.5l-9.9 4.7z" color="#16d708"/>
<path d="M150.3 2022.6l9.9 -4.5l9.7 1.4l-9.9 4.6z" color="#25d900"/>
<path d="M160.2 2018l9.9 -4.4l9.7 1.4l-9.9 4.5z" color="#3cda00"/>
<path d="M170.1 2013.6l9.9 -4.3l9.7 1.3l-9.9 4.3z" color="#53db00"/>
<path d="M180 2009.4l9.9 -4.1l9.7 1.3l-9.9 4.2z" color="#6add00"/>
<path d="M189.9 2005.3l9.9 -4l9.7 1.2l-9.9 4z" color="#80de00"/>
<path d="M199.8 2001.3l9.9 -3.8l9.7 1.1l-9.9 3.9z" color="#96df00"/>
<path d="M209.7 1997.4l9.9 -3.7l9.7 1.1l-9.9 3.8z" color="#ace100"/>
<path d="M219.5 1993.7l9.9 -3.6l9.7 1l-9.9 3.6z" color="#c2e200"/>
<path d="M229.4 1990.1l9.9 -3.4l9.7 0.9l-9.9 3.5z" color="#d9e300"/>
<path d="M239.3 1986.7l9.9 -3.3l9.7 0.9l-9.9 3.4z" color="#eee400"/>
<path d="M249.2 1983.4l9.9 -3.2l9.7 0.8l-9.9 3.2z" color="#f3d100"/>
<path d="M259.1 1980.3l9.9 -3l9.7 0.7l-9.9 3.1z" color="#f7bc00"/>
<path d="M269 1977.2l9.9 -2.9l9.7 0.7l-9.9 3z" color="#fba900"/>
<path d="M278.9 1974.4l9.9 -2.7l9.6 0.6l-9.9 2.8z" color="#fe9500"/>
<path d="M288.8 1971.6l9.9 -2.6l9.6 0.5l-9.9 2.7z" color="#ff7e00"/>
<path d="M298.7 1969l9.9 -2.5l9.6 0.4l-9.9 2.5z" color="#ff6700"/>
<path d="M308.6 1966.6l9.9 -2.3l9.6 0.3l-9.9 2.4z" color="#ff5000"/>
<path d="M318.5 1964.2l9.9 -2.2l9.6 0.3l-9.9 2.3z" color="#ff3a00"/>
<path d="M328.4 1962l9.9 -2l9.6 0.2l-9.9 2.1z" color="#ff2400"/>
</g>
<path d="M90.9 2052.7L139.7 2061.6L188.4 2070.7L237.1 2080.1L285.9 2089.7M100.8 2047.3L149.5 2056L198.2 2064.9L247 2074.1L295.7 2083.5M110.7 2042.1L159.4 2050.6L208.1 2059.3L256.8 2068.2L305.5 2077.4M120.6 2037L169.3 2045.3L217.9 2053.7L266.6 2062.5L315.3 2071.5M130.5 2032.1L179.1 2040.1L227.8 2048.3L276.4 2056.8L325.1 2065.6M140.4 2027.2L189 2035L237.6 2043L286.3 2051.3L334.9 2059.8M150.3 2022.6L198.9 2030.1L247.5 2037.9L296.1 2045.9L344.7 2054.1M160.2 2018L208.7 2025.3L257.3 2032.8L305.9 2040.5L354.5 2048.6M170.1 2013.6L218.6 2020.6L267.2 2027.9L315.7 2035.3L364.3 2043.1M180 2009.4L228.5 2016.1L277 2023L325.5 2030.2L374.1 2037.7M189.9 2005.3L238.4 2011.7L286.9 2018.3L335.4 2025.2L383.9 2032.4M199.8 2001.3L248.2 2007.4L296.7 2013.7L345.2 2020.4L393.7 2027.2M209.7 1997.4L258.1 2003.2L306.6 2009.3L355 2015.6L403.5 2022.2M219.5 1993.7L268 1999.2L316.4 2004.9L364.8 2010.9L413.2 2017.2M229.4 1990.1L277.8 1995.3L326.2 2000.7L374.6 2006.4L423 2012.3M239.3 1986.7L287.7 1991.5L336.1 1996.6L384.5 2001.9L432.8 2007.5M249.2 1983.4L297.6 1987.9L345.9 1992.6L394.3 1997.6L442.6 2002.8M259.1 1980.3L307.5 1984.4L355.8 1988.8L404.1 1993.4L452.4 1998.3M269 1977.2L317.3 1981L365.6 1985L413.9 1989.3L462.2 1993.8M278.9 1974.4L327.2 1977.7L375.5 1981.4L423.7 1985.3L472 1989.4M288.8 1971.6L337.1 1974.6L385.3 1977.9L433.6 1981.4L481.8 1985.1M298.7 1969L346.9 1971.6L395.2 1974.5L443.4 1977.6L491.6 1980.9M308.6 1966.6L356.8 1968.8L405 1971.2L453.2 1973.9L501.4 1976.8M318.5 1964.2L366.7 1966L414.9 1968.1L463 1970.3L511.2 1972.9M328.4 1962L376.6 1963.4L424.7 1965L472.9 1966.9L521 1969M338.3 1960L386.4 1960.9L434.5 1962.1L482.7 1963.5L530.8 1965.2M90.9 2052.7L111.5 2041.7L132.1 2031.2L152.8 2021.4L173.4 2012.2L194 2003.6L214.6 1995.5L235.2 1988.1L255.8 1981.3L276.5 1975.1L297.1 1969.5L317.7 1964.4L338.3 1960M100.7 2054.5L121.3 2043.3L141.9 2032.8L162.5 2022.9L183.1 2013.6L203.7 2004.8L224.3 1996.7L244.9 1989.1L265.5 1982.1L286.1 1975.8L306.7 1970L327.3 1964.8L347.9 1960.2M110.4 2056.2L131 2045L151.6 2034.4L172.2 2024.4L192.8 2014.9L213.4 2006.1L234 1997.8L254.6 1990.1L275.2 1983L295.8 1976.4L316.4 1970.5L337 1965.1L357.6 1960.3M120.2 2058L140.7 2046.7L161.3 2036L181.9 2025.9L202.5 2016.3L223.1 2007.3L243.7 1998.9L264.2 1991.1L284.8 1983.8L305.4 1977.1L326 1971L346.6 1965.5L367.2 1960.5M129.9 2059.8L150.5 2048.4L171 2037.6L191.6 2027.4L212.2 2017.7L232.8 2008.6L253.4 2000L273.9 1992.1L294.5 1984.7L315.1 1977.8L335.7 1971.6L356.2 1965.9L376.8 1960.7M139.7 2061.6L160.2 2050.1L180.8 2039.2L201.3 2028.9L221.9 2019.1L242.5 2009.9L263 2001.2L283.6 1993.1L304.2 1985.5L324.7 1978.6L345.3 1972.1L365.9 1966.2L386.4 1960.9M149.4 2063.4L170 2051.8L190.5 2040.8L211.1 2030.4L231.6 2020.5L252.2 2011.2L272.7 2002.4L293.3 1994.1L313.8 1986.4L334.4 1979.3L354.9 1972.7L375.5 1966.6L396.1 1961.1M159.1 2065.2L179.7 2053.6L200.2 2042.5L220.8 2031.9L241.3 2021.9L261.9 2012.5L282.4 2003.5L303 1995.1L323.5 1987.3L344 1980L364.6 1973.3L385.1 1967L405.7 1961.4M168.9 2067L189.4 2055.3L210 2044.1L230.5 2033.5L251 2023.3L271.6 2013.8L292.1 2004.7L312.6 1996.2L333.2 1988.2L353.7 1980.8L374.2 1973.8L394.8 1967.5L415.3 1961.6M178.6 2068.9L199.2 2057.1L219.7 2045.8L240.2 2035L260.7 2024.8L281.3 2015.1L301.8 2005.9L322.3 1997.2L342.8 1989.1L363.4 1981.5L383.9 1974.4L404.4 1967.9L424.9 1961.8M188.4 2070.7L208.9 2058.8L229.4 2047.4L249.9 2036.6L270.4 2026.2L291 2016.4L311.5 2007.1L332 1998.3L352.5 1990L373 1982.3L393.5 1975L414 1968.3L434.5 1962.1M198.2 2072.6L218.7 2060.6L239.2 2049.1L259.7 2038.1L280.2 2027.7L300.7 2017.7L321.2 2008.3L341.7 1999.4L362.2 1991L382.7 1983.1L403.2 1975.6L423.7 1968.8L444.2 1962.4M207.9 2074.4L228.4 2062.4L248.9 2050.8L269.4 2039.7L289.9 2029.2L310.4 2019.1L330.8 2009.5L351.3 2000.5L371.8 1991.9L392.3 1983.8L412.8 1976.3L433.3 1969.2L453.8 1962.6M217.6 2076.3L238.1 2064.1L258.6 2052.5L279.1 2041.3L299.6 2030.6L320.1 2020.5L340.5 2010.8L361 2001.6L381.5 1992.8L402 1984.6L422.5 1976.9L442.9 1969.7L463.4 1962.9M227.4 2078.2L247.9 2065.9L268.3 2054.2L288.8 2042.9L309.3 2032.1L329.8 2021.8L350.2 2012L370.7 2002.7L391.2 1993.8L411.6 1985.4L432.1 1977.5L452.6 1970.1L473 1963.2M237.1 2080.1L257.6 2067.7L278.1 2055.9L298.5 2044.5L319 2033.6L339.5 2023.2L359.9 2013.2L380.4 2003.8L400.8 1994.8L421.3 1986.2L441.8 1978.2L462.2 1970.6L482.7 1963.5M246.9 2082L267.3 2069.6L287.8 2057.6L308.2 2046.1L328.7 2035.1L349.1 2024.6L369.6 2014.5L390.1 2004.9L410.5 1995.8L430.9 1987.1L451.4 1978.9L471.9 1971.1L492.3 1963.8M256.6 2083.9L277.1 2071.4L297.5 2059.4L318 2047.8L338.4 2036.7L358.8 2026L379.3 2015.8L399.7 2006L420.2 1996.7L440.6 1987.9L461 1979.5L481.5 1971.6L501.9 1964.2M266.4 2085.8L286.8 2073.2L307.3 2061.1L327.7 2049.4L348.1 2038.2L368.5 2027.4L389 2017.1L409.4 2007.2L429.8 1997.7L450.3 1988.8L470.7 1980.2L491.1 1972.1L511.5 1964.5M276.1 2087.8L296.6 2075.1L317 2062.9L337.4 2051.1L357.8 2039.7L378.2 2028.8L398.7 2018.3L419.1 2008.3L439.5 1998.7L459.9 1989.6L480.3 1980.9L500.8 1972.7L521.2 1964.8M285.9 2089.7L306.3 2076.9L326.7 2064.6L347.1 2052.7L367.5 2041.3L387.9 2030.2L408.3 2019.6L428.8 2009.5L449.2 1999.8L469.6 1990.5L490 1981.6L510.4 1973.2L530.8 1965.2" fill="none" stroke="#000" stroke-opacity="0.7" stroke-width="1.4"/>
<line x1="338.8" y1="2237" x2="338.5" y2="1958.6" stroke="#3a3a3a" stroke-width="1.0"/>
<line x1="76.7" y1="1892.6" x2="338.5" y2="1958.6" stroke="#1c1c1c" stroke-width="1.3"/>
<line x1="338.5" y1="1958.6" x2="544" y2="1875" stroke="#1c1c1c" stroke-width="1.3"/>
<text x="49.8" y="1918.2" font-size="20.5" text-anchor="middle" fill="#111">60</text>
<text x="50.8" y="2028.7" font-size="20.5" text-anchor="middle" fill="#111">50</text>
<text x="51.8" y="2138.3" font-size="20.5" text-anchor="middle" fill="#111">40</text>
<text x="61.7" y="2188.9" font-size="20.5" text-anchor="middle" fill="#111">60</text>
<text x="122.8" y="2203.3" font-size="20.5" text-anchor="middle" fill="#111">70</text>
<text x="184.2" y="2218.3" font-size="20.5" text-anchor="middle" fill="#111">80</text>
<text x="245.4" y="2233.2" font-size="20.5" text-anchor="middle" fill="#111">90</text>
<text x="303.8" y="2247.3" font-size="20.5" text-anchor="middle" fill="#111">100</text>
<text x="383.4" y="2246.5" font-size="20.5" text-anchor="middle" fill="#111">23.2</text>
<text x="431.5" y="2227.9" font-size="20.5" text-anchor="middle" fill="#111">26.5</text>
<text x="481" y="2208.3" font-size="20.5" text-anchor="middle" fill="#111">29.8</text>
<text x="528.1" y="2189.7" font-size="20.5" text-anchor="middle" fill="#111">33.1</text>
<text x="579.1" y="2170.3" font-size="20.5" text-anchor="middle" fill="#111">36.4</text>
<text x="22.5" y="2044.5" font-size="19" fill="#2c3a52" stroke="#2c3a52" stroke-width="0.15" text-anchor="middle" transform="rotate(-90 22.5 2044.5)" textLength="88" lengthAdjust="spacingAndGlyphs">&#945;<tspan font-size="13" dy="2">Si(cm)</tspan><tspan dy="-2"> , %</tspan></text>
<text x="36.4" y="2308" font-size="11" text-anchor="middle" fill="#46608a">Y</text>
<line x1="733.3" y1="1805" x2="733.3" y2="2266.3" stroke="#868686" stroke-width="1.5"/>
<line x1="671.6" y1="1862.7" x2="1165" y2="1862.7" stroke="#262626" stroke-width="1.5"/>
<line x1="795" y1="1805" x2="795" y2="2266.3" stroke="#262626" stroke-width="1.5"/>
<line x1="671.6" y1="1920.3" x2="1165" y2="1920.3" stroke="#262626" stroke-width="1.5"/>
<line x1="856.6" y1="1805" x2="856.6" y2="2266.3" stroke="#3c3c3c" stroke-width="1.5"/>
<line x1="671.6" y1="1978" x2="1165" y2="1978" stroke="#262626" stroke-width="1.5"/>
<line x1="918.3" y1="1805" x2="918.3" y2="2266.3" stroke="#262626" stroke-width="1.5"/>
<line x1="671.6" y1="2035.7" x2="1165" y2="2035.7" stroke="#262626" stroke-width="1.5"/>
<line x1="980" y1="1805" x2="980" y2="2266.3" stroke="#6a6a6a" stroke-width="1.5"/>
<line x1="671.6" y1="2093.3" x2="1165" y2="2093.3" stroke="#262626" stroke-width="1.5"/>
<line x1="1041.7" y1="1805" x2="1041.7" y2="2266.3" stroke="#262626" stroke-width="1.5"/>
<line x1="671.6" y1="2151" x2="1165" y2="2151" stroke="#262626" stroke-width="1.5"/>
<line x1="1103.3" y1="1805" x2="1103.3" y2="2266.3" stroke="#868686" stroke-width="1.5"/>
<line x1="671.6" y1="2208.6" x2="1165" y2="2208.6" stroke="#262626" stroke-width="1.5"/>
<line x1="671.6" y1="1804.5" x2="671.6" y2="2272.3" stroke="#1c1c1c" stroke-width="1.65"/>
<line x1="1165" y1="1804.5" x2="1165" y2="2272.3" stroke="#1c1c1c" stroke-width="1.6"/>
<line x1="665.6" y1="1805" x2="1165.7" y2="1805" stroke="#1c1c1c" stroke-width="1.7"/>
<line x1="665.6" y1="2266.3" x2="1165.7" y2="2266.3" stroke="#1c1c1c" stroke-width="2.4"/>
<line x1="671.6" y1="2258.3" x2="671.6" y2="2272.3" stroke="#1c1c1c" stroke-width="1.3"/>
<line x1="664.6" y1="1805" x2="681.6" y2="1805" stroke="#1c1c1c" stroke-width="1.3"/>
<line x1="1155" y1="1805" x2="1165" y2="1805" stroke="#1c1c1c" stroke-width="1.3"/>
<line x1="795" y1="2258.3" x2="795" y2="2272.3" stroke="#1c1c1c" stroke-width="1.3"/>
<line x1="664.6" y1="1920.3" x2="681.6" y2="1920.3" stroke="#1c1c1c" stroke-width="1.3"/>
<line x1="1155" y1="1920.3" x2="1165" y2="1920.3" stroke="#1c1c1c" stroke-width="1.3"/>
<line x1="918.3" y1="2258.3" x2="918.3" y2="2272.3" stroke="#1c1c1c" stroke-width="1.3"/>
<line x1="664.6" y1="2035.7" x2="681.6" y2="2035.7" stroke="#1c1c1c" stroke-width="1.3"/>
<line x1="1155" y1="2035.7" x2="1165" y2="2035.7" stroke="#1c1c1c" stroke-width="1.3"/>
<line x1="1041.7" y1="2258.3" x2="1041.7" y2="2272.3" stroke="#1c1c1c" stroke-width="1.3"/>
<line x1="664.6" y1="2151" x2="681.6" y2="2151" stroke="#1c1c1c" stroke-width="1.3"/>
<line x1="1155" y1="2151" x2="1165" y2="2151" stroke="#1c1c1c" stroke-width="1.3"/>
<line x1="1165" y1="2258.3" x2="1165" y2="2272.3" stroke="#1c1c1c" stroke-width="1.3"/>
<line x1="664.6" y1="2266.3" x2="681.6" y2="2266.3" stroke="#1c1c1c" stroke-width="1.3"/>
<line x1="1155" y1="2266.3" x2="1165" y2="2266.3" stroke="#1c1c1c" stroke-width="1.3"/>
<clipPath id="cl1805"><rect x="671.6" y="1805" width="493.4" height="461.3"/></clipPath>
<g clip-path="url(#cl1805)">
<path d="M670.5 1940.3L747.8 1803.2" fill="none" stroke="#2e2e2e" stroke-width="1.05" stroke-linejoin="round"/>
<path d="M670.3 2162L679.5 2147.1L688.7 2132.1L697.9 2117.2L707 2102.2L716.1 2087.2L725.2 2072.3L734.2 2057.3L743.2 2042.4L752.1 2027.5L761 2012.5L769.9 1997.5L778.7 1982.6L787.5 1967.7L796.3 1952.7L805 1937.8L813.7 1922.8L822.3 1907.8L830.9 1892.9L839.5 1878L848.1 1863L856.6 1848L865 1833.1L873.5 1818.2L881.8 1803.2" fill="none" stroke="#2e2e2e" stroke-width="1.05" stroke-linejoin="round"/>
<path d="M749.6 2268L762.3 2248.6L774.9 2229.3L787.5 2209.9L800 2190.5L812.4 2171.2L824.7 2151.8L837 2132.4L849.2 2113.1L861.3 2093.7L873.3 2074.3L885.3 2055L897.2 2035.6L909 2016.2L920.7 1996.9L932.4 1977.5L944 1958.1L955.5 1938.8L966.9 1919.4L978.3 1900L989.6 1880.7L1000.8 1861.3L1012 1841.9L1023 1822.6L1034 1803.2" fill="none" stroke="#2e2e2e" stroke-width="1.05" stroke-linejoin="round"/>
<path d="M911 2268L922.2 2252L933.4 2236L944.5 2220L955.5 2204L966.5 2188L977.5 2172L988.4 2156L999.2 2140L1010 2124L1020.8 2108L1031.5 2092L1042.1 2076L1052.7 2060L1063.2 2044L1073.7 2028L1084.1 2012L1094.5 1996L1104.9 1980L1115.1 1964L1125.3 1948L1135.5 1932L1145.6 1916L1155.7 1900L1165.7 1884" fill="none" stroke="#2e2e2e" stroke-width="1.05" stroke-linejoin="round"/>
<path d="M1108 2268L1110.3 2265L1112.5 2261.9L1114.8 2258.9L1117.1 2255.8L1119.4 2252.8L1121.7 2249.8L1124.1 2246.7L1126.4 2243.7L1128.8 2240.6L1131.2 2237.6L1133.6 2234.5L1136 2231.5L1138.4 2228.5L1140.8 2225.4L1143.3 2222.4L1145.8 2219.3L1148.2 2216.3L1150.7 2213.2L1153.2 2210.2L1155.8 2207.2L1158.3 2204.1L1160.9 2201.1L1163.4 2198L1166 2195" fill="none" stroke="#2e2e2e" stroke-width="1.05" stroke-linejoin="round"/>
<text x="681.5" y="1932.6" font-size="20" text-anchor="middle" textLength="19.5" lengthAdjust="spacingAndGlyphs" fill="#111">40</text>
<text x="869" y="1831.6" font-size="20" text-anchor="middle" textLength="19.5" lengthAdjust="spacingAndGlyphs" fill="#111">45</text>
<text x="777.7" y="1993.9" font-size="20" text-anchor="middle" textLength="19.5" lengthAdjust="spacingAndGlyphs" fill="#111">45</text>
<text x="679" y="2160.6" font-size="20" text-anchor="middle" textLength="19.5" lengthAdjust="spacingAndGlyphs" fill="#111">45</text>
<text x="968" y="1926.9" font-size="20" text-anchor="middle" textLength="19.5" lengthAdjust="spacingAndGlyphs" fill="#111">50</text>
<text x="861.3" y="2101.6" font-size="20" text-anchor="middle" textLength="19.5" lengthAdjust="spacingAndGlyphs" fill="#111">50</text>
<text x="753.5" y="2265.1" font-size="20" text-anchor="middle" textLength="19.5" lengthAdjust="spacingAndGlyphs" fill="#111">50</text>
<text x="1130.5" y="1949" font-size="20" text-anchor="middle" textLength="19.5" lengthAdjust="spacingAndGlyphs" fill="#111">55</text>
<text x="1024" y="2109.6" font-size="20" text-anchor="middle" textLength="19.5" lengthAdjust="spacingAndGlyphs" fill="#111">55</text>
<text x="914" y="2265.1" font-size="20" text-anchor="middle" textLength="19.5" lengthAdjust="spacingAndGlyphs" fill="#111">55</text>
<text x="1112.5" y="2266.1" font-size="20" text-anchor="middle" textLength="19.5" lengthAdjust="spacingAndGlyphs" fill="#111">60</text>
</g>
<text x="673.4" y="2294.7" font-size="20" text-anchor="middle" textLength="19.8" lengthAdjust="spacingAndGlyphs" fill="#111">60</text>
<text x="797" y="2294.7" font-size="20" text-anchor="middle" textLength="19.8" lengthAdjust="spacingAndGlyphs" fill="#111">70</text>
<text x="920" y="2294.7" font-size="20" text-anchor="middle" textLength="19.8" lengthAdjust="spacingAndGlyphs" fill="#111">80</text>
<text x="1043.4" y="2294.7" font-size="20" text-anchor="middle" textLength="19.8" lengthAdjust="spacingAndGlyphs" fill="#111">90</text>
<text x="1168.2" y="2294.7" font-size="20" text-anchor="middle" textLength="29.5" lengthAdjust="spacingAndGlyphs" fill="#111">100</text>
<text x="663.9" y="1811.7" font-size="20" text-anchor="end" textLength="35" lengthAdjust="spacingAndGlyphs" fill="#111">36.4</text>
<text x="663.9" y="1927" font-size="20" text-anchor="end" textLength="35" lengthAdjust="spacingAndGlyphs" fill="#111">33.1</text>
<text x="663.9" y="2042.1" font-size="20" text-anchor="end" textLength="35" lengthAdjust="spacingAndGlyphs" fill="#111">29.8</text>
<text x="663.9" y="2157.3" font-size="20" text-anchor="end" textLength="35" lengthAdjust="spacingAndGlyphs" fill="#111">26.5</text>
<text x="663.9" y="2272.7" font-size="20" text-anchor="end" textLength="35" lengthAdjust="spacingAndGlyphs" fill="#111">23.2</text>
<rect x="619.5" y="944" width="13" height="25" fill="#fff" fill-opacity="0.72"/>
<rect x="599.5" y="1558" width="13" height="25" fill="#fff" fill-opacity="0.72"/>
</g>
<text x="124" y="478" font-size="30.5" textLength="96" lengthAdjust="spacingAndGlyphs" fill="#111">Coal, %</text>
<text x="458" y="478" font-size="30.5" textLength="152" lengthAdjust="spacingAndGlyphs" fill="#111">Quartzite, %</text>
<text x="641" y="546" font-size="43" text-anchor="middle" fill="#111">a</text>
<rect x="612" y="178" width="45.5" height="160" fill="#fff"/>
<text x="636" y="334.5" font-size="30.5" textLength="152" lengthAdjust="spacingAndGlyphs" fill="#111" transform="rotate(-90 636 334.5)">Quartzite, %</text>
<text x="1081" y="533.4" font-size="30.5" textLength="98" lengthAdjust="spacingAndGlyphs" fill="#111">Coal, %</text>
<text x="130" y="1063.6" font-size="30.5" textLength="98.5" lengthAdjust="spacingAndGlyphs" fill="#111">Coal, %</text>
<text x="472" y="1063.7" font-size="30.5" textLength="153.5" lengthAdjust="spacingAndGlyphs" fill="#111">Quartzite, %</text>
<text x="582" y="1138" font-size="43" text-anchor="middle" fill="#111">b</text>
<rect x="628" y="765" width="34.5" height="300" fill="#fff"/>
<text x="653" y="920.5" font-size="30.5" textLength="152" lengthAdjust="spacingAndGlyphs" fill="#111" transform="rotate(-90 653 920.5)">Quartzite, %</text>
<text x="1108" y="1119.5" font-size="30.5" textLength="99.5" lengthAdjust="spacingAndGlyphs" fill="#111">Coal, %</text>
<text x="113" y="1675.7" font-size="30.5" textLength="103" lengthAdjust="spacingAndGlyphs" fill="#111">Coal, %</text>
<text x="451.6" y="1692" font-size="30.5" textLength="160.2" lengthAdjust="spacingAndGlyphs" fill="#111">Quartzite, %</text>
<text x="603.5" y="1743.5" font-size="43" text-anchor="middle" fill="#111">c</text>
<text x="617.8" y="1525" font-size="30.5" textLength="152" lengthAdjust="spacingAndGlyphs" fill="#111" transform="rotate(-90 617.8 1525)">Quartzite, %</text>
<text x="1123.5" y="1731.2" font-size="30.5" textLength="102" lengthAdjust="spacingAndGlyphs" fill="#111">Coal, %</text>
<text x="1173.5" y="1669.5" font-size="23.5" textLength="61" lengthAdjust="spacingAndGlyphs" fill="#27374f">63.6%</text>
<text x="1179" y="1214" font-size="24" text-anchor="middle" fill="#141c33" font-style="italic" font-weight="bold">b</text>
<text x="1180" y="1465.5" font-size="24" text-anchor="middle" fill="#141c33" font-style="italic" font-weight="bold">c</text>
<text x="879.5" y="1692.5" font-size="24" text-anchor="middle" fill="#141c33" font-style="italic" font-weight="bold">a</text>
<text x="1021.5" y="1693" font-size="24" text-anchor="middle" fill="#141c33" font-style="italic" font-weight="bold">f</text>
<text x="1140" y="1693.5" font-size="24" text-anchor="middle" fill="#141c33" font-style="italic" font-weight="bold">d</text>
<text x="101.9" y="2264.5" font-size="30.5" textLength="95.7" lengthAdjust="spacingAndGlyphs" fill="#111">Coal, %</text>
<text x="434" y="2264.3" font-size="30.5" textLength="150" lengthAdjust="spacingAndGlyphs" fill="#111">Quartzite, %</text>
<text x="603.5" y="2356" font-size="43" text-anchor="middle" fill="#111">d</text>
<rect x="1030" y="2289.5" width="200" height="40" fill="#fff"/>
<text x="606.5" y="2115" font-size="30.5" textLength="152" lengthAdjust="spacingAndGlyphs" fill="#111" transform="rotate(-90 606.5 2115)">Quartzite, %</text>
<text x="1052" y="2320" font-size="30.5" textLength="97" lengthAdjust="spacingAndGlyphs" fill="#111">Coal, %</text>
</svg></body></html>
